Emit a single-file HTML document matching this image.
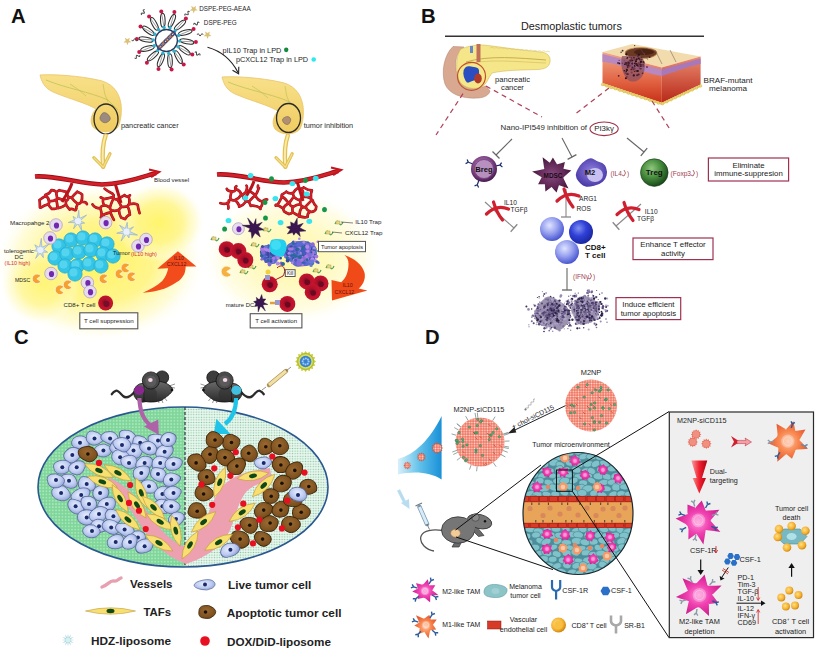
<!DOCTYPE html>
<html><head><meta charset="utf-8"><style>
html,body{margin:0;padding:0;background:#fff;}
body{width:819px;height:652px;overflow:hidden;}
svg{display:block;font-family:"Liberation Sans", sans-serif;}
</style></head><body>
<svg width="819" height="652" viewBox="0 0 819 652">
<defs>

<radialGradient id="glowA" cx="0.5" cy="0.5" r="0.5">
 <stop offset="0" stop-color="#fff460"/><stop offset="0.5" stop-color="#fff480" stop-opacity="0.9"/>
 <stop offset="0.8" stop-color="#fffac0" stop-opacity="0.6"/><stop offset="1" stop-color="#ffffff" stop-opacity="0"/>
</radialGradient>
<radialGradient id="glowB" cx="0.5" cy="0.5" r="0.5">
 <stop offset="0" stop-color="#fff7a0"/><stop offset="0.5" stop-color="#fffac8"/>
 <stop offset="0.8" stop-color="#fffde8"/><stop offset="1" stop-color="#ffffff" stop-opacity="0"/>
</radialGradient>
<radialGradient id="tcellR" cx="0.45" cy="0.45" r="0.6">
 <stop offset="0" stop-color="#7a0a20"/><stop offset="0.35" stop-color="#b0102a"/><stop offset="0.8" stop-color="#c8142e"/><stop offset="1" stop-color="#8a0a20"/>
</radialGradient>
<linearGradient id="orArrow" x1="0" y1="1" x2="1" y2="0">
 <stop offset="0" stop-color="#f86a20"/><stop offset="1" stop-color="#f03a10"/>
</linearGradient>
<linearGradient id="panc" x1="0" y1="0" x2="0" y2="1">
 <stop offset="0" stop-color="#f8e08a"/><stop offset="1" stop-color="#f0cc60"/>
</linearGradient>

<radialGradient id="bregG" cx="0.45" cy="0.4" r="0.6">
 <stop offset="0" stop-color="#c8a0c8"/><stop offset="0.55" stop-color="#8a5090"/><stop offset="1" stop-color="#4a1a50"/>
</radialGradient>
<radialGradient id="tregG" cx="0.4" cy="0.35" r="0.65">
 <stop offset="0" stop-color="#90c880"/><stop offset="0.5" stop-color="#4a9040"/><stop offset="1" stop-color="#1a4a1a"/>
</radialGradient>
<radialGradient id="mdscG" cx="0.5" cy="0.5" r="0.5">
 <stop offset="0" stop-color="#8a4a80"/><stop offset="1" stop-color="#4a1840"/>
</radialGradient>
<radialGradient id="m2G" cx="0.5" cy="0.45" r="0.55">
 <stop offset="0" stop-color="#9080e0"/><stop offset="1" stop-color="#4a3aa8"/>
</radialGradient>
<radialGradient id="cd8a" cx="0.4" cy="0.35" r="0.65">
 <stop offset="0" stop-color="#e0e4ff"/><stop offset="0.5" stop-color="#9aa4f0"/><stop offset="1" stop-color="#4a58d0"/>
</radialGradient>
<radialGradient id="cd8b" cx="0.4" cy="0.35" r="0.65">
 <stop offset="0" stop-color="#8090f0"/><stop offset="0.5" stop-color="#3040d8"/><stop offset="1" stop-color="#1a28a0"/>
</radialGradient>
<linearGradient id="dermis" x1="0" y1="0" x2="0" y2="1">
 <stop offset="0" stop-color="#f0a888"/><stop offset="0.6" stop-color="#e06040"/><stop offset="1" stop-color="#c83018"/>
</linearGradient>
<linearGradient id="dermis2" x1="0" y1="0" x2="0" y2="1">
 <stop offset="0" stop-color="#e88a70"/><stop offset="1" stop-color="#b82818"/>
</linearGradient>

<pattern id="pgreen" width="3.2" height="3.2" patternUnits="userSpaceOnUse">
 <rect width="3.2" height="3.2" fill="#7fd69a"/><circle cx="1.6" cy="1.6" r="0.9" fill="#b0eac0"/>
</pattern>
<pattern id="ppale" width="2.6" height="2.6" patternUnits="userSpaceOnUse">
 <rect width="2.6" height="2.6" fill="#e8f6ee"/><circle cx="1.3" cy="1.3" r="0.7" fill="#88c8a0"/>
</pattern>
<clipPath id="ellC"><ellipse cx="183" cy="487" rx="145" ry="80"/></clipPath>
<radialGradient id="bluecell" cx="0.45" cy="0.4" r="0.65">
 <stop offset="0" stop-color="#e8eeff"/><stop offset="0.6" stop-color="#bccaf0"/><stop offset="1" stop-color="#8c9cd4"/>
</radialGradient>
<radialGradient id="browncell" cx="0.45" cy="0.4" r="0.65">
 <stop offset="0" stop-color="#9a6a30"/><stop offset="1" stop-color="#74481a"/>
</radialGradient>
<linearGradient id="mouseG" x1="0" y1="0" x2="0" y2="1">
 <stop offset="0" stop-color="#6a6a6a"/><stop offset="1" stop-color="#2a2a2a"/>
</linearGradient>

<pattern id="npdots" width="2.6" height="2.6" patternUnits="userSpaceOnUse">
 <rect width="2.6" height="2.6" fill="#f07260"/><circle cx="1.3" cy="1.3" r="0.85" fill="#fde0d4"/>
</pattern>
<linearGradient id="funnel" x1="0" y1="0" x2="1" y2="0">
 <stop offset="0" stop-color="#d8f0fa"/><stop offset="0.5" stop-color="#60c0ea"/><stop offset="1" stop-color="#1890d8"/>
</linearGradient>
<pattern id="tissue" width="9" height="7" patternUnits="userSpaceOnUse">
 <rect width="9" height="7" fill="#5a9aa6"/>
 <ellipse cx="4.5" cy="3.5" rx="4" ry="2.8" fill="#7cbcc6"/>
</pattern>
<pattern id="tissue2" width="9" height="7" patternUnits="userSpaceOnUse" patternTransform="translate(4.5,3.5)">
 <ellipse cx="4.5" cy="3.5" rx="3" ry="2" fill="#84c4cc"/>
</pattern>
<radialGradient id="pinkTam" cx="0.5" cy="0.5" r="0.5">
 <stop offset="0" stop-color="#ff90d8"/><stop offset="0.5" stop-color="#f040b0"/><stop offset="1" stop-color="#d02090"/>
</radialGradient>
<radialGradient id="orTam" cx="0.5" cy="0.5" r="0.5">
 <stop offset="0" stop-color="#ffc0a0"/><stop offset="0.5" stop-color="#f88850"/><stop offset="1" stop-color="#e85a30"/>
</radialGradient>
<radialGradient id="cd8o" cx="0.4" cy="0.4" r="0.6">
 <stop offset="0" stop-color="#ffe080"/><stop offset="0.7" stop-color="#f4b030"/><stop offset="1" stop-color="#d08810"/>
</radialGradient>
<linearGradient id="redArr" x1="0" y1="0" x2="1" y2="0">
 <stop offset="0" stop-color="#f8a0a0"/><stop offset="0.5" stop-color="#f02030"/><stop offset="1" stop-color="#b00010"/>
</linearGradient>
<clipPath id="circD"><ellipse cx="578" cy="513.5" rx="55" ry="61"/></clipPath>

</defs>
<rect width="819" height="652" fill="#fff"/>
<text x="11.0" y="23.3" font-size="20.3" fill="#111" font-weight="bold" text-anchor="start" >A</text>
<ellipse cx="100.0" cy="262.0" rx="106.0" ry="80.0" fill="url(#glowA)" stroke="none" stroke-width="1" />
<ellipse cx="160.0" cy="222.0" rx="45.0" ry="40.0" fill="url(#glowA)" stroke="none" stroke-width="1" opacity="0.9"/>
<ellipse cx="40.0" cy="285.0" rx="40.0" ry="40.0" fill="url(#glowA)" stroke="none" stroke-width="1" opacity="0.7"/>
<ellipse cx="292.0" cy="258.0" rx="90.0" ry="68.0" fill="url(#glowB)" stroke="none" stroke-width="1" />
<ellipse cx="162.8" cy="20.3" rx="7" ry="2.3" fill="none" stroke="#2e2e2e" stroke-width="1.1" transform="rotate(-92.0 162.8 20.3)"/>
<line x1="164.1" y1="27.2" x2="161.5" y2="12.9" stroke="#3a3a3a" stroke-width="0.5" />
<circle cx="164.1" cy="27.5" r="1.7" fill="#30b0cc" stroke="none" stroke-width="1" />
<circle cx="161.3" cy="11.4" r="2.0" fill="#c81848" stroke="none" stroke-width="1" />
<ellipse cx="171.9" cy="20.8" rx="7" ry="2.3" fill="none" stroke="#2e2e2e" stroke-width="1.1" transform="rotate(-66.3 171.9 20.8)"/>
<line x1="170.1" y1="27.5" x2="174.0" y2="13.5" stroke="#3a3a3a" stroke-width="0.5" />
<circle cx="170.0" cy="27.8" r="1.7" fill="#30b0cc" stroke="none" stroke-width="1" />
<circle cx="174.4" cy="12.1" r="2.0" fill="#c81848" stroke="none" stroke-width="1" />
<ellipse cx="180.0" cy="25.1" rx="7" ry="2.3" fill="none" stroke="#2e2e2e" stroke-width="1.1" transform="rotate(-40.6 180.0 25.1)"/>
<line x1="175.3" y1="30.4" x2="184.9" y2="19.5" stroke="#3a3a3a" stroke-width="0.5" />
<circle cx="175.1" cy="30.6" r="1.7" fill="#30b0cc" stroke="none" stroke-width="1" />
<circle cx="185.9" cy="18.4" r="2.0" fill="#c81848" stroke="none" stroke-width="1" />
<ellipse cx="185.3" cy="32.5" rx="7" ry="2.3" fill="none" stroke="#2e2e2e" stroke-width="1.1" transform="rotate(-14.9 185.3 32.5)"/>
<line x1="178.8" y1="35.2" x2="192.2" y2="29.6" stroke="#3a3a3a" stroke-width="0.5" />
<circle cx="178.6" cy="35.4" r="1.7" fill="#30b0cc" stroke="none" stroke-width="1" />
<circle cx="193.6" cy="29.0" r="2.0" fill="#c81848" stroke="none" stroke-width="1" />
<ellipse cx="186.9" cy="41.5" rx="7" ry="2.3" fill="none" stroke="#2e2e2e" stroke-width="1.1" transform="rotate(10.8 186.9 41.5)"/>
<line x1="179.9" y1="41.2" x2="194.4" y2="41.9" stroke="#3a3a3a" stroke-width="0.5" />
<circle cx="179.6" cy="41.1" r="1.7" fill="#30b0cc" stroke="none" stroke-width="1" />
<circle cx="195.9" cy="41.9" r="2.0" fill="#c81848" stroke="none" stroke-width="1" />
<ellipse cx="184.4" cy="50.3" rx="7" ry="2.3" fill="none" stroke="#2e2e2e" stroke-width="1.1" transform="rotate(36.5 184.4 50.3)"/>
<line x1="178.3" y1="46.9" x2="191.0" y2="53.9" stroke="#3a3a3a" stroke-width="0.5" />
<circle cx="178.0" cy="46.8" r="1.7" fill="#30b0cc" stroke="none" stroke-width="1" />
<circle cx="192.3" cy="54.6" r="2.0" fill="#c81848" stroke="none" stroke-width="1" />
<ellipse cx="178.4" cy="57.1" rx="7" ry="2.3" fill="none" stroke="#2e2e2e" stroke-width="1.1" transform="rotate(62.2 178.4 57.1)"/>
<line x1="174.3" y1="51.4" x2="182.8" y2="63.2" stroke="#3a3a3a" stroke-width="0.5" />
<circle cx="174.1" cy="51.2" r="1.7" fill="#30b0cc" stroke="none" stroke-width="1" />
<circle cx="183.7" cy="64.4" r="2.0" fill="#c81848" stroke="none" stroke-width="1" />
<ellipse cx="170.0" cy="60.7" rx="7" ry="2.3" fill="none" stroke="#2e2e2e" stroke-width="1.1" transform="rotate(87.9 170.0 60.7)"/>
<line x1="168.8" y1="53.8" x2="171.3" y2="68.1" stroke="#3a3a3a" stroke-width="0.5" />
<circle cx="168.7" cy="53.5" r="1.7" fill="#30b0cc" stroke="none" stroke-width="1" />
<circle cx="171.6" cy="69.5" r="2.0" fill="#c81848" stroke="none" stroke-width="1" />
<ellipse cx="160.9" cy="60.2" rx="7" ry="2.3" fill="none" stroke="#2e2e2e" stroke-width="1.1" transform="rotate(113.6 160.9 60.2)"/>
<line x1="162.8" y1="53.5" x2="158.9" y2="67.5" stroke="#3a3a3a" stroke-width="0.5" />
<circle cx="162.9" cy="53.2" r="1.7" fill="#30b0cc" stroke="none" stroke-width="1" />
<circle cx="158.5" cy="68.9" r="2.0" fill="#c81848" stroke="none" stroke-width="1" />
<ellipse cx="152.9" cy="55.9" rx="7" ry="2.3" fill="none" stroke="#2e2e2e" stroke-width="1.1" transform="rotate(139.3 152.9 55.9)"/>
<line x1="157.5" y1="50.6" x2="147.9" y2="61.5" stroke="#3a3a3a" stroke-width="0.5" />
<circle cx="157.7" cy="50.4" r="1.7" fill="#30b0cc" stroke="none" stroke-width="1" />
<circle cx="146.9" cy="62.7" r="2.0" fill="#c81848" stroke="none" stroke-width="1" />
<ellipse cx="147.5" cy="48.5" rx="7" ry="2.3" fill="none" stroke="#2e2e2e" stroke-width="1.1" transform="rotate(165.0 147.5 48.5)"/>
<line x1="154.0" y1="45.8" x2="140.6" y2="51.4" stroke="#3a3a3a" stroke-width="0.5" />
<circle cx="154.2" cy="45.7" r="1.7" fill="#30b0cc" stroke="none" stroke-width="1" />
<circle cx="139.2" cy="52.0" r="2.0" fill="#c81848" stroke="none" stroke-width="1" />
<ellipse cx="145.9" cy="39.5" rx="7" ry="2.3" fill="none" stroke="#2e2e2e" stroke-width="1.1" transform="rotate(190.7 145.9 39.5)"/>
<line x1="152.9" y1="39.9" x2="138.4" y2="39.2" stroke="#3a3a3a" stroke-width="0.5" />
<circle cx="153.2" cy="39.9" r="1.7" fill="#30b0cc" stroke="none" stroke-width="1" />
<circle cx="136.9" cy="39.1" r="2.0" fill="#c81848" stroke="none" stroke-width="1" />
<ellipse cx="148.4" cy="30.7" rx="7" ry="2.3" fill="none" stroke="#2e2e2e" stroke-width="1.1" transform="rotate(216.4 148.4 30.7)"/>
<line x1="154.5" y1="34.1" x2="141.8" y2="27.2" stroke="#3a3a3a" stroke-width="0.5" />
<circle cx="154.8" cy="34.2" r="1.7" fill="#30b0cc" stroke="none" stroke-width="1" />
<circle cx="140.5" cy="26.5" r="2.0" fill="#c81848" stroke="none" stroke-width="1" />
<ellipse cx="154.4" cy="23.9" rx="7" ry="2.3" fill="none" stroke="#2e2e2e" stroke-width="1.1" transform="rotate(242.1 154.4 23.9)"/>
<line x1="158.5" y1="29.6" x2="150.0" y2="17.8" stroke="#3a3a3a" stroke-width="0.5" />
<circle cx="158.7" cy="29.8" r="1.7" fill="#30b0cc" stroke="none" stroke-width="1" />
<circle cx="149.1" cy="16.6" r="2.0" fill="#c81848" stroke="none" stroke-width="1" />
<circle cx="166.4" cy="40.5" r="11.0" fill="#fff" stroke="#2a3a5a" stroke-width="1.3" />
<ellipse cx="159.4" cy="47.5" rx="2.2" ry="1.6" fill="none" stroke="#3a4a8a" stroke-width="1.1" transform="rotate(-45 159.4 47.5)"/>
<ellipse cx="161.2" cy="45.8" rx="2.2" ry="1.6" fill="none" stroke="#9a5a3a" stroke-width="1.1" transform="rotate(-45 161.2 45.8)"/>
<ellipse cx="162.9" cy="44.0" rx="2.2" ry="1.6" fill="none" stroke="#3a4a8a" stroke-width="1.1" transform="rotate(-45 162.9 44.0)"/>
<ellipse cx="164.7" cy="42.2" rx="2.2" ry="1.6" fill="none" stroke="#9a5a3a" stroke-width="1.1" transform="rotate(-45 164.7 42.2)"/>
<ellipse cx="166.4" cy="40.5" rx="2.2" ry="1.6" fill="none" stroke="#3a4a8a" stroke-width="1.1" transform="rotate(-45 166.4 40.5)"/>
<ellipse cx="168.2" cy="38.8" rx="2.2" ry="1.6" fill="none" stroke="#9a5a3a" stroke-width="1.1" transform="rotate(-45 168.2 38.8)"/>
<ellipse cx="169.9" cy="37.0" rx="2.2" ry="1.6" fill="none" stroke="#3a4a8a" stroke-width="1.1" transform="rotate(-45 169.9 37.0)"/>
<ellipse cx="171.7" cy="35.2" rx="2.2" ry="1.6" fill="none" stroke="#9a5a3a" stroke-width="1.1" transform="rotate(-45 171.7 35.2)"/>
<ellipse cx="173.4" cy="33.5" rx="2.2" ry="1.6" fill="none" stroke="#3a4a8a" stroke-width="1.1" transform="rotate(-45 173.4 33.5)"/>
<path d="M131.4,42.3 L128.5,42.5 L127.5,45.3 L126.4,42.6 L123.4,42.5 L125.7,40.6 L124.9,37.7 L127.4,39.3 L129.8,37.7 L129.1,40.5 Z" fill="#dcc078" stroke="none" stroke-width="1" />
<path d="M197.7,10.4 L194.8,10.6 L193.8,13.4 L192.7,10.7 L189.7,10.6 L192.0,8.7 L191.2,5.8 L193.7,7.4 L196.1,5.8 L195.4,8.6 Z" fill="#dcc078" stroke="none" stroke-width="1" />
<path d="M211.5,36.0 L208.6,36.2 L207.6,39.0 L206.5,36.3 L203.5,36.2 L205.8,34.3 L205.0,31.4 L207.5,33.0 L209.9,31.4 L209.2,34.2 Z" fill="#dcc078" stroke="none" stroke-width="1" />
<g transform="translate(143.3,12.3) rotate(-60)"><path d="M-3,0 q1,-2.5 2,0 q1,2.5 2,0 q1,-2.5 2,0" fill="none" stroke="#444" stroke-width="1"/></g>
<g transform="translate(187.3,13.7) rotate(-40)"><path d="M-3,0 q1,-2.5 2,0 q1,2.5 2,0 q1,-2.5 2,0" fill="none" stroke="#444" stroke-width="1"/></g>
<g transform="translate(196.5,23.8) rotate(-20)"><path d="M-3,0 q1,-2.5 2,0 q1,2.5 2,0 q1,-2.5 2,0" fill="none" stroke="#444" stroke-width="1"/></g>
<g transform="translate(200.1,34.8) rotate(0)"><path d="M-3,0 q1,-2.5 2,0 q1,2.5 2,0 q1,-2.5 2,0" fill="none" stroke="#444" stroke-width="1"/></g>
<g transform="translate(134.7,39.9) rotate(180)"><path d="M-3,0 q1,-2.5 2,0 q1,2.5 2,0 q1,-2.5 2,0" fill="none" stroke="#444" stroke-width="1"/></g>
<g transform="translate(137.2,56.4) rotate(150)"><path d="M-3,0 q1,-2.5 2,0 q1,2.5 2,0 q1,-2.5 2,0" fill="none" stroke="#444" stroke-width="1"/></g>
<g transform="translate(197.4,54) rotate(30)"><path d="M-3,0 q1,-2.5 2,0 q1,2.5 2,0 q1,-2.5 2,0" fill="none" stroke="#444" stroke-width="1"/></g>
<text x="199.2" y="11.0" font-size="6.3" fill="#1e1e1e" font-weight="normal" text-anchor="start" >DSPE-PEG-AEAA</text>
<text x="203.8" y="24.7" font-size="6.4" fill="#1e1e1e" font-weight="normal" text-anchor="start" >DSPE-PEG</text>
<path d="M207.5,47.3 Q228,53 238,72.5" fill="none" stroke="#222" stroke-width="1.1" />
<path d="M232.5,70.2 L238.6,73.8 L238.8,66.8" fill="none" stroke="#222" stroke-width="1.1" />
<text x="222.5" y="53.1" font-size="7.3" fill="#1e1e1e" font-weight="normal" text-anchor="start" >pIL10 Trap in LPD</text>
<ellipse cx="286.2" cy="49.8" rx="2.2" ry="2.4" fill="#138a3c" stroke="none" stroke-width="1" />
<text x="235.9" y="61.9" font-size="7.3" fill="#1e1e1e" font-weight="normal" text-anchor="start" >pCXCL12 Trap in LPD</text>
<circle cx="313.7" cy="59.5" r="2.3" fill="#2ee8f0" stroke="none" stroke-width="1" />
<path d="M40,75 C55,74 80,76 98,80 C110,82 119,90 121,104 C122,112 121,121 118,127 C113,133 100,134 93,127 C89,121 92,113 96,109 C86,103 70,99 58,94 C50,91 43,88 40,75 Z" fill="url(#panc)" stroke="#e8c468" stroke-width="0.8" />
<path d="M46,80 C65,88 90,92 108,100 L118,110" fill="none" stroke="#b8c050" stroke-width="0.7" />
<path d="M70,84 Q80,90 86,96" fill="none" stroke="#b8c050" stroke-width="0.6" />
<path d="M103,84 Q104,95 108,102" fill="none" stroke="#b8c050" stroke-width="0.6" />
<path d="M109.8,116.7 Q110.9,118.8 109.8,120.2 Q108.7,121.5 106.8,122.4 Q105.0,123.3 103.0,122.3 Q100.9,121.2 100.2,119.6 Q99.4,118.1 100.6,115.8 Q101.8,113.5 103.1,112.8 Q104.5,112.1 106.6,113.3 Q108.8,114.6 109.8,116.7 Z" fill="#9a8a80" stroke="#6a5a50" stroke-width="0.5" />
<ellipse cx="106.0" cy="119.0" rx="12.0" ry="15.0" fill="none" stroke="#2a2a2a" stroke-width="1.3" />
<text x="121.0" y="127.7" font-size="7.3" fill="#2a2a2a" font-weight="normal" text-anchor="start" >pancreatic cancer</text>
<path d="M222,77 C237,76 262,78 280,82 C292,84 301,92 303,106 C304,114 303,123 300,129 C295,135 282,136 275,129 C271,123 274,115 278,111 C268,105 252,101 240,96 C232,93 225,90 222,77 Z" fill="url(#panc)" stroke="#e8c468" stroke-width="0.8" />
<path d="M228,82 C247,90 272,94 290,102 L300,112" fill="none" stroke="#b8c050" stroke-width="0.7" />
<path d="M252,86 Q262,92 268,98" fill="none" stroke="#b8c050" stroke-width="0.6" />
<path d="M285,86 Q286,97 290,104" fill="none" stroke="#b8c050" stroke-width="0.6" />
<path d="M290.6,118.7 Q291.1,119.9 290.3,121.7 Q289.5,123.5 288.5,124.2 Q287.4,124.9 285.7,124.2 Q284.0,123.6 283.0,121.8 Q281.9,120.1 282.8,118.8 Q283.7,117.6 285.5,116.9 Q287.4,116.2 288.7,116.8 Q290.0,117.4 290.6,118.7 Z" fill="#b09070" stroke="#6a5a50" stroke-width="0.5" />
<ellipse cx="288.5" cy="118.0" rx="12.0" ry="14.5" fill="none" stroke="#2a2a2a" stroke-width="1.3" />
<text x="303.7" y="127.7" font-size="7.3" fill="#2a2a2a" font-weight="normal" text-anchor="start" >tumor inhibition</text>
<path d="M105.6,135.5 C102.3,144.5 101.89999999999999,153.2 103.2,166.7" fill="none" stroke="#e4c050" stroke-width="4.4" stroke-linecap="round"/>
<path d="M105.6,135.5 C102.3,144.5 101.89999999999999,153.2 103.2,166.7" fill="none" stroke="#f8eaa8" stroke-width="2" stroke-linecap="round"/>
<path d="M93.8,157.7 L103.2,167.2 L110.0,153.7" fill="none" stroke="#e4c050" stroke-width="3.2" stroke-linejoin="round" stroke-linecap="round"/>
<path d="M93.8,157.7 L103.2,167.2 L110.0,153.7" fill="none" stroke="#f4e090" stroke-width="1.2" stroke-linejoin="round"/>
<path d="M287.8,135.5 C284.5,144.5 284.1,153.2 285.4,166.7" fill="none" stroke="#e4c050" stroke-width="4.4" stroke-linecap="round"/>
<path d="M287.8,135.5 C284.5,144.5 284.1,153.2 285.4,166.7" fill="none" stroke="#f8eaa8" stroke-width="2" stroke-linecap="round"/>
<path d="M276.0,157.7 L285.4,167.2 L292.2,153.7" fill="none" stroke="#e4c050" stroke-width="3.2" stroke-linejoin="round" stroke-linecap="round"/>
<path d="M276.0,157.7 L285.4,167.2 L292.2,153.7" fill="none" stroke="#f4e090" stroke-width="1.2" stroke-linejoin="round"/>
<path d="M69.7,209.6 Q70.7,208.0 74.5,209.9 M76.4,208.5 Q75.8,211.0 74.5,209.9 M69.7,209.6 Q66.7,206.0 66.2,204.7 M66.2,204.7 Q61.5,207.8 58.2,208.1 M39.5,200.0 Q42.6,197.8 45.3,196.1 M45.3,196.1 Q45.7,196.8 45.4,194.9 M51.4,190.1 Q49.4,194.1 45.4,194.9 M39.5,200.0 Q39.9,201.5 39.9,206.4 M66.2,204.7 Q65.2,203.3 66.6,200.3 M57.5,207.7 Q57.7,206.2 58.2,208.1 M57.5,207.7 Q57.3,202.1 55.9,199.6 M55.9,199.6 Q57.5,200.6 57.1,197.9 M66.6,200.3 Q61.0,199.4 57.1,197.9 M48.8,201.1 Q48.8,197.2 45.3,196.1 M48.8,201.1 Q53.7,201.6 55.9,199.6 M51.4,190.1 Q54.0,189.7 56.4,192.1 M57.1,197.9 Q56.1,193.6 56.4,192.1 M59.1,190.3 Q57.2,191.8 56.4,192.1 M51.7,208.9 Q50.1,207.2 48.0,204.3 M48.0,204.3 Q44.4,204.9 41.6,207.2 M57.5,207.7 Q56.5,209.0 51.7,208.9 M39.9,206.4 Q39.5,208.5 41.6,207.2 M48.8,201.1 Q49.6,203.4 48.0,204.3 M82.1,194.5 Q82.4,198.4 81.3,202.0 M81.3,202.0 Q86.0,201.4 86.9,204.1 M77.8,203.8 Q75.6,208.1 76.4,208.5 M77.8,203.8 Q79.6,203.9 81.3,202.0 M71.5,197.8 Q68.3,196.5 68.7,198.1 M71.5,197.8 Q73.9,194.8 77.3,191.7 M68.7,198.1 Q66.5,193.1 65.9,191.6 M77.8,203.8 Q74.3,201.5 71.5,197.8 M66.6,200.3 Q67.9,200.1 68.7,198.1 M82.1,194.5 Q81.2,193.2 77.3,191.7 M59.1,190.3 Q64.2,191.4 65.9,191.6 " fill="none" stroke="#9a0e16" stroke-width="2.7" stroke-linecap="round"/>
<path d="M69.7,209.6 Q70.7,208.0 74.5,209.9 M76.4,208.5 Q75.8,211.0 74.5,209.9 M69.7,209.6 Q66.7,206.0 66.2,204.7 M66.2,204.7 Q61.5,207.8 58.2,208.1 M39.5,200.0 Q42.6,197.8 45.3,196.1 M45.3,196.1 Q45.7,196.8 45.4,194.9 M51.4,190.1 Q49.4,194.1 45.4,194.9 M39.5,200.0 Q39.9,201.5 39.9,206.4 M66.2,204.7 Q65.2,203.3 66.6,200.3 M57.5,207.7 Q57.7,206.2 58.2,208.1 M57.5,207.7 Q57.3,202.1 55.9,199.6 M55.9,199.6 Q57.5,200.6 57.1,197.9 M66.6,200.3 Q61.0,199.4 57.1,197.9 M48.8,201.1 Q48.8,197.2 45.3,196.1 M48.8,201.1 Q53.7,201.6 55.9,199.6 M51.4,190.1 Q54.0,189.7 56.4,192.1 M57.1,197.9 Q56.1,193.6 56.4,192.1 M59.1,190.3 Q57.2,191.8 56.4,192.1 M51.7,208.9 Q50.1,207.2 48.0,204.3 M48.0,204.3 Q44.4,204.9 41.6,207.2 M57.5,207.7 Q56.5,209.0 51.7,208.9 M39.9,206.4 Q39.5,208.5 41.6,207.2 M48.8,201.1 Q49.6,203.4 48.0,204.3 M82.1,194.5 Q82.4,198.4 81.3,202.0 M81.3,202.0 Q86.0,201.4 86.9,204.1 M77.8,203.8 Q75.6,208.1 76.4,208.5 M77.8,203.8 Q79.6,203.9 81.3,202.0 M71.5,197.8 Q68.3,196.5 68.7,198.1 M71.5,197.8 Q73.9,194.8 77.3,191.7 M68.7,198.1 Q66.5,193.1 65.9,191.6 M77.8,203.8 Q74.3,201.5 71.5,197.8 M66.6,200.3 Q67.9,200.1 68.7,198.1 M82.1,194.5 Q81.2,193.2 77.3,191.7 M59.1,190.3 Q64.2,191.4 65.9,191.6 " fill="none" stroke="#d42028" stroke-width="1.7000000000000002" stroke-linecap="round"/>
<path d="M112.6,193.8 Q108.0,191.4 104.6,188.7 M110.0,207.7 Q105.4,204.9 104.1,205.5 M110.0,207.7 Q110.5,204.7 113.7,198.0 M113.7,198.0 Q113.0,196.0 112.9,197.1 M112.9,197.1 Q110.0,198.2 103.4,199.2 M104.1,205.5 Q102.1,200.8 103.4,199.2 M113.7,198.0 Q114.1,199.7 117.2,199.2 M112.9,197.1 Q114.7,195.5 112.6,193.8 M124.6,195.2 Q119.6,198.3 117.2,199.2 M124.6,195.2 Q126.5,197.2 128.6,196.3 M117.2,199.2 Q120.0,203.4 121.3,206.6 M121.3,206.6 Q124.5,207.2 127.7,206.3 M127.7,206.3 Q128.5,203.9 129.3,204.3 M129.3,204.3 Q130.1,200.3 128.6,196.3 M129.5,195.4 Q130.8,194.8 128.6,196.3 M93.1,205.2 Q91.9,203.6 93.1,205.2 M101.5,216.2 Q101.3,217.1 100.8,217.4 M101.5,216.2 Q102.0,212.6 100.3,208.3 M100.3,208.3 Q95.2,208.2 93.1,205.2 M110.0,207.7 Q108.9,207.1 111.2,210.3 M101.5,216.2 Q104.3,213.8 110.4,212.4 M100.3,208.3 Q100.7,205.9 104.1,205.5 M111.2,210.3 Q111.0,212.5 110.4,212.4 M121.3,206.6 Q120.5,208.3 118.9,209.5 M111.2,210.3 Q116.2,211.6 118.9,209.5 M110.4,212.4 Q112.3,217.2 113.9,219.9 M103.4,199.2 Q102.8,198.1 100.7,197.4 M129.9,214.7 Q129.4,209.4 127.7,206.3 M129.3,204.3 Q135.0,202.6 137.7,204.8 M139.6,213.2 Q138.0,208.2 137.7,204.8 M121.1,217.6 Q125.0,219.1 125.1,219.1 M118.9,209.5 Q119.1,214.4 121.1,217.6 M129.9,214.7 Q127.0,215.3 125.1,219.1 " fill="none" stroke="#9a0e16" stroke-width="2.7" stroke-linecap="round"/>
<path d="M112.6,193.8 Q108.0,191.4 104.6,188.7 M110.0,207.7 Q105.4,204.9 104.1,205.5 M110.0,207.7 Q110.5,204.7 113.7,198.0 M113.7,198.0 Q113.0,196.0 112.9,197.1 M112.9,197.1 Q110.0,198.2 103.4,199.2 M104.1,205.5 Q102.1,200.8 103.4,199.2 M113.7,198.0 Q114.1,199.7 117.2,199.2 M112.9,197.1 Q114.7,195.5 112.6,193.8 M124.6,195.2 Q119.6,198.3 117.2,199.2 M124.6,195.2 Q126.5,197.2 128.6,196.3 M117.2,199.2 Q120.0,203.4 121.3,206.6 M121.3,206.6 Q124.5,207.2 127.7,206.3 M127.7,206.3 Q128.5,203.9 129.3,204.3 M129.3,204.3 Q130.1,200.3 128.6,196.3 M129.5,195.4 Q130.8,194.8 128.6,196.3 M93.1,205.2 Q91.9,203.6 93.1,205.2 M101.5,216.2 Q101.3,217.1 100.8,217.4 M101.5,216.2 Q102.0,212.6 100.3,208.3 M100.3,208.3 Q95.2,208.2 93.1,205.2 M110.0,207.7 Q108.9,207.1 111.2,210.3 M101.5,216.2 Q104.3,213.8 110.4,212.4 M100.3,208.3 Q100.7,205.9 104.1,205.5 M111.2,210.3 Q111.0,212.5 110.4,212.4 M121.3,206.6 Q120.5,208.3 118.9,209.5 M111.2,210.3 Q116.2,211.6 118.9,209.5 M110.4,212.4 Q112.3,217.2 113.9,219.9 M103.4,199.2 Q102.8,198.1 100.7,197.4 M129.9,214.7 Q129.4,209.4 127.7,206.3 M129.3,204.3 Q135.0,202.6 137.7,204.8 M139.6,213.2 Q138.0,208.2 137.7,204.8 M121.1,217.6 Q125.0,219.1 125.1,219.1 M118.9,209.5 Q119.1,214.4 121.1,217.6 M129.9,214.7 Q127.0,215.3 125.1,219.1 " fill="none" stroke="#d42028" stroke-width="1.7000000000000002" stroke-linecap="round"/>
<path d="M72,183 C70,190 66,195 62,202" fill="none" stroke="#b8141c" stroke-width="3" />
<path d="M115.5,184.5 C117,190 119,196 121,203" fill="none" stroke="#b8141c" stroke-width="3" />
<path d="M35,176.5 C55,175 80,184 102,184.5 C125,184 145,176 156,173" fill="none" stroke="#9a0e16" stroke-width="4.6" />
<path d="M35,176.5 C55,175 80,184 102,184.5 C125,184 145,176 156,173" fill="none" stroke="#d42028" stroke-width="2.8" />
<path d="M149,169.5 L159,172 L151,177" fill="none" stroke="#c4161e" stroke-width="2.2" />
<text x="154.0" y="182.0" font-size="6.2" fill="#1e1e1e" font-weight="normal" text-anchor="start" >Blood vessel</text>
<circle cx="59.0" cy="246.0" r="7.2" fill="#33c4e6" stroke="#1ea6cc" stroke-width="0.6" />
<circle cx="57.5" cy="244.5" r="4.0" fill="#55d4f0" stroke="none" stroke-width="1" />
<circle cx="71.0" cy="240.0" r="7.2" fill="#33c4e6" stroke="#1ea6cc" stroke-width="0.6" />
<circle cx="69.5" cy="238.5" r="4.0" fill="#55d4f0" stroke="none" stroke-width="1" />
<circle cx="83.0" cy="238.0" r="7.2" fill="#33c4e6" stroke="#1ea6cc" stroke-width="0.6" />
<circle cx="81.5" cy="236.5" r="4.0" fill="#55d4f0" stroke="none" stroke-width="1" />
<circle cx="95.0" cy="240.0" r="7.2" fill="#33c4e6" stroke="#1ea6cc" stroke-width="0.6" />
<circle cx="93.5" cy="238.5" r="4.0" fill="#55d4f0" stroke="none" stroke-width="1" />
<circle cx="107.0" cy="244.0" r="7.2" fill="#33c4e6" stroke="#1ea6cc" stroke-width="0.6" />
<circle cx="105.5" cy="242.5" r="4.0" fill="#55d4f0" stroke="none" stroke-width="1" />
<circle cx="55.0" cy="258.0" r="7.2" fill="#33c4e6" stroke="#1ea6cc" stroke-width="0.6" />
<circle cx="53.5" cy="256.5" r="4.0" fill="#55d4f0" stroke="none" stroke-width="1" />
<circle cx="67.0" cy="254.0" r="7.2" fill="#33c4e6" stroke="#1ea6cc" stroke-width="0.6" />
<circle cx="65.5" cy="252.5" r="4.0" fill="#55d4f0" stroke="none" stroke-width="1" />
<circle cx="79.0" cy="252.0" r="7.2" fill="#33c4e6" stroke="#1ea6cc" stroke-width="0.6" />
<circle cx="77.5" cy="250.5" r="4.0" fill="#55d4f0" stroke="none" stroke-width="1" />
<circle cx="91.0" cy="250.0" r="7.2" fill="#33c4e6" stroke="#1ea6cc" stroke-width="0.6" />
<circle cx="89.5" cy="248.5" r="4.0" fill="#55d4f0" stroke="none" stroke-width="1" />
<circle cx="103.0" cy="254.0" r="7.2" fill="#33c4e6" stroke="#1ea6cc" stroke-width="0.6" />
<circle cx="101.5" cy="252.5" r="4.0" fill="#55d4f0" stroke="none" stroke-width="1" />
<circle cx="113.0" cy="256.0" r="7.2" fill="#33c4e6" stroke="#1ea6cc" stroke-width="0.6" />
<circle cx="111.5" cy="254.5" r="4.0" fill="#55d4f0" stroke="none" stroke-width="1" />
<circle cx="65.0" cy="266.0" r="7.2" fill="#33c4e6" stroke="#1ea6cc" stroke-width="0.6" />
<circle cx="63.5" cy="264.5" r="4.0" fill="#55d4f0" stroke="none" stroke-width="1" />
<circle cx="77.0" cy="266.0" r="7.2" fill="#33c4e6" stroke="#1ea6cc" stroke-width="0.6" />
<circle cx="75.5" cy="264.5" r="4.0" fill="#55d4f0" stroke="none" stroke-width="1" />
<circle cx="89.0" cy="264.0" r="7.2" fill="#33c4e6" stroke="#1ea6cc" stroke-width="0.6" />
<circle cx="87.5" cy="262.5" r="4.0" fill="#55d4f0" stroke="none" stroke-width="1" />
<circle cx="101.0" cy="266.0" r="7.2" fill="#33c4e6" stroke="#1ea6cc" stroke-width="0.6" />
<circle cx="99.5" cy="264.5" r="4.0" fill="#55d4f0" stroke="none" stroke-width="1" />
<circle cx="75.0" cy="274.0" r="7.2" fill="#33c4e6" stroke="#1ea6cc" stroke-width="0.6" />
<circle cx="73.5" cy="272.5" r="4.0" fill="#55d4f0" stroke="none" stroke-width="1" />
<circle cx="56.0" cy="225.0" r="6.3" fill="#e6dcee" stroke="#a898c0" stroke-width="0.7" />
<ellipse cx="56.5" cy="225.5" rx="2.6" ry="3.1" fill="#7028b0" stroke="none" stroke-width="1" />
<circle cx="50.0" cy="238.0" r="6.3" fill="#e6dcee" stroke="#a898c0" stroke-width="0.7" />
<ellipse cx="50.5" cy="238.5" rx="2.6" ry="3.1" fill="#7028b0" stroke="none" stroke-width="1" />
<circle cx="105.6" cy="222.6" r="6.3" fill="#e6dcee" stroke="#a898c0" stroke-width="0.7" />
<ellipse cx="106.1" cy="223.1" rx="2.6" ry="3.1" fill="#7028b0" stroke="none" stroke-width="1" />
<circle cx="138.0" cy="246.0" r="6.3" fill="#e6dcee" stroke="#a898c0" stroke-width="0.7" />
<ellipse cx="138.5" cy="246.5" rx="2.6" ry="3.1" fill="#7028b0" stroke="none" stroke-width="1" />
<circle cx="146.0" cy="239.5" r="6.3" fill="#e6dcee" stroke="#a898c0" stroke-width="0.7" />
<ellipse cx="146.5" cy="240.0" rx="2.6" ry="3.1" fill="#7028b0" stroke="none" stroke-width="1" />
<circle cx="51.0" cy="273.5" r="6.3" fill="#e6dcee" stroke="#a898c0" stroke-width="0.7" />
<ellipse cx="51.5" cy="274.0" rx="2.6" ry="3.1" fill="#7028b0" stroke="none" stroke-width="1" />
<circle cx="87.4" cy="282.6" r="6.3" fill="#e6dcee" stroke="#a898c0" stroke-width="0.7" />
<ellipse cx="87.9" cy="283.1" rx="2.6" ry="3.1" fill="#7028b0" stroke="none" stroke-width="1" />
<circle cx="90.0" cy="291.7" r="6.3" fill="#e6dcee" stroke="#a898c0" stroke-width="0.7" />
<ellipse cx="90.5" cy="292.2" rx="2.6" ry="3.1" fill="#7028b0" stroke="none" stroke-width="1" />
<path d="M84.7,223.1 L80.8,223.6 L81.8,230.7 L77.8,223.7 L73.5,228.8 L75.5,222.7 L68.3,222.5 L74.5,219.9 L73.0,216.4 L77.2,218.9 L78.8,210.2 L79.5,218.4 L86.6,215.1 L80.2,220.7 Z" fill="#c8dcf0" stroke="#8aa8c8" stroke-width="0.6" />
<circle cx="78.0" cy="221.0" r="3.1" fill="#e8f0ff" stroke="none" stroke-width="1" />
<path d="M137.5,235.1 L129.4,234.4 L128.9,237.9 L126.3,234.1 L121.1,241.1 L123.5,233.7 L116.7,233.2 L123.8,230.9 L119.5,225.2 L125.3,228.6 L127.2,222.3 L127.8,229.5 L133.6,226.8 L129.4,231.3 Z" fill="#c8dcf0" stroke="#8aa8c8" stroke-width="0.6" />
<circle cx="126.5" cy="231.7" r="3.1" fill="#e8f0ff" stroke="none" stroke-width="1" />
<path d="M47.6,252.2 L42.8,252.2 L43.4,257.7 L40.1,253.3 L35.6,258.4 L38.5,251.3 L34.1,250.9 L36.8,248.9 L34.8,244.8 L39.4,247.5 L41.3,238.4 L41.9,247.3 L49.3,243.9 L43.5,249.5 Z" fill="#c8dcf0" stroke="#8aa8c8" stroke-width="0.6" />
<circle cx="40.4" cy="250.0" r="3.1" fill="#e8f0ff" stroke="none" stroke-width="1" />
<path d="M36.9,278.8 L40.9,281.6 A4.8,4.8 0 1,1 40.9,276.0 Z" fill="#f5a030" stroke="#fff6e0" stroke-width="0.8" />
<path d="M59.9,289.8 L63.9,292.6 A4.8,4.8 0 1,1 63.9,287.0 Z" fill="#f5a030" stroke="#fff6e0" stroke-width="0.8" />
<path d="M67.9,284.8 L71.9,287.6 A4.8,4.8 0 1,1 71.9,282.0 Z" fill="#f5a030" stroke="#fff6e0" stroke-width="0.8" />
<path d="M103.8,278.8 L107.8,281.6 A4.8,4.8 0 1,1 107.8,276.0 Z" fill="#f5a030" stroke="#fff6e0" stroke-width="0.8" />
<path d="M119.8,273.9 L123.8,276.7 A4.8,4.8 0 1,1 123.8,271.1 Z" fill="#f5a030" stroke="#fff6e0" stroke-width="0.8" />
<path d="M125.7,267.9 L129.7,270.7 A4.8,4.8 0 1,1 129.7,265.1 Z" fill="#f5a030" stroke="#fff6e0" stroke-width="0.8" />
<path d="M131.7,276.8 L135.7,279.6 A4.8,4.8 0 1,1 135.7,274.0 Z" fill="#f5a030" stroke="#fff6e0" stroke-width="0.8" />
<circle cx="105.6" cy="303.0" r="7.5" fill="url(#tcellR)" stroke="none" stroke-width="1" />
<circle cx="106.5" cy="304.0" r="3.0" fill="#70102a" stroke="none" stroke-width="1" />
<path d="M142.7,292.7 C150,289.5 157,286 162.2,281 C165.5,277.5 167.5,272.5 168.1,268.3 L157.3,268.8 L177.9,251.2 L196.4,266.4 L185.7,266.4 C185.5,270 185,272 184.2,274.2 C182,278 180,280.5 176.9,282 C172,285 168,287.5 164.2,288.8 C157,291 150,292.5 142.7,292.7 Z" fill="#f24c1c" stroke="none" stroke-width="1" />
<text x="178.8" y="259.5" font-size="5.2" fill="#6a1010" font-weight="normal" text-anchor="middle" >IL10</text>
<text x="176.5" y="266.0" font-size="5.2" fill="#6a1010" font-weight="normal" text-anchor="middle" >CXCL12</text>
<text x="10.0" y="225.0" font-size="6.2" fill="#1e1e1e" font-weight="normal" text-anchor="start" >Macropahge 2</text>
<text x="19.0" y="252.5" font-size="6.1" fill="#1e1e1e" font-weight="normal" text-anchor="middle" >tolerogenic</text>
<text x="19.0" y="258.5" font-size="6.1" fill="#1e1e1e" font-weight="normal" text-anchor="middle" >DC</text>
<text x="17.5" y="264.5" font-size="5.4" fill="#d03030" font-weight="normal" text-anchor="middle" >(IL10 high)</text>
<text x="112.8" y="254.9" font-size="6.0" fill="#1e1e1e" font-weight="normal" text-anchor="start" >Tumor</text>
<text x="131.0" y="255.5" font-size="5.4" fill="#d03030" font-weight="normal" text-anchor="start" >(IL10 high)</text>
<text x="15.0" y="281.8" font-size="5.2" fill="#1e1e1e" font-weight="normal" text-anchor="start" >MDSC</text>
<text x="63.5" y="306.8" font-size="6.1" fill="#222" font-weight="normal" text-anchor="start" >CD8+ T cell</text>
<rect x="79.8" y="312.8" width="58.0" height="16.0" fill="#fff" stroke="#555" stroke-width="1.1" />
<text x="108.8" y="323.0" font-size="6.2" fill="#1a1a1a" font-weight="normal" text-anchor="middle" >T cell suppression</text>
<path d="M267.1,199.5 Q264.3,199.2 262.3,201.5 M262.3,201.5 Q263.0,204.2 260.3,208.0 M260.3,208.0 Q258.9,207.4 260.5,208.9 M227.3,202.9 Q228.9,206.4 228.3,208.5 M227.3,202.9 Q225.7,204.7 220.4,203.2 M262.3,201.5 Q257.4,200.3 255.5,195.5 M255.5,195.5 Q254.2,193.7 255.5,195.2 M255.5,195.2 Q257.0,193.2 258.9,188.0 M258.0,185.6 Q257.5,188.8 258.9,188.0 M255.5,195.2 Q251.3,191.5 246.5,190.3 M246.5,190.3 Q247.5,186.2 246.5,185.7 M242.2,194.6 Q240.0,193.2 241.2,194.6 M242.2,194.6 Q246.0,193.4 246.5,190.3 M241.2,194.6 Q240.5,190.4 235.7,189.1 M235.7,189.1 Q234.4,187.8 236.3,186.2 M239.7,206.4 Q243.2,205.3 246.3,201.2 M250.7,205.8 Q250.5,205.2 248.9,201.7 M248.9,201.7 Q249.0,201.9 246.3,201.2 M239.6,206.4 Q238.6,206.9 239.7,206.4 M260.3,208.0 Q256.3,205.2 250.7,205.8 M234.9,200.1 Q238.4,199.2 241.2,194.6 M234.9,200.1 Q237.4,201.6 239.6,206.4 M242.2,194.6 Q243.1,198.2 246.3,201.2 M255.5,195.5 Q253.2,196.8 248.9,201.7 M226.8,188.8 Q227.4,191.2 231.8,191.3 M231.8,191.3 Q229.6,197.0 230.8,199.5 M228.8,200.5 Q230.6,199.8 230.8,199.5 M227.3,202.9 Q229.4,203.2 228.8,200.5 M235.7,189.1 Q235.1,192.1 231.8,191.3 M234.9,200.1 Q233.3,201.0 230.8,199.5 " fill="none" stroke="#9a0e16" stroke-width="2.7" stroke-linecap="round"/>
<path d="M267.1,199.5 Q264.3,199.2 262.3,201.5 M262.3,201.5 Q263.0,204.2 260.3,208.0 M260.3,208.0 Q258.9,207.4 260.5,208.9 M227.3,202.9 Q228.9,206.4 228.3,208.5 M227.3,202.9 Q225.7,204.7 220.4,203.2 M262.3,201.5 Q257.4,200.3 255.5,195.5 M255.5,195.5 Q254.2,193.7 255.5,195.2 M255.5,195.2 Q257.0,193.2 258.9,188.0 M258.0,185.6 Q257.5,188.8 258.9,188.0 M255.5,195.2 Q251.3,191.5 246.5,190.3 M246.5,190.3 Q247.5,186.2 246.5,185.7 M242.2,194.6 Q240.0,193.2 241.2,194.6 M242.2,194.6 Q246.0,193.4 246.5,190.3 M241.2,194.6 Q240.5,190.4 235.7,189.1 M235.7,189.1 Q234.4,187.8 236.3,186.2 M239.7,206.4 Q243.2,205.3 246.3,201.2 M250.7,205.8 Q250.5,205.2 248.9,201.7 M248.9,201.7 Q249.0,201.9 246.3,201.2 M239.6,206.4 Q238.6,206.9 239.7,206.4 M260.3,208.0 Q256.3,205.2 250.7,205.8 M234.9,200.1 Q238.4,199.2 241.2,194.6 M234.9,200.1 Q237.4,201.6 239.6,206.4 M242.2,194.6 Q243.1,198.2 246.3,201.2 M255.5,195.5 Q253.2,196.8 248.9,201.7 M226.8,188.8 Q227.4,191.2 231.8,191.3 M231.8,191.3 Q229.6,197.0 230.8,199.5 M228.8,200.5 Q230.6,199.8 230.8,199.5 M227.3,202.9 Q229.4,203.2 228.8,200.5 M235.7,189.1 Q235.1,192.1 231.8,191.3 M234.9,200.1 Q233.3,201.0 230.8,199.5 " fill="none" stroke="#d42028" stroke-width="1.7000000000000002" stroke-linecap="round"/>
<path d="M297.0,188.7 Q295.5,189.3 293.1,192.9 M293.1,192.9 Q289.4,194.1 286.3,191.7 M297.0,188.7 Q300.1,188.2 301.4,188.9 M301.4,188.9 Q301.4,188.7 303.7,187.5 M281.9,194.6 Q286.0,192.1 286.3,191.7 M316.3,206.5 Q316.4,209.4 314.3,211.0 M316.3,206.5 Q314.4,204.9 312.2,200.0 M314.3,211.0 Q311.8,212.3 310.1,211.6 M310.1,211.6 Q307.1,213.5 307.6,217.0 M307.6,217.0 Q304.1,217.8 299.8,216.4 M303.7,187.5 Q307.8,190.4 311.9,190.4 M300.4,204.4 Q300.4,200.9 299.9,200.5 M300.4,204.4 Q300.1,204.8 302.8,206.6 M302.8,206.6 Q304.9,208.4 305.5,206.6 M305.5,206.6 Q309.7,202.3 312.1,199.9 M299.9,200.5 Q300.5,198.6 303.4,196.6 M303.4,196.6 Q305.6,196.5 311.0,198.1 M311.0,198.1 Q309.9,199.2 312.1,199.9 M310.1,211.6 Q307.0,210.6 305.5,206.6 M299.6,215.9 Q297.7,217.2 299.8,216.4 M299.6,215.9 Q299.3,209.6 302.8,206.6 M312.2,200.0 Q313.6,201.5 312.1,199.9 M293.1,192.9 Q292.6,192.9 293.9,196.9 M301.4,188.9 Q303.7,191.2 303.4,196.6 M293.9,196.9 Q297.1,199.7 299.9,200.5 M311.9,190.4 Q310.4,193.7 311.0,198.1 M293.9,196.9 Q292.3,198.3 289.3,203.0 M300.4,204.4 Q297.3,204.0 293.5,206.7 M289.3,203.0 Q290.1,206.6 293.5,206.7 M299.6,215.9 Q296.9,215.1 292.8,212.3 M293.5,206.7 Q291.7,207.8 292.8,212.3 M292.8,212.3 Q290.9,213.6 289.0,214.0 M289.0,214.0 Q285.9,212.6 284.1,211.3 M282.2,196.5 Q285.1,198.3 288.6,203.0 M282.2,196.5 Q279.6,201.5 277.3,205.3 M288.6,203.0 Q284.9,205.3 283.3,208.6 M277.3,205.3 Q279.0,205.4 283.3,208.6 M281.9,194.6 Q281.1,197.5 282.2,196.5 M289.3,203.0 Q289.5,201.1 288.6,203.0 M275.7,205.6 Q275.3,204.0 277.3,205.3 M284.1,211.3 Q282.9,208.8 283.3,208.6 " fill="none" stroke="#9a0e16" stroke-width="2.7" stroke-linecap="round"/>
<path d="M297.0,188.7 Q295.5,189.3 293.1,192.9 M293.1,192.9 Q289.4,194.1 286.3,191.7 M297.0,188.7 Q300.1,188.2 301.4,188.9 M301.4,188.9 Q301.4,188.7 303.7,187.5 M281.9,194.6 Q286.0,192.1 286.3,191.7 M316.3,206.5 Q316.4,209.4 314.3,211.0 M316.3,206.5 Q314.4,204.9 312.2,200.0 M314.3,211.0 Q311.8,212.3 310.1,211.6 M310.1,211.6 Q307.1,213.5 307.6,217.0 M307.6,217.0 Q304.1,217.8 299.8,216.4 M303.7,187.5 Q307.8,190.4 311.9,190.4 M300.4,204.4 Q300.4,200.9 299.9,200.5 M300.4,204.4 Q300.1,204.8 302.8,206.6 M302.8,206.6 Q304.9,208.4 305.5,206.6 M305.5,206.6 Q309.7,202.3 312.1,199.9 M299.9,200.5 Q300.5,198.6 303.4,196.6 M303.4,196.6 Q305.6,196.5 311.0,198.1 M311.0,198.1 Q309.9,199.2 312.1,199.9 M310.1,211.6 Q307.0,210.6 305.5,206.6 M299.6,215.9 Q297.7,217.2 299.8,216.4 M299.6,215.9 Q299.3,209.6 302.8,206.6 M312.2,200.0 Q313.6,201.5 312.1,199.9 M293.1,192.9 Q292.6,192.9 293.9,196.9 M301.4,188.9 Q303.7,191.2 303.4,196.6 M293.9,196.9 Q297.1,199.7 299.9,200.5 M311.9,190.4 Q310.4,193.7 311.0,198.1 M293.9,196.9 Q292.3,198.3 289.3,203.0 M300.4,204.4 Q297.3,204.0 293.5,206.7 M289.3,203.0 Q290.1,206.6 293.5,206.7 M299.6,215.9 Q296.9,215.1 292.8,212.3 M293.5,206.7 Q291.7,207.8 292.8,212.3 M292.8,212.3 Q290.9,213.6 289.0,214.0 M289.0,214.0 Q285.9,212.6 284.1,211.3 M282.2,196.5 Q285.1,198.3 288.6,203.0 M282.2,196.5 Q279.6,201.5 277.3,205.3 M288.6,203.0 Q284.9,205.3 283.3,208.6 M277.3,205.3 Q279.0,205.4 283.3,208.6 M281.9,194.6 Q281.1,197.5 282.2,196.5 M289.3,203.0 Q289.5,201.1 288.6,203.0 M275.7,205.6 Q275.3,204.0 277.3,205.3 M284.1,211.3 Q282.9,208.8 283.3,208.6 " fill="none" stroke="#d42028" stroke-width="1.7000000000000002" stroke-linecap="round"/>
<path d="M254,181 C252,188 248,193 244,200" fill="none" stroke="#b8141c" stroke-width="3" />
<path d="M297.5,182.5 C299,188 301,194 303,201" fill="none" stroke="#b8141c" stroke-width="3" />
<path d="M217,174.5 C237,173 262,182 284,182.5 C307,182 327,174 338,171" fill="none" stroke="#9a0e16" stroke-width="4.6" />
<path d="M217,174.5 C237,173 262,182 284,182.5 C307,182 327,174 338,171" fill="none" stroke="#d42028" stroke-width="2.8" />
<path d="M331,167.5 L341,170 L333,175" fill="none" stroke="#c4161e" stroke-width="2.2" />
<ellipse cx="250.6" cy="175.6" rx="2.9" ry="2.6" fill="#3ae4ee" stroke="none" stroke-width="1" />
<ellipse cx="292.4" cy="183.5" rx="2.9" ry="2.6" fill="#3ae4ee" stroke="none" stroke-width="1" />
<ellipse cx="315.8" cy="178.3" rx="2.9" ry="2.6" fill="#3ae4ee" stroke="none" stroke-width="1" />
<ellipse cx="245.4" cy="197.8" rx="2.9" ry="2.6" fill="#3ae4ee" stroke="none" stroke-width="1" />
<ellipse cx="275.4" cy="198.6" rx="2.9" ry="2.6" fill="#3ae4ee" stroke="none" stroke-width="1" />
<ellipse cx="306.7" cy="194.0" rx="2.9" ry="2.6" fill="#3ae4ee" stroke="none" stroke-width="1" />
<ellipse cx="228.5" cy="220.5" rx="2.9" ry="2.6" fill="#3ae4ee" stroke="none" stroke-width="1" />
<ellipse cx="280.6" cy="222.6" rx="2.9" ry="2.6" fill="#3ae4ee" stroke="none" stroke-width="1" />
<ellipse cx="309.3" cy="221.3" rx="2.9" ry="2.6" fill="#3ae4ee" stroke="none" stroke-width="1" />
<ellipse cx="271.5" cy="178.8" rx="2.4" ry="2.6" fill="#149848" stroke="none" stroke-width="1" />
<ellipse cx="305.4" cy="180.3" rx="2.4" ry="2.6" fill="#149848" stroke="none" stroke-width="1" />
<ellipse cx="265.0" cy="202.3" rx="2.4" ry="2.6" fill="#149848" stroke="none" stroke-width="1" />
<ellipse cx="324.5" cy="209.6" rx="2.4" ry="2.6" fill="#149848" stroke="none" stroke-width="1" />
<ellipse cx="265.5" cy="218.0" rx="2.4" ry="2.6" fill="#149848" stroke="none" stroke-width="1" />
<ellipse cx="224.6" cy="229.0" rx="2.4" ry="2.6" fill="#149848" stroke="none" stroke-width="1" />
<circle cx="238.4" cy="228.7" r="6.0" fill="#e6dcee" stroke="#a898c0" stroke-width="0.7" />
<ellipse cx="238.9" cy="229.2" rx="2.5" ry="3.0" fill="#7028b0" stroke="none" stroke-width="1" />
<path d="M264.1,229.7 L258.2,230.4 L260.3,237.0 L255.1,233.0 L251.9,238.4 L251.1,232.1 L248.4,231.5 L250.0,228.5 L242.3,225.3 L250.2,225.1 L247.6,217.9 L253.5,224.5 L256.0,218.6 L256.1,224.7 L262.2,222.3 L258.5,226.8 Z" fill="#3a1650" stroke="#200a30" stroke-width="0.4" />
<circle cx="254.1" cy="227.7" r="4.0" fill="#3a1650" stroke="none" stroke-width="1" />
<path d="M306.0,230.9 L299.3,231.5 L300.3,236.5 L295.8,232.3 L293.8,235.2 L292.5,232.6 L287.3,233.9 L290.3,229.6 L286.5,227.0 L291.0,225.9 L290.6,221.9 L294.1,223.7 L297.2,218.1 L297.4,225.3 L303.2,223.3 L299.8,227.8 Z" fill="#3a1650" stroke="#200a30" stroke-width="0.4" />
<circle cx="295.1" cy="228.7" r="4.0" fill="#3a1650" stroke="none" stroke-width="1" />
<path d="M267.9,304.5 L262.7,304.7 L265.4,311.1 L260.6,305.9 L258.2,311.9 L257.9,306.0 L254.5,306.6 L256.0,303.7 L253.6,301.6 L256.8,300.7 L256.3,297.3 L259.4,299.9 L261.7,294.5 L262.7,298.9 L265.8,299.0 L263.3,302.3 Z" fill="#3a1650" stroke="#200a30" stroke-width="0.4" />
<circle cx="260.0" cy="302.9" r="3.8" fill="#3a1650" stroke="none" stroke-width="1" />
<path d="M280.0,251.5 Q281.2,254.0 279.4,257.3 Q277.6,260.7 276.2,262.6 Q274.8,264.5 271.1,264.0 Q267.5,263.4 265.1,261.7 Q262.8,260.0 261.2,257.8 Q259.5,255.5 261.0,250.7 Q262.5,246.0 265.2,245.3 Q268.0,244.5 270.5,244.9 Q273.1,245.4 275.9,247.2 Q278.8,249.1 280.0,251.5 Z" fill="#5a6ad0" stroke="none" stroke-width="1" />
<path d="M316.8,250.1 Q316.6,255.6 315.0,259.4 Q313.4,263.2 312.3,266.3 Q311.2,269.3 306.9,269.7 Q302.5,270.0 298.3,270.5 Q294.2,270.9 290.6,264.4 Q287.0,258.0 285.9,256.7 Q284.8,255.5 285.2,249.6 Q285.6,243.7 288.7,241.1 Q291.8,238.5 295.6,238.0 Q299.4,237.6 303.4,237.2 Q307.5,236.8 312.2,240.7 Q317.0,244.6 316.8,250.1 Z" fill="#5a6ad0" stroke="none" stroke-width="1" transform="translate(301.5 253) scale(1 0.78) translate(-301.5 -253)"/>
<circle cx="269.7" cy="253.1" r="1.3" fill="#8a68d8" stroke="none" stroke-width="1" />
<circle cx="304.0" cy="255.0" r="1.9" fill="#3a4aa0" stroke="none" stroke-width="1" />
<circle cx="309.1" cy="256.0" r="1.0" fill="#8a68d8" stroke="none" stroke-width="1" />
<circle cx="271.3" cy="260.7" r="1.7" fill="#2a6a9a" stroke="none" stroke-width="1" />
<circle cx="295.2" cy="247.4" r="1.3" fill="#3a4aa0" stroke="none" stroke-width="1" />
<circle cx="298.5" cy="263.9" r="1.9" fill="#8a68d8" stroke="none" stroke-width="1" />
<circle cx="268.9" cy="249.7" r="1.2" fill="#b088e8" stroke="none" stroke-width="1" />
<circle cx="299.6" cy="255.1" r="1.1" fill="#b088e8" stroke="none" stroke-width="1" />
<circle cx="297.8" cy="256.6" r="1.1" fill="#a878e0" stroke="none" stroke-width="1" />
<circle cx="293.7" cy="257.8" r="2.0" fill="#3a4aa0" stroke="none" stroke-width="1" />
<circle cx="307.6" cy="249.6" r="1.2" fill="#6a78d8" stroke="none" stroke-width="1" />
<circle cx="274.3" cy="255.0" r="1.3" fill="#6a78d8" stroke="none" stroke-width="1" />
<circle cx="312.0" cy="244.3" r="1.5" fill="#a878e0" stroke="none" stroke-width="1" />
<circle cx="296.2" cy="249.1" r="1.4" fill="#8a68d8" stroke="none" stroke-width="1" />
<circle cx="266.4" cy="247.2" r="1.8" fill="#6a78d8" stroke="none" stroke-width="1" />
<circle cx="297.5" cy="250.9" r="1.9" fill="#8a68d8" stroke="none" stroke-width="1" />
<circle cx="294.9" cy="254.0" r="2.1" fill="#2a6a9a" stroke="none" stroke-width="1" />
<circle cx="262.7" cy="251.3" r="2.0" fill="#b088e8" stroke="none" stroke-width="1" />
<circle cx="316.3" cy="256.5" r="2.0" fill="#a878e0" stroke="none" stroke-width="1" />
<circle cx="300.8" cy="256.8" r="2.1" fill="#2a6a9a" stroke="none" stroke-width="1" />
<circle cx="267.3" cy="260.7" r="1.5" fill="#2a6a9a" stroke="none" stroke-width="1" />
<circle cx="295.1" cy="254.1" r="1.3" fill="#3a4aa0" stroke="none" stroke-width="1" />
<circle cx="287.8" cy="250.8" r="1.5" fill="#3a4aa0" stroke="none" stroke-width="1" />
<circle cx="267.4" cy="256.1" r="2.2" fill="#3a4aa0" stroke="none" stroke-width="1" />
<circle cx="287.2" cy="253.4" r="2.0" fill="#8a68d8" stroke="none" stroke-width="1" />
<circle cx="291.0" cy="246.0" r="1.5" fill="#6a78d8" stroke="none" stroke-width="1" />
<circle cx="265.0" cy="258.5" r="1.6" fill="#4a5ac0" stroke="none" stroke-width="1" />
<circle cx="318.1" cy="251.0" r="1.0" fill="#2a6a9a" stroke="none" stroke-width="1" />
<circle cx="314.8" cy="260.5" r="1.9" fill="#b088e8" stroke="none" stroke-width="1" />
<circle cx="268.8" cy="252.1" r="1.5" fill="#a878e0" stroke="none" stroke-width="1" />
<circle cx="315.1" cy="253.2" r="1.9" fill="#3a4aa0" stroke="none" stroke-width="1" />
<circle cx="302.3" cy="246.5" r="1.1" fill="#2a6a9a" stroke="none" stroke-width="1" />
<circle cx="268.1" cy="260.8" r="1.7" fill="#8a68d8" stroke="none" stroke-width="1" />
<circle cx="298.0" cy="255.3" r="2.1" fill="#3a4aa0" stroke="none" stroke-width="1" />
<circle cx="311.5" cy="249.4" r="1.6" fill="#6a78d8" stroke="none" stroke-width="1" />
<circle cx="280.7" cy="249.6" r="2.0" fill="#4a5ac0" stroke="none" stroke-width="1" />
<circle cx="301.9" cy="257.1" r="1.7" fill="#6a78d8" stroke="none" stroke-width="1" />
<circle cx="309.9" cy="256.3" r="1.1" fill="#b088e8" stroke="none" stroke-width="1" />
<circle cx="267.7" cy="253.5" r="1.8" fill="#3a4aa0" stroke="none" stroke-width="1" />
<circle cx="306.8" cy="258.8" r="1.7" fill="#8a68d8" stroke="none" stroke-width="1" />
<circle cx="314.4" cy="249.0" r="1.8" fill="#2a6a9a" stroke="none" stroke-width="1" />
<circle cx="296.1" cy="248.2" r="1.6" fill="#6a78d8" stroke="none" stroke-width="1" />
<circle cx="301.5" cy="255.0" r="1.0" fill="#3a4aa0" stroke="none" stroke-width="1" />
<circle cx="271.0" cy="257.5" r="1.1" fill="#2a6a9a" stroke="none" stroke-width="1" />
<circle cx="304.5" cy="253.7" r="1.0" fill="#4a5ac0" stroke="none" stroke-width="1" />
<circle cx="307.2" cy="254.7" r="1.8" fill="#8a68d8" stroke="none" stroke-width="1" />
<circle cx="261.9" cy="252.0" r="2.1" fill="#3a4aa0" stroke="none" stroke-width="1" />
<circle cx="286.8" cy="254.6" r="2.0" fill="#8a68d8" stroke="none" stroke-width="1" />
<circle cx="311.8" cy="257.5" r="1.4" fill="#a878e0" stroke="none" stroke-width="1" />
<circle cx="261.8" cy="255.7" r="1.8" fill="#2a6a9a" stroke="none" stroke-width="1" />
<circle cx="308.5" cy="256.2" r="1.4" fill="#b088e8" stroke="none" stroke-width="1" />
<circle cx="305.8" cy="255.3" r="1.6" fill="#8a68d8" stroke="none" stroke-width="1" />
<circle cx="266.6" cy="255.9" r="1.3" fill="#6a78d8" stroke="none" stroke-width="1" />
<circle cx="285.7" cy="256.8" r="1.7" fill="#6a78d8" stroke="none" stroke-width="1" />
<circle cx="295.4" cy="247.4" r="1.0" fill="#6a78d8" stroke="none" stroke-width="1" />
<circle cx="280.1" cy="249.7" r="1.2" fill="#a878e0" stroke="none" stroke-width="1" />
<circle cx="284.6" cy="254.3" r="2.1" fill="#8a68d8" stroke="none" stroke-width="1" />
<circle cx="283.6" cy="264.0" r="1.3" fill="#b088e8" stroke="none" stroke-width="1" />
<circle cx="271.5" cy="250.0" r="1.8" fill="#2a6a9a" stroke="none" stroke-width="1" />
<circle cx="312.3" cy="252.8" r="1.9" fill="#8a68d8" stroke="none" stroke-width="1" />
<circle cx="303.7" cy="256.6" r="1.1" fill="#2a6a9a" stroke="none" stroke-width="1" />
<circle cx="261.7" cy="251.8" r="1.1" fill="#3a4aa0" stroke="none" stroke-width="1" />
<circle cx="282.6" cy="254.8" r="1.6" fill="#6a78d8" stroke="none" stroke-width="1" />
<circle cx="304.9" cy="252.5" r="1.2" fill="#3a4aa0" stroke="none" stroke-width="1" />
<circle cx="280.5" cy="258.1" r="1.5" fill="#3a4aa0" stroke="none" stroke-width="1" />
<circle cx="301.8" cy="260.4" r="1.7" fill="#a878e0" stroke="none" stroke-width="1" />
<circle cx="295.5" cy="247.1" r="1.4" fill="#4a5ac0" stroke="none" stroke-width="1" />
<circle cx="273.0" cy="261.6" r="1.3" fill="#a878e0" stroke="none" stroke-width="1" />
<circle cx="309.8" cy="258.8" r="1.5" fill="#b088e8" stroke="none" stroke-width="1" />
<circle cx="302.6" cy="252.7" r="1.7" fill="#3a4aa0" stroke="none" stroke-width="1" />
<circle cx="272.6" cy="254.0" r="1.3" fill="#4a5ac0" stroke="none" stroke-width="1" />
<circle cx="306.8" cy="256.8" r="1.1" fill="#8a68d8" stroke="none" stroke-width="1" />
<circle cx="298.1" cy="255.4" r="2.0" fill="#2a6a9a" stroke="none" stroke-width="1" />
<circle cx="305.2" cy="246.7" r="1.8" fill="#3a4aa0" stroke="none" stroke-width="1" />
<circle cx="297.7" cy="260.7" r="2.1" fill="#8a68d8" stroke="none" stroke-width="1" />
<circle cx="269.5" cy="264.5" r="1.9" fill="#8a68d8" stroke="none" stroke-width="1" />
<circle cx="299.9" cy="260.4" r="1.9" fill="#8a68d8" stroke="none" stroke-width="1" />
<circle cx="295.1" cy="243.1" r="1.6" fill="#4a5ac0" stroke="none" stroke-width="1" />
<circle cx="279.3" cy="248.6" r="1.1" fill="#a878e0" stroke="none" stroke-width="1" />
<circle cx="302.7" cy="251.5" r="1.4" fill="#8a68d8" stroke="none" stroke-width="1" />
<circle cx="297.2" cy="249.7" r="1.9" fill="#3a4aa0" stroke="none" stroke-width="1" />
<circle cx="268.6" cy="247.8" r="1.1" fill="#2a6a9a" stroke="none" stroke-width="1" />
<circle cx="310.3" cy="249.1" r="2.0" fill="#3a4aa0" stroke="none" stroke-width="1" />
<circle cx="293.0" cy="251.1" r="1.1" fill="#4a5ac0" stroke="none" stroke-width="1" />
<circle cx="278.4" cy="248.7" r="2.0" fill="#4a5ac0" stroke="none" stroke-width="1" />
<circle cx="303.1" cy="257.0" r="1.1" fill="#b088e8" stroke="none" stroke-width="1" />
<circle cx="285.4" cy="248.9" r="2.2" fill="#2a6a9a" stroke="none" stroke-width="1" />
<circle cx="277.7" cy="263.5" r="2.0" fill="#b088e8" stroke="none" stroke-width="1" />
<circle cx="308.0" cy="242.5" r="1.0" fill="#2a6a9a" stroke="none" stroke-width="1" />
<circle cx="314.7" cy="248.6" r="1.5" fill="#2a6a9a" stroke="none" stroke-width="1" />
<circle cx="277.1" cy="247.1" r="1.3" fill="#b088e8" stroke="none" stroke-width="1" />
<circle cx="299.0" cy="247.9" r="1.0" fill="#a878e0" stroke="none" stroke-width="1" />
<circle cx="304.2" cy="263.0" r="1.6" fill="#4a5ac0" stroke="none" stroke-width="1" />
<circle cx="275.3" cy="244.9" r="1.3" fill="#2a6a9a" stroke="none" stroke-width="1" />
<circle cx="304.2" cy="257.6" r="2.0" fill="#b088e8" stroke="none" stroke-width="1" />
<circle cx="299.3" cy="260.7" r="1.5" fill="#b088e8" stroke="none" stroke-width="1" />
<circle cx="318.4" cy="262.7" r="1.2" fill="#4a5ac0" stroke="none" stroke-width="1" />
<circle cx="312.6" cy="254.8" r="1.4" fill="#b088e8" stroke="none" stroke-width="1" />
<circle cx="267.6" cy="260.3" r="1.6" fill="#a878e0" stroke="none" stroke-width="1" />
<circle cx="306.0" cy="250.9" r="1.1" fill="#a878e0" stroke="none" stroke-width="1" />
<circle cx="262.0" cy="252.1" r="1.9" fill="#2a6a9a" stroke="none" stroke-width="1" />
<circle cx="304.5" cy="258.5" r="2.1" fill="#4a5ac0" stroke="none" stroke-width="1" />
<circle cx="292.5" cy="247.3" r="1.1" fill="#4a5ac0" stroke="none" stroke-width="1" />
<circle cx="262.4" cy="253.7" r="1.4" fill="#2a6a9a" stroke="none" stroke-width="1" />
<circle cx="300.2" cy="255.8" r="1.5" fill="#a878e0" stroke="none" stroke-width="1" />
<circle cx="293.4" cy="242.3" r="1.7" fill="#4a5ac0" stroke="none" stroke-width="1" />
<circle cx="261.8" cy="259.3" r="1.4" fill="#8a68d8" stroke="none" stroke-width="1" />
<circle cx="291.4" cy="256.1" r="1.8" fill="#a878e0" stroke="none" stroke-width="1" />
<circle cx="289.6" cy="256.0" r="1.6" fill="#b088e8" stroke="none" stroke-width="1" />
<circle cx="278.5" cy="248.8" r="1.2" fill="#6a78d8" stroke="none" stroke-width="1" />
<circle cx="298.9" cy="260.9" r="1.7" fill="#6a78d8" stroke="none" stroke-width="1" />
<circle cx="307.4" cy="244.7" r="1.8" fill="#8a68d8" stroke="none" stroke-width="1" />
<circle cx="271.6" cy="251.4" r="1.1" fill="#a878e0" stroke="none" stroke-width="1" />
<circle cx="290.4" cy="246.9" r="1.5" fill="#2a6a9a" stroke="none" stroke-width="1" />
<circle cx="289.5" cy="249.0" r="1.5" fill="#a878e0" stroke="none" stroke-width="1" />
<circle cx="270.8" cy="261.3" r="1.0" fill="#b088e8" stroke="none" stroke-width="1" />
<circle cx="312.8" cy="244.2" r="1.9" fill="#8a68d8" stroke="none" stroke-width="1" />
<circle cx="311.1" cy="265.4" r="1.6" fill="#6a78d8" stroke="none" stroke-width="1" />
<circle cx="304.8" cy="255.0" r="1.6" fill="#3a4aa0" stroke="none" stroke-width="1" />
<circle cx="312.9" cy="252.4" r="2.1" fill="#a878e0" stroke="none" stroke-width="1" />
<circle cx="263.8" cy="248.8" r="1.6" fill="#b088e8" stroke="none" stroke-width="1" />
<circle cx="309.2" cy="249.7" r="1.2" fill="#b088e8" stroke="none" stroke-width="1" />
<circle cx="295.0" cy="253.7" r="1.3" fill="#2a6a9a" stroke="none" stroke-width="1" />
<circle cx="268.9" cy="262.5" r="1.6" fill="#8a68d8" stroke="none" stroke-width="1" />
<circle cx="301.0" cy="255.2" r="1.3" fill="#4a5ac0" stroke="none" stroke-width="1" />
<circle cx="292.3" cy="263.0" r="1.1" fill="#8a68d8" stroke="none" stroke-width="1" />
<circle cx="271.5" cy="261.6" r="1.8" fill="#6a78d8" stroke="none" stroke-width="1" />
<circle cx="294.9" cy="255.5" r="1.6" fill="#6a78d8" stroke="none" stroke-width="1" />
<circle cx="303.9" cy="258.5" r="2.1" fill="#3a4aa0" stroke="none" stroke-width="1" />
<circle cx="271.5" cy="253.7" r="2.1" fill="#3a4aa0" stroke="none" stroke-width="1" />
<circle cx="300.8" cy="253.4" r="1.4" fill="#b088e8" stroke="none" stroke-width="1" />
<circle cx="287.7" cy="260.4" r="2.0" fill="#3a4aa0" stroke="none" stroke-width="1" />
<circle cx="270.4" cy="247.7" r="1.7" fill="#8a68d8" stroke="none" stroke-width="1" />
<circle cx="294.7" cy="253.3" r="1.6" fill="#a878e0" stroke="none" stroke-width="1" />
<circle cx="294.9" cy="260.1" r="1.5" fill="#8a68d8" stroke="none" stroke-width="1" />
<circle cx="277.1" cy="244.5" r="2.2" fill="#3a4aa0" stroke="none" stroke-width="1" />
<circle cx="309.9" cy="253.9" r="1.7" fill="#6a78d8" stroke="none" stroke-width="1" />
<circle cx="309.3" cy="255.9" r="2.0" fill="#8a68d8" stroke="none" stroke-width="1" />
<circle cx="275.6" cy="255.5" r="1.3" fill="#4a5ac0" stroke="none" stroke-width="1" />
<circle cx="292.4" cy="262.7" r="1.3" fill="#b088e8" stroke="none" stroke-width="1" />
<circle cx="287.3" cy="257.9" r="1.6" fill="#2a6a9a" stroke="none" stroke-width="1" />
<circle cx="294.3" cy="259.4" r="1.9" fill="#2a6a9a" stroke="none" stroke-width="1" />
<circle cx="303.6" cy="253.3" r="1.3" fill="#b088e8" stroke="none" stroke-width="1" />
<circle cx="273.6" cy="254.4" r="1.2" fill="#2a6a9a" stroke="none" stroke-width="1" />
<circle cx="317.0" cy="261.8" r="1.6" fill="#4a5ac0" stroke="none" stroke-width="1" />
<circle cx="302.0" cy="249.7" r="1.7" fill="#2a6a9a" stroke="none" stroke-width="1" />
<circle cx="268.6" cy="245.5" r="1.2" fill="#4a5ac0" stroke="none" stroke-width="1" />
<circle cx="303.0" cy="253.8" r="1.4" fill="#2a6a9a" stroke="none" stroke-width="1" />
<circle cx="308.4" cy="250.1" r="2.1" fill="#8a68d8" stroke="none" stroke-width="1" />
<circle cx="278.0" cy="257.5" r="1.8" fill="#6a78d8" stroke="none" stroke-width="1" />
<circle cx="299.2" cy="248.6" r="1.8" fill="#b088e8" stroke="none" stroke-width="1" />
<circle cx="271.5" cy="249.5" r="1.5" fill="#4a5ac0" stroke="none" stroke-width="1" />
<circle cx="312.6" cy="256.3" r="1.0" fill="#a878e0" stroke="none" stroke-width="1" />
<circle cx="303.3" cy="250.7" r="2.2" fill="#2a6a9a" stroke="none" stroke-width="1" />
<circle cx="275.2" cy="250.5" r="1.2" fill="#8a68d8" stroke="none" stroke-width="1" />
<circle cx="299.3" cy="238.8" r="1.3" fill="#b088e8" stroke="none" stroke-width="1" />
<circle cx="314.3" cy="248.4" r="1.6" fill="#b088e8" stroke="none" stroke-width="1" />
<circle cx="270.0" cy="250.1" r="2.0" fill="#b088e8" stroke="none" stroke-width="1" />
<circle cx="307.8" cy="251.2" r="1.5" fill="#b088e8" stroke="none" stroke-width="1" />
<circle cx="290.1" cy="254.7" r="1.5" fill="#6a78d8" stroke="none" stroke-width="1" />
<circle cx="265.6" cy="254.2" r="1.6" fill="#4a5ac0" stroke="none" stroke-width="1" />
<circle cx="303.8" cy="248.2" r="2.1" fill="#2a6a9a" stroke="none" stroke-width="1" />
<circle cx="309.4" cy="248.2" r="1.6" fill="#8a68d8" stroke="none" stroke-width="1" />
<circle cx="278.0" cy="258.1" r="1.6" fill="#b088e8" stroke="none" stroke-width="1" />
<circle cx="302.1" cy="259.2" r="1.9" fill="#a878e0" stroke="none" stroke-width="1" />
<circle cx="302.5" cy="250.7" r="1.3" fill="#2a6a9a" stroke="none" stroke-width="1" />
<circle cx="270.8" cy="261.4" r="1.4" fill="#3a4aa0" stroke="none" stroke-width="1" />
<circle cx="292.7" cy="251.9" r="1.9" fill="#4a5ac0" stroke="none" stroke-width="1" />
<circle cx="295.9" cy="257.9" r="1.4" fill="#8a68d8" stroke="none" stroke-width="1" />
<circle cx="273.1" cy="256.2" r="1.1" fill="#3a4aa0" stroke="none" stroke-width="1" />
<circle cx="313.9" cy="250.4" r="1.2" fill="#2a6a9a" stroke="none" stroke-width="1" />
<circle cx="287.9" cy="253.9" r="2.2" fill="#3a4aa0" stroke="none" stroke-width="1" />
<circle cx="305.0" cy="249.0" r="1.4" fill="#4a5ac0" stroke="none" stroke-width="1" />
<circle cx="312.0" cy="253.6" r="1.3" fill="#6a78d8" stroke="none" stroke-width="1" />
<circle cx="262.5" cy="251.5" r="1.2" fill="#b088e8" stroke="none" stroke-width="1" />
<circle cx="301.6" cy="250.4" r="1.0" fill="#4a5ac0" stroke="none" stroke-width="1" />
<circle cx="292.5" cy="254.1" r="1.2" fill="#6a78d8" stroke="none" stroke-width="1" />
<circle cx="270.3" cy="263.9" r="1.1" fill="#6a78d8" stroke="none" stroke-width="1" />
<circle cx="298.8" cy="254.3" r="1.8" fill="#6a78d8" stroke="none" stroke-width="1" />
<circle cx="310.5" cy="261.2" r="2.1" fill="#6a78d8" stroke="none" stroke-width="1" />
<circle cx="273.3" cy="253.9" r="1.9" fill="#3a4aa0" stroke="none" stroke-width="1" />
<circle cx="291.8" cy="248.7" r="1.9" fill="#a878e0" stroke="none" stroke-width="1" />
<circle cx="292.7" cy="254.8" r="2.0" fill="#a878e0" stroke="none" stroke-width="1" />
<circle cx="267.9" cy="260.5" r="1.7" fill="#2a6a9a" stroke="none" stroke-width="1" />
<circle cx="313.2" cy="258.4" r="1.8" fill="#4a5ac0" stroke="none" stroke-width="1" />
<circle cx="298.8" cy="250.3" r="1.2" fill="#6a78d8" stroke="none" stroke-width="1" />
<circle cx="273.6" cy="258.3" r="1.8" fill="#a878e0" stroke="none" stroke-width="1" />
<circle cx="299.9" cy="256.9" r="1.8" fill="#2a6a9a" stroke="none" stroke-width="1" />
<circle cx="303.6" cy="251.4" r="1.3" fill="#4a5ac0" stroke="none" stroke-width="1" />
<circle cx="272.3" cy="247.2" r="1.8" fill="#8a68d8" stroke="none" stroke-width="1" />
<circle cx="292.0" cy="256.1" r="1.8" fill="#4a5ac0" stroke="none" stroke-width="1" />
<circle cx="303.0" cy="251.1" r="1.2" fill="#4a5ac0" stroke="none" stroke-width="1" />
<circle cx="262.0" cy="248.8" r="2.1" fill="#a878e0" stroke="none" stroke-width="1" />
<circle cx="310.7" cy="258.9" r="1.8" fill="#4a5ac0" stroke="none" stroke-width="1" />
<circle cx="291.6" cy="253.0" r="1.1" fill="#6a78d8" stroke="none" stroke-width="1" />
<circle cx="277.4" cy="248.8" r="1.7" fill="#6a78d8" stroke="none" stroke-width="1" />
<circle cx="307.2" cy="246.8" r="2.1" fill="#b088e8" stroke="none" stroke-width="1" />
<circle cx="268.5" cy="250.5" r="1.0" fill="#b088e8" stroke="none" stroke-width="1" />
<circle cx="306.2" cy="258.9" r="1.5" fill="#4a5ac0" stroke="none" stroke-width="1" />
<circle cx="306.2" cy="259.6" r="1.8" fill="#a878e0" stroke="none" stroke-width="1" />
<circle cx="276.6" cy="252.9" r="1.5" fill="#4a5ac0" stroke="none" stroke-width="1" />
<circle cx="293.4" cy="243.5" r="1.4" fill="#2a6a9a" stroke="none" stroke-width="1" />
<circle cx="289.0" cy="253.2" r="1.5" fill="#b088e8" stroke="none" stroke-width="1" />
<circle cx="264.7" cy="252.3" r="1.4" fill="#4a5ac0" stroke="none" stroke-width="1" />
<circle cx="312.4" cy="259.3" r="2.0" fill="#b088e8" stroke="none" stroke-width="1" />
<circle cx="313.9" cy="252.4" r="1.7" fill="#a878e0" stroke="none" stroke-width="1" />
<circle cx="276.8" cy="256.0" r="1.7" fill="#a878e0" stroke="none" stroke-width="1" />
<circle cx="291.4" cy="246.4" r="1.2" fill="#3a4aa0" stroke="none" stroke-width="1" />
<circle cx="306.3" cy="256.3" r="2.1" fill="#a878e0" stroke="none" stroke-width="1" />
<circle cx="281.2" cy="263.3" r="1.7" fill="#8a68d8" stroke="none" stroke-width="1" />
<circle cx="299.7" cy="248.4" r="1.0" fill="#a878e0" stroke="none" stroke-width="1" />
<circle cx="275.7" cy="251.1" r="1.1" fill="#b088e8" stroke="none" stroke-width="1" />
<circle cx="312.7" cy="263.5" r="1.4" fill="#2a6a9a" stroke="none" stroke-width="1" />
<circle cx="299.1" cy="263.3" r="2.2" fill="#8a68d8" stroke="none" stroke-width="1" />
<circle cx="267.5" cy="254.7" r="1.2" fill="#3a4aa0" stroke="none" stroke-width="1" />
<circle cx="284.0" cy="252.4" r="2.0" fill="#4a5ac0" stroke="none" stroke-width="1" />
<circle cx="303.9" cy="242.3" r="1.4" fill="#b088e8" stroke="none" stroke-width="1" />
<circle cx="300.0" cy="257.5" r="1.7" fill="#2a6a9a" stroke="none" stroke-width="1" />
<circle cx="296.7" cy="253.2" r="1.6" fill="#4a5ac0" stroke="none" stroke-width="1" />
<circle cx="265.9" cy="261.4" r="1.5" fill="#4a5ac0" stroke="none" stroke-width="1" />
<circle cx="317.8" cy="241.7" r="1.3" fill="#a878e0" stroke="none" stroke-width="1" />
<circle cx="303.0" cy="262.5" r="1.1" fill="#2a6a9a" stroke="none" stroke-width="1" />
<circle cx="282.9" cy="264.1" r="2.0" fill="#2a6a9a" stroke="none" stroke-width="1" />
<circle cx="311.4" cy="252.2" r="1.0" fill="#3a4aa0" stroke="none" stroke-width="1" />
<circle cx="275.3" cy="253.0" r="1.1" fill="#b088e8" stroke="none" stroke-width="1" />
<circle cx="291.8" cy="255.5" r="1.5" fill="#2a6a9a" stroke="none" stroke-width="1" />
<circle cx="312.1" cy="261.8" r="2.2" fill="#6a78d8" stroke="none" stroke-width="1" />
<circle cx="294.6" cy="260.2" r="1.8" fill="#b088e8" stroke="none" stroke-width="1" />
<circle cx="295.5" cy="260.3" r="1.6" fill="#4a5ac0" stroke="none" stroke-width="1" />
<circle cx="262.5" cy="246.5" r="1.6" fill="#3a4aa0" stroke="none" stroke-width="1" />
<circle cx="304.6" cy="253.5" r="1.8" fill="#4a5ac0" stroke="none" stroke-width="1" />
<circle cx="315.6" cy="252.9" r="1.5" fill="#6a78d8" stroke="none" stroke-width="1" />
<circle cx="271.1" cy="246.2" r="1.1" fill="#8a68d8" stroke="none" stroke-width="1" />
<circle cx="295.2" cy="241.8" r="1.1" fill="#b088e8" stroke="none" stroke-width="1" />
<circle cx="309.0" cy="254.8" r="1.5" fill="#8a68d8" stroke="none" stroke-width="1" />
<circle cx="263.5" cy="252.7" r="2.0" fill="#8a68d8" stroke="none" stroke-width="1" />
<circle cx="306.8" cy="259.7" r="1.5" fill="#2a6a9a" stroke="none" stroke-width="1" />
<circle cx="302.6" cy="265.1" r="1.2" fill="#a878e0" stroke="none" stroke-width="1" />
<circle cx="266.5" cy="249.8" r="1.8" fill="#b088e8" stroke="none" stroke-width="1" />
<circle cx="294.7" cy="254.0" r="1.7" fill="#6a78d8" stroke="none" stroke-width="1" />
<circle cx="294.2" cy="254.8" r="1.7" fill="#2a6a9a" stroke="none" stroke-width="1" />
<circle cx="278.7" cy="252.2" r="1.5" fill="#4a5ac0" stroke="none" stroke-width="1" />
<circle cx="304.1" cy="258.1" r="1.6" fill="#8a68d8" stroke="none" stroke-width="1" />
<circle cx="295.6" cy="256.5" r="1.4" fill="#2a6a9a" stroke="none" stroke-width="1" />
<circle cx="297.8" cy="249.3" r="1.7" fill="#2a6a9a" stroke="none" stroke-width="1" />
<path d="M286.3,243.8 Q287.1,247.3 285.8,251.0 Q284.4,254.7 283.1,256.0 Q281.8,257.3 278.6,256.4 Q275.4,255.5 272.5,253.9 Q269.7,252.4 269.6,247.7 Q269.6,242.9 270.8,240.9 Q272.0,238.9 276.5,239.0 Q281.1,239.0 283.3,239.7 Q285.4,240.3 286.3,243.8 Z" fill="#22d0ee" stroke="none" stroke-width="1" />
<circle cx="276.0" cy="245.0" r="5.0" fill="#40dcf4" stroke="none" stroke-width="1" />
<path d="M211,240 q2,-5 4,-1 q2,4 4,-1" fill="none" stroke="#48a050" stroke-width="1.2" />
<rect x="212.0" y="237.0" width="4.0" height="3.0" fill="#e8d880" stroke="#a09040" stroke-width="0.4" />
<path d="M263,231 q2,-5 4,-1 q2,4 4,-1" fill="none" stroke="#48a050" stroke-width="1.2" />
<rect x="264.0" y="228.0" width="4.0" height="3.0" fill="#e8d880" stroke="#a09040" stroke-width="0.4" />
<path d="M251,246 q2,-5 4,-1 q2,4 4,-1" fill="none" stroke="#48a050" stroke-width="1.2" />
<rect x="252.0" y="243.0" width="4.0" height="3.0" fill="#e8d880" stroke="#a09040" stroke-width="0.4" />
<path d="M335,224 q2,-5 4,-1 q2,4 4,-1" fill="none" stroke="#48a050" stroke-width="1.2" />
<rect x="336.0" y="221.0" width="4.0" height="3.0" fill="#e8d880" stroke="#a09040" stroke-width="0.4" />
<path d="M325,234 q2,-5 4,-1 q2,4 4,-1" fill="none" stroke="#48a050" stroke-width="1.2" />
<rect x="326.0" y="231.0" width="4.0" height="3.0" fill="#e8d880" stroke="#a09040" stroke-width="0.4" />
<path d="M240,273 q2,-5 4,-1 q2,4 4,-1" fill="none" stroke="#48a050" stroke-width="1.2" />
<rect x="241.0" y="270.0" width="4.0" height="3.0" fill="#e8d880" stroke="#a09040" stroke-width="0.4" />
<path d="M248,268 q2,-5 4,-1 q2,4 4,-1" fill="none" stroke="#48a050" stroke-width="1.2" />
<rect x="249.0" y="265.0" width="4.0" height="3.0" fill="#e8d880" stroke="#a09040" stroke-width="0.4" />
<path d="M313,272 q2,-5 4,-1 q2,4 4,-1" fill="none" stroke="#48a050" stroke-width="1.2" />
<rect x="314.0" y="269.0" width="4.0" height="3.0" fill="#e8d880" stroke="#a09040" stroke-width="0.4" />
<path d="M326,268 q2,-5 4,-1 q2,4 4,-1" fill="none" stroke="#48a050" stroke-width="1.2" />
<rect x="327.0" y="265.0" width="4.0" height="3.0" fill="#e8d880" stroke="#a09040" stroke-width="0.4" />
<circle cx="226.7" cy="249.2" r="8.0" fill="url(#tcellR)" stroke="none" stroke-width="1" />
<circle cx="227.2" cy="250.0" r="2.8" fill="#6a0a22" stroke="none" stroke-width="1" />
<circle cx="238.4" cy="251.1" r="8.0" fill="url(#tcellR)" stroke="none" stroke-width="1" />
<circle cx="238.9" cy="251.9" r="2.8" fill="#6a0a22" stroke="none" stroke-width="1" />
<circle cx="245.3" cy="260.0" r="8.0" fill="url(#tcellR)" stroke="none" stroke-width="1" />
<circle cx="245.8" cy="260.8" r="2.8" fill="#6a0a22" stroke="none" stroke-width="1" />
<circle cx="306.8" cy="281.4" r="8.0" fill="url(#tcellR)" stroke="none" stroke-width="1" />
<circle cx="307.3" cy="282.2" r="2.8" fill="#6a0a22" stroke="none" stroke-width="1" />
<circle cx="320.5" cy="283.4" r="8.0" fill="url(#tcellR)" stroke="none" stroke-width="1" />
<circle cx="321.0" cy="284.2" r="2.8" fill="#6a0a22" stroke="none" stroke-width="1" />
<circle cx="312.7" cy="292.2" r="8.0" fill="url(#tcellR)" stroke="none" stroke-width="1" />
<circle cx="313.2" cy="293.0" r="2.8" fill="#6a0a22" stroke="none" stroke-width="1" />
<circle cx="269.7" cy="284.3" r="8.0" fill="url(#tcellR)" stroke="none" stroke-width="1" />
<circle cx="270.2" cy="285.1" r="2.8" fill="#6a0a22" stroke="none" stroke-width="1" />
<circle cx="287.3" cy="303.9" r="8.0" fill="url(#tcellR)" stroke="none" stroke-width="1" />
<circle cx="287.8" cy="304.7" r="2.8" fill="#6a0a22" stroke="none" stroke-width="1" />
<path d="M226.7,271.6 L231.2,274.7 A5.5,5.5 0 1,1 231.2,268.5 Z" fill="#f6b040" stroke="#fff6e0" stroke-width="0.8" />
<circle cx="268.0" cy="272.0" r="2.5" fill="#f0d040" stroke="none" stroke-width="1" />
<rect x="265.0" y="275.0" width="5.0" height="5.0" fill="#9898d0" stroke="none" stroke-width="1" />
<path d="M277,268 C283,262 287,270 283,276 L275,280" fill="none" stroke="#b01020" stroke-width="1" />
<path d="M270,303 L276,303" fill="none" stroke="#e0a040" stroke-width="2.5" />
<rect x="275.0" y="300.0" width="5.0" height="5.0" fill="#9898d0" stroke="none" stroke-width="1" />
<path d="M344.4,255 C355,259 362,264 364.6,273 C366,280 362,286 358.6,288.6 L367.4,290.5 L332,300.6 L331.5,280 L341.2,282.2 C346,278 348.5,272 348.5,263.8 C348.5,260 347,257 344.4,255 Z" fill="#f04a18" stroke="none" stroke-width="1" />
<text x="347.6" y="287.4" font-size="5.2" fill="#6a1010" font-weight="normal" text-anchor="middle" >IL10</text>
<text x="344.4" y="293.8" font-size="5.2" fill="#6a1010" font-weight="normal" text-anchor="middle" >CXCL12</text>
<path d="M341,222 L353,223" fill="none" stroke="#333" stroke-width="0.6" />
<text x="355.3" y="224.4" font-size="6.2" fill="#1e1e1e" font-weight="normal" text-anchor="start" >IL10 Trap</text>
<path d="M332,232 L342,233" fill="none" stroke="#333" stroke-width="0.6" />
<text x="344.9" y="234.5" font-size="6.2" fill="#1e1e1e" font-weight="normal" text-anchor="start" >CXCL12 Trap</text>
<rect x="318.5" y="241.4" width="47.0" height="10.3" fill="#fff" stroke="#555" stroke-width="1" />
<text x="342.0" y="248.5" font-size="5.7" fill="#1a1a1a" font-weight="normal" text-anchor="middle" >Tumor apoptosis</text>
<rect x="285.3" y="269.7" width="9.8" height="6.8" fill="#fff" stroke="#555" stroke-width="1" />
<text x="290.2" y="274.8" font-size="4.8" fill="#1a1a1a" font-weight="normal" text-anchor="middle" >Kill</text>
<text x="225.7" y="306.8" font-size="5.9" fill="#1e1e1e" font-weight="normal" text-anchor="start" >mature DC</text>
<rect x="250.2" y="313.7" width="51.7" height="14.2" fill="#fff" stroke="#555" stroke-width="1.1" />
<text x="276.1" y="322.9" font-size="6.1" fill="#1a1a1a" font-weight="normal" text-anchor="middle" >T cell activation</text>
<text x="421.0" y="23.1" font-size="20.3" fill="#111" font-weight="bold" text-anchor="start" >B</text>
<text x="521.0" y="30.0" font-size="10.8" fill="#1a1a1a" font-weight="normal" text-anchor="start" >Desmoplastic tumors</text>
<line x1="445.0" y1="36.2" x2="704.0" y2="36.2" stroke="#333" stroke-width="1.5" />
<path d="M453,46.5 C444,55 441,72 445,84 C449,94 462,99 478,98 C485,97.5 489,95 490,91 L486,86 C478,89 468,88 462,84 C457,79 455,70 456,60 C457,54 460,50 464,47 Z" fill="#d8a890" stroke="#b88a78" stroke-width="0.6" />
<path d="M461,49 C468,46 478,44 488,45.5 C500,47 520,50 540,52 C547,52.5 551,56 550,62 C549,67 545,69 538,69.5 C522,70 505,70 492,73 C488,78 487,84 482,87 C474,90 464,88 460,82 C456,75 456,62 458,55 C459,52 460,50 461,49 Z" fill="#f6e68a" stroke="#d2b858" stroke-width="0.6" />
<path d="M490.0,48.0 q2,-1.5 4,0" fill="none" stroke="#d8c060" stroke-width="0.5" />
<path d="M494.3,48.3 q2,-1.5 4,0" fill="none" stroke="#d8c060" stroke-width="0.5" />
<path d="M498.6,48.6 q2,-1.5 4,0" fill="none" stroke="#d8c060" stroke-width="0.5" />
<path d="M502.9,48.9 q2,-1.5 4,0" fill="none" stroke="#d8c060" stroke-width="0.5" />
<path d="M507.2,49.2 q2,-1.5 4,0" fill="none" stroke="#d8c060" stroke-width="0.5" />
<path d="M511.5,49.5 q2,-1.5 4,0" fill="none" stroke="#d8c060" stroke-width="0.5" />
<path d="M515.8,49.8 q2,-1.5 4,0" fill="none" stroke="#d8c060" stroke-width="0.5" />
<path d="M520.1,50.1 q2,-1.5 4,0" fill="none" stroke="#d8c060" stroke-width="0.5" />
<path d="M524.4,50.4 q2,-1.5 4,0" fill="none" stroke="#d8c060" stroke-width="0.5" />
<path d="M528.7,50.7 q2,-1.5 4,0" fill="none" stroke="#d8c060" stroke-width="0.5" />
<path d="M533.0,51.0 q2,-1.5 4,0" fill="none" stroke="#d8c060" stroke-width="0.5" />
<path d="M537.3,51.3 q2,-1.5 4,0" fill="none" stroke="#d8c060" stroke-width="0.5" />
<path d="M541.6,51.6 q2,-1.5 4,0" fill="none" stroke="#d8c060" stroke-width="0.5" />
<path d="M545.9,51.9 q2,-1.5 4,0" fill="none" stroke="#d8c060" stroke-width="0.5" />
<path d="M466,62 C488,55 520,58 546,60" fill="none" stroke="#b8a040" stroke-width="0.8" />
<path d="M464,65 C486,58 518,62 546,63" fill="none" stroke="#c8b050" stroke-width="0.5" />
<rect x="476.5" y="44.0" width="4.0" height="18.0" fill="#c07058" stroke="none" stroke-width="1" />
<rect x="470.0" y="46.0" width="3.0" height="7.0" fill="#6a88c8" stroke="none" stroke-width="1" />
<path d="M479.0,70.5 Q479.4,73.1 478.6,76.3 Q477.8,79.5 474.6,80.3 Q471.4,81.1 469.3,82.3 Q467.2,83.6 465.4,80.5 Q463.5,77.3 463.3,73.4 Q463.1,69.5 465.1,67.7 Q467.2,65.9 469.7,66.3 Q472.2,66.7 475.4,67.3 Q478.7,67.9 479.0,70.5 Z" fill="#2a4ec0" stroke="none" stroke-width="1" />
<ellipse cx="478.0" cy="78.5" rx="3.8" ry="5.0" fill="#b03a2a" stroke="none" stroke-width="1" />
<circle cx="471.5" cy="76.3" r="14.0" fill="none" stroke="#c05030" stroke-width="1.2" />
<text x="512.5" y="81.5" font-size="7.6" fill="#1e1e1e" font-weight="normal" text-anchor="middle" >pancreatic</text>
<text x="512.5" y="89.5" font-size="7.6" fill="#1e1e1e" font-weight="normal" text-anchor="middle" >cancer</text>
<path d="M602.5,52 L632.5,44 L700.6,56.5 L661.8,67.5 Z" fill="#f2dcae" stroke="none" stroke-width="1" />
<path d="M602.5,52 L661.8,67.5 L661.8,102.7 L602.5,83 Z" fill="url(#dermis)" stroke="none" stroke-width="1" />
<path d="M661.8,67.5 L700.6,56.5 L700.6,84.4 L661.8,102.7 Z" fill="url(#dermis2)" stroke="none" stroke-width="1" />
<path d="M602.5,54 L661.8,69.5 L661.8,76 C650,74 640,70 630,68 C620,66 610,62 602.5,62 Z" fill="#b888c0" stroke="none" stroke-width="1" />
<path d="M661.8,69.5 L700.6,58.5 L700.6,64 C690,66 680,70 661.8,76 Z" fill="#a878b8" stroke="none" stroke-width="1" />
<path d="M602.5,83 L661.8,102.7 L700.6,84.4 L700.6,87 L661.8,105 L602.5,85.5 Z" fill="#e8cc60" stroke="none" stroke-width="1" />
<circle cx="602.5" cy="84.5" r="1.3" fill="#f0d870" stroke="#b8a040" stroke-width="0.3" />
<circle cx="606.8" cy="85.9" r="1.3" fill="#f0d870" stroke="#b8a040" stroke-width="0.3" />
<circle cx="611.1" cy="87.4" r="1.3" fill="#f0d870" stroke="#b8a040" stroke-width="0.3" />
<circle cx="615.4" cy="88.8" r="1.3" fill="#f0d870" stroke="#b8a040" stroke-width="0.3" />
<circle cx="619.7" cy="90.2" r="1.3" fill="#f0d870" stroke="#b8a040" stroke-width="0.3" />
<circle cx="624.0" cy="91.6" r="1.3" fill="#f0d870" stroke="#b8a040" stroke-width="0.3" />
<circle cx="628.3" cy="93.1" r="1.3" fill="#f0d870" stroke="#b8a040" stroke-width="0.3" />
<circle cx="632.6" cy="94.5" r="1.3" fill="#f0d870" stroke="#b8a040" stroke-width="0.3" />
<circle cx="636.9" cy="95.9" r="1.3" fill="#f0d870" stroke="#b8a040" stroke-width="0.3" />
<circle cx="641.2" cy="97.3" r="1.3" fill="#f0d870" stroke="#b8a040" stroke-width="0.3" />
<circle cx="645.5" cy="98.8" r="1.3" fill="#f0d870" stroke="#b8a040" stroke-width="0.3" />
<circle cx="649.8" cy="100.2" r="1.3" fill="#f0d870" stroke="#b8a040" stroke-width="0.3" />
<circle cx="654.1" cy="101.6" r="1.3" fill="#f0d870" stroke="#b8a040" stroke-width="0.3" />
<circle cx="658.4" cy="103.1" r="1.3" fill="#f0d870" stroke="#b8a040" stroke-width="0.3" />
<circle cx="662.6" cy="103.8" r="1.3" fill="#f0d870" stroke="#b8a040" stroke-width="0.3" />
<circle cx="666.9" cy="101.8" r="1.3" fill="#f0d870" stroke="#b8a040" stroke-width="0.3" />
<circle cx="671.1" cy="99.8" r="1.3" fill="#f0d870" stroke="#b8a040" stroke-width="0.3" />
<circle cx="675.3" cy="97.8" r="1.3" fill="#f0d870" stroke="#b8a040" stroke-width="0.3" />
<circle cx="679.5" cy="95.8" r="1.3" fill="#f0d870" stroke="#b8a040" stroke-width="0.3" />
<circle cx="683.7" cy="93.9" r="1.3" fill="#f0d870" stroke="#b8a040" stroke-width="0.3" />
<circle cx="687.9" cy="91.9" r="1.3" fill="#f0d870" stroke="#b8a040" stroke-width="0.3" />
<circle cx="692.2" cy="89.9" r="1.3" fill="#f0d870" stroke="#b8a040" stroke-width="0.3" />
<circle cx="696.4" cy="87.9" r="1.3" fill="#f0d870" stroke="#b8a040" stroke-width="0.3" />
<circle cx="700.6" cy="85.9" r="1.3" fill="#f0d870" stroke="#b8a040" stroke-width="0.3" />
<ellipse cx="641.0" cy="53.0" rx="16.0" ry="5.5" fill="#6a3a22" stroke="#c89060" stroke-width="0.8" />
<ellipse cx="644.0" cy="52.0" rx="10.0" ry="3.0" fill="#4a2214" stroke="none" stroke-width="1" />
<path d="M622,56 C620,64 622,74 628,80 C634,84 642,80 644,72 C646,64 644,58 640,56 Z" fill="#8a5060" stroke="none" stroke-width="1" opacity="0.75"/>
<circle cx="627.4" cy="65.6" r="0.6" fill="#2a1018" stroke="none" stroke-width="1" />
<circle cx="640.1" cy="64.3" r="1.1" fill="#4a2030" stroke="none" stroke-width="1" />
<circle cx="625.9" cy="78.2" r="1.0" fill="#2a1018" stroke="none" stroke-width="1" />
<circle cx="626.2" cy="71.5" r="0.8" fill="#2a1018" stroke="none" stroke-width="1" />
<circle cx="629.8" cy="66.0" r="0.5" fill="#4a2030" stroke="none" stroke-width="1" />
<circle cx="619.4" cy="63.4" r="0.9" fill="#2a1018" stroke="none" stroke-width="1" />
<circle cx="625.6" cy="71.7" r="0.6" fill="#7a3a50" stroke="none" stroke-width="1" />
<circle cx="634.2" cy="68.8" r="1.1" fill="#4a2030" stroke="none" stroke-width="1" />
<circle cx="634.9" cy="48.7" r="0.8" fill="#7a3a50" stroke="none" stroke-width="1" />
<circle cx="634.5" cy="59.7" r="1.1" fill="#7a3a50" stroke="none" stroke-width="1" />
<circle cx="638.5" cy="66.3" r="0.8" fill="#4a2030" stroke="none" stroke-width="1" />
<circle cx="633.8" cy="75.4" r="1.1" fill="#2a1018" stroke="none" stroke-width="1" />
<circle cx="643.2" cy="64.3" r="0.6" fill="#4a2030" stroke="none" stroke-width="1" />
<circle cx="626.9" cy="76.9" r="0.6" fill="#4a2030" stroke="none" stroke-width="1" />
<circle cx="625.2" cy="64.0" r="0.9" fill="#4a2030" stroke="none" stroke-width="1" />
<circle cx="627.7" cy="67.4" r="0.9" fill="#4a2030" stroke="none" stroke-width="1" />
<circle cx="632.0" cy="60.3" r="1.2" fill="#2a1018" stroke="none" stroke-width="1" />
<circle cx="634.9" cy="63.4" r="0.9" fill="#2a1018" stroke="none" stroke-width="1" />
<circle cx="638.9" cy="54.7" r="1.0" fill="#2a1018" stroke="none" stroke-width="1" />
<circle cx="636.1" cy="64.0" r="1.0" fill="#4a2030" stroke="none" stroke-width="1" />
<circle cx="636.7" cy="71.1" r="1.0" fill="#2a1018" stroke="none" stroke-width="1" />
<circle cx="625.3" cy="62.8" r="1.0" fill="#7a3a50" stroke="none" stroke-width="1" />
<circle cx="642.6" cy="73.2" r="0.8" fill="#4a2030" stroke="none" stroke-width="1" />
<circle cx="618.7" cy="75.8" r="0.9" fill="#4a2030" stroke="none" stroke-width="1" />
<circle cx="627.1" cy="70.6" r="0.5" fill="#4a2030" stroke="none" stroke-width="1" />
<circle cx="634.5" cy="71.4" r="0.7" fill="#4a2030" stroke="none" stroke-width="1" />
<circle cx="631.3" cy="69.4" r="0.9" fill="#4a2030" stroke="none" stroke-width="1" />
<circle cx="643.3" cy="65.9" r="1.1" fill="#7a3a50" stroke="none" stroke-width="1" />
<circle cx="627.1" cy="74.0" r="0.9" fill="#4a2030" stroke="none" stroke-width="1" />
<circle cx="629.1" cy="66.3" r="1.2" fill="#7a3a50" stroke="none" stroke-width="1" />
<circle cx="618.0" cy="62.9" r="0.9" fill="#4a2030" stroke="none" stroke-width="1" />
<circle cx="631.2" cy="60.3" r="1.1" fill="#7a3a50" stroke="none" stroke-width="1" />
<circle cx="647.0" cy="67.0" r="1.1" fill="#7a3a50" stroke="none" stroke-width="1" />
<circle cx="649.6" cy="57.2" r="0.9" fill="#4a2030" stroke="none" stroke-width="1" />
<circle cx="639.3" cy="66.3" r="1.1" fill="#7a3a50" stroke="none" stroke-width="1" />
<circle cx="621.1" cy="52.2" r="0.7" fill="#4a2030" stroke="none" stroke-width="1" />
<circle cx="628.2" cy="64.7" r="1.2" fill="#2a1018" stroke="none" stroke-width="1" />
<circle cx="624.3" cy="60.3" r="0.5" fill="#7a3a50" stroke="none" stroke-width="1" />
<circle cx="637.8" cy="71.0" r="1.1" fill="#2a1018" stroke="none" stroke-width="1" />
<circle cx="635.8" cy="61.2" r="1.0" fill="#2a1018" stroke="none" stroke-width="1" />
<circle cx="638.1" cy="58.4" r="0.6" fill="#4a2030" stroke="none" stroke-width="1" />
<circle cx="632.5" cy="67.6" r="1.1" fill="#4a2030" stroke="none" stroke-width="1" />
<circle cx="638.6" cy="74.5" r="1.1" fill="#4a2030" stroke="none" stroke-width="1" />
<circle cx="636.0" cy="70.9" r="0.9" fill="#7a3a50" stroke="none" stroke-width="1" />
<circle cx="639.6" cy="68.4" r="0.9" fill="#7a3a50" stroke="none" stroke-width="1" />
<circle cx="619.1" cy="60.3" r="0.5" fill="#2a1018" stroke="none" stroke-width="1" />
<circle cx="638.8" cy="58.4" r="0.9" fill="#2a1018" stroke="none" stroke-width="1" />
<circle cx="626.3" cy="54.3" r="1.1" fill="#2a1018" stroke="none" stroke-width="1" />
<circle cx="628.1" cy="62.5" r="1.0" fill="#2a1018" stroke="none" stroke-width="1" />
<circle cx="634.8" cy="66.4" r="0.8" fill="#4a2030" stroke="none" stroke-width="1" />
<circle cx="624.5" cy="64.6" r="0.5" fill="#2a1018" stroke="none" stroke-width="1" />
<circle cx="637.4" cy="65.0" r="0.8" fill="#7a3a50" stroke="none" stroke-width="1" />
<circle cx="637.3" cy="53.9" r="0.9" fill="#4a2030" stroke="none" stroke-width="1" />
<circle cx="640.9" cy="66.1" r="0.9" fill="#2a1018" stroke="none" stroke-width="1" />
<circle cx="626.3" cy="69.0" r="0.6" fill="#4a2030" stroke="none" stroke-width="1" />
<circle cx="630.0" cy="61.2" r="0.5" fill="#7a3a50" stroke="none" stroke-width="1" />
<circle cx="627.6" cy="57.8" r="0.8" fill="#2a1018" stroke="none" stroke-width="1" />
<circle cx="633.9" cy="57.8" r="1.0" fill="#4a2030" stroke="none" stroke-width="1" />
<circle cx="626.6" cy="65.7" r="0.6" fill="#7a3a50" stroke="none" stroke-width="1" />
<circle cx="644.3" cy="62.9" r="0.6" fill="#7a3a50" stroke="none" stroke-width="1" />
<circle cx="629.9" cy="57.2" r="0.6" fill="#4a2030" stroke="none" stroke-width="1" />
<circle cx="634.5" cy="65.5" r="0.6" fill="#2a1018" stroke="none" stroke-width="1" />
<circle cx="638.7" cy="63.0" r="1.0" fill="#7a3a50" stroke="none" stroke-width="1" />
<circle cx="630.2" cy="60.7" r="1.1" fill="#4a2030" stroke="none" stroke-width="1" />
<circle cx="633.4" cy="69.4" r="0.9" fill="#4a2030" stroke="none" stroke-width="1" />
<circle cx="637.6" cy="64.5" r="0.9" fill="#4a2030" stroke="none" stroke-width="1" />
<circle cx="626.8" cy="63.1" r="1.1" fill="#7a3a50" stroke="none" stroke-width="1" />
<circle cx="637.9" cy="56.3" r="0.7" fill="#4a2030" stroke="none" stroke-width="1" />
<circle cx="631.7" cy="60.6" r="0.5" fill="#4a2030" stroke="none" stroke-width="1" />
<circle cx="643.4" cy="62.1" r="1.1" fill="#4a2030" stroke="none" stroke-width="1" />
<circle cx="642.6" cy="53.0" r="1.2" fill="#4a2030" stroke="none" stroke-width="1" />
<circle cx="639.3" cy="65.4" r="0.8" fill="#7a3a50" stroke="none" stroke-width="1" />
<circle cx="627.5" cy="64.3" r="1.1" fill="#7a3a50" stroke="none" stroke-width="1" />
<circle cx="630.8" cy="65.2" r="0.7" fill="#7a3a50" stroke="none" stroke-width="1" />
<circle cx="627.0" cy="58.2" r="0.8" fill="#4a2030" stroke="none" stroke-width="1" />
<circle cx="632.0" cy="66.1" r="0.6" fill="#7a3a50" stroke="none" stroke-width="1" />
<circle cx="629.3" cy="62.8" r="1.0" fill="#2a1018" stroke="none" stroke-width="1" />
<circle cx="644.5" cy="53.8" r="0.6" fill="#7a3a50" stroke="none" stroke-width="1" />
<circle cx="640.9" cy="61.8" r="1.2" fill="#2a1018" stroke="none" stroke-width="1" />
<circle cx="632.6" cy="59.2" r="0.9" fill="#7a3a50" stroke="none" stroke-width="1" />
<circle cx="640.9" cy="68.8" r="0.8" fill="#4a2030" stroke="none" stroke-width="1" />
<circle cx="636.6" cy="59.4" r="1.1" fill="#2a1018" stroke="none" stroke-width="1" />
<circle cx="626.3" cy="63.9" r="0.5" fill="#2a1018" stroke="none" stroke-width="1" />
<circle cx="634.2" cy="68.8" r="1.2" fill="#7a3a50" stroke="none" stroke-width="1" />
<circle cx="636.3" cy="65.0" r="0.6" fill="#4a2030" stroke="none" stroke-width="1" />
<circle cx="622.4" cy="63.3" r="0.8" fill="#7a3a50" stroke="none" stroke-width="1" />
<circle cx="626.9" cy="70.0" r="1.1" fill="#2a1018" stroke="none" stroke-width="1" />
<circle cx="630.9" cy="57.9" r="0.7" fill="#7a3a50" stroke="none" stroke-width="1" />
<circle cx="639.7" cy="59.4" r="1.1" fill="#4a2030" stroke="none" stroke-width="1" />
<circle cx="632.3" cy="63.6" r="1.0" fill="#4a2030" stroke="none" stroke-width="1" />
<circle cx="631.7" cy="72.4" r="1.0" fill="#7a3a50" stroke="none" stroke-width="1" />
<circle cx="641.4" cy="57.6" r="0.7" fill="#4a2030" stroke="none" stroke-width="1" />
<circle cx="626.2" cy="63.2" r="1.2" fill="#4a2030" stroke="none" stroke-width="1" />
<circle cx="628.1" cy="74.1" r="0.7" fill="#2a1018" stroke="none" stroke-width="1" />
<circle cx="637.6" cy="65.8" r="0.7" fill="#2a1018" stroke="none" stroke-width="1" />
<circle cx="637.1" cy="75.2" r="1.0" fill="#4a2030" stroke="none" stroke-width="1" />
<circle cx="627.8" cy="65.8" r="1.0" fill="#4a2030" stroke="none" stroke-width="1" />
<circle cx="636.4" cy="61.2" r="0.6" fill="#2a1018" stroke="none" stroke-width="1" />
<circle cx="632.2" cy="63.6" r="0.9" fill="#4a2030" stroke="none" stroke-width="1" />
<circle cx="641.8" cy="59.7" r="0.8" fill="#4a2030" stroke="none" stroke-width="1" />
<circle cx="625.5" cy="73.0" r="1.1" fill="#7a3a50" stroke="none" stroke-width="1" />
<circle cx="622.6" cy="50.7" r="0.9" fill="#4a2030" stroke="none" stroke-width="1" />
<circle cx="635.5" cy="63.3" r="0.7" fill="#4a2030" stroke="none" stroke-width="1" />
<circle cx="634.7" cy="45.6" r="0.6" fill="#2a1018" stroke="none" stroke-width="1" />
<circle cx="641.8" cy="64.8" r="0.7" fill="#4a2030" stroke="none" stroke-width="1" />
<circle cx="636.7" cy="63.3" r="0.5" fill="#2a1018" stroke="none" stroke-width="1" />
<circle cx="629.5" cy="61.7" r="1.1" fill="#7a3a50" stroke="none" stroke-width="1" />
<circle cx="631.6" cy="58.0" r="0.8" fill="#4a2030" stroke="none" stroke-width="1" />
<circle cx="624.3" cy="70.8" r="0.8" fill="#2a1018" stroke="none" stroke-width="1" />
<circle cx="636.6" cy="65.1" r="0.6" fill="#2a1018" stroke="none" stroke-width="1" />
<path d="M640,48 L648,60 M655,50 L662,64 M670,50 L676,62" fill="none" stroke="#6a5040" stroke-width="0.5" />
<text x="728.0" y="83.0" font-size="8.1" fill="#1e1e1e" font-weight="normal" text-anchor="middle" >BRAF-mutant</text>
<text x="728.0" y="91.0" font-size="8.1" fill="#1e1e1e" font-weight="normal" text-anchor="middle" >melanoma</text>
<line x1="463.0" y1="93.7" x2="436.0" y2="135.0" stroke="#b04058" stroke-width="1.2" stroke-dasharray="5,4"/>
<line x1="486.0" y1="86.0" x2="542.0" y2="117.0" stroke="#b04058" stroke-width="1.2" stroke-dasharray="5,4"/>
<line x1="609.0" y1="88.0" x2="574.0" y2="115.0" stroke="#b04058" stroke-width="1.2" stroke-dasharray="5,4"/>
<line x1="652.0" y1="101.0" x2="671.0" y2="131.0" stroke="#b04058" stroke-width="1.2" stroke-dasharray="5,4"/>
<text x="500.6" y="129.7" font-size="7.9" fill="#2a2a2a" font-weight="normal" text-anchor="start" >Nano-IPI549 inhibition of</text>
<ellipse cx="604.1" cy="128.8" rx="14.1" ry="6.8" fill="#fff" stroke="#a03048" stroke-width="1.1" />
<text x="604.0" y="130.8" font-size="7.9" fill="#1e1e1e" font-weight="normal" text-anchor="middle" >PI3kγ</text>
<line x1="512.0" y1="139.0" x2="496.0" y2="155.0" stroke="#666" stroke-width="1.1" />
<line x1="499.5" y1="158.5" x2="492.5" y2="151.5" stroke="#666" stroke-width="1.3" />
<line x1="562.0" y1="138.0" x2="572.0" y2="157.0" stroke="#666" stroke-width="1.1" />
<line x1="576.4" y1="154.7" x2="567.6" y2="159.3" stroke="#666" stroke-width="1.3" />
<line x1="627.0" y1="138.0" x2="644.0" y2="152.0" stroke="#666" stroke-width="1.1" />
<line x1="647.2" y1="148.1" x2="640.8" y2="155.9" stroke="#666" stroke-width="1.3" />
<line x1="473.0" y1="164.0" x2="468.3" y2="162.3" stroke="#1a2a6a" stroke-width="1.2" />
<line x1="468.3" y1="162.3" x2="465.6" y2="163.6" stroke="#1a2a6a" stroke-width="1.2" />
<line x1="468.3" y1="162.3" x2="467.1" y2="159.6" stroke="#1a2a6a" stroke-width="1.2" />
<line x1="495.0" y1="166.0" x2="499.9" y2="165.1" stroke="#1a2a6a" stroke-width="1.2" />
<line x1="499.9" y1="165.1" x2="501.6" y2="162.6" stroke="#1a2a6a" stroke-width="1.2" />
<line x1="499.9" y1="165.1" x2="502.4" y2="166.9" stroke="#1a2a6a" stroke-width="1.2" />
<line x1="479.0" y1="180.0" x2="477.3" y2="184.7" stroke="#1a2a6a" stroke-width="1.2" />
<line x1="477.3" y1="184.7" x2="478.6" y2="187.4" stroke="#1a2a6a" stroke-width="1.2" />
<line x1="477.3" y1="184.7" x2="474.6" y2="185.9" stroke="#1a2a6a" stroke-width="1.2" />
<circle cx="484.0" cy="169.0" r="13.0" fill="url(#bregG)" stroke="none" stroke-width="1" />
<circle cx="484.0" cy="169.0" r="9.5" fill="#b890c0" stroke="#704078" stroke-width="0.8" />
<text x="484.0" y="172.0" font-size="7.6" fill="#111" font-weight="bold" text-anchor="middle" >Breg</text>
<path d="M548.9,164.3 Q550.9,160.9 552.9,157.5 Q554.9,160.9 557.0,164.2 Q556.5,165.9 557.2,164.3 Q561.1,163.1 564.9,161.9 Q564.1,165.8 563.2,169.8 Q561.4,170.0 562.5,168.6 Q566.9,169.6 571.3,170.6 Q567.9,173.5 564.4,176.4 Q562.5,177.4 563.8,179.0 Q566.1,183.8 568.5,188.6 Q563.5,186.9 558.4,185.1 Q557.9,183.5 559.1,184.8 Q557.8,188.7 556.6,192.6 Q553.9,189.5 551.2,186.4 Q551.9,184.7 552.2,186.5 Q548.8,189.0 545.4,191.6 Q545.1,187.3 544.8,183.1 Q546.5,182.3 546.0,184.1 Q542.0,184.1 538.1,184.2 Q539.9,180.7 541.7,177.2 Q543.4,176.9 541.7,177.3 Q536.9,174.5 532.1,171.6 Q537.6,170.5 543.0,169.3 Q544.9,169.5 544.1,167.7 Q543.3,162.5 542.6,157.2 Q546.8,160.4 551.1,163.7 Q550.4,165.6 548.9,164.3 Z" fill="url(#mdscG)" stroke="none" stroke-width="1" />
<text x="553.0" y="177.5" font-size="6.4" fill="#1a0a18" font-weight="bold" text-anchor="middle" >MDSC</text>
<path d="M606.1,167.7 Q607.6,171.7 606.6,175.5 Q605.6,179.3 602.8,181.8 Q600.0,184.4 594.1,185.8 Q588.2,187.2 585.5,186.5 Q582.9,185.9 580.5,183.6 Q578.2,181.2 576.6,178.4 Q574.9,175.5 576.4,172.0 Q577.9,168.6 579.8,165.7 Q581.7,162.8 586.1,159.9 Q590.4,157.1 593.8,159.2 Q597.2,161.4 600.9,162.6 Q604.6,163.8 606.1,167.7 Z" fill="url(#m2G)" stroke="none" stroke-width="1" />
<ellipse cx="595.0" cy="175.0" rx="8.0" ry="7.0" fill="#c8c0f0" stroke="none" stroke-width="1" />
<text x="590.0" y="174.5" font-size="7.6" fill="#111" font-weight="bold" text-anchor="middle" >M2</text>
<text x="610.6" y="175.5" font-size="6.6" fill="#a04050" font-weight="normal" text-anchor="start" >(IL4</text>
<path d="M624,170 q3,3 0,6 l-2,-1" fill="none" stroke="#a04050" stroke-width="0.8" />
<text x="627.0" y="175.5" font-size="6.6" fill="#a04050" font-weight="normal" text-anchor="start" >)</text>
<circle cx="654.3" cy="172.6" r="13.8" fill="url(#tregG)" stroke="#1a3a1a" stroke-width="0.6" />
<text x="654.3" y="175.4" font-size="8" fill="#111" font-weight="bold" text-anchor="middle" >Treg</text>
<text x="670.5" y="175.5" font-size="6.6" fill="#a04050" font-weight="normal" text-anchor="start" >(Foxp3</text>
<path d="M693,170 q3,3 0,6 l-2,-1" fill="none" stroke="#a04050" stroke-width="0.8" />
<text x="696.0" y="175.5" font-size="6.6" fill="#a04050" font-weight="normal" text-anchor="start" >)</text>
<rect x="708.4" y="158.0" width="80.2" height="23.0" fill="#fff" stroke="#a03050" stroke-width="1.2" />
<text x="748.5" y="168.0" font-size="7.8" fill="#1a1a1a" font-weight="normal" text-anchor="middle" >Eliminate</text>
<text x="748.5" y="176.4" font-size="7.8" fill="#1a1a1a" font-weight="normal" text-anchor="middle" >immune-suppresion</text>
<line x1="485.0" y1="202.0" x2="514.0" y2="228.0" stroke="#888" stroke-width="1.1" />
<line x1="517.3" y1="224.3" x2="510.7" y2="231.7" stroke="#888" stroke-width="1.3" />
<path d="M486.5,214.0 C493.5,207.0 501.5,206.0 508.5,209.0" fill="none" stroke="#d02030" stroke-width="3.2" stroke-linecap="round"/>
<path d="M493.5,202.0 C495.5,209.0 498.5,215.0 502.5,220.0" fill="none" stroke="#d02030" stroke-width="3.2" stroke-linecap="round"/>
<text x="504.0" y="205.0" font-size="6.6" fill="#222" font-weight="normal" text-anchor="start" >IL10</text>
<text x="510.5" y="212.0" font-size="6.6" fill="#222" font-weight="normal" text-anchor="start" >TGFβ</text>
<line x1="566.0" y1="189.0" x2="566.0" y2="217.0" stroke="#888" stroke-width="1.1" />
<line x1="571.0" y1="217.0" x2="561.0" y2="217.0" stroke="#888" stroke-width="1.3" />
<path d="M557.0,201.0 C564.0,194.0 572.0,193.0 579.0,196.0" fill="none" stroke="#d02030" stroke-width="3.2" stroke-linecap="round"/>
<path d="M564.0,189.0 C566.0,196.0 569.0,202.0 573.0,207.0" fill="none" stroke="#d02030" stroke-width="3.2" stroke-linecap="round"/>
<text x="579.0" y="201.0" font-size="6.6" fill="#222" font-weight="normal" text-anchor="start" >ARG1</text>
<text x="576.5" y="211.0" font-size="6.6" fill="#222" font-weight="normal" text-anchor="start" >ROS</text>
<line x1="641.0" y1="204.0" x2="616.0" y2="226.0" stroke="#888" stroke-width="1.1" />
<line x1="619.3" y1="229.8" x2="612.7" y2="222.2" stroke="#888" stroke-width="1.3" />
<path d="M617.0,214.5 C624.0,207.5 632.0,206.5 639.0,209.5" fill="none" stroke="#d02030" stroke-width="3.2" stroke-linecap="round"/>
<path d="M624.0,202.5 C626.0,209.5 629.0,215.5 633.0,220.5" fill="none" stroke="#d02030" stroke-width="3.2" stroke-linecap="round"/>
<text x="644.8" y="214.0" font-size="6.6" fill="#222" font-weight="normal" text-anchor="start" >IL10</text>
<text x="637.0" y="221.0" font-size="6.6" fill="#222" font-weight="normal" text-anchor="start" >TGFβ</text>
<circle cx="552.0" cy="229.0" r="12.0" fill="url(#cd8a)" stroke="none" stroke-width="1" />
<circle cx="581.0" cy="232.0" r="12.0" fill="url(#cd8b)" stroke="none" stroke-width="1" />
<circle cx="567.0" cy="252.0" r="12.0" fill="url(#cd8a)" stroke="none" stroke-width="1" />
<text x="585.0" y="250.0" font-size="8" fill="#111" font-weight="bold" text-anchor="start" >CD8+</text>
<text x="585.0" y="257.8" font-size="8" fill="#111" font-weight="bold" text-anchor="start" >T cell</text>
<rect x="633.0" y="238.0" width="80.0" height="21.6" fill="#fff" stroke="#a03050" stroke-width="1.2" />
<text x="673.0" y="247.3" font-size="7.8" fill="#1a1a1a" font-weight="normal" text-anchor="middle" >Enhance T effector</text>
<text x="673.0" y="255.7" font-size="7.8" fill="#1a1a1a" font-weight="normal" text-anchor="middle" >activity</text>
<line x1="567.0" y1="268.0" x2="567.0" y2="290.0" stroke="#666" stroke-width="1.1" />
<line x1="572.0" y1="290.0" x2="562.0" y2="290.0" stroke="#666" stroke-width="1.3" />
<text x="573.0" y="278.5" font-size="6.6" fill="#a04050" font-weight="normal" text-anchor="start" >(IFNγ</text>
<path d="M590,273 q3,3 0,6 l-2,-1" fill="none" stroke="#a04050" stroke-width="0.8" />
<text x="593.0" y="278.5" font-size="6.6" fill="#a04050" font-weight="normal" text-anchor="start" >)</text>
<path d="M568.6,309.4 Q569.8,311.7 570.5,315.6 Q571.2,319.5 565.5,325.7 Q559.8,331.8 556.6,329.9 Q553.4,327.9 550.2,327.5 Q546.9,327.0 542.6,326.0 Q538.2,325.0 535.5,319.5 Q532.9,314.0 536.0,308.8 Q539.1,303.6 540.7,302.0 Q542.3,300.4 545.4,297.8 Q548.6,295.3 553.2,297.4 Q557.7,299.5 562.6,303.3 Q567.5,307.0 568.6,309.4 Z" fill="#8a80a0" stroke="none" stroke-width="1" opacity="0.85"/>
<path d="M599.4,304.1 Q601.3,306.4 599.0,312.3 Q596.6,318.3 594.7,319.9 Q592.9,321.5 588.7,323.2 Q584.5,325.0 580.5,324.6 Q576.5,324.1 574.9,319.6 Q573.3,315.0 571.8,312.4 Q570.2,309.8 572.6,305.6 Q575.0,301.5 577.6,298.5 Q580.3,295.5 583.8,296.0 Q587.4,296.5 589.3,297.3 Q591.3,298.1 594.4,300.0 Q597.5,301.9 599.4,304.1 Z" fill="#8a80a0" stroke="none" stroke-width="1" opacity="0.85"/>
<ellipse cx="551.0" cy="314.0" rx="7.0" ry="6.0" fill="#4a4068" stroke="none" stroke-width="1" opacity="0.7"/>
<ellipse cx="586.0" cy="309.0" rx="6.0" ry="6.0" fill="#4a4068" stroke="none" stroke-width="1" opacity="0.7"/>
<circle cx="560.6" cy="323.5" r="1.0" fill="#9a8ab0" stroke="none" stroke-width="1" />
<circle cx="591.0" cy="318.0" r="1.1" fill="#3a3058" stroke="none" stroke-width="1" />
<circle cx="541.9" cy="320.7" r="0.6" fill="#5a4a7a" stroke="none" stroke-width="1" />
<circle cx="599.6" cy="303.2" r="0.8" fill="#b0a8c8" stroke="none" stroke-width="1" />
<circle cx="553.5" cy="304.9" r="0.9" fill="#7a6a98" stroke="none" stroke-width="1" />
<circle cx="571.1" cy="305.9" r="1.0" fill="#7a6a98" stroke="none" stroke-width="1" />
<circle cx="569.9" cy="314.9" r="0.6" fill="#3a3058" stroke="none" stroke-width="1" />
<circle cx="573.9" cy="311.9" r="0.8" fill="#9a8ab0" stroke="none" stroke-width="1" />
<circle cx="561.5" cy="322.6" r="0.9" fill="#5a4a7a" stroke="none" stroke-width="1" />
<circle cx="591.9" cy="311.4" r="1.0" fill="#b0a8c8" stroke="none" stroke-width="1" />
<circle cx="552.6" cy="299.4" r="1.0" fill="#b0a8c8" stroke="none" stroke-width="1" />
<circle cx="597.6" cy="313.4" r="0.9" fill="#9a8ab0" stroke="none" stroke-width="1" />
<circle cx="559.5" cy="330.3" r="1.2" fill="#9a8ab0" stroke="none" stroke-width="1" />
<circle cx="579.5" cy="328.2" r="0.9" fill="#7a6a98" stroke="none" stroke-width="1" />
<circle cx="562.9" cy="312.7" r="0.5" fill="#3a3058" stroke="none" stroke-width="1" />
<circle cx="594.6" cy="319.7" r="1.3" fill="#3a3058" stroke="none" stroke-width="1" />
<circle cx="538.1" cy="313.5" r="1.1" fill="#5a4a7a" stroke="none" stroke-width="1" />
<circle cx="578.1" cy="306.0" r="1.3" fill="#3a3058" stroke="none" stroke-width="1" />
<circle cx="554.8" cy="317.4" r="0.8" fill="#7a6a98" stroke="none" stroke-width="1" />
<circle cx="578.3" cy="317.9" r="0.7" fill="#3a3058" stroke="none" stroke-width="1" />
<circle cx="564.2" cy="328.8" r="0.6" fill="#9a8ab0" stroke="none" stroke-width="1" />
<circle cx="575.3" cy="317.6" r="1.0" fill="#b0a8c8" stroke="none" stroke-width="1" />
<circle cx="562.9" cy="310.9" r="1.3" fill="#b0a8c8" stroke="none" stroke-width="1" />
<circle cx="568.5" cy="300.1" r="0.9" fill="#9a8ab0" stroke="none" stroke-width="1" />
<circle cx="539.1" cy="296.7" r="0.7" fill="#2a2048" stroke="none" stroke-width="1" />
<circle cx="602.4" cy="315.1" r="1.1" fill="#9a8ab0" stroke="none" stroke-width="1" />
<circle cx="560.5" cy="315.3" r="1.2" fill="#b0a8c8" stroke="none" stroke-width="1" />
<circle cx="583.4" cy="317.1" r="0.6" fill="#3a3058" stroke="none" stroke-width="1" />
<circle cx="562.9" cy="304.6" r="0.6" fill="#5a4a7a" stroke="none" stroke-width="1" />
<circle cx="585.7" cy="299.9" r="0.7" fill="#b0a8c8" stroke="none" stroke-width="1" />
<circle cx="534.5" cy="310.9" r="0.5" fill="#5a4a7a" stroke="none" stroke-width="1" />
<circle cx="593.7" cy="304.5" r="0.6" fill="#7a6a98" stroke="none" stroke-width="1" />
<circle cx="542.7" cy="308.0" r="1.0" fill="#9a8ab0" stroke="none" stroke-width="1" />
<circle cx="581.6" cy="318.2" r="0.7" fill="#b0a8c8" stroke="none" stroke-width="1" />
<circle cx="568.7" cy="313.8" r="1.3" fill="#3a3058" stroke="none" stroke-width="1" />
<circle cx="585.2" cy="316.1" r="0.7" fill="#2a2048" stroke="none" stroke-width="1" />
<circle cx="537.3" cy="318.8" r="1.1" fill="#5a4a7a" stroke="none" stroke-width="1" />
<circle cx="589.0" cy="311.7" r="0.6" fill="#3a3058" stroke="none" stroke-width="1" />
<circle cx="539.8" cy="302.1" r="0.6" fill="#3a3058" stroke="none" stroke-width="1" />
<circle cx="583.1" cy="305.6" r="0.9" fill="#7a6a98" stroke="none" stroke-width="1" />
<circle cx="533.7" cy="323.2" r="1.0" fill="#5a4a7a" stroke="none" stroke-width="1" />
<circle cx="589.9" cy="316.1" r="1.1" fill="#2a2048" stroke="none" stroke-width="1" />
<circle cx="552.7" cy="302.1" r="0.9" fill="#b0a8c8" stroke="none" stroke-width="1" />
<circle cx="588.7" cy="295.0" r="0.5" fill="#9a8ab0" stroke="none" stroke-width="1" />
<circle cx="559.3" cy="306.9" r="1.0" fill="#b0a8c8" stroke="none" stroke-width="1" />
<circle cx="588.7" cy="329.5" r="1.0" fill="#b0a8c8" stroke="none" stroke-width="1" />
<circle cx="562.5" cy="315.1" r="0.7" fill="#7a6a98" stroke="none" stroke-width="1" />
<circle cx="593.4" cy="295.9" r="0.9" fill="#2a2048" stroke="none" stroke-width="1" />
<circle cx="564.1" cy="319.3" r="0.9" fill="#b0a8c8" stroke="none" stroke-width="1" />
<circle cx="580.6" cy="317.6" r="0.7" fill="#2a2048" stroke="none" stroke-width="1" />
<circle cx="538.1" cy="311.3" r="0.6" fill="#7a6a98" stroke="none" stroke-width="1" />
<circle cx="595.3" cy="307.9" r="0.8" fill="#9a8ab0" stroke="none" stroke-width="1" />
<circle cx="555.4" cy="315.0" r="0.6" fill="#9a8ab0" stroke="none" stroke-width="1" />
<circle cx="561.8" cy="308.4" r="1.0" fill="#b0a8c8" stroke="none" stroke-width="1" />
<circle cx="539.6" cy="316.4" r="0.8" fill="#9a8ab0" stroke="none" stroke-width="1" />
<circle cx="588.0" cy="309.8" r="1.0" fill="#3a3058" stroke="none" stroke-width="1" />
<circle cx="552.3" cy="325.5" r="1.2" fill="#b0a8c8" stroke="none" stroke-width="1" />
<circle cx="570.0" cy="315.3" r="0.8" fill="#7a6a98" stroke="none" stroke-width="1" />
<circle cx="536.5" cy="313.9" r="1.3" fill="#3a3058" stroke="none" stroke-width="1" />
<circle cx="592.0" cy="310.1" r="0.8" fill="#2a2048" stroke="none" stroke-width="1" />
<circle cx="566.8" cy="304.2" r="1.0" fill="#2a2048" stroke="none" stroke-width="1" />
<circle cx="576.3" cy="295.2" r="1.1" fill="#b0a8c8" stroke="none" stroke-width="1" />
<circle cx="551.0" cy="322.1" r="0.9" fill="#7a6a98" stroke="none" stroke-width="1" />
<circle cx="572.0" cy="299.1" r="1.3" fill="#3a3058" stroke="none" stroke-width="1" />
<circle cx="555.9" cy="317.6" r="1.2" fill="#b0a8c8" stroke="none" stroke-width="1" />
<circle cx="593.8" cy="317.0" r="0.6" fill="#7a6a98" stroke="none" stroke-width="1" />
<circle cx="544.2" cy="307.7" r="1.1" fill="#3a3058" stroke="none" stroke-width="1" />
<circle cx="592.0" cy="308.7" r="0.8" fill="#b0a8c8" stroke="none" stroke-width="1" />
<circle cx="544.0" cy="322.9" r="1.0" fill="#7a6a98" stroke="none" stroke-width="1" />
<circle cx="588.1" cy="309.9" r="0.9" fill="#5a4a7a" stroke="none" stroke-width="1" />
<circle cx="562.6" cy="307.4" r="0.7" fill="#b0a8c8" stroke="none" stroke-width="1" />
<circle cx="584.3" cy="316.7" r="1.3" fill="#9a8ab0" stroke="none" stroke-width="1" />
<circle cx="542.0" cy="318.1" r="1.0" fill="#b0a8c8" stroke="none" stroke-width="1" />
<circle cx="590.5" cy="316.0" r="0.7" fill="#5a4a7a" stroke="none" stroke-width="1" />
<circle cx="559.6" cy="312.1" r="0.8" fill="#b0a8c8" stroke="none" stroke-width="1" />
<circle cx="600.3" cy="304.0" r="0.5" fill="#2a2048" stroke="none" stroke-width="1" />
<circle cx="542.3" cy="309.1" r="0.9" fill="#9a8ab0" stroke="none" stroke-width="1" />
<circle cx="586.1" cy="310.0" r="0.9" fill="#3a3058" stroke="none" stroke-width="1" />
<circle cx="559.0" cy="312.1" r="0.8" fill="#3a3058" stroke="none" stroke-width="1" />
<circle cx="582.3" cy="312.1" r="1.1" fill="#9a8ab0" stroke="none" stroke-width="1" />
<circle cx="548.6" cy="312.5" r="0.7" fill="#9a8ab0" stroke="none" stroke-width="1" />
<circle cx="591.5" cy="305.0" r="1.0" fill="#2a2048" stroke="none" stroke-width="1" />
<circle cx="572.3" cy="305.5" r="0.5" fill="#2a2048" stroke="none" stroke-width="1" />
<circle cx="595.6" cy="312.8" r="1.2" fill="#b0a8c8" stroke="none" stroke-width="1" />
<circle cx="553.5" cy="315.6" r="1.2" fill="#2a2048" stroke="none" stroke-width="1" />
<circle cx="574.7" cy="306.9" r="1.0" fill="#b0a8c8" stroke="none" stroke-width="1" />
<circle cx="547.4" cy="318.4" r="0.8" fill="#7a6a98" stroke="none" stroke-width="1" />
<circle cx="585.1" cy="308.2" r="1.1" fill="#b0a8c8" stroke="none" stroke-width="1" />
<circle cx="564.0" cy="316.9" r="1.0" fill="#5a4a7a" stroke="none" stroke-width="1" />
<circle cx="580.0" cy="314.7" r="0.6" fill="#2a2048" stroke="none" stroke-width="1" />
<circle cx="535.4" cy="313.4" r="1.0" fill="#5a4a7a" stroke="none" stroke-width="1" />
<circle cx="593.1" cy="310.2" r="0.8" fill="#7a6a98" stroke="none" stroke-width="1" />
<circle cx="537.9" cy="319.7" r="1.1" fill="#2a2048" stroke="none" stroke-width="1" />
<circle cx="578.1" cy="312.3" r="0.7" fill="#2a2048" stroke="none" stroke-width="1" />
<circle cx="561.9" cy="314.9" r="0.9" fill="#b0a8c8" stroke="none" stroke-width="1" />
<circle cx="584.7" cy="307.7" r="0.8" fill="#9a8ab0" stroke="none" stroke-width="1" />
<circle cx="563.3" cy="326.3" r="1.1" fill="#7a6a98" stroke="none" stroke-width="1" />
<circle cx="583.0" cy="303.9" r="1.1" fill="#2a2048" stroke="none" stroke-width="1" />
<circle cx="528.5" cy="309.4" r="1.3" fill="#9a8ab0" stroke="none" stroke-width="1" />
<circle cx="588.8" cy="317.7" r="1.1" fill="#7a6a98" stroke="none" stroke-width="1" />
<circle cx="562.2" cy="313.5" r="1.0" fill="#2a2048" stroke="none" stroke-width="1" />
<circle cx="595.6" cy="310.2" r="1.1" fill="#5a4a7a" stroke="none" stroke-width="1" />
<circle cx="564.4" cy="308.8" r="1.2" fill="#5a4a7a" stroke="none" stroke-width="1" />
<circle cx="587.8" cy="318.5" r="0.7" fill="#9a8ab0" stroke="none" stroke-width="1" />
<circle cx="550.6" cy="296.5" r="0.8" fill="#3a3058" stroke="none" stroke-width="1" />
<circle cx="586.9" cy="319.8" r="0.8" fill="#b0a8c8" stroke="none" stroke-width="1" />
<circle cx="556.1" cy="306.0" r="0.6" fill="#3a3058" stroke="none" stroke-width="1" />
<circle cx="607.1" cy="298.5" r="1.1" fill="#b0a8c8" stroke="none" stroke-width="1" />
<circle cx="550.9" cy="299.9" r="0.7" fill="#2a2048" stroke="none" stroke-width="1" />
<circle cx="565.0" cy="306.6" r="0.9" fill="#3a3058" stroke="none" stroke-width="1" />
<circle cx="560.6" cy="323.0" r="1.0" fill="#9a8ab0" stroke="none" stroke-width="1" />
<circle cx="588.2" cy="295.8" r="1.0" fill="#7a6a98" stroke="none" stroke-width="1" />
<circle cx="560.3" cy="326.7" r="0.7" fill="#9a8ab0" stroke="none" stroke-width="1" />
<circle cx="584.8" cy="318.9" r="0.9" fill="#3a3058" stroke="none" stroke-width="1" />
<circle cx="554.4" cy="306.0" r="0.9" fill="#7a6a98" stroke="none" stroke-width="1" />
<circle cx="584.6" cy="296.1" r="1.3" fill="#9a8ab0" stroke="none" stroke-width="1" />
<circle cx="553.8" cy="314.6" r="1.1" fill="#2a2048" stroke="none" stroke-width="1" />
<circle cx="580.5" cy="323.5" r="0.9" fill="#9a8ab0" stroke="none" stroke-width="1" />
<circle cx="554.5" cy="325.9" r="1.1" fill="#9a8ab0" stroke="none" stroke-width="1" />
<circle cx="584.9" cy="307.3" r="1.2" fill="#5a4a7a" stroke="none" stroke-width="1" />
<circle cx="539.8" cy="313.0" r="0.8" fill="#b0a8c8" stroke="none" stroke-width="1" />
<circle cx="570.9" cy="313.1" r="0.6" fill="#7a6a98" stroke="none" stroke-width="1" />
<circle cx="552.1" cy="305.2" r="0.7" fill="#9a8ab0" stroke="none" stroke-width="1" />
<circle cx="592.1" cy="291.3" r="0.7" fill="#7a6a98" stroke="none" stroke-width="1" />
<circle cx="555.4" cy="311.0" r="0.7" fill="#b0a8c8" stroke="none" stroke-width="1" />
<circle cx="597.4" cy="318.7" r="1.2" fill="#3a3058" stroke="none" stroke-width="1" />
<circle cx="548.2" cy="306.9" r="0.7" fill="#5a4a7a" stroke="none" stroke-width="1" />
<circle cx="597.4" cy="319.2" r="0.9" fill="#3a3058" stroke="none" stroke-width="1" />
<circle cx="548.1" cy="306.3" r="1.0" fill="#7a6a98" stroke="none" stroke-width="1" />
<circle cx="605.2" cy="309.9" r="0.7" fill="#7a6a98" stroke="none" stroke-width="1" />
<circle cx="548.2" cy="305.2" r="0.6" fill="#2a2048" stroke="none" stroke-width="1" />
<circle cx="584.8" cy="307.6" r="1.1" fill="#2a2048" stroke="none" stroke-width="1" />
<circle cx="548.4" cy="304.1" r="0.9" fill="#2a2048" stroke="none" stroke-width="1" />
<circle cx="576.0" cy="317.1" r="1.0" fill="#7a6a98" stroke="none" stroke-width="1" />
<circle cx="559.0" cy="319.3" r="0.9" fill="#b0a8c8" stroke="none" stroke-width="1" />
<circle cx="574.4" cy="311.6" r="0.7" fill="#5a4a7a" stroke="none" stroke-width="1" />
<circle cx="567.7" cy="314.4" r="0.9" fill="#5a4a7a" stroke="none" stroke-width="1" />
<circle cx="589.3" cy="292.0" r="1.1" fill="#7a6a98" stroke="none" stroke-width="1" />
<circle cx="545.4" cy="313.3" r="1.1" fill="#7a6a98" stroke="none" stroke-width="1" />
<circle cx="583.0" cy="302.7" r="1.3" fill="#9a8ab0" stroke="none" stroke-width="1" />
<circle cx="554.4" cy="317.2" r="1.0" fill="#5a4a7a" stroke="none" stroke-width="1" />
<circle cx="586.9" cy="312.8" r="0.9" fill="#3a3058" stroke="none" stroke-width="1" />
<circle cx="548.1" cy="310.0" r="0.6" fill="#b0a8c8" stroke="none" stroke-width="1" />
<circle cx="582.1" cy="299.5" r="0.6" fill="#5a4a7a" stroke="none" stroke-width="1" />
<circle cx="554.7" cy="323.2" r="0.7" fill="#9a8ab0" stroke="none" stroke-width="1" />
<circle cx="569.6" cy="302.2" r="0.9" fill="#b0a8c8" stroke="none" stroke-width="1" />
<circle cx="556.3" cy="305.5" r="1.3" fill="#b0a8c8" stroke="none" stroke-width="1" />
<circle cx="575.0" cy="319.9" r="0.5" fill="#9a8ab0" stroke="none" stroke-width="1" />
<circle cx="562.7" cy="315.3" r="1.1" fill="#9a8ab0" stroke="none" stroke-width="1" />
<circle cx="595.4" cy="325.6" r="0.6" fill="#7a6a98" stroke="none" stroke-width="1" />
<circle cx="554.9" cy="300.4" r="0.9" fill="#5a4a7a" stroke="none" stroke-width="1" />
<circle cx="583.7" cy="316.5" r="0.9" fill="#7a6a98" stroke="none" stroke-width="1" />
<circle cx="536.8" cy="322.2" r="0.5" fill="#7a6a98" stroke="none" stroke-width="1" />
<circle cx="576.1" cy="304.3" r="1.2" fill="#5a4a7a" stroke="none" stroke-width="1" />
<circle cx="552.1" cy="308.5" r="0.7" fill="#3a3058" stroke="none" stroke-width="1" />
<circle cx="584.1" cy="320.9" r="1.2" fill="#3a3058" stroke="none" stroke-width="1" />
<circle cx="536.5" cy="324.4" r="0.8" fill="#b0a8c8" stroke="none" stroke-width="1" />
<circle cx="607.0" cy="322.3" r="0.7" fill="#7a6a98" stroke="none" stroke-width="1" />
<circle cx="551.5" cy="310.6" r="1.0" fill="#2a2048" stroke="none" stroke-width="1" />
<circle cx="582.9" cy="313.5" r="1.2" fill="#9a8ab0" stroke="none" stroke-width="1" />
<circle cx="545.4" cy="312.9" r="0.7" fill="#5a4a7a" stroke="none" stroke-width="1" />
<circle cx="592.1" cy="303.7" r="1.0" fill="#5a4a7a" stroke="none" stroke-width="1" />
<circle cx="568.7" cy="296.3" r="0.7" fill="#7a6a98" stroke="none" stroke-width="1" />
<circle cx="576.5" cy="307.6" r="0.7" fill="#2a2048" stroke="none" stroke-width="1" />
<circle cx="557.6" cy="310.0" r="0.8" fill="#5a4a7a" stroke="none" stroke-width="1" />
<circle cx="576.0" cy="323.8" r="1.2" fill="#5a4a7a" stroke="none" stroke-width="1" />
<circle cx="547.7" cy="325.9" r="1.1" fill="#b0a8c8" stroke="none" stroke-width="1" />
<circle cx="606.0" cy="305.3" r="0.7" fill="#7a6a98" stroke="none" stroke-width="1" />
<circle cx="547.0" cy="319.9" r="1.3" fill="#5a4a7a" stroke="none" stroke-width="1" />
<circle cx="585.6" cy="307.1" r="1.0" fill="#7a6a98" stroke="none" stroke-width="1" />
<circle cx="586.8" cy="303.2" r="0.6" fill="#3a3058" stroke="none" stroke-width="1" />
<circle cx="568.1" cy="303.8" r="1.3" fill="#9a8ab0" stroke="none" stroke-width="1" />
<circle cx="577.4" cy="299.4" r="0.7" fill="#5a4a7a" stroke="none" stroke-width="1" />
<circle cx="545.4" cy="306.0" r="1.0" fill="#7a6a98" stroke="none" stroke-width="1" />
<circle cx="587.5" cy="299.4" r="0.5" fill="#b0a8c8" stroke="none" stroke-width="1" />
<circle cx="556.8" cy="313.1" r="0.9" fill="#9a8ab0" stroke="none" stroke-width="1" />
<circle cx="599.6" cy="312.4" r="0.6" fill="#2a2048" stroke="none" stroke-width="1" />
<circle cx="538.1" cy="307.2" r="1.2" fill="#7a6a98" stroke="none" stroke-width="1" />
<circle cx="577.5" cy="313.1" r="1.1" fill="#3a3058" stroke="none" stroke-width="1" />
<circle cx="551.8" cy="313.8" r="0.8" fill="#7a6a98" stroke="none" stroke-width="1" />
<circle cx="564.8" cy="313.0" r="1.2" fill="#7a6a98" stroke="none" stroke-width="1" />
<circle cx="555.4" cy="309.5" r="0.8" fill="#b0a8c8" stroke="none" stroke-width="1" />
<circle cx="577.5" cy="318.1" r="1.2" fill="#7a6a98" stroke="none" stroke-width="1" />
<circle cx="553.8" cy="308.4" r="1.3" fill="#3a3058" stroke="none" stroke-width="1" />
<circle cx="590.6" cy="315.4" r="0.7" fill="#3a3058" stroke="none" stroke-width="1" />
<circle cx="554.6" cy="313.5" r="0.8" fill="#b0a8c8" stroke="none" stroke-width="1" />
<circle cx="567.7" cy="303.8" r="1.2" fill="#2a2048" stroke="none" stroke-width="1" />
<circle cx="548.9" cy="302.3" r="0.7" fill="#5a4a7a" stroke="none" stroke-width="1" />
<circle cx="593.7" cy="306.0" r="0.7" fill="#5a4a7a" stroke="none" stroke-width="1" />
<circle cx="550.4" cy="305.2" r="1.1" fill="#7a6a98" stroke="none" stroke-width="1" />
<circle cx="585.6" cy="296.1" r="0.7" fill="#7a6a98" stroke="none" stroke-width="1" />
<circle cx="554.9" cy="327.7" r="1.1" fill="#5a4a7a" stroke="none" stroke-width="1" />
<circle cx="590.2" cy="308.9" r="1.3" fill="#9a8ab0" stroke="none" stroke-width="1" />
<circle cx="535.6" cy="316.0" r="1.1" fill="#5a4a7a" stroke="none" stroke-width="1" />
<circle cx="583.9" cy="300.6" r="0.5" fill="#9a8ab0" stroke="none" stroke-width="1" />
<circle cx="555.9" cy="311.2" r="1.1" fill="#9a8ab0" stroke="none" stroke-width="1" />
<circle cx="605.2" cy="298.5" r="1.2" fill="#3a3058" stroke="none" stroke-width="1" />
<circle cx="550.9" cy="312.3" r="1.1" fill="#7a6a98" stroke="none" stroke-width="1" />
<circle cx="570.1" cy="307.3" r="0.5" fill="#3a3058" stroke="none" stroke-width="1" />
<circle cx="574.3" cy="296.1" r="1.3" fill="#3a3058" stroke="none" stroke-width="1" />
<circle cx="577.5" cy="305.6" r="1.0" fill="#9a8ab0" stroke="none" stroke-width="1" />
<circle cx="555.0" cy="304.0" r="0.7" fill="#2a2048" stroke="none" stroke-width="1" />
<circle cx="580.9" cy="322.0" r="0.7" fill="#3a3058" stroke="none" stroke-width="1" />
<circle cx="557.5" cy="311.0" r="1.2" fill="#b0a8c8" stroke="none" stroke-width="1" />
<circle cx="583.0" cy="314.7" r="0.8" fill="#2a2048" stroke="none" stroke-width="1" />
<circle cx="551.6" cy="305.3" r="0.9" fill="#3a3058" stroke="none" stroke-width="1" />
<circle cx="572.8" cy="296.0" r="0.9" fill="#9a8ab0" stroke="none" stroke-width="1" />
<circle cx="546.6" cy="327.7" r="1.0" fill="#9a8ab0" stroke="none" stroke-width="1" />
<circle cx="584.8" cy="314.2" r="1.0" fill="#7a6a98" stroke="none" stroke-width="1" />
<circle cx="538.4" cy="304.2" r="0.9" fill="#5a4a7a" stroke="none" stroke-width="1" />
<circle cx="570.6" cy="295.4" r="0.7" fill="#b0a8c8" stroke="none" stroke-width="1" />
<circle cx="557.9" cy="322.0" r="1.3" fill="#5a4a7a" stroke="none" stroke-width="1" />
<circle cx="599.3" cy="316.2" r="0.7" fill="#9a8ab0" stroke="none" stroke-width="1" />
<circle cx="539.9" cy="317.6" r="0.7" fill="#7a6a98" stroke="none" stroke-width="1" />
<circle cx="597.6" cy="314.7" r="1.1" fill="#3a3058" stroke="none" stroke-width="1" />
<circle cx="560.2" cy="304.6" r="0.6" fill="#2a2048" stroke="none" stroke-width="1" />
<circle cx="586.7" cy="310.1" r="1.1" fill="#2a2048" stroke="none" stroke-width="1" />
<circle cx="570.8" cy="310.4" r="0.7" fill="#9a8ab0" stroke="none" stroke-width="1" />
<circle cx="558.4" cy="306.4" r="1.0" fill="#5a4a7a" stroke="none" stroke-width="1" />
<circle cx="584.4" cy="309.6" r="0.7" fill="#9a8ab0" stroke="none" stroke-width="1" />
<circle cx="531.8" cy="321.3" r="1.0" fill="#7a6a98" stroke="none" stroke-width="1" />
<circle cx="598.8" cy="304.3" r="1.2" fill="#9a8ab0" stroke="none" stroke-width="1" />
<circle cx="548.3" cy="325.7" r="0.7" fill="#b0a8c8" stroke="none" stroke-width="1" />
<circle cx="579.7" cy="314.9" r="0.8" fill="#9a8ab0" stroke="none" stroke-width="1" />
<circle cx="543.4" cy="312.5" r="0.6" fill="#5a4a7a" stroke="none" stroke-width="1" />
<circle cx="589.1" cy="306.2" r="1.0" fill="#5a4a7a" stroke="none" stroke-width="1" />
<circle cx="558.9" cy="322.3" r="0.8" fill="#2a2048" stroke="none" stroke-width="1" />
<circle cx="583.3" cy="297.2" r="0.6" fill="#3a3058" stroke="none" stroke-width="1" />
<circle cx="559.3" cy="305.5" r="1.2" fill="#2a2048" stroke="none" stroke-width="1" />
<circle cx="596.5" cy="327.5" r="0.8" fill="#7a6a98" stroke="none" stroke-width="1" />
<circle cx="548.9" cy="313.5" r="0.6" fill="#5a4a7a" stroke="none" stroke-width="1" />
<circle cx="595.0" cy="306.0" r="1.0" fill="#5a4a7a" stroke="none" stroke-width="1" />
<circle cx="528.8" cy="324.7" r="0.8" fill="#b0a8c8" stroke="none" stroke-width="1" />
<circle cx="579.1" cy="298.9" r="1.2" fill="#3a3058" stroke="none" stroke-width="1" />
<circle cx="559.5" cy="317.7" r="0.6" fill="#9a8ab0" stroke="none" stroke-width="1" />
<circle cx="588.8" cy="302.1" r="0.8" fill="#b0a8c8" stroke="none" stroke-width="1" />
<circle cx="547.4" cy="313.5" r="1.1" fill="#9a8ab0" stroke="none" stroke-width="1" />
<circle cx="602.1" cy="313.5" r="1.2" fill="#2a2048" stroke="none" stroke-width="1" />
<circle cx="552.0" cy="320.5" r="0.9" fill="#7a6a98" stroke="none" stroke-width="1" />
<circle cx="592.1" cy="301.6" r="0.8" fill="#9a8ab0" stroke="none" stroke-width="1" />
<circle cx="559.5" cy="300.6" r="1.2" fill="#3a3058" stroke="none" stroke-width="1" />
<circle cx="573.8" cy="315.1" r="0.5" fill="#b0a8c8" stroke="none" stroke-width="1" />
<circle cx="549.7" cy="306.9" r="0.9" fill="#7a6a98" stroke="none" stroke-width="1" />
<circle cx="574.6" cy="304.4" r="0.7" fill="#b0a8c8" stroke="none" stroke-width="1" />
<circle cx="553.9" cy="305.3" r="0.8" fill="#5a4a7a" stroke="none" stroke-width="1" />
<circle cx="578.6" cy="323.2" r="0.7" fill="#7a6a98" stroke="none" stroke-width="1" />
<circle cx="551.0" cy="311.3" r="1.0" fill="#7a6a98" stroke="none" stroke-width="1" />
<circle cx="590.5" cy="310.7" r="0.9" fill="#b0a8c8" stroke="none" stroke-width="1" />
<circle cx="532.9" cy="315.7" r="1.3" fill="#7a6a98" stroke="none" stroke-width="1" />
<circle cx="576.6" cy="315.2" r="0.6" fill="#5a4a7a" stroke="none" stroke-width="1" />
<circle cx="560.1" cy="324.9" r="0.6" fill="#7a6a98" stroke="none" stroke-width="1" />
<circle cx="577.5" cy="301.9" r="1.3" fill="#2a2048" stroke="none" stroke-width="1" />
<circle cx="547.8" cy="315.2" r="0.9" fill="#5a4a7a" stroke="none" stroke-width="1" />
<circle cx="597.9" cy="314.8" r="1.3" fill="#b0a8c8" stroke="none" stroke-width="1" />
<circle cx="564.5" cy="310.9" r="0.8" fill="#5a4a7a" stroke="none" stroke-width="1" />
<circle cx="588.5" cy="323.6" r="0.5" fill="#b0a8c8" stroke="none" stroke-width="1" />
<circle cx="551.6" cy="310.4" r="1.0" fill="#2a2048" stroke="none" stroke-width="1" />
<circle cx="583.8" cy="304.0" r="0.6" fill="#9a8ab0" stroke="none" stroke-width="1" />
<circle cx="551.1" cy="316.5" r="1.0" fill="#7a6a98" stroke="none" stroke-width="1" />
<circle cx="598.2" cy="299.5" r="0.5" fill="#5a4a7a" stroke="none" stroke-width="1" />
<circle cx="569.1" cy="305.9" r="0.8" fill="#3a3058" stroke="none" stroke-width="1" />
<circle cx="578.0" cy="315.5" r="1.0" fill="#3a3058" stroke="none" stroke-width="1" />
<circle cx="575.2" cy="315.1" r="0.5" fill="#9a8ab0" stroke="none" stroke-width="1" />
<circle cx="573.4" cy="305.6" r="0.8" fill="#b0a8c8" stroke="none" stroke-width="1" />
<circle cx="534.0" cy="316.0" r="0.6" fill="#7a6a98" stroke="none" stroke-width="1" />
<circle cx="592.0" cy="297.8" r="0.7" fill="#7a6a98" stroke="none" stroke-width="1" />
<circle cx="545.9" cy="325.0" r="0.6" fill="#2a2048" stroke="none" stroke-width="1" />
<circle cx="596.3" cy="302.7" r="1.2" fill="#2a2048" stroke="none" stroke-width="1" />
<circle cx="558.3" cy="306.5" r="0.9" fill="#3a3058" stroke="none" stroke-width="1" />
<circle cx="593.7" cy="308.2" r="1.1" fill="#3a3058" stroke="none" stroke-width="1" />
<circle cx="554.8" cy="305.9" r="0.9" fill="#7a6a98" stroke="none" stroke-width="1" />
<circle cx="551.3" cy="305.7" r="0.9" fill="#7a6a98" stroke="none" stroke-width="1" />
<circle cx="587.2" cy="313.6" r="0.9" fill="#b0a8c8" stroke="none" stroke-width="1" />
<circle cx="544.7" cy="307.0" r="1.0" fill="#3a3058" stroke="none" stroke-width="1" />
<circle cx="574.8" cy="307.3" r="0.7" fill="#3a3058" stroke="none" stroke-width="1" />
<circle cx="557.3" cy="317.9" r="0.5" fill="#b0a8c8" stroke="none" stroke-width="1" />
<circle cx="597.1" cy="303.5" r="0.9" fill="#b0a8c8" stroke="none" stroke-width="1" />
<circle cx="547.1" cy="309.0" r="1.3" fill="#9a8ab0" stroke="none" stroke-width="1" />
<circle cx="578.2" cy="323.7" r="0.6" fill="#7a6a98" stroke="none" stroke-width="1" />
<circle cx="548.7" cy="324.7" r="0.7" fill="#7a6a98" stroke="none" stroke-width="1" />
<circle cx="580.9" cy="312.6" r="1.2" fill="#5a4a7a" stroke="none" stroke-width="1" />
<circle cx="567.5" cy="301.4" r="1.2" fill="#3a3058" stroke="none" stroke-width="1" />
<circle cx="591.6" cy="304.6" r="0.9" fill="#b0a8c8" stroke="none" stroke-width="1" />
<circle cx="531.7" cy="309.0" r="0.7" fill="#2a2048" stroke="none" stroke-width="1" />
<circle cx="583.7" cy="313.3" r="0.5" fill="#2a2048" stroke="none" stroke-width="1" />
<circle cx="554.9" cy="313.7" r="0.9" fill="#9a8ab0" stroke="none" stroke-width="1" />
<circle cx="580.9" cy="301.2" r="0.9" fill="#2a2048" stroke="none" stroke-width="1" />
<circle cx="536.6" cy="317.7" r="0.7" fill="#2a2048" stroke="none" stroke-width="1" />
<circle cx="594.4" cy="302.1" r="0.5" fill="#9a8ab0" stroke="none" stroke-width="1" />
<circle cx="562.3" cy="320.0" r="0.9" fill="#7a6a98" stroke="none" stroke-width="1" />
<circle cx="583.7" cy="327.7" r="0.7" fill="#3a3058" stroke="none" stroke-width="1" />
<circle cx="551.3" cy="319.8" r="1.2" fill="#5a4a7a" stroke="none" stroke-width="1" />
<circle cx="594.2" cy="311.9" r="1.1" fill="#7a6a98" stroke="none" stroke-width="1" />
<circle cx="592.0" cy="303.2" r="1.2" fill="#5a4a7a" stroke="none" stroke-width="1" />
<circle cx="557.0" cy="304.1" r="1.3" fill="#5a4a7a" stroke="none" stroke-width="1" />
<circle cx="583.9" cy="299.9" r="1.0" fill="#9a8ab0" stroke="none" stroke-width="1" />
<circle cx="556.9" cy="319.6" r="0.6" fill="#9a8ab0" stroke="none" stroke-width="1" />
<circle cx="588.1" cy="293.2" r="0.9" fill="#9a8ab0" stroke="none" stroke-width="1" />
<circle cx="544.8" cy="317.6" r="0.7" fill="#7a6a98" stroke="none" stroke-width="1" />
<circle cx="569.3" cy="302.6" r="0.9" fill="#7a6a98" stroke="none" stroke-width="1" />
<circle cx="540.4" cy="321.6" r="1.1" fill="#2a2048" stroke="none" stroke-width="1" />
<circle cx="582.0" cy="305.3" r="1.1" fill="#9a8ab0" stroke="none" stroke-width="1" />
<circle cx="550.2" cy="316.7" r="1.1" fill="#5a4a7a" stroke="none" stroke-width="1" />
<circle cx="579.7" cy="297.2" r="0.5" fill="#5a4a7a" stroke="none" stroke-width="1" />
<circle cx="543.5" cy="295.9" r="0.6" fill="#2a2048" stroke="none" stroke-width="1" />
<circle cx="583.5" cy="304.7" r="0.7" fill="#9a8ab0" stroke="none" stroke-width="1" />
<circle cx="556.4" cy="313.3" r="1.2" fill="#9a8ab0" stroke="none" stroke-width="1" />
<circle cx="583.8" cy="310.2" r="0.9" fill="#9a8ab0" stroke="none" stroke-width="1" />
<circle cx="557.9" cy="309.9" r="1.1" fill="#3a3058" stroke="none" stroke-width="1" />
<circle cx="598.9" cy="308.5" r="1.0" fill="#7a6a98" stroke="none" stroke-width="1" />
<circle cx="557.0" cy="316.8" r="1.1" fill="#b0a8c8" stroke="none" stroke-width="1" />
<circle cx="587.2" cy="293.1" r="0.9" fill="#7a6a98" stroke="none" stroke-width="1" />
<circle cx="556.6" cy="319.7" r="0.8" fill="#b0a8c8" stroke="none" stroke-width="1" />
<circle cx="571.7" cy="301.6" r="0.9" fill="#9a8ab0" stroke="none" stroke-width="1" />
<circle cx="546.6" cy="323.8" r="0.8" fill="#3a3058" stroke="none" stroke-width="1" />
<circle cx="600.7" cy="321.4" r="1.0" fill="#9a8ab0" stroke="none" stroke-width="1" />
<circle cx="557.2" cy="307.6" r="1.1" fill="#2a2048" stroke="none" stroke-width="1" />
<circle cx="576.7" cy="319.2" r="0.9" fill="#3a3058" stroke="none" stroke-width="1" />
<circle cx="549.6" cy="311.7" r="0.7" fill="#7a6a98" stroke="none" stroke-width="1" />
<circle cx="587.5" cy="292.7" r="1.2" fill="#7a6a98" stroke="none" stroke-width="1" />
<circle cx="585.2" cy="314.4" r="0.8" fill="#9a8ab0" stroke="none" stroke-width="1" />
<circle cx="607.1" cy="310.8" r="1.1" fill="#5a4a7a" stroke="none" stroke-width="1" />
<circle cx="555.8" cy="306.1" r="0.9" fill="#3a3058" stroke="none" stroke-width="1" />
<circle cx="588.2" cy="311.2" r="0.6" fill="#5a4a7a" stroke="none" stroke-width="1" />
<circle cx="568.8" cy="325.9" r="1.0" fill="#9a8ab0" stroke="none" stroke-width="1" />
<circle cx="578.3" cy="308.6" r="1.0" fill="#5a4a7a" stroke="none" stroke-width="1" />
<circle cx="570.6" cy="330.2" r="0.8" fill="#9a8ab0" stroke="none" stroke-width="1" />
<circle cx="601.5" cy="315.8" r="1.0" fill="#3a3058" stroke="none" stroke-width="1" />
<circle cx="553.8" cy="318.6" r="0.9" fill="#7a6a98" stroke="none" stroke-width="1" />
<circle cx="589.5" cy="314.9" r="1.2" fill="#5a4a7a" stroke="none" stroke-width="1" />
<circle cx="534.8" cy="318.4" r="0.8" fill="#9a8ab0" stroke="none" stroke-width="1" />
<circle cx="605.9" cy="311.3" r="1.1" fill="#7a6a98" stroke="none" stroke-width="1" />
<circle cx="557.2" cy="323.4" r="0.9" fill="#b0a8c8" stroke="none" stroke-width="1" />
<circle cx="593.6" cy="318.5" r="1.2" fill="#5a4a7a" stroke="none" stroke-width="1" />
<circle cx="568.9" cy="320.4" r="0.9" fill="#b0a8c8" stroke="none" stroke-width="1" />
<circle cx="564.3" cy="314.0" r="1.3" fill="#7a6a98" stroke="none" stroke-width="1" />
<circle cx="545.7" cy="308.6" r="0.7" fill="#b0a8c8" stroke="none" stroke-width="1" />
<circle cx="584.9" cy="306.2" r="0.5" fill="#2a2048" stroke="none" stroke-width="1" />
<circle cx="550.3" cy="315.0" r="0.9" fill="#3a3058" stroke="none" stroke-width="1" />
<circle cx="577.5" cy="306.7" r="0.9" fill="#2a2048" stroke="none" stroke-width="1" />
<circle cx="557.1" cy="311.2" r="0.7" fill="#2a2048" stroke="none" stroke-width="1" />
<circle cx="586.3" cy="308.3" r="1.1" fill="#b0a8c8" stroke="none" stroke-width="1" />
<circle cx="577.2" cy="306.4" r="1.2" fill="#5a4a7a" stroke="none" stroke-width="1" />
<circle cx="556.9" cy="318.8" r="1.2" fill="#2a2048" stroke="none" stroke-width="1" />
<circle cx="539.8" cy="311.8" r="1.3" fill="#9a8ab0" stroke="none" stroke-width="1" />
<circle cx="588.5" cy="302.9" r="1.2" fill="#5a4a7a" stroke="none" stroke-width="1" />
<circle cx="554.4" cy="309.0" r="1.3" fill="#7a6a98" stroke="none" stroke-width="1" />
<circle cx="588.0" cy="304.2" r="0.8" fill="#2a2048" stroke="none" stroke-width="1" />
<circle cx="549.3" cy="313.1" r="0.9" fill="#5a4a7a" stroke="none" stroke-width="1" />
<circle cx="570.2" cy="317.0" r="0.9" fill="#7a6a98" stroke="none" stroke-width="1" />
<circle cx="558.3" cy="320.5" r="1.2" fill="#2a2048" stroke="none" stroke-width="1" />
<circle cx="598.9" cy="306.3" r="1.1" fill="#5a4a7a" stroke="none" stroke-width="1" />
<circle cx="554.3" cy="314.6" r="0.5" fill="#b0a8c8" stroke="none" stroke-width="1" />
<circle cx="606.1" cy="309.9" r="0.6" fill="#b0a8c8" stroke="none" stroke-width="1" />
<circle cx="553.9" cy="308.1" r="1.1" fill="#7a6a98" stroke="none" stroke-width="1" />
<circle cx="579.9" cy="317.7" r="1.3" fill="#5a4a7a" stroke="none" stroke-width="1" />
<circle cx="546.0" cy="299.2" r="0.9" fill="#7a6a98" stroke="none" stroke-width="1" />
<circle cx="578.0" cy="297.9" r="0.5" fill="#3a3058" stroke="none" stroke-width="1" />
<circle cx="538.6" cy="305.7" r="1.2" fill="#9a8ab0" stroke="none" stroke-width="1" />
<circle cx="581.5" cy="309.8" r="0.9" fill="#3a3058" stroke="none" stroke-width="1" />
<circle cx="561.6" cy="312.0" r="1.2" fill="#9a8ab0" stroke="none" stroke-width="1" />
<circle cx="578.0" cy="310.3" r="0.7" fill="#3a3058" stroke="none" stroke-width="1" />
<circle cx="552.1" cy="314.1" r="1.1" fill="#3a3058" stroke="none" stroke-width="1" />
<circle cx="601.5" cy="311.6" r="0.9" fill="#2a2048" stroke="none" stroke-width="1" />
<circle cx="575.2" cy="307.2" r="0.8" fill="#9a8ab0" stroke="none" stroke-width="1" />
<circle cx="577.2" cy="313.8" r="1.2" fill="#5a4a7a" stroke="none" stroke-width="1" />
<circle cx="567.9" cy="328.6" r="0.6" fill="#5a4a7a" stroke="none" stroke-width="1" />
<circle cx="572.9" cy="306.8" r="0.6" fill="#5a4a7a" stroke="none" stroke-width="1" />
<circle cx="543.8" cy="313.1" r="1.1" fill="#3a3058" stroke="none" stroke-width="1" />
<circle cx="583.6" cy="300.9" r="1.1" fill="#9a8ab0" stroke="none" stroke-width="1" />
<circle cx="573.5" cy="314.9" r="0.8" fill="#b0a8c8" stroke="none" stroke-width="1" />
<circle cx="570.3" cy="315.6" r="0.6" fill="#2a2048" stroke="none" stroke-width="1" />
<circle cx="562.6" cy="316.6" r="1.3" fill="#3a3058" stroke="none" stroke-width="1" />
<circle cx="558.0" cy="302.8" r="0.6" fill="#9a8ab0" stroke="none" stroke-width="1" />
<circle cx="563.7" cy="311.2" r="0.6" fill="#9a8ab0" stroke="none" stroke-width="1" />
<circle cx="596.4" cy="311.6" r="0.7" fill="#5a4a7a" stroke="none" stroke-width="1" />
<circle cx="553.0" cy="309.1" r="1.0" fill="#5a4a7a" stroke="none" stroke-width="1" />
<circle cx="600.0" cy="302.3" r="1.2" fill="#7a6a98" stroke="none" stroke-width="1" />
<circle cx="544.7" cy="304.8" r="0.7" fill="#3a3058" stroke="none" stroke-width="1" />
<circle cx="604.0" cy="309.6" r="0.7" fill="#b0a8c8" stroke="none" stroke-width="1" />
<circle cx="542.5" cy="307.5" r="0.7" fill="#b0a8c8" stroke="none" stroke-width="1" />
<circle cx="602.0" cy="293.1" r="1.0" fill="#b0a8c8" stroke="none" stroke-width="1" />
<circle cx="556.2" cy="307.4" r="0.9" fill="#b0a8c8" stroke="none" stroke-width="1" />
<circle cx="590.9" cy="299.6" r="1.2" fill="#5a4a7a" stroke="none" stroke-width="1" />
<circle cx="554.9" cy="319.9" r="0.6" fill="#7a6a98" stroke="none" stroke-width="1" />
<circle cx="582.4" cy="316.6" r="0.9" fill="#2a2048" stroke="none" stroke-width="1" />
<circle cx="570.0" cy="325.2" r="1.2" fill="#5a4a7a" stroke="none" stroke-width="1" />
<circle cx="578.3" cy="302.0" r="0.8" fill="#2a2048" stroke="none" stroke-width="1" />
<circle cx="556.6" cy="313.4" r="1.2" fill="#3a3058" stroke="none" stroke-width="1" />
<circle cx="585.3" cy="301.1" r="0.6" fill="#b0a8c8" stroke="none" stroke-width="1" />
<circle cx="537.2" cy="315.0" r="1.2" fill="#9a8ab0" stroke="none" stroke-width="1" />
<circle cx="587.5" cy="311.5" r="0.6" fill="#2a2048" stroke="none" stroke-width="1" />
<circle cx="544.5" cy="328.2" r="1.2" fill="#5a4a7a" stroke="none" stroke-width="1" />
<circle cx="580.9" cy="315.1" r="0.6" fill="#3a3058" stroke="none" stroke-width="1" />
<circle cx="553.7" cy="310.6" r="0.7" fill="#2a2048" stroke="none" stroke-width="1" />
<circle cx="589.8" cy="308.9" r="0.7" fill="#7a6a98" stroke="none" stroke-width="1" />
<circle cx="545.1" cy="298.0" r="0.6" fill="#9a8ab0" stroke="none" stroke-width="1" />
<circle cx="578.3" cy="293.0" r="0.6" fill="#3a3058" stroke="none" stroke-width="1" />
<circle cx="550.5" cy="317.9" r="0.8" fill="#b0a8c8" stroke="none" stroke-width="1" />
<circle cx="595.3" cy="317.8" r="1.1" fill="#9a8ab0" stroke="none" stroke-width="1" />
<circle cx="557.2" cy="310.9" r="1.3" fill="#7a6a98" stroke="none" stroke-width="1" />
<circle cx="589.1" cy="310.2" r="1.2" fill="#3a3058" stroke="none" stroke-width="1" />
<circle cx="542.4" cy="291.6" r="0.6" fill="#9a8ab0" stroke="none" stroke-width="1" />
<circle cx="575.3" cy="300.9" r="1.1" fill="#7a6a98" stroke="none" stroke-width="1" />
<circle cx="596.7" cy="290.4" r="0.5" fill="#3a3058" stroke="none" stroke-width="1" />
<circle cx="572.8" cy="319.4" r="0.5" fill="#9a8ab0" stroke="none" stroke-width="1" />
<circle cx="582.7" cy="318.8" r="1.2" fill="#9a8ab0" stroke="none" stroke-width="1" />
<circle cx="553.6" cy="302.0" r="0.5" fill="#5a4a7a" stroke="none" stroke-width="1" />
<circle cx="584.3" cy="300.1" r="0.6" fill="#7a6a98" stroke="none" stroke-width="1" />
<circle cx="539.7" cy="312.8" r="1.2" fill="#b0a8c8" stroke="none" stroke-width="1" />
<circle cx="596.7" cy="317.4" r="1.3" fill="#b0a8c8" stroke="none" stroke-width="1" />
<circle cx="537.7" cy="306.9" r="0.6" fill="#3a3058" stroke="none" stroke-width="1" />
<circle cx="589.1" cy="303.9" r="0.6" fill="#2a2048" stroke="none" stroke-width="1" />
<circle cx="541.5" cy="323.7" r="1.0" fill="#b0a8c8" stroke="none" stroke-width="1" />
<circle cx="583.6" cy="323.7" r="1.3" fill="#3a3058" stroke="none" stroke-width="1" />
<circle cx="567.3" cy="324.2" r="0.8" fill="#5a4a7a" stroke="none" stroke-width="1" />
<circle cx="545.7" cy="322.5" r="1.2" fill="#b0a8c8" stroke="none" stroke-width="1" />
<circle cx="577.5" cy="305.4" r="1.2" fill="#5a4a7a" stroke="none" stroke-width="1" />
<circle cx="568.6" cy="314.3" r="0.6" fill="#2a2048" stroke="none" stroke-width="1" />
<circle cx="574.1" cy="301.6" r="0.6" fill="#9a8ab0" stroke="none" stroke-width="1" />
<circle cx="539.7" cy="316.5" r="1.2" fill="#3a3058" stroke="none" stroke-width="1" />
<circle cx="590.3" cy="318.8" r="1.1" fill="#5a4a7a" stroke="none" stroke-width="1" />
<circle cx="570.2" cy="305.8" r="0.6" fill="#5a4a7a" stroke="none" stroke-width="1" />
<circle cx="590.4" cy="316.5" r="1.1" fill="#9a8ab0" stroke="none" stroke-width="1" />
<circle cx="561.3" cy="309.5" r="0.7" fill="#9a8ab0" stroke="none" stroke-width="1" />
<circle cx="576.7" cy="311.6" r="0.6" fill="#9a8ab0" stroke="none" stroke-width="1" />
<circle cx="547.7" cy="310.0" r="1.0" fill="#3a3058" stroke="none" stroke-width="1" />
<circle cx="578.9" cy="316.1" r="1.1" fill="#2a2048" stroke="none" stroke-width="1" />
<circle cx="541.4" cy="317.1" r="0.6" fill="#2a2048" stroke="none" stroke-width="1" />
<circle cx="583.5" cy="298.4" r="0.6" fill="#5a4a7a" stroke="none" stroke-width="1" />
<circle cx="563.1" cy="316.5" r="0.9" fill="#5a4a7a" stroke="none" stroke-width="1" />
<circle cx="575.2" cy="293.3" r="0.7" fill="#9a8ab0" stroke="none" stroke-width="1" />
<circle cx="551.3" cy="299.8" r="1.0" fill="#b0a8c8" stroke="none" stroke-width="1" />
<circle cx="584.4" cy="307.7" r="0.7" fill="#9a8ab0" stroke="none" stroke-width="1" />
<circle cx="560.2" cy="322.7" r="0.8" fill="#9a8ab0" stroke="none" stroke-width="1" />
<circle cx="586.0" cy="316.3" r="0.5" fill="#5a4a7a" stroke="none" stroke-width="1" />
<circle cx="547.2" cy="311.8" r="0.8" fill="#9a8ab0" stroke="none" stroke-width="1" />
<circle cx="584.8" cy="319.6" r="0.7" fill="#b0a8c8" stroke="none" stroke-width="1" />
<circle cx="564.6" cy="303.1" r="0.6" fill="#9a8ab0" stroke="none" stroke-width="1" />
<circle cx="599.7" cy="318.1" r="1.0" fill="#2a2048" stroke="none" stroke-width="1" />
<circle cx="557.9" cy="310.5" r="1.1" fill="#9a8ab0" stroke="none" stroke-width="1" />
<circle cx="581.5" cy="298.3" r="1.2" fill="#2a2048" stroke="none" stroke-width="1" />
<circle cx="539.2" cy="308.9" r="0.7" fill="#b0a8c8" stroke="none" stroke-width="1" />
<circle cx="592.1" cy="316.5" r="1.2" fill="#2a2048" stroke="none" stroke-width="1" />
<circle cx="549.2" cy="330.6" r="0.9" fill="#7a6a98" stroke="none" stroke-width="1" />
<circle cx="591.0" cy="320.6" r="1.2" fill="#2a2048" stroke="none" stroke-width="1" />
<circle cx="544.3" cy="294.1" r="1.0" fill="#5a4a7a" stroke="none" stroke-width="1" />
<circle cx="575.8" cy="296.3" r="1.2" fill="#7a6a98" stroke="none" stroke-width="1" />
<circle cx="570.5" cy="307.9" r="0.9" fill="#3a3058" stroke="none" stroke-width="1" />
<circle cx="565.9" cy="301.1" r="0.6" fill="#b0a8c8" stroke="none" stroke-width="1" />
<circle cx="560.5" cy="296.7" r="1.1" fill="#9a8ab0" stroke="none" stroke-width="1" />
<circle cx="588.3" cy="299.2" r="0.8" fill="#7a6a98" stroke="none" stroke-width="1" />
<circle cx="549.0" cy="314.6" r="0.8" fill="#2a2048" stroke="none" stroke-width="1" />
<circle cx="580.9" cy="307.7" r="1.3" fill="#b0a8c8" stroke="none" stroke-width="1" />
<circle cx="531.8" cy="317.0" r="0.9" fill="#b0a8c8" stroke="none" stroke-width="1" />
<circle cx="591.5" cy="292.5" r="0.8" fill="#2a2048" stroke="none" stroke-width="1" />
<circle cx="548.6" cy="313.0" r="0.6" fill="#7a6a98" stroke="none" stroke-width="1" />
<circle cx="586.3" cy="314.2" r="0.8" fill="#7a6a98" stroke="none" stroke-width="1" />
<circle cx="541.8" cy="325.0" r="0.8" fill="#b0a8c8" stroke="none" stroke-width="1" />
<circle cx="584.4" cy="304.8" r="1.1" fill="#3a3058" stroke="none" stroke-width="1" />
<circle cx="536.8" cy="310.3" r="1.2" fill="#9a8ab0" stroke="none" stroke-width="1" />
<circle cx="566.4" cy="306.9" r="0.6" fill="#7a6a98" stroke="none" stroke-width="1" />
<circle cx="545.5" cy="310.8" r="1.0" fill="#9a8ab0" stroke="none" stroke-width="1" />
<circle cx="579.2" cy="319.8" r="0.5" fill="#7a6a98" stroke="none" stroke-width="1" />
<circle cx="561.2" cy="311.3" r="0.9" fill="#9a8ab0" stroke="none" stroke-width="1" />
<circle cx="585.0" cy="315.3" r="1.1" fill="#9a8ab0" stroke="none" stroke-width="1" />
<circle cx="557.2" cy="316.4" r="0.9" fill="#5a4a7a" stroke="none" stroke-width="1" />
<circle cx="587.9" cy="313.9" r="0.6" fill="#b0a8c8" stroke="none" stroke-width="1" />
<circle cx="554.9" cy="302.1" r="1.2" fill="#3a3058" stroke="none" stroke-width="1" />
<circle cx="602.7" cy="308.0" r="1.3" fill="#5a4a7a" stroke="none" stroke-width="1" />
<circle cx="544.4" cy="312.0" r="1.1" fill="#5a4a7a" stroke="none" stroke-width="1" />
<circle cx="595.7" cy="314.5" r="0.6" fill="#7a6a98" stroke="none" stroke-width="1" />
<circle cx="544.4" cy="306.9" r="0.6" fill="#5a4a7a" stroke="none" stroke-width="1" />
<circle cx="584.8" cy="305.1" r="0.7" fill="#5a4a7a" stroke="none" stroke-width="1" />
<circle cx="551.3" cy="302.6" r="1.2" fill="#7a6a98" stroke="none" stroke-width="1" />
<circle cx="576.6" cy="308.1" r="0.9" fill="#5a4a7a" stroke="none" stroke-width="1" />
<circle cx="548.1" cy="299.8" r="1.2" fill="#7a6a98" stroke="none" stroke-width="1" />
<circle cx="595.9" cy="310.1" r="0.8" fill="#3a3058" stroke="none" stroke-width="1" />
<circle cx="548.7" cy="306.4" r="0.6" fill="#9a8ab0" stroke="none" stroke-width="1" />
<circle cx="580.1" cy="305.7" r="1.0" fill="#7a6a98" stroke="none" stroke-width="1" />
<circle cx="545.4" cy="318.4" r="0.6" fill="#9a8ab0" stroke="none" stroke-width="1" />
<circle cx="577.3" cy="323.8" r="1.1" fill="#b0a8c8" stroke="none" stroke-width="1" />
<circle cx="592.7" cy="302.9" r="1.1" fill="#2a2048" stroke="none" stroke-width="1" />
<circle cx="561.6" cy="304.0" r="1.3" fill="#b0a8c8" stroke="none" stroke-width="1" />
<circle cx="599.2" cy="309.5" r="0.9" fill="#b0a8c8" stroke="none" stroke-width="1" />
<circle cx="544.0" cy="331.5" r="0.8" fill="#2a2048" stroke="none" stroke-width="1" />
<circle cx="578.7" cy="320.0" r="1.2" fill="#3a3058" stroke="none" stroke-width="1" />
<circle cx="558.9" cy="309.0" r="0.6" fill="#7a6a98" stroke="none" stroke-width="1" />
<circle cx="589.4" cy="318.1" r="1.2" fill="#2a2048" stroke="none" stroke-width="1" />
<circle cx="555.4" cy="312.8" r="1.2" fill="#2a2048" stroke="none" stroke-width="1" />
<circle cx="586.5" cy="317.0" r="1.1" fill="#7a6a98" stroke="none" stroke-width="1" />
<circle cx="551.6" cy="315.2" r="1.3" fill="#7a6a98" stroke="none" stroke-width="1" />
<circle cx="597.8" cy="301.9" r="0.7" fill="#7a6a98" stroke="none" stroke-width="1" />
<circle cx="556.3" cy="310.4" r="0.9" fill="#7a6a98" stroke="none" stroke-width="1" />
<circle cx="594.0" cy="298.5" r="1.2" fill="#2a2048" stroke="none" stroke-width="1" />
<circle cx="569.2" cy="322.9" r="1.2" fill="#9a8ab0" stroke="none" stroke-width="1" />
<circle cx="596.4" cy="311.8" r="0.6" fill="#3a3058" stroke="none" stroke-width="1" />
<circle cx="541.8" cy="324.9" r="0.9" fill="#9a8ab0" stroke="none" stroke-width="1" />
<circle cx="589.9" cy="307.4" r="0.8" fill="#7a6a98" stroke="none" stroke-width="1" />
<circle cx="550.6" cy="328.7" r="1.1" fill="#9a8ab0" stroke="none" stroke-width="1" />
<circle cx="589.8" cy="301.1" r="0.6" fill="#3a3058" stroke="none" stroke-width="1" />
<circle cx="556.7" cy="311.3" r="1.2" fill="#5a4a7a" stroke="none" stroke-width="1" />
<circle cx="548.7" cy="313.3" r="0.7" fill="#b0a8c8" stroke="none" stroke-width="1" />
<circle cx="603.0" cy="306.2" r="1.2" fill="#5a4a7a" stroke="none" stroke-width="1" />
<circle cx="561.3" cy="317.0" r="1.2" fill="#7a6a98" stroke="none" stroke-width="1" />
<circle cx="550.7" cy="323.2" r="1.0" fill="#2a2048" stroke="none" stroke-width="1" />
<circle cx="581.2" cy="310.2" r="0.6" fill="#5a4a7a" stroke="none" stroke-width="1" />
<circle cx="550.4" cy="328.9" r="0.5" fill="#9a8ab0" stroke="none" stroke-width="1" />
<circle cx="587.0" cy="311.2" r="1.1" fill="#9a8ab0" stroke="none" stroke-width="1" />
<circle cx="537.6" cy="308.7" r="1.0" fill="#3a3058" stroke="none" stroke-width="1" />
<circle cx="582.4" cy="305.3" r="1.2" fill="#3a3058" stroke="none" stroke-width="1" />
<circle cx="565.5" cy="318.6" r="1.2" fill="#b0a8c8" stroke="none" stroke-width="1" />
<circle cx="596.3" cy="306.4" r="1.0" fill="#7a6a98" stroke="none" stroke-width="1" />
<circle cx="556.9" cy="321.2" r="0.6" fill="#9a8ab0" stroke="none" stroke-width="1" />
<circle cx="596.2" cy="297.1" r="1.2" fill="#5a4a7a" stroke="none" stroke-width="1" />
<circle cx="551.4" cy="327.7" r="0.6" fill="#3a3058" stroke="none" stroke-width="1" />
<circle cx="596.0" cy="304.3" r="0.9" fill="#3a3058" stroke="none" stroke-width="1" />
<circle cx="548.1" cy="305.2" r="1.2" fill="#9a8ab0" stroke="none" stroke-width="1" />
<circle cx="586.8" cy="316.6" r="1.2" fill="#3a3058" stroke="none" stroke-width="1" />
<circle cx="554.7" cy="302.4" r="1.0" fill="#9a8ab0" stroke="none" stroke-width="1" />
<circle cx="571.1" cy="299.7" r="0.8" fill="#9a8ab0" stroke="none" stroke-width="1" />
<circle cx="596.4" cy="324.5" r="0.9" fill="#3a3058" stroke="none" stroke-width="1" />
<circle cx="551.6" cy="319.4" r="1.3" fill="#b0a8c8" stroke="none" stroke-width="1" />
<circle cx="568.9" cy="310.8" r="1.2" fill="#3a3058" stroke="none" stroke-width="1" />
<circle cx="538.4" cy="309.5" r="0.6" fill="#9a8ab0" stroke="none" stroke-width="1" />
<circle cx="595.7" cy="313.4" r="0.5" fill="#3a3058" stroke="none" stroke-width="1" />
<circle cx="556.5" cy="303.5" r="0.7" fill="#2a2048" stroke="none" stroke-width="1" />
<circle cx="589.9" cy="320.4" r="1.0" fill="#3a3058" stroke="none" stroke-width="1" />
<circle cx="556.6" cy="308.0" r="1.1" fill="#3a3058" stroke="none" stroke-width="1" />
<circle cx="601.6" cy="304.0" r="1.1" fill="#2a2048" stroke="none" stroke-width="1" />
<circle cx="548.6" cy="313.6" r="1.0" fill="#5a4a7a" stroke="none" stroke-width="1" />
<circle cx="576.7" cy="310.8" r="0.9" fill="#2a2048" stroke="none" stroke-width="1" />
<circle cx="539.1" cy="324.3" r="1.2" fill="#5a4a7a" stroke="none" stroke-width="1" />
<circle cx="581.5" cy="312.0" r="0.6" fill="#5a4a7a" stroke="none" stroke-width="1" />
<circle cx="544.4" cy="306.1" r="0.9" fill="#3a3058" stroke="none" stroke-width="1" />
<circle cx="586.9" cy="301.4" r="0.6" fill="#7a6a98" stroke="none" stroke-width="1" />
<circle cx="529.0" cy="326.8" r="0.8" fill="#b0a8c8" stroke="none" stroke-width="1" />
<circle cx="584.2" cy="303.3" r="1.2" fill="#b0a8c8" stroke="none" stroke-width="1" />
<circle cx="542.6" cy="313.4" r="1.2" fill="#5a4a7a" stroke="none" stroke-width="1" />
<circle cx="589.7" cy="314.6" r="0.7" fill="#3a3058" stroke="none" stroke-width="1" />
<circle cx="552.7" cy="331.3" r="0.8" fill="#9a8ab0" stroke="none" stroke-width="1" />
<circle cx="590.8" cy="298.7" r="1.1" fill="#b0a8c8" stroke="none" stroke-width="1" />
<circle cx="562.2" cy="314.0" r="0.7" fill="#b0a8c8" stroke="none" stroke-width="1" />
<circle cx="607.8" cy="305.8" r="1.0" fill="#b0a8c8" stroke="none" stroke-width="1" />
<circle cx="554.2" cy="310.2" r="1.1" fill="#3a3058" stroke="none" stroke-width="1" />
<circle cx="562.1" cy="313.6" r="0.9" fill="#5a4a7a" stroke="none" stroke-width="1" />
<circle cx="536.0" cy="314.3" r="0.8" fill="#b0a8c8" stroke="none" stroke-width="1" />
<circle cx="575.3" cy="306.9" r="1.1" fill="#9a8ab0" stroke="none" stroke-width="1" />
<circle cx="550.5" cy="319.1" r="1.3" fill="#7a6a98" stroke="none" stroke-width="1" />
<circle cx="596.1" cy="308.2" r="0.9" fill="#5a4a7a" stroke="none" stroke-width="1" />
<circle cx="543.5" cy="314.8" r="0.9" fill="#5a4a7a" stroke="none" stroke-width="1" />
<circle cx="588.0" cy="290.6" r="1.2" fill="#7a6a98" stroke="none" stroke-width="1" />
<circle cx="563.4" cy="304.7" r="0.9" fill="#9a8ab0" stroke="none" stroke-width="1" />
<circle cx="593.5" cy="305.0" r="0.8" fill="#7a6a98" stroke="none" stroke-width="1" />
<circle cx="560.2" cy="317.6" r="0.6" fill="#b0a8c8" stroke="none" stroke-width="1" />
<circle cx="589.1" cy="290.2" r="0.9" fill="#9a8ab0" stroke="none" stroke-width="1" />
<circle cx="575.3" cy="302.6" r="0.6" fill="#9a8ab0" stroke="none" stroke-width="1" />
<circle cx="593.0" cy="309.7" r="0.9" fill="#b0a8c8" stroke="none" stroke-width="1" />
<circle cx="551.8" cy="307.2" r="1.3" fill="#7a6a98" stroke="none" stroke-width="1" />
<circle cx="600.6" cy="301.8" r="0.9" fill="#2a2048" stroke="none" stroke-width="1" />
<circle cx="552.4" cy="303.5" r="1.1" fill="#b0a8c8" stroke="none" stroke-width="1" />
<circle cx="574.1" cy="309.1" r="0.5" fill="#2a2048" stroke="none" stroke-width="1" />
<circle cx="567.7" cy="310.6" r="1.0" fill="#3a3058" stroke="none" stroke-width="1" />
<circle cx="583.0" cy="301.7" r="0.6" fill="#9a8ab0" stroke="none" stroke-width="1" />
<circle cx="537.3" cy="310.3" r="1.0" fill="#7a6a98" stroke="none" stroke-width="1" />
<circle cx="580.2" cy="300.9" r="0.6" fill="#7a6a98" stroke="none" stroke-width="1" />
<circle cx="571.0" cy="316.6" r="0.5" fill="#7a6a98" stroke="none" stroke-width="1" />
<circle cx="579.4" cy="307.9" r="0.6" fill="#2a2048" stroke="none" stroke-width="1" />
<circle cx="558.5" cy="310.8" r="1.1" fill="#2a2048" stroke="none" stroke-width="1" />
<circle cx="578.4" cy="315.3" r="0.5" fill="#7a6a98" stroke="none" stroke-width="1" />
<circle cx="550.5" cy="308.5" r="1.1" fill="#2a2048" stroke="none" stroke-width="1" />
<circle cx="575.9" cy="317.5" r="1.2" fill="#7a6a98" stroke="none" stroke-width="1" />
<circle cx="553.7" cy="297.5" r="0.7" fill="#5a4a7a" stroke="none" stroke-width="1" />
<circle cx="591.1" cy="309.8" r="0.7" fill="#5a4a7a" stroke="none" stroke-width="1" />
<circle cx="534.8" cy="305.7" r="1.1" fill="#5a4a7a" stroke="none" stroke-width="1" />
<circle cx="596.5" cy="318.7" r="1.2" fill="#b0a8c8" stroke="none" stroke-width="1" />
<circle cx="540.7" cy="309.3" r="0.6" fill="#5a4a7a" stroke="none" stroke-width="1" />
<circle cx="594.3" cy="307.6" r="0.8" fill="#7a6a98" stroke="none" stroke-width="1" />
<circle cx="568.2" cy="304.3" r="1.1" fill="#7a6a98" stroke="none" stroke-width="1" />
<circle cx="585.5" cy="318.4" r="1.2" fill="#7a6a98" stroke="none" stroke-width="1" />
<circle cx="546.0" cy="319.6" r="0.5" fill="#2a2048" stroke="none" stroke-width="1" />
<circle cx="591.8" cy="291.8" r="1.3" fill="#7a6a98" stroke="none" stroke-width="1" />
<circle cx="552.3" cy="304.0" r="1.3" fill="#3a3058" stroke="none" stroke-width="1" />
<circle cx="569.4" cy="320.2" r="1.1" fill="#2a2048" stroke="none" stroke-width="1" />
<circle cx="560.8" cy="319.0" r="0.8" fill="#7a6a98" stroke="none" stroke-width="1" />
<circle cx="589.0" cy="312.0" r="0.6" fill="#9a8ab0" stroke="none" stroke-width="1" />
<circle cx="537.4" cy="297.5" r="0.6" fill="#3a3058" stroke="none" stroke-width="1" />
<circle cx="565.2" cy="315.6" r="1.2" fill="#b0a8c8" stroke="none" stroke-width="1" />
<circle cx="535.6" cy="312.5" r="1.0" fill="#9a8ab0" stroke="none" stroke-width="1" />
<circle cx="591.5" cy="306.9" r="0.6" fill="#9a8ab0" stroke="none" stroke-width="1" />
<circle cx="544.3" cy="304.8" r="0.8" fill="#9a8ab0" stroke="none" stroke-width="1" />
<circle cx="598.9" cy="309.2" r="1.1" fill="#3a3058" stroke="none" stroke-width="1" />
<circle cx="539.3" cy="310.5" r="1.0" fill="#5a4a7a" stroke="none" stroke-width="1" />
<circle cx="576.1" cy="317.2" r="0.7" fill="#3a3058" stroke="none" stroke-width="1" />
<circle cx="563.1" cy="317.8" r="0.8" fill="#5a4a7a" stroke="none" stroke-width="1" />
<circle cx="583.7" cy="314.2" r="1.1" fill="#9a8ab0" stroke="none" stroke-width="1" />
<circle cx="556.9" cy="320.5" r="1.2" fill="#2a2048" stroke="none" stroke-width="1" />
<circle cx="582.4" cy="301.7" r="1.2" fill="#2a2048" stroke="none" stroke-width="1" />
<circle cx="566.3" cy="310.2" r="1.1" fill="#5a4a7a" stroke="none" stroke-width="1" />
<circle cx="589.5" cy="310.0" r="0.9" fill="#9a8ab0" stroke="none" stroke-width="1" />
<circle cx="526.4" cy="306.6" r="1.0" fill="#3a3058" stroke="none" stroke-width="1" />
<circle cx="578.0" cy="313.1" r="0.7" fill="#2a2048" stroke="none" stroke-width="1" />
<circle cx="565.0" cy="310.4" r="1.0" fill="#2a2048" stroke="none" stroke-width="1" />
<circle cx="571.3" cy="304.6" r="1.1" fill="#3a3058" stroke="none" stroke-width="1" />
<circle cx="548.8" cy="308.0" r="0.5" fill="#b0a8c8" stroke="none" stroke-width="1" />
<circle cx="585.2" cy="308.3" r="1.0" fill="#3a3058" stroke="none" stroke-width="1" />
<circle cx="569.4" cy="316.2" r="1.0" fill="#9a8ab0" stroke="none" stroke-width="1" />
<circle cx="563.8" cy="311.9" r="0.8" fill="#3a3058" stroke="none" stroke-width="1" />
<circle cx="558.3" cy="322.1" r="0.7" fill="#5a4a7a" stroke="none" stroke-width="1" />
<circle cx="586.5" cy="312.5" r="1.0" fill="#7a6a98" stroke="none" stroke-width="1" />
<circle cx="560.7" cy="322.6" r="1.0" fill="#7a6a98" stroke="none" stroke-width="1" />
<circle cx="584.6" cy="300.6" r="0.5" fill="#7a6a98" stroke="none" stroke-width="1" />
<circle cx="542.3" cy="310.4" r="1.1" fill="#9a8ab0" stroke="none" stroke-width="1" />
<circle cx="572.2" cy="303.6" r="1.0" fill="#5a4a7a" stroke="none" stroke-width="1" />
<circle cx="547.4" cy="303.5" r="1.0" fill="#5a4a7a" stroke="none" stroke-width="1" />
<circle cx="584.9" cy="314.3" r="0.9" fill="#7a6a98" stroke="none" stroke-width="1" />
<circle cx="553.3" cy="311.8" r="0.6" fill="#3a3058" stroke="none" stroke-width="1" />
<circle cx="582.6" cy="304.4" r="0.6" fill="#b0a8c8" stroke="none" stroke-width="1" />
<circle cx="555.0" cy="323.7" r="0.9" fill="#b0a8c8" stroke="none" stroke-width="1" />
<circle cx="586.0" cy="305.6" r="1.1" fill="#9a8ab0" stroke="none" stroke-width="1" />
<circle cx="567.5" cy="314.5" r="0.7" fill="#2a2048" stroke="none" stroke-width="1" />
<circle cx="561.0" cy="295.6" r="1.3" fill="#9a8ab0" stroke="none" stroke-width="1" />
<circle cx="572.4" cy="319.8" r="1.2" fill="#3a3058" stroke="none" stroke-width="1" />
<circle cx="601.4" cy="315.3" r="1.3" fill="#2a2048" stroke="none" stroke-width="1" />
<circle cx="539.2" cy="316.9" r="1.2" fill="#9a8ab0" stroke="none" stroke-width="1" />
<circle cx="589.3" cy="301.5" r="0.9" fill="#b0a8c8" stroke="none" stroke-width="1" />
<circle cx="568.4" cy="312.3" r="1.2" fill="#5a4a7a" stroke="none" stroke-width="1" />
<circle cx="593.2" cy="301.2" r="1.0" fill="#9a8ab0" stroke="none" stroke-width="1" />
<circle cx="551.3" cy="324.3" r="0.7" fill="#9a8ab0" stroke="none" stroke-width="1" />
<circle cx="577.3" cy="328.3" r="1.1" fill="#2a2048" stroke="none" stroke-width="1" />
<circle cx="562.1" cy="311.4" r="0.6" fill="#3a3058" stroke="none" stroke-width="1" />
<circle cx="575.5" cy="303.7" r="1.1" fill="#7a6a98" stroke="none" stroke-width="1" />
<circle cx="553.8" cy="318.3" r="1.3" fill="#9a8ab0" stroke="none" stroke-width="1" />
<circle cx="590.3" cy="319.2" r="1.0" fill="#5a4a7a" stroke="none" stroke-width="1" />
<circle cx="547.7" cy="305.0" r="1.1" fill="#3a3058" stroke="none" stroke-width="1" />
<circle cx="587.7" cy="319.0" r="1.0" fill="#b0a8c8" stroke="none" stroke-width="1" />
<circle cx="550.4" cy="307.8" r="0.6" fill="#5a4a7a" stroke="none" stroke-width="1" />
<circle cx="594.2" cy="312.7" r="1.2" fill="#9a8ab0" stroke="none" stroke-width="1" />
<circle cx="556.1" cy="318.8" r="0.8" fill="#5a4a7a" stroke="none" stroke-width="1" />
<circle cx="599.6" cy="294.3" r="0.7" fill="#5a4a7a" stroke="none" stroke-width="1" />
<circle cx="539.1" cy="298.3" r="0.5" fill="#9a8ab0" stroke="none" stroke-width="1" />
<circle cx="587.6" cy="299.7" r="0.7" fill="#b0a8c8" stroke="none" stroke-width="1" />
<circle cx="544.8" cy="314.4" r="1.1" fill="#9a8ab0" stroke="none" stroke-width="1" />
<circle cx="586.4" cy="307.5" r="1.0" fill="#b0a8c8" stroke="none" stroke-width="1" />
<circle cx="537.9" cy="310.3" r="0.6" fill="#7a6a98" stroke="none" stroke-width="1" />
<circle cx="537.7" cy="309.5" r="0.8" fill="#9a8ab0" stroke="none" stroke-width="1" />
<circle cx="594.6" cy="323.7" r="1.1" fill="#7a6a98" stroke="none" stroke-width="1" />
<circle cx="551.9" cy="322.5" r="0.6" fill="#5a4a7a" stroke="none" stroke-width="1" />
<circle cx="571.3" cy="325.9" r="0.7" fill="#7a6a98" stroke="none" stroke-width="1" />
<circle cx="555.1" cy="317.2" r="0.9" fill="#b0a8c8" stroke="none" stroke-width="1" />
<circle cx="587.6" cy="301.2" r="0.7" fill="#3a3058" stroke="none" stroke-width="1" />
<circle cx="543.0" cy="317.6" r="0.8" fill="#b0a8c8" stroke="none" stroke-width="1" />
<circle cx="606.1" cy="307.1" r="1.0" fill="#3a3058" stroke="none" stroke-width="1" />
<circle cx="544.8" cy="308.1" r="0.7" fill="#7a6a98" stroke="none" stroke-width="1" />
<circle cx="595.1" cy="309.9" r="0.8" fill="#7a6a98" stroke="none" stroke-width="1" />
<circle cx="537.2" cy="320.4" r="0.8" fill="#2a2048" stroke="none" stroke-width="1" />
<circle cx="598.1" cy="314.5" r="0.5" fill="#2a2048" stroke="none" stroke-width="1" />
<circle cx="536.5" cy="306.0" r="0.5" fill="#b0a8c8" stroke="none" stroke-width="1" />
<circle cx="583.3" cy="316.0" r="0.9" fill="#7a6a98" stroke="none" stroke-width="1" />
<circle cx="543.8" cy="313.8" r="1.0" fill="#5a4a7a" stroke="none" stroke-width="1" />
<circle cx="588.9" cy="304.1" r="0.8" fill="#b0a8c8" stroke="none" stroke-width="1" />
<circle cx="542.3" cy="314.7" r="0.6" fill="#7a6a98" stroke="none" stroke-width="1" />
<circle cx="574.3" cy="309.8" r="1.0" fill="#3a3058" stroke="none" stroke-width="1" />
<circle cx="539.4" cy="311.0" r="1.1" fill="#9a8ab0" stroke="none" stroke-width="1" />
<circle cx="588.6" cy="300.7" r="0.7" fill="#9a8ab0" stroke="none" stroke-width="1" />
<circle cx="555.9" cy="328.6" r="0.5" fill="#5a4a7a" stroke="none" stroke-width="1" />
<circle cx="606.0" cy="319.0" r="0.7" fill="#5a4a7a" stroke="none" stroke-width="1" />
<circle cx="547.4" cy="317.9" r="0.9" fill="#2a2048" stroke="none" stroke-width="1" />
<circle cx="590.9" cy="321.7" r="0.9" fill="#9a8ab0" stroke="none" stroke-width="1" />
<circle cx="546.1" cy="293.0" r="1.0" fill="#b0a8c8" stroke="none" stroke-width="1" />
<circle cx="575.7" cy="307.1" r="0.7" fill="#b0a8c8" stroke="none" stroke-width="1" />
<circle cx="531.8" cy="317.5" r="0.6" fill="#9a8ab0" stroke="none" stroke-width="1" />
<circle cx="577.0" cy="318.4" r="1.0" fill="#9a8ab0" stroke="none" stroke-width="1" />
<circle cx="540.8" cy="317.2" r="1.1" fill="#3a3058" stroke="none" stroke-width="1" />
<circle cx="587.3" cy="316.6" r="1.2" fill="#2a2048" stroke="none" stroke-width="1" />
<circle cx="557.6" cy="307.7" r="0.8" fill="#3a3058" stroke="none" stroke-width="1" />
<circle cx="592.4" cy="295.0" r="0.5" fill="#7a6a98" stroke="none" stroke-width="1" />
<circle cx="542.0" cy="303.5" r="1.0" fill="#5a4a7a" stroke="none" stroke-width="1" />
<circle cx="593.3" cy="303.2" r="1.2" fill="#5a4a7a" stroke="none" stroke-width="1" />
<circle cx="538.3" cy="310.7" r="1.2" fill="#7a6a98" stroke="none" stroke-width="1" />
<circle cx="577.5" cy="320.1" r="1.2" fill="#3a3058" stroke="none" stroke-width="1" />
<circle cx="533.6" cy="304.3" r="0.6" fill="#b0a8c8" stroke="none" stroke-width="1" />
<circle cx="578.3" cy="301.6" r="1.2" fill="#7a6a98" stroke="none" stroke-width="1" />
<circle cx="572.0" cy="306.4" r="0.9" fill="#b0a8c8" stroke="none" stroke-width="1" />
<circle cx="587.1" cy="299.1" r="1.0" fill="#9a8ab0" stroke="none" stroke-width="1" />
<circle cx="546.0" cy="315.1" r="0.6" fill="#5a4a7a" stroke="none" stroke-width="1" />
<circle cx="594.4" cy="298.9" r="0.5" fill="#2a2048" stroke="none" stroke-width="1" />
<rect x="616.0" y="297.6" width="64.7" height="22.0" fill="#fff" stroke="#a03050" stroke-width="1.2" />
<text x="648.4" y="307.1" font-size="7.8" fill="#1a1a1a" font-weight="normal" text-anchor="middle" >Induce efficient</text>
<text x="648.4" y="315.5" font-size="7.8" fill="#1a1a1a" font-weight="normal" text-anchor="middle" >tumor apoptosis</text>
<text x="14.0" y="344.2" font-size="20.3" fill="#111" font-weight="bold" text-anchor="start" >C</text>
<g transform="translate(150,387) scale(1,1)"><path d="M-15.7,5.2 C-20,10 -24,11.5 -27,9 C-30,6 -32,3 -34.3,3.8 C-36.5,4.5 -37.5,6 -38.2,7.2" fill="none" stroke="#2a2a2a" stroke-width="2.3" stroke-linecap="round"/><circle cx="12.1" cy="-9.5" r="6.6" fill="#3c3c3c" stroke="#111" stroke-width="0.8"/><ellipse cx="-6.8" cy="5.7" rx="9.6" ry="9.4" fill="url(#mouseG)" stroke="#111" stroke-width="0.8"/><path d="M-6,-2 C2,-8 14,-6 19,-2 C22,0 23,2 22.4,3.5 C21,7 16,10 12,13 C6,15.5 -2,15.5 -6,14 Z" fill="url(#mouseG)" stroke="#111" stroke-width="0.8"/><ellipse cx="0" cy="7" rx="7" ry="7" fill="#303030" opacity="0.6"/><circle cx="0.9" cy="-6.5" r="8.6" fill="#4a4a4a" stroke="#111" stroke-width="0.8"/><circle cx="0.9" cy="-6" r="5.5" fill="#5a5a5a"/><ellipse cx="0.4" cy="-7" rx="2.3" ry="2" fill="#f4d8e8"/><path d="M19,-1 l6,-2 M19,0 l6,1 M8,12 l1,4 M11,11 l2,5 M14,10 l3,4" stroke="#333" stroke-width="0.5"/><circle cx="22" cy="3" r="1.3" fill="#111"/><ellipse cx="-10.8" cy="3.3" rx="5" ry="4.6" fill="#8a2890"/><path d="M-8,15 l2,-1 M4,14.5 l3,0" stroke="#222" stroke-width="1.2"/></g>
<g transform="translate(225.5,387) scale(-1,1)"><path d="M-15.7,5.2 C-20,10 -24,11.5 -27,9 C-30,6 -32,3 -34.3,3.8 C-36.5,4.5 -37.5,6 -38.2,7.2" fill="none" stroke="#2a2a2a" stroke-width="2.3" stroke-linecap="round"/><circle cx="12.1" cy="-9.5" r="6.6" fill="#3c3c3c" stroke="#111" stroke-width="0.8"/><ellipse cx="-6.8" cy="5.7" rx="9.6" ry="9.4" fill="url(#mouseG)" stroke="#111" stroke-width="0.8"/><path d="M-6,-2 C2,-8 14,-6 19,-2 C22,0 23,2 22.4,3.5 C21,7 16,10 12,13 C6,15.5 -2,15.5 -6,14 Z" fill="url(#mouseG)" stroke="#111" stroke-width="0.8"/><ellipse cx="0" cy="7" rx="7" ry="7" fill="#303030" opacity="0.6"/><circle cx="0.9" cy="-6.5" r="8.6" fill="#4a4a4a" stroke="#111" stroke-width="0.8"/><circle cx="0.9" cy="-6" r="5.5" fill="#5a5a5a"/><ellipse cx="0.4" cy="-7" rx="2.3" ry="2" fill="#f4d8e8"/><path d="M19,-1 l6,-2 M19,0 l6,1 M8,12 l1,4 M11,11 l2,5 M14,10 l3,4" stroke="#333" stroke-width="0.5"/><circle cx="22" cy="3" r="1.3" fill="#111"/><ellipse cx="-10.8" cy="3.3" rx="5" ry="4.6" fill="#40c0e0"/><path d="M-8,15 l2,-1 M4,14.5 l3,0" stroke="#222" stroke-width="1.2"/></g>
<path d="M269,385 L286,371" fill="none" stroke="#b09050" stroke-width="4.4" stroke-linecap="round"/>
<path d="M269,385 L286,371" fill="none" stroke="#f0e0a8" stroke-width="3" />
<line x1="286.0" y1="371.0" x2="291.0" y2="367.0" stroke="#777" stroke-width="0.8" />
<line x1="266.0" y1="387.0" x2="262.0" y2="390.0" stroke="#777" stroke-width="0.8" />
<path d="M316.1,361.5 L313.9,363.2 L315.3,365.5 L312.7,366.2 L313.0,368.9 L310.3,368.6 L309.6,371.2 L307.3,369.8 L305.6,372.0 L303.9,369.8 L301.6,371.2 L300.9,368.6 L298.2,368.9 L298.5,366.2 L295.9,365.5 L297.3,363.2 L295.1,361.5 L297.3,359.8 L295.9,357.5 L298.5,356.8 L298.2,354.1 L300.9,354.4 L301.6,351.8 L303.9,353.2 L305.6,351.0 L307.3,353.2 L309.6,351.8 L310.3,354.4 L313.0,354.1 L312.7,356.8 L315.3,357.5 L313.9,359.8 Z" fill="#c8d040" stroke="none" stroke-width="1" />
<circle cx="305.6" cy="361.5" r="7.8" fill="#d8e060" stroke="#889020" stroke-width="0.5" />
<circle cx="305.6" cy="361.5" r="5.8" fill="#3a80d0" stroke="none" stroke-width="1" />
<circle cx="308.6" cy="361.5" r="1.0" fill="#a0d0f8" stroke="none" stroke-width="1" />
<circle cx="307.7" cy="363.7" r="1.0" fill="#a0d0f8" stroke="none" stroke-width="1" />
<circle cx="305.5" cy="364.5" r="1.0" fill="#a0d0f8" stroke="none" stroke-width="1" />
<circle cx="303.4" cy="363.5" r="1.0" fill="#a0d0f8" stroke="none" stroke-width="1" />
<circle cx="302.6" cy="361.3" r="1.0" fill="#a0d0f8" stroke="none" stroke-width="1" />
<circle cx="303.6" cy="359.2" r="1.0" fill="#a0d0f8" stroke="none" stroke-width="1" />
<circle cx="305.9" cy="358.5" r="1.0" fill="#a0d0f8" stroke="none" stroke-width="1" />
<circle cx="307.9" cy="359.6" r="1.0" fill="#a0d0f8" stroke="none" stroke-width="1" />
<g clip-path="url(#ellC)">
<rect x="30.0" y="400.0" width="155.0" height="170.0" fill="url(#pgreen)" stroke="none" stroke-width="1" />
<rect x="185.0" y="400.0" width="150.0" height="170.0" fill="url(#ppale)" stroke="none" stroke-width="1" />
</g>
<ellipse cx="183.0" cy="487.0" rx="145.0" ry="80.0" fill="none" stroke="#2a5890" stroke-width="1.6" />
<line x1="185.0" y1="407.0" x2="185.0" y2="567.0" stroke="#334" stroke-width="1.2" stroke-dasharray="3,2"/>
<path d="M139.3,398 C140,410 142,418 150,425" fill="none" stroke="#b062a8" stroke-width="4.2" />
<path d="M144,426.5 L158.3,419.6 L158.8,434.7 Z" fill="#b062a8" stroke="none" stroke-width="1" />
<path d="M236.1,398 C236,410 233,418 225,424" fill="none" stroke="#20c4e8" stroke-width="4.2" />
<path d="M216.3,418.8 L213.9,433.9 L230.5,433.9 Z" fill="#20c4e8" stroke="none" stroke-width="1" />
<g transform="translate(80.0,442.8) rotate(7) scale(9.4,7.4)"><path d="M0.8,-0.5 Q1.2,0.2 0.8,0.6 Q0.4,1.0 -0.3,0.8 Q-0.9,0.7 -0.9,-0.0 Q-0.8,-0.7 -0.2,-0.9 Q0.4,-1.1 0.8,-0.5 Z" fill="url(#bluecell)" stroke="#5a6a98" stroke-width="0.096"/></g>
<circle cx="80.0" cy="442.8" r="2.0" fill="#1a2a6a" stroke="none" stroke-width="1" />
<g transform="translate(94.5,438.4) rotate(15) scale(9.4,7.4)"><path d="M0.7,-0.6 Q1.2,-0.2 0.7,0.4 Q0.2,1.1 -0.3,0.9 Q-0.9,0.7 -0.9,-0.1 Q-0.9,-0.8 -0.4,-0.9 Q0.2,-1.0 0.7,-0.6 Z" fill="url(#bluecell)" stroke="#5a6a98" stroke-width="0.096"/></g>
<circle cx="94.5" cy="438.4" r="2.0" fill="#1a2a6a" stroke="none" stroke-width="1" />
<g transform="translate(110.1,438.4) rotate(18) scale(9.4,7.4)"><path d="M0.8,-0.4 Q1.3,0.2 0.9,0.6 Q0.5,0.9 -0.3,0.7 Q-1.1,0.6 -1.0,-0.1 Q-0.8,-0.7 -0.2,-0.9 Q0.4,-1.1 0.8,-0.4 Z" fill="url(#bluecell)" stroke="#5a6a98" stroke-width="0.096"/></g>
<circle cx="110.1" cy="438.4" r="2.0" fill="#1a2a6a" stroke="none" stroke-width="1" />
<g transform="translate(127.9,437.3) rotate(27) scale(9.4,7.4)"><path d="M0.7,-0.6 Q1.2,-0.1 0.8,0.5 Q0.4,1.1 -0.2,0.8 Q-0.9,0.6 -1.0,0.0 Q-1.1,-0.5 -0.4,-0.8 Q0.2,-1.1 0.7,-0.6 Z" fill="url(#bluecell)" stroke="#5a6a98" stroke-width="0.096"/></g>
<circle cx="127.9" cy="437.3" r="2.0" fill="#1a2a6a" stroke="none" stroke-width="1" />
<g transform="translate(140.2,442.8) rotate(14) scale(9.4,7.4)"><path d="M0.7,-0.5 Q1.0,-0.1 0.7,0.4 Q0.4,1.0 -0.2,0.9 Q-0.8,0.8 -0.8,-0.0 Q-0.9,-0.9 -0.2,-0.9 Q0.4,-1.0 0.7,-0.5 Z" fill="url(#bluecell)" stroke="#5a6a98" stroke-width="0.096"/></g>
<circle cx="140.2" cy="442.8" r="2.0" fill="#1a2a6a" stroke="none" stroke-width="1" />
<g transform="translate(158.0,440.6) rotate(25) scale(9.4,7.4)"><path d="M0.9,-0.5 Q1.2,0.1 0.7,0.7 Q0.2,1.2 -0.4,0.9 Q-1.1,0.6 -1.1,0.1 Q-1.0,-0.5 -0.2,-0.8 Q0.6,-1.1 0.9,-0.5 Z" fill="url(#bluecell)" stroke="#5a6a98" stroke-width="0.096"/></g>
<circle cx="158.0" cy="440.6" r="2.0" fill="#1a2a6a" stroke="none" stroke-width="1" />
<g transform="translate(72.3,455.0) rotate(-28) scale(9.4,7.4)"><path d="M0.8,-0.5 Q1.2,0.1 0.8,0.6 Q0.3,1.0 -0.2,1.0 Q-0.8,0.9 -0.9,0.1 Q-1.0,-0.7 -0.3,-0.9 Q0.3,-1.2 0.8,-0.5 Z" fill="url(#bluecell)" stroke="#5a6a98" stroke-width="0.096"/></g>
<circle cx="72.3" cy="455.0" r="2.0" fill="#1a2a6a" stroke="none" stroke-width="1" />
<g transform="translate(103.4,450.6) rotate(-2) scale(9.4,7.4)"><path d="M0.6,-0.6 Q1.1,-0.1 0.7,0.5 Q0.3,1.0 -0.3,0.8 Q-0.9,0.6 -1.0,0.1 Q-1.0,-0.5 -0.4,-0.8 Q0.1,-1.1 0.6,-0.6 Z" fill="url(#bluecell)" stroke="#5a6a98" stroke-width="0.096"/></g>
<circle cx="103.4" cy="450.6" r="2.0" fill="#1a2a6a" stroke="none" stroke-width="1" />
<g transform="translate(116.8,447.3) rotate(27) scale(9.4,7.4)"><path d="M0.8,-0.6 Q1.3,-0.1 0.9,0.5 Q0.5,1.1 -0.1,0.9 Q-0.8,0.8 -0.7,-0.0 Q-0.7,-0.8 -0.2,-0.9 Q0.4,-1.1 0.8,-0.6 Z" fill="url(#bluecell)" stroke="#5a6a98" stroke-width="0.096"/></g>
<circle cx="116.8" cy="447.3" r="2.0" fill="#1a2a6a" stroke="none" stroke-width="1" />
<g transform="translate(133.5,450.6) rotate(9) scale(9.4,7.4)"><path d="M0.8,-0.6 Q1.1,-0.0 0.8,0.6 Q0.6,1.1 -0.1,1.0 Q-0.8,0.8 -0.8,0.1 Q-0.7,-0.7 -0.2,-0.9 Q0.4,-1.1 0.8,-0.6 Z" fill="url(#bluecell)" stroke="#5a6a98" stroke-width="0.096"/></g>
<circle cx="133.5" cy="450.6" r="2.0" fill="#1a2a6a" stroke="none" stroke-width="1" />
<g transform="translate(149.0,448.4) rotate(24) scale(9.4,7.4)"><path d="M0.7,-0.5 Q1.1,0.0 0.7,0.5 Q0.3,1.0 -0.4,0.8 Q-1.1,0.6 -1.0,-0.0 Q-0.8,-0.7 -0.2,-0.9 Q0.3,-1.0 0.7,-0.5 Z" fill="url(#bluecell)" stroke="#5a6a98" stroke-width="0.096"/></g>
<circle cx="149.0" cy="448.4" r="2.0" fill="#1a2a6a" stroke="none" stroke-width="1" />
<g transform="translate(164.6,451.7) rotate(-23) scale(9.4,7.4)"><path d="M0.8,-0.6 Q1.2,-0.0 0.7,0.6 Q0.2,1.1 -0.4,0.9 Q-1.0,0.7 -1.0,0.1 Q-1.0,-0.6 -0.3,-0.9 Q0.4,-1.1 0.8,-0.6 Z" fill="url(#bluecell)" stroke="#5a6a98" stroke-width="0.096"/></g>
<circle cx="164.6" cy="451.7" r="2.0" fill="#1a2a6a" stroke="none" stroke-width="1" />
<g transform="translate(62.3,467.3) rotate(-2) scale(9.4,7.4)"><path d="M0.8,-0.6 Q1.2,-0.0 0.7,0.5 Q0.3,1.0 -0.3,0.9 Q-0.8,0.8 -0.9,0.1 Q-1.1,-0.6 -0.3,-0.9 Q0.4,-1.1 0.8,-0.6 Z" fill="url(#bluecell)" stroke="#5a6a98" stroke-width="0.096"/></g>
<circle cx="62.3" cy="467.3" r="2.0" fill="#1a2a6a" stroke="none" stroke-width="1" />
<g transform="translate(76.7,467.3) rotate(-15) scale(9.4,7.4)"><path d="M0.8,-0.5 Q1.2,-0.1 0.7,0.5 Q0.3,1.2 -0.2,1.0 Q-0.8,0.7 -0.9,0.1 Q-0.9,-0.5 -0.3,-0.7 Q0.4,-1.0 0.8,-0.5 Z" fill="url(#bluecell)" stroke="#5a6a98" stroke-width="0.096"/></g>
<circle cx="76.7" cy="467.3" r="2.0" fill="#1a2a6a" stroke="none" stroke-width="1" />
<g transform="translate(120.1,457.3) rotate(3) scale(9.4,7.4)"><path d="M0.7,-0.7 Q1.2,-0.2 0.8,0.5 Q0.3,1.2 -0.2,1.0 Q-0.8,0.7 -0.9,-0.0 Q-0.9,-0.8 -0.3,-1.0 Q0.3,-1.2 0.7,-0.7 Z" fill="url(#bluecell)" stroke="#5a6a98" stroke-width="0.096"/></g>
<circle cx="120.1" cy="457.3" r="2.0" fill="#1a2a6a" stroke="none" stroke-width="1" />
<g transform="translate(129.0,462.9) rotate(4) scale(9.4,7.4)"><path d="M0.8,-0.5 Q1.0,0.2 0.6,0.6 Q0.2,1.0 -0.3,0.7 Q-0.9,0.4 -0.9,-0.2 Q-0.9,-0.8 -0.1,-1.0 Q0.6,-1.2 0.8,-0.5 Z" fill="url(#bluecell)" stroke="#5a6a98" stroke-width="0.096"/></g>
<circle cx="129.0" cy="462.9" r="2.0" fill="#1a2a6a" stroke="none" stroke-width="1" />
<g transform="translate(144.6,462.9) rotate(-29) scale(9.4,7.4)"><path d="M0.6,-0.6 Q1.1,-0.1 0.8,0.5 Q0.4,1.1 -0.3,0.9 Q-0.9,0.7 -1.0,0.1 Q-1.0,-0.6 -0.4,-0.8 Q0.1,-1.1 0.6,-0.6 Z" fill="url(#bluecell)" stroke="#5a6a98" stroke-width="0.096"/></g>
<circle cx="144.6" cy="462.9" r="2.0" fill="#1a2a6a" stroke="none" stroke-width="1" />
<g transform="translate(160.2,462.9) rotate(-17) scale(9.4,7.4)"><path d="M0.7,-0.5 Q1.2,0.0 0.7,0.5 Q0.1,1.1 -0.5,0.8 Q-1.0,0.6 -0.9,-0.0 Q-0.8,-0.7 -0.3,-0.9 Q0.1,-1.1 0.7,-0.5 Z" fill="url(#bluecell)" stroke="#5a6a98" stroke-width="0.096"/></g>
<circle cx="160.2" cy="462.9" r="2.0" fill="#1a2a6a" stroke="none" stroke-width="1" />
<g transform="translate(173.5,464.0) rotate(-13) scale(9.4,7.4)"><path d="M0.7,-0.6 Q1.2,-0.2 0.8,0.4 Q0.4,1.0 -0.3,0.8 Q-0.9,0.7 -0.9,0.0 Q-0.9,-0.7 -0.3,-0.9 Q0.2,-1.1 0.7,-0.6 Z" fill="url(#bluecell)" stroke="#5a6a98" stroke-width="0.096"/></g>
<circle cx="173.5" cy="464.0" r="2.0" fill="#1a2a6a" stroke="none" stroke-width="1" />
<g transform="translate(69.0,480.7) rotate(25) scale(9.4,7.4)"><path d="M0.7,-0.5 Q1.2,0.1 0.8,0.6 Q0.3,1.1 -0.3,0.9 Q-1.0,0.8 -1.0,0.1 Q-0.9,-0.5 -0.3,-0.8 Q0.2,-1.1 0.7,-0.5 Z" fill="url(#bluecell)" stroke="#5a6a98" stroke-width="0.096"/></g>
<circle cx="69.0" cy="480.7" r="2.0" fill="#1a2a6a" stroke="none" stroke-width="1" />
<g transform="translate(86.7,484.0) rotate(16) scale(9.4,7.4)"><path d="M0.8,-0.4 Q1.2,0.2 0.7,0.7 Q0.3,1.2 -0.3,1.0 Q-0.9,0.8 -0.9,-0.1 Q-0.9,-0.9 -0.3,-0.9 Q0.4,-1.0 0.8,-0.4 Z" fill="url(#bluecell)" stroke="#5a6a98" stroke-width="0.096"/></g>
<circle cx="86.7" cy="484.0" r="2.0" fill="#1a2a6a" stroke="none" stroke-width="1" />
<g transform="translate(141.3,472.9) rotate(-20) scale(9.4,7.4)"><path d="M0.8,-0.6 Q1.2,-0.2 0.7,0.5 Q0.3,1.1 -0.3,1.0 Q-0.9,0.8 -0.9,0.0 Q-0.8,-0.8 -0.3,-0.9 Q0.3,-1.0 0.8,-0.6 Z" fill="url(#bluecell)" stroke="#5a6a98" stroke-width="0.096"/></g>
<circle cx="141.3" cy="472.9" r="2.0" fill="#1a2a6a" stroke="none" stroke-width="1" />
<g transform="translate(158.0,474.0) rotate(18) scale(9.4,7.4)"><path d="M0.8,-0.4 Q1.0,0.2 0.8,0.7 Q0.6,1.1 -0.1,0.9 Q-0.8,0.7 -0.8,0.0 Q-0.9,-0.7 -0.2,-0.8 Q0.5,-1.0 0.8,-0.4 Z" fill="url(#bluecell)" stroke="#5a6a98" stroke-width="0.096"/></g>
<circle cx="158.0" cy="474.0" r="2.0" fill="#1a2a6a" stroke="none" stroke-width="1" />
<g transform="translate(171.3,479.5) rotate(-22) scale(9.4,7.4)"><path d="M0.7,-0.4 Q1.3,0.2 0.7,0.6 Q0.2,1.0 -0.4,0.8 Q-0.9,0.6 -0.9,0.0 Q-0.8,-0.6 -0.3,-0.9 Q0.2,-1.1 0.7,-0.4 Z" fill="url(#bluecell)" stroke="#5a6a98" stroke-width="0.096"/></g>
<circle cx="171.3" cy="479.5" r="2.0" fill="#1a2a6a" stroke="none" stroke-width="1" />
<g transform="translate(61.1,492.9) rotate(7) scale(9.4,7.4)"><path d="M0.7,-0.5 Q1.2,0.1 0.9,0.6 Q0.5,1.2 -0.2,1.0 Q-0.9,0.8 -1.0,0.1 Q-1.1,-0.5 -0.4,-0.9 Q0.2,-1.2 0.7,-0.5 Z" fill="url(#bluecell)" stroke="#5a6a98" stroke-width="0.096"/></g>
<circle cx="61.1" cy="492.9" r="2.0" fill="#1a2a6a" stroke="none" stroke-width="1" />
<g transform="translate(81.2,495.1) rotate(-22) scale(9.4,7.4)"><path d="M0.8,-0.6 Q1.3,-0.1 0.7,0.5 Q0.2,1.1 -0.4,0.8 Q-1.1,0.5 -1.1,-0.0 Q-1.2,-0.5 -0.5,-0.8 Q0.2,-1.1 0.8,-0.6 Z" fill="url(#bluecell)" stroke="#5a6a98" stroke-width="0.096"/></g>
<circle cx="81.2" cy="495.1" r="2.0" fill="#1a2a6a" stroke="none" stroke-width="1" />
<g transform="translate(100.1,492.9) rotate(-30) scale(9.4,7.4)"><path d="M0.7,-0.5 Q1.1,0.1 0.8,0.6 Q0.5,1.1 -0.2,1.0 Q-0.8,0.9 -0.8,0.1 Q-0.8,-0.7 -0.2,-0.9 Q0.4,-1.1 0.7,-0.5 Z" fill="url(#bluecell)" stroke="#5a6a98" stroke-width="0.096"/></g>
<circle cx="100.1" cy="492.9" r="2.0" fill="#1a2a6a" stroke="none" stroke-width="1" />
<g transform="translate(149.0,486.2) rotate(22) scale(9.4,7.4)"><path d="M0.8,-0.4 Q1.2,0.1 0.7,0.6 Q0.1,1.1 -0.4,1.0 Q-0.9,0.9 -0.9,0.1 Q-0.9,-0.6 -0.2,-0.8 Q0.5,-1.0 0.8,-0.4 Z" fill="url(#bluecell)" stroke="#5a6a98" stroke-width="0.096"/></g>
<circle cx="149.0" cy="486.2" r="2.0" fill="#1a2a6a" stroke="none" stroke-width="1" />
<g transform="translate(162.4,494.0) rotate(-17) scale(9.4,7.4)"><path d="M0.7,-0.7 Q1.0,-0.2 0.7,0.4 Q0.3,1.0 -0.3,0.9 Q-0.8,0.8 -0.9,0.1 Q-0.9,-0.6 -0.3,-0.9 Q0.3,-1.2 0.7,-0.7 Z" fill="url(#bluecell)" stroke="#5a6a98" stroke-width="0.096"/></g>
<circle cx="162.4" cy="494.0" r="2.0" fill="#1a2a6a" stroke="none" stroke-width="1" />
<g transform="translate(173.5,492.9) rotate(-17) scale(9.4,7.4)"><path d="M0.6,-0.5 Q1.1,0.0 0.6,0.5 Q0.2,1.1 -0.4,0.9 Q-0.9,0.6 -1.0,-0.0 Q-1.1,-0.7 -0.4,-0.9 Q0.2,-1.1 0.6,-0.5 Z" fill="url(#bluecell)" stroke="#5a6a98" stroke-width="0.096"/></g>
<circle cx="173.5" cy="492.9" r="2.0" fill="#1a2a6a" stroke="none" stroke-width="1" />
<g transform="translate(75.6,506.3) rotate(29) scale(9.4,7.4)"><path d="M0.8,-0.5 Q1.1,0.0 0.8,0.5 Q0.6,1.0 -0.1,0.9 Q-0.8,0.7 -0.9,0.0 Q-1.0,-0.7 -0.2,-0.8 Q0.6,-1.0 0.8,-0.5 Z" fill="url(#bluecell)" stroke="#5a6a98" stroke-width="0.096"/></g>
<circle cx="75.6" cy="506.3" r="2.0" fill="#1a2a6a" stroke="none" stroke-width="1" />
<g transform="translate(89.0,504.0) rotate(22) scale(9.4,7.4)"><path d="M0.6,-0.7 Q1.0,-0.2 0.7,0.5 Q0.4,1.1 -0.2,0.9 Q-0.7,0.7 -0.9,0.1 Q-1.1,-0.6 -0.4,-0.9 Q0.2,-1.2 0.6,-0.7 Z" fill="url(#bluecell)" stroke="#5a6a98" stroke-width="0.096"/></g>
<circle cx="89.0" cy="504.0" r="2.0" fill="#1a2a6a" stroke="none" stroke-width="1" />
<g transform="translate(106.8,504.0) rotate(-13) scale(9.4,7.4)"><path d="M0.8,-0.6 Q1.1,-0.2 0.8,0.5 Q0.5,1.2 -0.2,0.9 Q-1.0,0.7 -1.0,0.1 Q-1.0,-0.5 -0.3,-0.8 Q0.5,-1.0 0.8,-0.6 Z" fill="url(#bluecell)" stroke="#5a6a98" stroke-width="0.096"/></g>
<circle cx="106.8" cy="504.0" r="2.0" fill="#1a2a6a" stroke="none" stroke-width="1" />
<g transform="translate(162.4,506.3) rotate(28) scale(9.4,7.4)"><path d="M0.8,-0.5 Q1.2,0.0 0.7,0.6 Q0.2,1.1 -0.4,0.9 Q-1.1,0.7 -0.9,-0.0 Q-0.7,-0.8 -0.2,-0.9 Q0.4,-1.1 0.8,-0.5 Z" fill="url(#bluecell)" stroke="#5a6a98" stroke-width="0.096"/></g>
<circle cx="162.4" cy="506.3" r="2.0" fill="#1a2a6a" stroke="none" stroke-width="1" />
<g transform="translate(171.3,506.3) rotate(2) scale(9.4,7.4)"><path d="M0.7,-0.5 Q1.2,0.0 0.7,0.6 Q0.2,1.2 -0.4,0.9 Q-1.0,0.5 -0.9,-0.2 Q-0.8,-0.8 -0.3,-0.9 Q0.2,-1.0 0.7,-0.5 Z" fill="url(#bluecell)" stroke="#5a6a98" stroke-width="0.096"/></g>
<circle cx="171.3" cy="506.3" r="2.0" fill="#1a2a6a" stroke="none" stroke-width="1" />
<g transform="translate(86.7,517.4) rotate(11) scale(9.4,7.4)"><path d="M0.9,-0.6 Q1.2,0.0 0.7,0.6 Q0.3,1.2 -0.3,1.0 Q-1.0,0.8 -1.0,0.0 Q-1.0,-0.7 -0.2,-1.0 Q0.5,-1.2 0.9,-0.6 Z" fill="url(#bluecell)" stroke="#5a6a98" stroke-width="0.096"/></g>
<circle cx="86.7" cy="517.4" r="2.0" fill="#1a2a6a" stroke="none" stroke-width="1" />
<g transform="translate(99.0,514.0) rotate(-18) scale(9.4,7.4)"><path d="M0.8,-0.6 Q1.3,-0.1 0.7,0.6 Q0.2,1.3 -0.5,0.9 Q-1.1,0.6 -1.1,0.1 Q-1.1,-0.5 -0.4,-0.8 Q0.3,-1.2 0.8,-0.6 Z" fill="url(#bluecell)" stroke="#5a6a98" stroke-width="0.096"/></g>
<circle cx="99.0" cy="514.0" r="2.0" fill="#1a2a6a" stroke="none" stroke-width="1" />
<g transform="translate(113.4,516.3) rotate(26) scale(9.4,7.4)"><path d="M0.7,-0.5 Q1.0,0.1 0.7,0.6 Q0.3,1.2 -0.3,0.9 Q-1.0,0.5 -0.9,-0.1 Q-0.9,-0.7 -0.3,-0.8 Q0.3,-1.0 0.7,-0.5 Z" fill="url(#bluecell)" stroke="#5a6a98" stroke-width="0.096"/></g>
<circle cx="113.4" cy="516.3" r="2.0" fill="#1a2a6a" stroke="none" stroke-width="1" />
<g transform="translate(99.0,526.3) rotate(11) scale(9.4,7.4)"><path d="M0.7,-0.5 Q1.1,0.1 0.7,0.5 Q0.2,1.0 -0.4,0.8 Q-1.0,0.6 -0.9,-0.0 Q-0.8,-0.7 -0.3,-0.9 Q0.3,-1.1 0.7,-0.5 Z" fill="url(#bluecell)" stroke="#5a6a98" stroke-width="0.096"/></g>
<circle cx="99.0" cy="526.3" r="2.0" fill="#1a2a6a" stroke="none" stroke-width="1" />
<g transform="translate(111.2,527.4) rotate(28) scale(9.4,7.4)"><path d="M0.7,-0.7 Q1.1,-0.1 0.8,0.4 Q0.5,1.0 -0.3,0.8 Q-1.0,0.7 -1.0,0.1 Q-1.0,-0.6 -0.4,-0.9 Q0.2,-1.2 0.7,-0.7 Z" fill="url(#bluecell)" stroke="#5a6a98" stroke-width="0.096"/></g>
<circle cx="111.2" cy="527.4" r="2.0" fill="#1a2a6a" stroke="none" stroke-width="1" />
<g transform="translate(124.6,529.6) rotate(24) scale(9.4,7.4)"><path d="M0.9,-0.5 Q1.3,-0.0 0.9,0.5 Q0.5,1.0 -0.3,0.7 Q-1.1,0.5 -1.0,0.0 Q-1.0,-0.5 -0.2,-0.8 Q0.5,-1.0 0.9,-0.5 Z" fill="url(#bluecell)" stroke="#5a6a98" stroke-width="0.096"/></g>
<circle cx="124.6" cy="529.6" r="2.0" fill="#1a2a6a" stroke="none" stroke-width="1" />
<g transform="translate(115.7,541.9) rotate(-12) scale(9.4,7.4)"><path d="M0.8,-0.6 Q1.1,-0.1 0.8,0.5 Q0.5,1.1 -0.2,0.9 Q-1.0,0.7 -0.9,0.0 Q-0.9,-0.7 -0.2,-0.9 Q0.5,-1.1 0.8,-0.6 Z" fill="url(#bluecell)" stroke="#5a6a98" stroke-width="0.096"/></g>
<circle cx="115.7" cy="541.9" r="2.0" fill="#1a2a6a" stroke="none" stroke-width="1" />
<g transform="translate(137.9,537.4) rotate(-8) scale(9.4,7.4)"><path d="M0.7,-0.5 Q1.0,0.1 0.7,0.5 Q0.4,1.0 -0.3,0.8 Q-1.0,0.6 -0.9,-0.1 Q-0.7,-0.7 -0.2,-0.9 Q0.3,-1.0 0.7,-0.5 Z" fill="url(#bluecell)" stroke="#5a6a98" stroke-width="0.096"/></g>
<circle cx="137.9" cy="537.4" r="2.0" fill="#1a2a6a" stroke="none" stroke-width="1" />
<g transform="translate(144.6,546.3) rotate(-20) scale(9.4,7.4)"><path d="M0.7,-0.7 Q1.2,-0.2 0.8,0.4 Q0.5,1.0 -0.3,0.8 Q-1.0,0.7 -1.0,-0.0 Q-0.9,-0.7 -0.4,-0.9 Q0.1,-1.1 0.7,-0.7 Z" fill="url(#bluecell)" stroke="#5a6a98" stroke-width="0.096"/></g>
<circle cx="144.6" cy="546.3" r="2.0" fill="#1a2a6a" stroke="none" stroke-width="1" />
<g transform="translate(176.0,519.0) rotate(-21) scale(9.4,7.4)"><path d="M0.7,-0.6 Q1.2,-0.0 0.7,0.5 Q0.2,1.0 -0.3,0.9 Q-0.8,0.7 -0.8,0.1 Q-0.9,-0.5 -0.3,-0.8 Q0.2,-1.1 0.7,-0.6 Z" fill="url(#bluecell)" stroke="#5a6a98" stroke-width="0.096"/></g>
<circle cx="176.0" cy="519.0" r="2.0" fill="#1a2a6a" stroke="none" stroke-width="1" />
<g transform="translate(168.0,440.0) rotate(-26) scale(9.4,7.4)"><path d="M0.7,-0.6 Q1.1,-0.1 0.8,0.4 Q0.5,1.0 -0.1,0.9 Q-0.7,0.7 -0.8,0.1 Q-0.9,-0.5 -0.3,-0.9 Q0.3,-1.2 0.7,-0.6 Z" fill="url(#bluecell)" stroke="#5a6a98" stroke-width="0.096"/></g>
<circle cx="168.0" cy="440.0" r="2.0" fill="#1a2a6a" stroke="none" stroke-width="1" />
<g transform="translate(56.0,480.0) rotate(-12) scale(9.4,7.4)"><path d="M0.6,-0.4 Q1.1,0.2 0.7,0.7 Q0.3,1.2 -0.3,1.0 Q-0.9,0.8 -0.9,-0.0 Q-1.0,-0.8 -0.4,-0.9 Q0.1,-1.0 0.6,-0.4 Z" fill="url(#bluecell)" stroke="#5a6a98" stroke-width="0.096"/></g>
<circle cx="56.0" cy="480.0" r="2.0" fill="#1a2a6a" stroke="none" stroke-width="1" />
<g transform="translate(92.0,531.0) rotate(6) scale(9.4,7.4)"><path d="M0.6,-0.5 Q1.1,-0.1 0.7,0.5 Q0.4,1.0 -0.3,0.9 Q-0.9,0.7 -1.0,0.1 Q-1.0,-0.5 -0.4,-0.8 Q0.1,-1.0 0.6,-0.5 Z" fill="url(#bluecell)" stroke="#5a6a98" stroke-width="0.096"/></g>
<circle cx="92.0" cy="531.0" r="2.0" fill="#1a2a6a" stroke="none" stroke-width="1" />
<g transform="translate(130.0,542.0) rotate(-30) scale(9.4,7.4)"><path d="M0.8,-0.5 Q1.0,0.0 0.6,0.5 Q0.2,1.1 -0.4,0.8 Q-1.0,0.5 -0.9,-0.1 Q-0.8,-0.7 -0.1,-0.9 Q0.6,-1.1 0.8,-0.5 Z" fill="url(#bluecell)" stroke="#5a6a98" stroke-width="0.096"/></g>
<circle cx="130.0" cy="542.0" r="2.0" fill="#1a2a6a" stroke="none" stroke-width="1" />
<g transform="translate(122.0,445.0) rotate(11) scale(9.4,7.4)"><path d="M0.7,-0.7 Q1.1,-0.2 0.8,0.4 Q0.6,1.1 -0.1,0.8 Q-0.8,0.6 -1.0,0.0 Q-1.1,-0.5 -0.4,-0.9 Q0.2,-1.2 0.7,-0.7 Z" fill="url(#bluecell)" stroke="#5a6a98" stroke-width="0.096"/></g>
<circle cx="122.0" cy="445.0" r="2.0" fill="#1a2a6a" stroke="none" stroke-width="1" />
<g transform="translate(87.9,454.0) rotate(10) scale(9.8,8.4)"><path d="M0.7,-0.6 Q1.2,-0.1 0.8,0.5 Q0.4,1.1 -0.2,0.8 Q-0.9,0.6 -1.0,0.0 Q-1.1,-0.5 -0.4,-0.8 Q0.2,-1.1 0.7,-0.6 Z" fill="url(#browncell)" stroke="#3a2408" stroke-width="0.092"/></g>
<circle cx="87.9" cy="454.0" r="1.8" fill="#1a1008" stroke="none" stroke-width="1" />
<path d="M110,478 C122,484 130,490 138,500 C148,512 158,528 170,538 C176,543 180,546 186,546 C194,538 202,528 208,514 C214,500 218,488 230,480 C242,472 256,470 270,468 L272,481 C260,482 252,486 246,492 C238,502 236,516 230,530 C222,548 204,558 186,564 C170,558 158,548 148,536 C138,522 130,508 120,496 C114,490 108,486 104,484 Z" fill="#eca0b0" stroke="none" stroke-width="1" />
<g transform="translate(99.0,470.6) rotate(25)"><path d="M-16,0 Q0,-9.2 16,0 Q0,9.2 -16,0 Z" fill="#f8e070" stroke="#c09838" stroke-width="0.6"/><ellipse cx="0" cy="0" rx="4" ry="2.2" fill="#104818"/></g>
<g transform="translate(117.9,472.9) rotate(30)"><path d="M-16,0 Q0,-9.2 16,0 Q0,9.2 -16,0 Z" fill="#f8e070" stroke="#c09838" stroke-width="0.6"/><ellipse cx="0" cy="0" rx="4" ry="2.2" fill="#104818"/></g>
<g transform="translate(102.3,481.8) rotate(20)"><path d="M-16,0 Q0,-9.2 16,0 Q0,9.2 -16,0 Z" fill="#f8e070" stroke="#c09838" stroke-width="0.6"/><ellipse cx="0" cy="0" rx="4" ry="2.2" fill="#104818"/></g>
<g transform="translate(120.1,498.5) rotate(60)"><path d="M-16,0 Q0,-9.2 16,0 Q0,9.2 -16,0 Z" fill="#f8e070" stroke="#c09838" stroke-width="0.6"/><ellipse cx="0" cy="0" rx="4" ry="2.2" fill="#104818"/></g>
<g transform="translate(141.3,492.9) rotate(70)"><path d="M-16,0 Q0,-9.2 16,0 Q0,9.2 -16,0 Z" fill="#f8e070" stroke="#c09838" stroke-width="0.6"/><ellipse cx="0" cy="0" rx="4" ry="2.2" fill="#104818"/></g>
<g transform="translate(153.5,507.4) rotate(45)"><path d="M-16,0 Q0,-9.2 16,0 Q0,9.2 -16,0 Z" fill="#f8e070" stroke="#c09838" stroke-width="0.6"/><ellipse cx="0" cy="0" rx="4" ry="2.2" fill="#104818"/></g>
<g transform="translate(127.9,519.6) rotate(40)"><path d="M-16,0 Q0,-9.2 16,0 Q0,9.2 -16,0 Z" fill="#f8e070" stroke="#c09838" stroke-width="0.6"/><ellipse cx="0" cy="0" rx="4" ry="2.2" fill="#104818"/></g>
<g transform="translate(160.2,521.8) rotate(30)"><path d="M-16,0 Q0,-9.2 16,0 Q0,9.2 -16,0 Z" fill="#f8e070" stroke="#c09838" stroke-width="0.6"/><ellipse cx="0" cy="0" rx="4" ry="2.2" fill="#104818"/></g>
<g transform="translate(175.8,530.7) rotate(75)"><path d="M-16,0 Q0,-9.2 16,0 Q0,9.2 -16,0 Z" fill="#f8e070" stroke="#c09838" stroke-width="0.6"/><ellipse cx="0" cy="0" rx="4" ry="2.2" fill="#104818"/></g>
<g transform="translate(159.0,543.0) rotate(30)"><path d="M-16,0 Q0,-9.2 16,0 Q0,9.2 -16,0 Z" fill="#f8e070" stroke="#c09838" stroke-width="0.6"/><ellipse cx="0" cy="0" rx="4" ry="2.2" fill="#104818"/></g>
<g transform="translate(137.0,505.0) rotate(55)"><path d="M-16,0 Q0,-9.2 16,0 Q0,9.2 -16,0 Z" fill="#f8e070" stroke="#c09838" stroke-width="0.6"/><ellipse cx="0" cy="0" rx="4" ry="2.2" fill="#104818"/></g>
<circle cx="99.0" cy="462.9" r="3.1" fill="#e81020" stroke="none" stroke-width="1" />
<circle cx="130.1" cy="485.1" r="3.1" fill="#e81020" stroke="none" stroke-width="1" />
<circle cx="129.0" cy="502.9" r="3.1" fill="#e81020" stroke="none" stroke-width="1" />
<circle cx="139.0" cy="510.7" r="3.1" fill="#e81020" stroke="none" stroke-width="1" />
<circle cx="145.7" cy="529.0" r="3.1" fill="#e81020" stroke="none" stroke-width="1" />
<g transform="translate(231.5,442.5) rotate(-10) scale(9.8,8.4)"><path d="M0.6,-0.6 Q1.1,-0.2 0.7,0.5 Q0.2,1.2 -0.4,0.9 Q-1.0,0.6 -0.9,-0.1 Q-0.8,-0.8 -0.3,-1.0 Q0.2,-1.1 0.6,-0.6 Z" fill="url(#browncell)" stroke="#3a2408" stroke-width="0.092"/></g>
<circle cx="231.5" cy="442.5" r="1.8" fill="#1a1008" stroke="none" stroke-width="1" />
<g transform="translate(210.0,454.3) rotate(-11) scale(9.8,8.4)"><path d="M0.7,-0.6 Q1.1,0.0 0.6,0.6 Q0.2,1.3 -0.4,1.0 Q-1.0,0.7 -0.9,0.1 Q-0.9,-0.5 -0.3,-0.8 Q0.3,-1.2 0.7,-0.6 Z" fill="url(#browncell)" stroke="#3a2408" stroke-width="0.092"/></g>
<circle cx="210.0" cy="454.3" r="1.8" fill="#1a1008" stroke="none" stroke-width="1" />
<g transform="translate(225.0,457.6) rotate(19) scale(9.8,8.4)"><path d="M0.7,-0.7 Q1.2,-0.2 0.8,0.5 Q0.5,1.1 -0.2,0.9 Q-0.9,0.6 -0.9,-0.1 Q-0.9,-0.7 -0.4,-0.9 Q0.2,-1.1 0.7,-0.7 Z" fill="url(#browncell)" stroke="#3a2408" stroke-width="0.092"/></g>
<circle cx="225.0" cy="457.6" r="1.8" fill="#1a1008" stroke="none" stroke-width="1" />
<g transform="translate(248.7,453.3) rotate(-1) scale(9.8,8.4)"><path d="M0.7,-0.5 Q1.1,0.2 0.7,0.7 Q0.3,1.2 -0.2,0.9 Q-0.8,0.7 -0.8,0.0 Q-0.8,-0.6 -0.2,-0.9 Q0.3,-1.2 0.7,-0.5 Z" fill="url(#browncell)" stroke="#3a2408" stroke-width="0.092"/></g>
<circle cx="248.7" cy="453.3" r="1.8" fill="#1a1008" stroke="none" stroke-width="1" />
<g transform="translate(265.8,446.8) rotate(-11) scale(9.8,8.4)"><path d="M0.7,-0.5 Q1.2,0.2 0.7,0.6 Q0.2,1.0 -0.3,0.9 Q-0.9,0.8 -0.8,0.0 Q-0.7,-0.7 -0.3,-1.0 Q0.2,-1.2 0.7,-0.5 Z" fill="url(#browncell)" stroke="#3a2408" stroke-width="0.092"/></g>
<circle cx="265.8" cy="446.8" r="1.8" fill="#1a1008" stroke="none" stroke-width="1" />
<g transform="translate(279.8,445.8) rotate(-1) scale(9.8,8.4)"><path d="M0.7,-0.5 Q1.1,0.2 0.7,0.7 Q0.3,1.2 -0.3,1.0 Q-0.9,0.8 -0.9,0.1 Q-0.9,-0.6 -0.3,-0.9 Q0.3,-1.2 0.7,-0.5 Z" fill="url(#browncell)" stroke="#3a2408" stroke-width="0.092"/></g>
<circle cx="279.8" cy="445.8" r="1.8" fill="#1a1008" stroke="none" stroke-width="1" />
<g transform="translate(196.1,462.9) rotate(12) scale(9.8,8.4)"><path d="M0.7,-0.6 Q1.3,0.1 0.9,0.6 Q0.6,1.1 -0.1,0.8 Q-0.9,0.5 -0.9,-0.2 Q-0.9,-0.8 -0.3,-1.0 Q0.2,-1.3 0.7,-0.6 Z" fill="url(#browncell)" stroke="#3a2408" stroke-width="0.092"/></g>
<circle cx="196.1" cy="462.9" r="1.8" fill="#1a1008" stroke="none" stroke-width="1" />
<g transform="translate(236.9,466.1) rotate(-27) scale(9.8,8.4)"><path d="M0.8,-0.6 Q1.2,-0.1 0.7,0.5 Q0.1,1.2 -0.4,0.9 Q-0.9,0.7 -1.0,0.0 Q-1.1,-0.6 -0.4,-0.8 Q0.4,-1.0 0.8,-0.6 Z" fill="url(#browncell)" stroke="#3a2408" stroke-width="0.092"/></g>
<circle cx="236.9" cy="466.1" r="1.8" fill="#1a1008" stroke="none" stroke-width="1" />
<g transform="translate(280.9,465.0) rotate(29) scale(9.8,8.4)"><path d="M0.7,-0.7 Q1.2,-0.2 0.7,0.5 Q0.2,1.1 -0.3,0.9 Q-0.8,0.7 -0.9,0.1 Q-1.0,-0.5 -0.4,-0.9 Q0.2,-1.2 0.7,-0.7 Z" fill="url(#browncell)" stroke="#3a2408" stroke-width="0.092"/></g>
<circle cx="280.9" cy="465.0" r="1.8" fill="#1a1008" stroke="none" stroke-width="1" />
<g transform="translate(294.8,470.4) rotate(-29) scale(9.8,8.4)"><path d="M0.8,-0.6 Q1.1,-0.1 0.7,0.4 Q0.3,1.0 -0.4,0.9 Q-1.0,0.7 -1.0,0.0 Q-0.9,-0.7 -0.2,-0.9 Q0.5,-1.0 0.8,-0.6 Z" fill="url(#browncell)" stroke="#3a2408" stroke-width="0.092"/></g>
<circle cx="294.8" cy="470.4" r="1.8" fill="#1a1008" stroke="none" stroke-width="1" />
<g transform="translate(206.8,476.9) rotate(15) scale(9.8,8.4)"><path d="M0.7,-0.4 Q1.1,0.2 0.7,0.6 Q0.2,1.1 -0.3,0.9 Q-0.9,0.6 -0.9,0.0 Q-0.8,-0.6 -0.3,-0.8 Q0.3,-1.1 0.7,-0.4 Z" fill="url(#browncell)" stroke="#3a2408" stroke-width="0.092"/></g>
<circle cx="206.8" cy="476.9" r="1.8" fill="#1a1008" stroke="none" stroke-width="1" />
<g transform="translate(308.8,486.5) rotate(21) scale(9.8,8.4)"><path d="M0.7,-0.4 Q1.1,0.1 0.6,0.6 Q0.2,1.1 -0.4,0.9 Q-0.9,0.7 -0.9,0.1 Q-0.9,-0.5 -0.3,-0.8 Q0.3,-1.0 0.7,-0.4 Z" fill="url(#browncell)" stroke="#3a2408" stroke-width="0.092"/></g>
<circle cx="308.8" cy="486.5" r="1.8" fill="#1a1008" stroke="none" stroke-width="1" />
<g transform="translate(281.9,483.3) rotate(-29) scale(9.8,8.4)"><path d="M0.8,-0.5 Q1.2,-0.0 0.8,0.6 Q0.3,1.2 -0.4,0.9 Q-1.1,0.5 -1.0,0.0 Q-0.9,-0.5 -0.3,-0.8 Q0.3,-1.1 0.8,-0.5 Z" fill="url(#browncell)" stroke="#3a2408" stroke-width="0.092"/></g>
<circle cx="281.9" cy="483.3" r="1.8" fill="#1a1008" stroke="none" stroke-width="1" />
<g transform="translate(203.6,494.0) rotate(17) scale(9.8,8.4)"><path d="M0.8,-0.7 Q1.2,-0.2 0.7,0.4 Q0.2,1.0 -0.3,0.8 Q-0.9,0.6 -0.9,-0.1 Q-0.9,-0.9 -0.3,-1.0 Q0.3,-1.1 0.8,-0.7 Z" fill="url(#browncell)" stroke="#3a2408" stroke-width="0.092"/></g>
<circle cx="203.6" cy="494.0" r="1.8" fill="#1a1008" stroke="none" stroke-width="1" />
<g transform="translate(271.2,496.2) rotate(-8) scale(9.8,8.4)"><path d="M0.6,-0.6 Q1.0,-0.1 0.6,0.5 Q0.3,1.0 -0.3,0.8 Q-0.9,0.6 -0.8,-0.2 Q-0.8,-0.9 -0.3,-0.9 Q0.2,-1.0 0.6,-0.6 Z" fill="url(#browncell)" stroke="#3a2408" stroke-width="0.092"/></g>
<circle cx="271.2" cy="496.2" r="1.8" fill="#1a1008" stroke="none" stroke-width="1" />
<g transform="translate(197.2,511.2) rotate(5) scale(9.8,8.4)"><path d="M0.7,-0.5 Q1.1,0.2 0.8,0.5 Q0.5,0.9 -0.3,0.8 Q-1.1,0.6 -0.9,-0.1 Q-0.8,-0.9 -0.2,-1.0 Q0.4,-1.1 0.7,-0.5 Z" fill="url(#browncell)" stroke="#3a2408" stroke-width="0.092"/></g>
<circle cx="197.2" cy="511.2" r="1.8" fill="#1a1008" stroke="none" stroke-width="1" />
<g transform="translate(263.7,510.1) rotate(-29) scale(9.8,8.4)"><path d="M0.7,-0.5 Q1.2,0.2 0.7,0.6 Q0.2,1.0 -0.4,0.8 Q-1.0,0.7 -1.0,-0.0 Q-0.9,-0.7 -0.3,-0.9 Q0.2,-1.1 0.7,-0.5 Z" fill="url(#browncell)" stroke="#3a2408" stroke-width="0.092"/></g>
<circle cx="263.7" cy="510.1" r="1.8" fill="#1a1008" stroke="none" stroke-width="1" />
<g transform="translate(280.9,510.1) rotate(-27) scale(9.8,8.4)"><path d="M0.7,-0.7 Q1.1,-0.1 0.7,0.4 Q0.4,1.0 -0.2,0.8 Q-0.8,0.6 -0.9,-0.0 Q-0.9,-0.7 -0.3,-0.9 Q0.3,-1.2 0.7,-0.7 Z" fill="url(#browncell)" stroke="#3a2408" stroke-width="0.092"/></g>
<circle cx="280.9" cy="510.1" r="1.8" fill="#1a1008" stroke="none" stroke-width="1" />
<g transform="translate(301.2,512.3) rotate(-19) scale(9.8,8.4)"><path d="M0.7,-0.5 Q1.1,0.1 0.8,0.5 Q0.5,1.0 -0.2,0.8 Q-1.0,0.5 -0.9,-0.1 Q-0.8,-0.8 -0.2,-1.0 Q0.4,-1.1 0.7,-0.5 Z" fill="url(#browncell)" stroke="#3a2408" stroke-width="0.092"/></g>
<circle cx="301.2" cy="512.3" r="1.8" fill="#1a1008" stroke="none" stroke-width="1" />
<g transform="translate(249.7,525.2) rotate(27) scale(9.8,8.4)"><path d="M0.7,-0.5 Q1.0,0.2 0.6,0.7 Q0.2,1.1 -0.4,0.8 Q-1.1,0.5 -1.0,-0.0 Q-0.9,-0.6 -0.2,-0.9 Q0.4,-1.2 0.7,-0.5 Z" fill="url(#browncell)" stroke="#3a2408" stroke-width="0.092"/></g>
<circle cx="249.7" cy="525.2" r="1.8" fill="#1a1008" stroke="none" stroke-width="1" />
<g transform="translate(270.1,523.0) rotate(-18) scale(9.8,8.4)"><path d="M0.6,-0.5 Q1.1,0.0 0.6,0.6 Q0.2,1.2 -0.4,0.9 Q-1.1,0.7 -1.1,0.1 Q-1.1,-0.6 -0.4,-0.8 Q0.2,-1.1 0.6,-0.5 Z" fill="url(#browncell)" stroke="#3a2408" stroke-width="0.092"/></g>
<circle cx="270.1" cy="523.0" r="1.8" fill="#1a1008" stroke="none" stroke-width="1" />
<g transform="translate(290.5,524.1) rotate(15) scale(9.8,8.4)"><path d="M0.8,-0.6 Q1.2,-0.2 0.8,0.5 Q0.4,1.2 -0.3,0.9 Q-1.0,0.6 -0.9,-0.1 Q-0.8,-0.8 -0.1,-0.9 Q0.5,-1.0 0.8,-0.6 Z" fill="url(#browncell)" stroke="#3a2408" stroke-width="0.092"/></g>
<circle cx="290.5" cy="524.1" r="1.8" fill="#1a1008" stroke="none" stroke-width="1" />
<g transform="translate(240.1,539.1) rotate(26) scale(9.8,8.4)"><path d="M0.8,-0.5 Q1.2,0.0 0.8,0.6 Q0.5,1.2 -0.3,0.9 Q-1.1,0.6 -1.0,-0.0 Q-1.0,-0.7 -0.3,-0.9 Q0.5,-1.1 0.8,-0.5 Z" fill="url(#browncell)" stroke="#3a2408" stroke-width="0.092"/></g>
<circle cx="240.1" cy="539.1" r="1.8" fill="#1a1008" stroke="none" stroke-width="1" />
<g transform="translate(262.6,539.1) rotate(27) scale(9.8,8.4)"><path d="M0.7,-0.6 Q1.0,-0.2 0.7,0.4 Q0.4,1.0 -0.3,0.7 Q-0.9,0.5 -0.9,-0.1 Q-0.9,-0.7 -0.2,-0.8 Q0.5,-0.9 0.7,-0.6 Z" fill="url(#browncell)" stroke="#3a2408" stroke-width="0.092"/></g>
<circle cx="262.6" cy="539.1" r="1.8" fill="#1a1008" stroke="none" stroke-width="1" />
<g transform="translate(293.0,498.0) rotate(-9) scale(9.8,8.4)"><path d="M0.9,-0.4 Q1.1,0.2 0.8,0.7 Q0.5,1.2 -0.2,1.0 Q-1.0,0.8 -1.0,0.2 Q-1.0,-0.5 -0.2,-0.8 Q0.6,-1.1 0.9,-0.4 Z" fill="url(#browncell)" stroke="#3a2408" stroke-width="0.092"/></g>
<circle cx="293.0" cy="498.0" r="1.8" fill="#1a1008" stroke="none" stroke-width="1" />
<g transform="translate(215.0,440.0) rotate(-9) scale(9.8,8.4)"><path d="M0.6,-0.5 Q1.1,0.2 0.6,0.6 Q0.2,1.1 -0.4,0.8 Q-1.0,0.6 -0.9,-0.1 Q-0.9,-0.7 -0.4,-1.0 Q0.1,-1.2 0.6,-0.5 Z" fill="url(#browncell)" stroke="#3a2408" stroke-width="0.092"/></g>
<circle cx="215.0" cy="440.0" r="1.8" fill="#1a1008" stroke="none" stroke-width="1" />
<g transform="translate(263.7,462.9) rotate(1) scale(9.4,7.4)"><path d="M0.6,-0.6 Q1.1,-0.2 0.6,0.4 Q0.2,1.0 -0.4,0.8 Q-1.0,0.5 -1.0,0.0 Q-1.0,-0.5 -0.4,-0.7 Q0.2,-1.0 0.6,-0.6 Z" fill="url(#bluecell)" stroke="#5a6a98" stroke-width="0.096"/></g>
<circle cx="263.7" cy="462.9" r="2.0" fill="#1a2a6a" stroke="none" stroke-width="1" />
<g transform="translate(298.0,495.1) rotate(17) scale(9.4,7.4)"><path d="M0.7,-0.7 Q1.1,-0.2 0.8,0.4 Q0.5,0.9 -0.3,0.8 Q-1.0,0.6 -1.0,-0.0 Q-1.0,-0.7 -0.3,-1.0 Q0.4,-1.2 0.7,-0.7 Z" fill="url(#bluecell)" stroke="#5a6a98" stroke-width="0.096"/></g>
<circle cx="298.0" cy="495.1" r="2.0" fill="#1a2a6a" stroke="none" stroke-width="1" />
<g transform="translate(230.4,549.8) rotate(-24) scale(9.4,7.4)"><path d="M0.7,-0.5 Q1.2,0.1 0.8,0.6 Q0.4,1.0 -0.4,0.8 Q-1.1,0.7 -1.1,-0.0 Q-1.0,-0.7 -0.4,-0.9 Q0.1,-1.1 0.7,-0.5 Z" fill="url(#bluecell)" stroke="#5a6a98" stroke-width="0.096"/></g>
<circle cx="230.4" cy="549.8" r="2.0" fill="#1a2a6a" stroke="none" stroke-width="1" />
<g transform="translate(219.7,482.2) rotate(-70)"><path d="M-16,0 Q0,-9.2 16,0 Q0,9.2 -16,0 Z" fill="#f8e070" stroke="#c09838" stroke-width="0.6"/><ellipse cx="0" cy="0" rx="4" ry="2.2" fill="#104818"/></g>
<g transform="translate(253.0,475.8) rotate(-10)"><path d="M-16,0 Q0,-9.2 16,0 Q0,9.2 -16,0 Z" fill="#f8e070" stroke="#c09838" stroke-width="0.6"/><ellipse cx="0" cy="0" rx="4" ry="2.2" fill="#104818"/></g>
<g transform="translate(263.7,485.5) rotate(-45)"><path d="M-16,0 Q0,-9.2 16,0 Q0,9.2 -16,0 Z" fill="#f8e070" stroke="#c09838" stroke-width="0.6"/><ellipse cx="0" cy="0" rx="4" ry="2.2" fill="#104818"/></g>
<g transform="translate(203.6,522.0) rotate(-40)"><path d="M-16,0 Q0,-9.2 16,0 Q0,9.2 -16,0 Z" fill="#f8e070" stroke="#c09838" stroke-width="0.6"/><ellipse cx="0" cy="0" rx="4" ry="2.2" fill="#104818"/></g>
<g transform="translate(242.2,512.3) rotate(-35)"><path d="M-16,0 Q0,-9.2 16,0 Q0,9.2 -16,0 Z" fill="#f8e070" stroke="#c09838" stroke-width="0.6"/><ellipse cx="0" cy="0" rx="4" ry="2.2" fill="#104818"/></g>
<g transform="translate(218.6,542.3) rotate(-30)"><path d="M-16,0 Q0,-9.2 16,0 Q0,9.2 -16,0 Z" fill="#f8e070" stroke="#c09838" stroke-width="0.6"/><ellipse cx="0" cy="0" rx="4" ry="2.2" fill="#104818"/></g>
<g transform="translate(190.0,545.0) rotate(-60)"><path d="M-16,0 Q0,-9.2 16,0 Q0,9.2 -16,0 Z" fill="#f8e070" stroke="#c09838" stroke-width="0.6"/><ellipse cx="0" cy="0" rx="4" ry="2.2" fill="#104818"/></g>
<circle cx="235.8" cy="452.2" r="3.1" fill="#e81020" stroke="none" stroke-width="1" />
<circle cx="272.3" cy="456.5" r="3.1" fill="#e81020" stroke="none" stroke-width="1" />
<circle cx="214.3" cy="468.3" r="3.1" fill="#e81020" stroke="none" stroke-width="1" />
<circle cx="230.4" cy="475.8" r="3.1" fill="#e81020" stroke="none" stroke-width="1" />
<circle cx="304.5" cy="472.6" r="3.1" fill="#e81020" stroke="none" stroke-width="1" />
<circle cx="201.5" cy="484.4" r="3.1" fill="#e81020" stroke="none" stroke-width="1" />
<circle cx="243.3" cy="503.7" r="3.1" fill="#e81020" stroke="none" stroke-width="1" />
<circle cx="287.3" cy="500.5" r="3.1" fill="#e81020" stroke="none" stroke-width="1" />
<circle cx="212.2" cy="504.8" r="3.1" fill="#e81020" stroke="none" stroke-width="1" />
<circle cx="259.4" cy="519.8" r="3.1" fill="#e81020" stroke="none" stroke-width="1" />
<circle cx="237.9" cy="527.3" r="3.1" fill="#e81020" stroke="none" stroke-width="1" />
<circle cx="281.9" cy="528.4" r="3.1" fill="#e81020" stroke="none" stroke-width="1" />
<circle cx="253.0" cy="543.4" r="3.1" fill="#e81020" stroke="none" stroke-width="1" />
<path d="M102,587 C108,585 110,580 114,581 C117,582 118,579 121,578" fill="none" stroke="#e8a0b0" stroke-width="3.4" stroke-linecap="round"/>
<text x="130.0" y="588.0" font-size="11.6" fill="#222" font-weight="bold" text-anchor="start" >Vessels</text>
<g transform="translate(205.0,584.5) rotate(0) scale(10,5.5)"><path d="M0.9,-0.5 Q1.2,0.1 0.7,0.7 Q0.2,1.2 -0.4,0.9 Q-1.1,0.6 -1.1,0.1 Q-1.0,-0.5 -0.2,-0.8 Q0.6,-1.1 0.9,-0.5 Z" fill="url(#bluecell)" stroke="#5a6a98" stroke-width="0.090"/></g>
<circle cx="205.0" cy="584.5" r="2.0" fill="#1a2a6a" stroke="none" stroke-width="1" />
<text x="228.0" y="589.0" font-size="11.8" fill="#222" font-weight="bold" text-anchor="start" >Live tumor cell</text>
<g transform="translate(110.5,611.0) rotate(0)"><path d="M-25,0 Q0,-6.4 25,0 Q0,6.4 -25,0 Z" fill="#f8e070" stroke="#c09838" stroke-width="0.6"/><ellipse cx="0" cy="0" rx="4" ry="2.2" fill="#104818"/></g>
<text x="143.5" y="615.5" font-size="11.4" fill="#222" font-weight="bold" text-anchor="start" >TAFs</text>
<g transform="translate(205.5,612.0) rotate(0) scale(9.5,7)"><path d="M0.8,-0.6 Q1.3,-0.1 0.9,0.5 Q0.5,1.1 -0.1,0.9 Q-0.8,0.8 -0.7,-0.0 Q-0.7,-0.8 -0.2,-0.9 Q0.4,-1.1 0.8,-0.6 Z" fill="url(#browncell)" stroke="#3a2408" stroke-width="0.095"/></g>
<circle cx="205.5" cy="612.0" r="1.8" fill="#1a1008" stroke="none" stroke-width="1" />
<text x="226.8" y="616.5" font-size="11.8" fill="#222" font-weight="bold" text-anchor="start" >Apoptotic tumor cell</text>
<path d="M74.5,640.0 L70.4,640.6 L73.6,643.2 L69.8,641.8 L71.2,645.6 L68.6,642.4 L68.0,646.5 L67.4,642.4 L64.8,645.6 L66.2,641.8 L62.4,643.2 L65.6,640.6 L61.5,640.0 L65.6,639.4 L62.4,636.8 L66.2,638.2 L64.8,634.4 L67.4,637.6 L68.0,633.5 L68.6,637.6 L71.2,634.4 L69.8,638.2 L73.6,636.8 L70.4,639.4 Z" fill="#a8d8e0" stroke="none" stroke-width="1" />
<circle cx="68.0" cy="640.0" r="2.5" fill="#d8f0f0" stroke="none" stroke-width="1" />
<text x="91.0" y="645.0" font-size="11.8" fill="#222" font-weight="bold" text-anchor="start" >HDZ-liposome</text>
<circle cx="205.0" cy="641.0" r="4.8" fill="#e81020" stroke="none" stroke-width="1" />
<text x="227.0" y="645.5" font-size="11.7" fill="#222" font-weight="bold" text-anchor="start" >DOX/DiD-liposome</text>
<text x="425.0" y="343.9" font-size="20.3" fill="#111" font-weight="bold" text-anchor="start" >D</text>
<circle cx="591.0" cy="405.6" r="26.0" fill="url(#npdots)" stroke="none" stroke-width="1" />
<circle cx="606.5" cy="423.0" r="1.2" fill="#5aae78" stroke="#2a7048" stroke-width="0.4" />
<circle cx="592.1" cy="392.8" r="1.2" fill="#5aae78" stroke="#2a7048" stroke-width="0.4" />
<circle cx="574.0" cy="406.1" r="1.2" fill="#5aae78" stroke="#2a7048" stroke-width="0.4" />
<circle cx="578.0" cy="387.3" r="1.2" fill="#5aae78" stroke="#2a7048" stroke-width="0.4" />
<circle cx="594.5" cy="408.0" r="1.2" fill="#5aae78" stroke="#2a7048" stroke-width="0.4" />
<circle cx="599.6" cy="391.3" r="1.2" fill="#5aae78" stroke="#2a7048" stroke-width="0.4" />
<circle cx="591.1" cy="404.4" r="1.2" fill="#5aae78" stroke="#2a7048" stroke-width="0.4" />
<circle cx="570.7" cy="412.8" r="1.2" fill="#5aae78" stroke="#2a7048" stroke-width="0.4" />
<circle cx="594.3" cy="430.0" r="1.2" fill="#5aae78" stroke="#2a7048" stroke-width="0.4" />
<circle cx="594.6" cy="403.0" r="1.2" fill="#5aae78" stroke="#2a7048" stroke-width="0.4" />
<circle cx="609.4" cy="408.6" r="1.2" fill="#5aae78" stroke="#2a7048" stroke-width="0.4" />
<circle cx="605.5" cy="399.8" r="1.2" fill="#5aae78" stroke="#2a7048" stroke-width="0.4" />
<circle cx="594.4" cy="421.7" r="1.2" fill="#5aae78" stroke="#2a7048" stroke-width="0.4" />
<circle cx="602.7" cy="407.8" r="1.2" fill="#5aae78" stroke="#2a7048" stroke-width="0.4" />
<circle cx="574.5" cy="412.4" r="1.2" fill="#5aae78" stroke="#2a7048" stroke-width="0.4" />
<circle cx="592.3" cy="417.7" r="1.2" fill="#5aae78" stroke="#2a7048" stroke-width="0.4" />
<circle cx="594.3" cy="422.5" r="1.2" fill="#5aae78" stroke="#2a7048" stroke-width="0.4" />
<circle cx="590.1" cy="409.2" r="1.2" fill="#5aae78" stroke="#2a7048" stroke-width="0.4" />
<circle cx="600.9" cy="389.5" r="1.2" fill="#5aae78" stroke="#2a7048" stroke-width="0.4" />
<circle cx="584.2" cy="397.1" r="1.2" fill="#5aae78" stroke="#2a7048" stroke-width="0.4" />
<circle cx="614.5" cy="404.5" r="1.2" fill="#5aae78" stroke="#2a7048" stroke-width="0.4" />
<circle cx="601.6" cy="415.7" r="1.2" fill="#5aae78" stroke="#2a7048" stroke-width="0.4" />
<circle cx="587.2" cy="384.6" r="1.2" fill="#5aae78" stroke="#2a7048" stroke-width="0.4" />
<circle cx="606.2" cy="399.2" r="1.2" fill="#5aae78" stroke="#2a7048" stroke-width="0.4" />
<circle cx="601.0" cy="387.4" r="1.2" fill="#5aae78" stroke="#2a7048" stroke-width="0.4" />
<circle cx="584.6" cy="423.9" r="1.2" fill="#5aae78" stroke="#2a7048" stroke-width="0.4" />
<circle cx="608.2" cy="389.9" r="1.2" fill="#5aae78" stroke="#2a7048" stroke-width="0.4" />
<circle cx="571.6" cy="405.0" r="1.2" fill="#5aae78" stroke="#2a7048" stroke-width="0.4" />
<circle cx="603.2" cy="408.3" r="1.2" fill="#5aae78" stroke="#2a7048" stroke-width="0.4" />
<circle cx="595.8" cy="390.0" r="1.2" fill="#5aae78" stroke="#2a7048" stroke-width="0.4" />
<circle cx="599.7" cy="422.2" r="1.2" fill="#5aae78" stroke="#2a7048" stroke-width="0.4" />
<line x1="585.1" y1="386.2" x2="587.1" y2="388.2" stroke="#a03020" stroke-width="0.6" />
<line x1="579.5" y1="417.2" x2="581.5" y2="419.2" stroke="#a03020" stroke-width="0.6" />
<line x1="569.3" y1="404.5" x2="571.3" y2="406.5" stroke="#a03020" stroke-width="0.6" />
<line x1="575.7" y1="403.6" x2="577.7" y2="405.6" stroke="#a03020" stroke-width="0.6" />
<line x1="586.8" y1="405.9" x2="588.8" y2="407.9" stroke="#a03020" stroke-width="0.6" />
<line x1="610.9" y1="411.2" x2="612.9" y2="413.2" stroke="#a03020" stroke-width="0.6" />
<line x1="609.9" y1="403.6" x2="611.9" y2="405.6" stroke="#a03020" stroke-width="0.6" />
<line x1="583.0" y1="411.9" x2="585.0" y2="413.9" stroke="#a03020" stroke-width="0.6" />
<line x1="566.6" y1="405.3" x2="568.6" y2="407.3" stroke="#a03020" stroke-width="0.6" />
<line x1="593.3" y1="387.6" x2="595.3" y2="389.6" stroke="#a03020" stroke-width="0.6" />
<line x1="598.6" y1="396.5" x2="600.6" y2="398.5" stroke="#a03020" stroke-width="0.6" />
<line x1="567.0" y1="403.5" x2="569.0" y2="405.5" stroke="#a03020" stroke-width="0.6" />
<line x1="576.2" y1="397.8" x2="578.2" y2="399.8" stroke="#a03020" stroke-width="0.6" />
<line x1="588.8" y1="423.7" x2="590.8" y2="425.7" stroke="#a03020" stroke-width="0.6" />
<line x1="592.8" y1="405.1" x2="594.8" y2="407.1" stroke="#a03020" stroke-width="0.6" />
<text x="591.0" y="375.0" font-size="7.4" fill="#1e1e1e" font-weight="normal" text-anchor="middle" >M2NP</text>
<line x1="503.6" y1="435.3" x2="508.4" y2="433.9" stroke="#8a9a98" stroke-width="0.9" />
<line x1="503.2" y1="434.1" x2="507.9" y2="432.5" stroke="#8a9a98" stroke-width="0.9" />
<line x1="503.0" y1="450.5" x2="507.7" y2="452.3" stroke="#8a9a98" stroke-width="0.9" />
<line x1="501.1" y1="454.5" x2="505.4" y2="457.0" stroke="#8a9a98" stroke-width="0.9" />
<line x1="492.5" y1="420.9" x2="495.1" y2="416.7" stroke="#8a9a98" stroke-width="0.9" />
<line x1="477.8" y1="417.6" x2="477.4" y2="412.6" stroke="#8a9a98" stroke-width="0.9" />
<line x1="468.2" y1="420.6" x2="465.7" y2="416.2" stroke="#8a9a98" stroke-width="0.9" />
<line x1="471.2" y1="464.9" x2="469.5" y2="469.6" stroke="#8a9a98" stroke-width="0.9" />
<line x1="460.7" y1="426.9" x2="456.8" y2="423.8" stroke="#8a9a98" stroke-width="0.9" />
<line x1="460.8" y1="426.8" x2="456.9" y2="423.7" stroke="#8a9a98" stroke-width="0.9" />
<line x1="458.6" y1="430.0" x2="454.3" y2="427.6" stroke="#8a9a98" stroke-width="0.9" />
<line x1="493.3" y1="462.6" x2="496.1" y2="466.7" stroke="#8a9a98" stroke-width="0.9" />
<line x1="457.8" y1="452.3" x2="453.3" y2="454.5" stroke="#8a9a98" stroke-width="0.9" />
<line x1="460.8" y1="457.2" x2="456.9" y2="460.3" stroke="#8a9a98" stroke-width="0.9" />
<line x1="475.9" y1="417.9" x2="475.0" y2="412.9" stroke="#8a9a98" stroke-width="0.9" />
<line x1="504.5" y1="441.2" x2="509.5" y2="441.0" stroke="#8a9a98" stroke-width="0.9" />
<line x1="503.3" y1="434.3" x2="508.0" y2="432.8" stroke="#8a9a98" stroke-width="0.9" />
<line x1="456.4" y1="435.3" x2="451.6" y2="433.9" stroke="#8a9a98" stroke-width="0.9" />
<line x1="457.0" y1="450.3" x2="452.3" y2="452.0" stroke="#8a9a98" stroke-width="0.9" />
<line x1="477.2" y1="466.3" x2="476.6" y2="471.3" stroke="#8a9a98" stroke-width="0.9" />
<line x1="503.9" y1="447.5" x2="508.8" y2="448.6" stroke="#8a9a98" stroke-width="0.9" />
<line x1="504.1" y1="446.2" x2="509.1" y2="447.1" stroke="#8a9a98" stroke-width="0.9" />
<circle cx="480.0" cy="442.0" r="24.5" fill="url(#npdots)" stroke="none" stroke-width="1" />
<circle cx="466.9" cy="444.9" r="1.2" fill="#5aae78" stroke="#2a7048" stroke-width="0.4" />
<circle cx="463.6" cy="457.4" r="1.2" fill="#5aae78" stroke="#2a7048" stroke-width="0.4" />
<circle cx="462.4" cy="439.1" r="1.2" fill="#5aae78" stroke="#2a7048" stroke-width="0.4" />
<circle cx="480.3" cy="445.7" r="1.2" fill="#5aae78" stroke="#2a7048" stroke-width="0.4" />
<circle cx="476.0" cy="449.9" r="1.2" fill="#5aae78" stroke="#2a7048" stroke-width="0.4" />
<circle cx="456.2" cy="440.5" r="1.2" fill="#5aae78" stroke="#2a7048" stroke-width="0.4" />
<circle cx="475.3" cy="432.9" r="1.2" fill="#5aae78" stroke="#2a7048" stroke-width="0.4" />
<circle cx="496.7" cy="428.8" r="1.2" fill="#5aae78" stroke="#2a7048" stroke-width="0.4" />
<circle cx="477.8" cy="419.4" r="1.2" fill="#5aae78" stroke="#2a7048" stroke-width="0.4" />
<circle cx="481.7" cy="420.8" r="1.2" fill="#5aae78" stroke="#2a7048" stroke-width="0.4" />
<circle cx="465.6" cy="460.8" r="1.2" fill="#5aae78" stroke="#2a7048" stroke-width="0.4" />
<circle cx="489.3" cy="439.7" r="1.2" fill="#5aae78" stroke="#2a7048" stroke-width="0.4" />
<circle cx="480.5" cy="421.8" r="1.2" fill="#5aae78" stroke="#2a7048" stroke-width="0.4" />
<circle cx="463.1" cy="446.2" r="1.2" fill="#5aae78" stroke="#2a7048" stroke-width="0.4" />
<circle cx="457.1" cy="443.4" r="1.2" fill="#5aae78" stroke="#2a7048" stroke-width="0.4" />
<circle cx="458.2" cy="441.9" r="1.2" fill="#5aae78" stroke="#2a7048" stroke-width="0.4" />
<circle cx="466.4" cy="459.8" r="1.2" fill="#5aae78" stroke="#2a7048" stroke-width="0.4" />
<circle cx="493.1" cy="432.4" r="1.2" fill="#5aae78" stroke="#2a7048" stroke-width="0.4" />
<circle cx="459.1" cy="432.5" r="1.2" fill="#5aae78" stroke="#2a7048" stroke-width="0.4" />
<circle cx="477.3" cy="425.6" r="1.2" fill="#5aae78" stroke="#2a7048" stroke-width="0.4" />
<circle cx="482.4" cy="455.4" r="1.2" fill="#5aae78" stroke="#2a7048" stroke-width="0.4" />
<circle cx="477.0" cy="432.8" r="1.2" fill="#5aae78" stroke="#2a7048" stroke-width="0.4" />
<circle cx="490.4" cy="435.2" r="1.2" fill="#5aae78" stroke="#2a7048" stroke-width="0.4" />
<circle cx="491.3" cy="435.0" r="1.2" fill="#5aae78" stroke="#2a7048" stroke-width="0.4" />
<circle cx="499.4" cy="436.7" r="1.2" fill="#5aae78" stroke="#2a7048" stroke-width="0.4" />
<circle cx="462.8" cy="441.5" r="1.2" fill="#5aae78" stroke="#2a7048" stroke-width="0.4" />
<circle cx="469.4" cy="427.1" r="1.2" fill="#5aae78" stroke="#2a7048" stroke-width="0.4" />
<circle cx="475.9" cy="452.1" r="1.2" fill="#5aae78" stroke="#2a7048" stroke-width="0.4" />
<circle cx="457.0" cy="440.3" r="1.2" fill="#5aae78" stroke="#2a7048" stroke-width="0.4" />
<line x1="475.4" y1="437.5" x2="477.4" y2="439.5" stroke="#a03020" stroke-width="0.6" />
<line x1="488.5" y1="424.1" x2="490.5" y2="426.1" stroke="#a03020" stroke-width="0.6" />
<line x1="488.5" y1="436.4" x2="490.5" y2="438.4" stroke="#a03020" stroke-width="0.6" />
<line x1="479.8" y1="436.4" x2="481.8" y2="438.4" stroke="#a03020" stroke-width="0.6" />
<line x1="473.0" y1="432.0" x2="475.0" y2="434.0" stroke="#a03020" stroke-width="0.6" />
<line x1="483.2" y1="463.5" x2="485.2" y2="465.5" stroke="#a03020" stroke-width="0.6" />
<line x1="493.2" y1="452.4" x2="495.2" y2="454.4" stroke="#a03020" stroke-width="0.6" />
<line x1="487.0" y1="432.9" x2="489.0" y2="434.9" stroke="#a03020" stroke-width="0.6" />
<line x1="485.4" y1="463.1" x2="487.4" y2="465.1" stroke="#a03020" stroke-width="0.6" />
<line x1="462.6" y1="451.2" x2="464.6" y2="453.2" stroke="#a03020" stroke-width="0.6" />
<line x1="493.7" y1="444.8" x2="495.7" y2="446.8" stroke="#a03020" stroke-width="0.6" />
<line x1="489.0" y1="458.8" x2="491.0" y2="460.8" stroke="#a03020" stroke-width="0.6" />
<line x1="499.7" y1="453.3" x2="501.7" y2="455.3" stroke="#a03020" stroke-width="0.6" />
<line x1="499.6" y1="445.1" x2="501.6" y2="447.1" stroke="#a03020" stroke-width="0.6" />
<text x="479.0" y="411.8" font-size="7.4" fill="#1e1e1e" font-weight="normal" text-anchor="middle" >M2NP-siCD115</text>
<line x1="565.4" y1="405.7" x2="512.0" y2="431.4" stroke="#222" stroke-width="1" />
<path d="M507.6,433.6 L514.5,426.9 L516.3,432.5 Z" fill="#222" stroke="none" stroke-width="1" />
<text x="534.0" y="419.0" font-size="6.8" fill="#1e1e1e" font-weight="normal" text-anchor="middle" transform="rotate(-26.5 534 419)">+ chol-siCD115</text>
<g transform="translate(531,403.5) rotate(-48)"><path d="M-8,0 q1,-2 2,0 q1,2 2,0 q1,-2 2,0 q1,2 2,0 q1,-2 2,0 q1,2 2,0 q1,-2 2,0" fill="none" stroke="#aaa" stroke-width="0.8"/></g>
<circle cx="525.5" cy="409.5" r="1.1" fill="#777" stroke="none" stroke-width="1" />
<path d="M398,459 C414,455 430,440 441.6,416 L441.6,479.5 C430,472 414,471 398,474.5 Z" fill="url(#funnel)" stroke="none" stroke-width="1" />
<path d="M411.3,465.5 L409.8,466.2 L410.8,467.5 L409.1,467.3 L409.3,469.0 L408.0,468.0 L407.3,469.5 L406.6,468.0 L405.3,469.0 L405.5,467.3 L403.8,467.5 L404.8,466.2 L403.3,465.5 L404.8,464.8 L403.8,463.5 L405.5,463.7 L405.3,462.0 L406.6,463.0 L407.3,461.5 L408.0,463.0 L409.3,462.0 L409.1,463.7 L410.8,463.5 L409.8,464.8 Z" fill="#d05a40" stroke="none" stroke-width="1" />
<circle cx="407.3" cy="465.5" r="2.4" fill="url(#npdots)" stroke="none" stroke-width="1" />
<path d="M426.1,457.0 L424.4,457.8 L425.5,459.4 L423.6,459.3 L423.7,461.2 L422.1,460.1 L421.3,461.8 L420.5,460.1 L418.9,461.2 L419.0,459.3 L417.1,459.4 L418.2,457.8 L416.5,457.0 L418.2,456.2 L417.1,454.6 L419.0,454.7 L418.9,452.8 L420.5,453.9 L421.3,452.2 L422.1,453.9 L423.7,452.8 L423.6,454.7 L425.5,454.6 L424.4,456.2 Z" fill="#d05a40" stroke="none" stroke-width="1" />
<circle cx="421.3" cy="457.0" r="3.0" fill="url(#npdots)" stroke="none" stroke-width="1" />
<path d="M443.2,448.0 L441.3,449.1 L442.4,451.0 L440.2,451.0 L440.2,453.2 L438.3,452.1 L437.2,454.0 L436.1,452.1 L434.2,453.2 L434.2,451.0 L432.0,451.0 L433.1,449.1 L431.2,448.0 L433.1,446.9 L432.0,445.0 L434.2,445.0 L434.2,442.8 L436.1,443.9 L437.2,442.0 L438.3,443.9 L440.2,442.8 L440.2,445.0 L442.4,445.0 L441.3,446.9 Z" fill="#d05a40" stroke="none" stroke-width="1" />
<circle cx="437.2" cy="448.0" r="4.0" fill="url(#npdots)" stroke="none" stroke-width="1" />
<path d="M398.5,490 L405,503" fill="none" stroke="#b8dcf0" stroke-width="3.2" />
<path d="M401,503 L409.5,509 L409,499 Z" fill="#b8dcf0" stroke="none" stroke-width="1" />
<path d="M419.5,507 L427,524" fill="none" stroke="#7a98b0" stroke-width="4.4" stroke-linecap="round"/>
<path d="M419.5,507 L427,524" fill="none" stroke="#d8ecf8" stroke-width="3" />
<line x1="427.0" y1="524.0" x2="429.5" y2="529.5" stroke="#666" stroke-width="0.8" />
<line x1="415.5" y1="506.0" x2="422.0" y2="503.0" stroke="#777" stroke-width="1.2" />
<path d="M443,530.5 C436,529.5 428,530 424,532.5 C419,536 420,542 424,546 C427,549 430,550.5 434,551" fill="none" stroke="#555" stroke-width="1.3" />
<path d="M476,526 L484,535.5 L478.5,536.5 L472,530 Z M456,540 L452,547 L459,547 L462,541 Z" fill="#6a6a6a" stroke="#333" stroke-width="0.7" />
<ellipse cx="458.0" cy="530.0" rx="16.5" ry="13.2" fill="#767676" stroke="#333" stroke-width="0.8" />
<ellipse cx="479.5" cy="521.5" rx="12.5" ry="7" fill="#767676" stroke="#333" stroke-width="0.8" transform="rotate(14 479.5 521.5)"/>
<ellipse cx="466.0" cy="528.0" rx="9.0" ry="9.0" fill="#767676" stroke="none" stroke-width="1" />
<circle cx="475.5" cy="517.5" r="3.8" fill="#8a8a8a" stroke="#444" stroke-width="0.7" />
<circle cx="485.0" cy="521.3" r="1.2" fill="#111" stroke="none" stroke-width="1" />
<ellipse cx="455.5" cy="533.2" rx="4.8" ry="4.0" fill="#f2cc98" stroke="#a07040" stroke-width="0.5" />
<line x1="455.5" y1="530.0" x2="541.0" y2="465.0" stroke="#111" stroke-width="1" />
<line x1="456.0" y1="537.0" x2="553.0" y2="569.6" stroke="#111" stroke-width="1" />
<text x="571.0" y="446.5" font-size="7" fill="#222" font-weight="normal" text-anchor="middle" >Tumor microenvironment</text>
<g clip-path="url(#circD)">
<rect x="520.0" y="450.0" width="120.0" height="130.0" fill="#4e8e9c" stroke="none" stroke-width="1" />
<ellipse cx="523.5" cy="450.8" rx="4.7" ry="3.3" fill="#80c2ca" stroke="#4a8894" stroke-width="0.6" transform="rotate(-18 523.5 450.8)"/>
<ellipse cx="532.9" cy="451.2" rx="5.1" ry="2.9" fill="#80c2ca" stroke="#4a8894" stroke-width="0.6" transform="rotate(12 532.9 451.2)"/>
<ellipse cx="544.1" cy="450.9" rx="4.8" ry="3.2" fill="#80c2ca" stroke="#4a8894" stroke-width="0.6" transform="rotate(-4 544.1 450.9)"/>
<ellipse cx="554.5" cy="450.8" rx="4.2" ry="3.6" fill="#80c2ca" stroke="#4a8894" stroke-width="0.6" transform="rotate(-5 554.5 450.8)"/>
<ellipse cx="560.3" cy="451.5" rx="4.6" ry="3.6" fill="#80c2ca" stroke="#4a8894" stroke-width="0.6" transform="rotate(-14 560.3 451.5)"/>
<ellipse cx="569.4" cy="452.3" rx="4.9" ry="3.6" fill="#80c2ca" stroke="#4a8894" stroke-width="0.6" transform="rotate(17 569.4 452.3)"/>
<ellipse cx="578.9" cy="451.1" rx="5.2" ry="3.6" fill="#80c2ca" stroke="#4a8894" stroke-width="0.6" transform="rotate(-23 578.9 451.1)"/>
<ellipse cx="589.4" cy="453.1" rx="5.0" ry="3.0" fill="#80c2ca" stroke="#4a8894" stroke-width="0.6" transform="rotate(15 589.4 453.1)"/>
<ellipse cx="598.4" cy="451.1" rx="5.0" ry="3.0" fill="#80c2ca" stroke="#4a8894" stroke-width="0.6" transform="rotate(-23 598.4 451.1)"/>
<ellipse cx="605.8" cy="451.5" rx="4.7" ry="3.3" fill="#80c2ca" stroke="#4a8894" stroke-width="0.6" transform="rotate(17 605.8 451.5)"/>
<ellipse cx="617.3" cy="453.4" rx="5.4" ry="3.4" fill="#80c2ca" stroke="#4a8894" stroke-width="0.6" transform="rotate(-10 617.3 453.4)"/>
<ellipse cx="623.2" cy="452.4" rx="4.9" ry="3.3" fill="#80c2ca" stroke="#4a8894" stroke-width="0.6" transform="rotate(-20 623.2 452.4)"/>
<ellipse cx="632.3" cy="453.3" rx="4.9" ry="3.4" fill="#80c2ca" stroke="#4a8894" stroke-width="0.6" transform="rotate(-20 632.3 453.3)"/>
<ellipse cx="520.6" cy="459.2" rx="5.0" ry="3.6" fill="#80c2ca" stroke="#4a8894" stroke-width="0.6" transform="rotate(-15 520.6 459.2)"/>
<ellipse cx="529.8" cy="458.9" rx="4.7" ry="3.4" fill="#80c2ca" stroke="#4a8894" stroke-width="0.6" transform="rotate(3 529.8 458.9)"/>
<ellipse cx="537.5" cy="456.8" rx="5.4" ry="2.9" fill="#80c2ca" stroke="#4a8894" stroke-width="0.6" transform="rotate(-15 537.5 456.8)"/>
<ellipse cx="547.3" cy="458.6" rx="5.2" ry="3.2" fill="#80c2ca" stroke="#4a8894" stroke-width="0.6" transform="rotate(-0 547.3 458.6)"/>
<ellipse cx="558.2" cy="457.3" rx="4.6" ry="3.3" fill="#80c2ca" stroke="#4a8894" stroke-width="0.6" transform="rotate(7 558.2 457.3)"/>
<ellipse cx="564.2" cy="456.8" rx="4.4" ry="3.4" fill="#80c2ca" stroke="#4a8894" stroke-width="0.6" transform="rotate(10 564.2 456.8)"/>
<ellipse cx="576.9" cy="458.8" rx="4.5" ry="3.4" fill="#80c2ca" stroke="#4a8894" stroke-width="0.6" transform="rotate(24 576.9 458.8)"/>
<ellipse cx="583.4" cy="456.5" rx="4.7" ry="3.0" fill="#80c2ca" stroke="#4a8894" stroke-width="0.6" transform="rotate(-16 583.4 456.5)"/>
<ellipse cx="591.2" cy="456.9" rx="5.2" ry="2.8" fill="#80c2ca" stroke="#4a8894" stroke-width="0.6" transform="rotate(6 591.2 456.9)"/>
<ellipse cx="600.8" cy="457.1" rx="5.2" ry="3.0" fill="#80c2ca" stroke="#4a8894" stroke-width="0.6" transform="rotate(-16 600.8 457.1)"/>
<ellipse cx="610.8" cy="458.6" rx="4.8" ry="3.5" fill="#80c2ca" stroke="#4a8894" stroke-width="0.6" transform="rotate(-5 610.8 458.6)"/>
<ellipse cx="620.1" cy="458.7" rx="4.8" ry="3.4" fill="#80c2ca" stroke="#4a8894" stroke-width="0.6" transform="rotate(-2 620.1 458.7)"/>
<ellipse cx="627.5" cy="456.9" rx="5.1" ry="3.4" fill="#80c2ca" stroke="#4a8894" stroke-width="0.6" transform="rotate(22 627.5 456.9)"/>
<ellipse cx="526.3" cy="464.2" rx="4.4" ry="3.5" fill="#80c2ca" stroke="#4a8894" stroke-width="0.6" transform="rotate(-19 526.3 464.2)"/>
<ellipse cx="534.2" cy="462.9" rx="4.7" ry="3.0" fill="#80c2ca" stroke="#4a8894" stroke-width="0.6" transform="rotate(-4 534.2 462.9)"/>
<ellipse cx="544.3" cy="464.1" rx="4.5" ry="3.4" fill="#80c2ca" stroke="#4a8894" stroke-width="0.6" transform="rotate(12 544.3 464.1)"/>
<ellipse cx="553.8" cy="462.6" rx="4.9" ry="3.5" fill="#80c2ca" stroke="#4a8894" stroke-width="0.6" transform="rotate(-12 553.8 462.6)"/>
<ellipse cx="560.3" cy="464.9" rx="4.6" ry="3.1" fill="#80c2ca" stroke="#4a8894" stroke-width="0.6" transform="rotate(16 560.3 464.9)"/>
<ellipse cx="570.0" cy="463.1" rx="4.5" ry="3.1" fill="#80c2ca" stroke="#4a8894" stroke-width="0.6" transform="rotate(10 570.0 463.1)"/>
<ellipse cx="579.0" cy="464.8" rx="4.3" ry="3.0" fill="#80c2ca" stroke="#4a8894" stroke-width="0.6" transform="rotate(6 579.0 464.8)"/>
<ellipse cx="588.4" cy="464.0" rx="5.3" ry="3.0" fill="#80c2ca" stroke="#4a8894" stroke-width="0.6" transform="rotate(-16 588.4 464.0)"/>
<ellipse cx="595.6" cy="463.9" rx="4.6" ry="3.2" fill="#80c2ca" stroke="#4a8894" stroke-width="0.6" transform="rotate(-25 595.6 463.9)"/>
<ellipse cx="604.5" cy="463.6" rx="5.1" ry="3.0" fill="#80c2ca" stroke="#4a8894" stroke-width="0.6" transform="rotate(21 604.5 463.6)"/>
<ellipse cx="615.8" cy="463.7" rx="5.1" ry="3.0" fill="#80c2ca" stroke="#4a8894" stroke-width="0.6" transform="rotate(5 615.8 463.7)"/>
<ellipse cx="625.9" cy="464.1" rx="4.6" ry="2.9" fill="#80c2ca" stroke="#4a8894" stroke-width="0.6" transform="rotate(4 625.9 464.1)"/>
<ellipse cx="632.3" cy="463.6" rx="4.9" ry="3.6" fill="#80c2ca" stroke="#4a8894" stroke-width="0.6" transform="rotate(9 632.3 463.6)"/>
<ellipse cx="521.1" cy="471.1" rx="4.6" ry="3.1" fill="#80c2ca" stroke="#4a8894" stroke-width="0.6" transform="rotate(9 521.1 471.1)"/>
<ellipse cx="530.2" cy="469.2" rx="4.7" ry="3.5" fill="#80c2ca" stroke="#4a8894" stroke-width="0.6" transform="rotate(-13 530.2 469.2)"/>
<ellipse cx="539.8" cy="468.6" rx="5.3" ry="3.3" fill="#80c2ca" stroke="#4a8894" stroke-width="0.6" transform="rotate(-9 539.8 468.6)"/>
<ellipse cx="549.9" cy="470.9" rx="4.3" ry="3.0" fill="#80c2ca" stroke="#4a8894" stroke-width="0.6" transform="rotate(-0 549.9 470.9)"/>
<ellipse cx="559.0" cy="468.9" rx="4.3" ry="3.1" fill="#80c2ca" stroke="#4a8894" stroke-width="0.6" transform="rotate(-23 559.0 468.9)"/>
<ellipse cx="565.6" cy="470.1" rx="4.7" ry="2.9" fill="#80c2ca" stroke="#4a8894" stroke-width="0.6" transform="rotate(-24 565.6 470.1)"/>
<ellipse cx="576.2" cy="469.8" rx="4.8" ry="3.2" fill="#80c2ca" stroke="#4a8894" stroke-width="0.6" transform="rotate(9 576.2 469.8)"/>
<ellipse cx="585.6" cy="471.0" rx="5.1" ry="3.1" fill="#80c2ca" stroke="#4a8894" stroke-width="0.6" transform="rotate(-17 585.6 471.0)"/>
<ellipse cx="591.4" cy="471.1" rx="4.3" ry="3.3" fill="#80c2ca" stroke="#4a8894" stroke-width="0.6" transform="rotate(20 591.4 471.1)"/>
<ellipse cx="601.3" cy="469.7" rx="4.7" ry="3.6" fill="#80c2ca" stroke="#4a8894" stroke-width="0.6" transform="rotate(9 601.3 469.7)"/>
<ellipse cx="612.4" cy="468.6" rx="5.1" ry="3.2" fill="#80c2ca" stroke="#4a8894" stroke-width="0.6" transform="rotate(-5 612.4 468.6)"/>
<ellipse cx="621.3" cy="470.7" rx="5.3" ry="3.4" fill="#80c2ca" stroke="#4a8894" stroke-width="0.6" transform="rotate(21 621.3 470.7)"/>
<ellipse cx="628.7" cy="470.2" rx="5.1" ry="3.2" fill="#80c2ca" stroke="#4a8894" stroke-width="0.6" transform="rotate(-18 628.7 470.2)"/>
<ellipse cx="525.8" cy="477.1" rx="5.2" ry="2.9" fill="#80c2ca" stroke="#4a8894" stroke-width="0.6" transform="rotate(-6 525.8 477.1)"/>
<ellipse cx="533.4" cy="475.5" rx="5.4" ry="3.1" fill="#80c2ca" stroke="#4a8894" stroke-width="0.6" transform="rotate(-9 533.4 475.5)"/>
<ellipse cx="542.6" cy="475.8" rx="5.0" ry="3.1" fill="#80c2ca" stroke="#4a8894" stroke-width="0.6" transform="rotate(-16 542.6 475.8)"/>
<ellipse cx="551.4" cy="475.3" rx="5.3" ry="2.9" fill="#80c2ca" stroke="#4a8894" stroke-width="0.6" transform="rotate(13 551.4 475.3)"/>
<ellipse cx="559.9" cy="476.9" rx="4.5" ry="3.4" fill="#80c2ca" stroke="#4a8894" stroke-width="0.6" transform="rotate(-3 559.9 476.9)"/>
<ellipse cx="568.8" cy="474.8" rx="5.2" ry="3.2" fill="#80c2ca" stroke="#4a8894" stroke-width="0.6" transform="rotate(-1 568.8 474.8)"/>
<ellipse cx="578.9" cy="476.6" rx="4.8" ry="2.8" fill="#80c2ca" stroke="#4a8894" stroke-width="0.6" transform="rotate(5 578.9 476.6)"/>
<ellipse cx="587.8" cy="477.0" rx="4.9" ry="3.4" fill="#80c2ca" stroke="#4a8894" stroke-width="0.6" transform="rotate(-19 587.8 477.0)"/>
<ellipse cx="598.3" cy="476.3" rx="5.2" ry="3.5" fill="#80c2ca" stroke="#4a8894" stroke-width="0.6" transform="rotate(3 598.3 476.3)"/>
<ellipse cx="606.9" cy="476.8" rx="4.5" ry="3.2" fill="#80c2ca" stroke="#4a8894" stroke-width="0.6" transform="rotate(14 606.9 476.8)"/>
<ellipse cx="615.9" cy="476.1" rx="5.2" ry="3.6" fill="#80c2ca" stroke="#4a8894" stroke-width="0.6" transform="rotate(-12 615.9 476.1)"/>
<ellipse cx="622.8" cy="476.3" rx="4.4" ry="3.6" fill="#80c2ca" stroke="#4a8894" stroke-width="0.6" transform="rotate(-1 622.8 476.3)"/>
<ellipse cx="633.6" cy="477.0" rx="5.2" ry="2.9" fill="#80c2ca" stroke="#4a8894" stroke-width="0.6" transform="rotate(-2 633.6 477.0)"/>
<ellipse cx="519.7" cy="481.9" rx="4.4" ry="3.5" fill="#80c2ca" stroke="#4a8894" stroke-width="0.6" transform="rotate(-7 519.7 481.9)"/>
<ellipse cx="529.6" cy="483.2" rx="5.2" ry="3.1" fill="#80c2ca" stroke="#4a8894" stroke-width="0.6" transform="rotate(-0 529.6 483.2)"/>
<ellipse cx="539.7" cy="481.1" rx="4.4" ry="3.5" fill="#80c2ca" stroke="#4a8894" stroke-width="0.6" transform="rotate(-17 539.7 481.1)"/>
<ellipse cx="548.8" cy="482.7" rx="4.9" ry="3.1" fill="#80c2ca" stroke="#4a8894" stroke-width="0.6" transform="rotate(18 548.8 482.7)"/>
<ellipse cx="558.1" cy="480.7" rx="5.3" ry="3.3" fill="#80c2ca" stroke="#4a8894" stroke-width="0.6" transform="rotate(-11 558.1 480.7)"/>
<ellipse cx="564.7" cy="480.8" rx="5.2" ry="3.5" fill="#80c2ca" stroke="#4a8894" stroke-width="0.6" transform="rotate(-8 564.7 480.8)"/>
<ellipse cx="573.7" cy="480.7" rx="4.7" ry="3.0" fill="#80c2ca" stroke="#4a8894" stroke-width="0.6" transform="rotate(-22 573.7 480.7)"/>
<ellipse cx="583.2" cy="483.0" rx="4.3" ry="3.1" fill="#80c2ca" stroke="#4a8894" stroke-width="0.6" transform="rotate(1 583.2 483.0)"/>
<ellipse cx="591.6" cy="480.6" rx="4.3" ry="2.9" fill="#80c2ca" stroke="#4a8894" stroke-width="0.6" transform="rotate(24 591.6 480.6)"/>
<ellipse cx="603.4" cy="482.6" rx="5.3" ry="3.1" fill="#80c2ca" stroke="#4a8894" stroke-width="0.6" transform="rotate(-13 603.4 482.6)"/>
<ellipse cx="612.5" cy="482.3" rx="5.3" ry="3.1" fill="#80c2ca" stroke="#4a8894" stroke-width="0.6" transform="rotate(-4 612.5 482.3)"/>
<ellipse cx="620.9" cy="483.1" rx="4.4" ry="3.0" fill="#80c2ca" stroke="#4a8894" stroke-width="0.6" transform="rotate(-24 620.9 483.1)"/>
<ellipse cx="629.2" cy="483.3" rx="4.9" ry="2.9" fill="#80c2ca" stroke="#4a8894" stroke-width="0.6" transform="rotate(10 629.2 483.3)"/>
<ellipse cx="526.1" cy="486.8" rx="5.3" ry="3.3" fill="#80c2ca" stroke="#4a8894" stroke-width="0.6" transform="rotate(-0 526.1 486.8)"/>
<ellipse cx="533.9" cy="487.0" rx="4.8" ry="3.1" fill="#80c2ca" stroke="#4a8894" stroke-width="0.6" transform="rotate(-13 533.9 487.0)"/>
<ellipse cx="544.1" cy="488.5" rx="5.3" ry="3.6" fill="#80c2ca" stroke="#4a8894" stroke-width="0.6" transform="rotate(-2 544.1 488.5)"/>
<ellipse cx="553.4" cy="487.6" rx="4.7" ry="3.3" fill="#80c2ca" stroke="#4a8894" stroke-width="0.6" transform="rotate(24 553.4 487.6)"/>
<ellipse cx="559.7" cy="487.9" rx="4.6" ry="3.4" fill="#80c2ca" stroke="#4a8894" stroke-width="0.6" transform="rotate(23 559.7 487.9)"/>
<ellipse cx="570.4" cy="486.7" rx="4.9" ry="3.3" fill="#80c2ca" stroke="#4a8894" stroke-width="0.6" transform="rotate(9 570.4 486.7)"/>
<ellipse cx="580.6" cy="487.9" rx="4.9" ry="3.4" fill="#80c2ca" stroke="#4a8894" stroke-width="0.6" transform="rotate(-24 580.6 487.9)"/>
<ellipse cx="587.5" cy="488.6" rx="5.4" ry="3.6" fill="#80c2ca" stroke="#4a8894" stroke-width="0.6" transform="rotate(-11 587.5 488.6)"/>
<ellipse cx="599.4" cy="487.3" rx="4.7" ry="2.9" fill="#80c2ca" stroke="#4a8894" stroke-width="0.6" transform="rotate(5 599.4 487.3)"/>
<ellipse cx="606.1" cy="488.6" rx="5.3" ry="2.9" fill="#80c2ca" stroke="#4a8894" stroke-width="0.6" transform="rotate(8 606.1 488.6)"/>
<ellipse cx="615.9" cy="487.3" rx="4.2" ry="3.6" fill="#80c2ca" stroke="#4a8894" stroke-width="0.6" transform="rotate(10 615.9 487.3)"/>
<ellipse cx="625.0" cy="486.8" rx="5.3" ry="3.1" fill="#80c2ca" stroke="#4a8894" stroke-width="0.6" transform="rotate(-2 625.0 486.8)"/>
<ellipse cx="633.7" cy="487.8" rx="5.3" ry="3.2" fill="#80c2ca" stroke="#4a8894" stroke-width="0.6" transform="rotate(9 633.7 487.8)"/>
<ellipse cx="522.1" cy="495.3" rx="4.4" ry="3.1" fill="#80c2ca" stroke="#4a8894" stroke-width="0.6" transform="rotate(22 522.1 495.3)"/>
<ellipse cx="530.4" cy="493.6" rx="5.3" ry="2.9" fill="#80c2ca" stroke="#4a8894" stroke-width="0.6" transform="rotate(-12 530.4 493.6)"/>
<ellipse cx="537.3" cy="494.5" rx="4.8" ry="3.0" fill="#80c2ca" stroke="#4a8894" stroke-width="0.6" transform="rotate(-3 537.3 494.5)"/>
<ellipse cx="547.0" cy="494.6" rx="5.1" ry="3.1" fill="#80c2ca" stroke="#4a8894" stroke-width="0.6" transform="rotate(18 547.0 494.6)"/>
<ellipse cx="555.2" cy="494.2" rx="4.4" ry="2.9" fill="#80c2ca" stroke="#4a8894" stroke-width="0.6" transform="rotate(3 555.2 494.2)"/>
<ellipse cx="564.3" cy="492.7" rx="4.4" ry="3.1" fill="#80c2ca" stroke="#4a8894" stroke-width="0.6" transform="rotate(17 564.3 492.7)"/>
<ellipse cx="574.2" cy="492.9" rx="5.1" ry="3.5" fill="#80c2ca" stroke="#4a8894" stroke-width="0.6" transform="rotate(25 574.2 492.9)"/>
<ellipse cx="582.2" cy="493.0" rx="4.7" ry="3.6" fill="#80c2ca" stroke="#4a8894" stroke-width="0.6" transform="rotate(2 582.2 493.0)"/>
<ellipse cx="594.5" cy="493.2" rx="4.8" ry="3.3" fill="#80c2ca" stroke="#4a8894" stroke-width="0.6" transform="rotate(-14 594.5 493.2)"/>
<ellipse cx="602.1" cy="495.0" rx="5.2" ry="3.4" fill="#80c2ca" stroke="#4a8894" stroke-width="0.6" transform="rotate(16 602.1 495.0)"/>
<ellipse cx="613.0" cy="494.3" rx="4.5" ry="3.0" fill="#80c2ca" stroke="#4a8894" stroke-width="0.6" transform="rotate(-22 613.0 494.3)"/>
<ellipse cx="621.7" cy="494.2" rx="4.9" ry="3.5" fill="#80c2ca" stroke="#4a8894" stroke-width="0.6" transform="rotate(10 621.7 494.2)"/>
<ellipse cx="628.6" cy="494.3" rx="4.3" ry="3.0" fill="#80c2ca" stroke="#4a8894" stroke-width="0.6" transform="rotate(-8 628.6 494.3)"/>
<ellipse cx="526.7" cy="500.5" rx="4.9" ry="3.1" fill="#80c2ca" stroke="#4a8894" stroke-width="0.6" transform="rotate(-7 526.7 500.5)"/>
<ellipse cx="534.0" cy="498.7" rx="4.6" ry="3.5" fill="#80c2ca" stroke="#4a8894" stroke-width="0.6" transform="rotate(16 534.0 498.7)"/>
<ellipse cx="542.5" cy="500.0" rx="5.1" ry="3.0" fill="#80c2ca" stroke="#4a8894" stroke-width="0.6" transform="rotate(-7 542.5 500.0)"/>
<ellipse cx="552.8" cy="499.1" rx="5.3" ry="2.8" fill="#80c2ca" stroke="#4a8894" stroke-width="0.6" transform="rotate(19 552.8 499.1)"/>
<ellipse cx="562.2" cy="499.7" rx="4.5" ry="3.5" fill="#80c2ca" stroke="#4a8894" stroke-width="0.6" transform="rotate(11 562.2 499.7)"/>
<ellipse cx="569.3" cy="499.5" rx="4.3" ry="3.3" fill="#80c2ca" stroke="#4a8894" stroke-width="0.6" transform="rotate(-4 569.3 499.5)"/>
<ellipse cx="578.8" cy="500.6" rx="4.5" ry="2.9" fill="#80c2ca" stroke="#4a8894" stroke-width="0.6" transform="rotate(15 578.8 500.6)"/>
<ellipse cx="590.0" cy="500.9" rx="4.9" ry="3.4" fill="#80c2ca" stroke="#4a8894" stroke-width="0.6" transform="rotate(18 590.0 500.9)"/>
<ellipse cx="595.7" cy="499.4" rx="4.6" ry="3.4" fill="#80c2ca" stroke="#4a8894" stroke-width="0.6" transform="rotate(-8 595.7 499.4)"/>
<ellipse cx="607.6" cy="499.3" rx="5.3" ry="3.1" fill="#80c2ca" stroke="#4a8894" stroke-width="0.6" transform="rotate(5 607.6 499.3)"/>
<ellipse cx="616.0" cy="501.0" rx="4.9" ry="3.0" fill="#80c2ca" stroke="#4a8894" stroke-width="0.6" transform="rotate(-3 616.0 501.0)"/>
<ellipse cx="624.8" cy="498.7" rx="5.2" ry="3.0" fill="#80c2ca" stroke="#4a8894" stroke-width="0.6" transform="rotate(21 624.8 498.7)"/>
<ellipse cx="633.0" cy="501.4" rx="5.1" ry="3.1" fill="#80c2ca" stroke="#4a8894" stroke-width="0.6" transform="rotate(10 633.0 501.4)"/>
<ellipse cx="519.0" cy="504.8" rx="4.9" ry="3.0" fill="#80c2ca" stroke="#4a8894" stroke-width="0.6" transform="rotate(-5 519.0 504.8)"/>
<ellipse cx="530.8" cy="505.9" rx="4.9" ry="3.4" fill="#80c2ca" stroke="#4a8894" stroke-width="0.6" transform="rotate(17 530.8 505.9)"/>
<ellipse cx="537.4" cy="507.0" rx="5.1" ry="3.0" fill="#80c2ca" stroke="#4a8894" stroke-width="0.6" transform="rotate(-21 537.4 507.0)"/>
<ellipse cx="546.8" cy="504.8" rx="4.9" ry="3.6" fill="#80c2ca" stroke="#4a8894" stroke-width="0.6" transform="rotate(-1 546.8 504.8)"/>
<ellipse cx="556.1" cy="505.0" rx="5.4" ry="3.2" fill="#80c2ca" stroke="#4a8894" stroke-width="0.6" transform="rotate(-13 556.1 505.0)"/>
<ellipse cx="567.6" cy="505.8" rx="5.4" ry="3.2" fill="#80c2ca" stroke="#4a8894" stroke-width="0.6" transform="rotate(-12 567.6 505.8)"/>
<ellipse cx="573.7" cy="504.5" rx="5.2" ry="3.1" fill="#80c2ca" stroke="#4a8894" stroke-width="0.6" transform="rotate(11 573.7 504.5)"/>
<ellipse cx="585.4" cy="505.7" rx="4.8" ry="3.4" fill="#80c2ca" stroke="#4a8894" stroke-width="0.6" transform="rotate(7 585.4 505.7)"/>
<ellipse cx="592.5" cy="505.1" rx="4.5" ry="2.8" fill="#80c2ca" stroke="#4a8894" stroke-width="0.6" transform="rotate(7 592.5 505.1)"/>
<ellipse cx="602.6" cy="506.8" rx="4.7" ry="3.4" fill="#80c2ca" stroke="#4a8894" stroke-width="0.6" transform="rotate(3 602.6 506.8)"/>
<ellipse cx="612.4" cy="506.2" rx="5.0" ry="3.3" fill="#80c2ca" stroke="#4a8894" stroke-width="0.6" transform="rotate(-15 612.4 506.2)"/>
<ellipse cx="618.3" cy="507.0" rx="5.0" ry="3.2" fill="#80c2ca" stroke="#4a8894" stroke-width="0.6" transform="rotate(21 618.3 507.0)"/>
<ellipse cx="627.7" cy="506.7" rx="4.8" ry="2.9" fill="#80c2ca" stroke="#4a8894" stroke-width="0.6" transform="rotate(-19 627.7 506.7)"/>
<ellipse cx="523.6" cy="511.1" rx="5.1" ry="3.2" fill="#80c2ca" stroke="#4a8894" stroke-width="0.6" transform="rotate(-23 523.6 511.1)"/>
<ellipse cx="534.5" cy="513.4" rx="5.1" ry="3.0" fill="#80c2ca" stroke="#4a8894" stroke-width="0.6" transform="rotate(-1 534.5 513.4)"/>
<ellipse cx="543.0" cy="511.2" rx="5.0" ry="2.8" fill="#80c2ca" stroke="#4a8894" stroke-width="0.6" transform="rotate(-1 543.0 511.2)"/>
<ellipse cx="554.2" cy="512.8" rx="5.0" ry="3.5" fill="#80c2ca" stroke="#4a8894" stroke-width="0.6" transform="rotate(23 554.2 512.8)"/>
<ellipse cx="560.6" cy="513.3" rx="5.3" ry="3.2" fill="#80c2ca" stroke="#4a8894" stroke-width="0.6" transform="rotate(-18 560.6 513.3)"/>
<ellipse cx="570.6" cy="512.0" rx="5.4" ry="3.0" fill="#80c2ca" stroke="#4a8894" stroke-width="0.6" transform="rotate(11 570.6 512.0)"/>
<ellipse cx="580.5" cy="512.3" rx="4.5" ry="3.5" fill="#80c2ca" stroke="#4a8894" stroke-width="0.6" transform="rotate(-12 580.5 512.3)"/>
<ellipse cx="589.9" cy="513.2" rx="4.8" ry="2.8" fill="#80c2ca" stroke="#4a8894" stroke-width="0.6" transform="rotate(-11 589.9 513.2)"/>
<ellipse cx="595.8" cy="511.1" rx="4.6" ry="3.3" fill="#80c2ca" stroke="#4a8894" stroke-width="0.6" transform="rotate(15 595.8 511.1)"/>
<ellipse cx="604.7" cy="512.7" rx="4.3" ry="3.4" fill="#80c2ca" stroke="#4a8894" stroke-width="0.6" transform="rotate(-24 604.7 512.7)"/>
<ellipse cx="614.9" cy="513.3" rx="5.2" ry="2.8" fill="#80c2ca" stroke="#4a8894" stroke-width="0.6" transform="rotate(-6 614.9 513.3)"/>
<ellipse cx="626.2" cy="511.0" rx="4.7" ry="3.0" fill="#80c2ca" stroke="#4a8894" stroke-width="0.6" transform="rotate(-10 626.2 511.0)"/>
<ellipse cx="633.5" cy="510.9" rx="4.4" ry="3.6" fill="#80c2ca" stroke="#4a8894" stroke-width="0.6" transform="rotate(13 633.5 510.9)"/>
<ellipse cx="521.4" cy="516.9" rx="4.4" ry="3.3" fill="#80c2ca" stroke="#4a8894" stroke-width="0.6" transform="rotate(6 521.4 516.9)"/>
<ellipse cx="528.0" cy="519.4" rx="4.7" ry="3.0" fill="#80c2ca" stroke="#4a8894" stroke-width="0.6" transform="rotate(7 528.0 519.4)"/>
<ellipse cx="540.7" cy="517.5" rx="4.8" ry="2.8" fill="#80c2ca" stroke="#4a8894" stroke-width="0.6" transform="rotate(-2 540.7 517.5)"/>
<ellipse cx="549.6" cy="519.3" rx="4.6" ry="3.5" fill="#80c2ca" stroke="#4a8894" stroke-width="0.6" transform="rotate(25 549.6 519.3)"/>
<ellipse cx="556.2" cy="519.1" rx="4.5" ry="3.6" fill="#80c2ca" stroke="#4a8894" stroke-width="0.6" transform="rotate(20 556.2 519.1)"/>
<ellipse cx="567.9" cy="517.7" rx="5.0" ry="3.4" fill="#80c2ca" stroke="#4a8894" stroke-width="0.6" transform="rotate(4 567.9 517.7)"/>
<ellipse cx="573.2" cy="518.5" rx="5.2" ry="3.3" fill="#80c2ca" stroke="#4a8894" stroke-width="0.6" transform="rotate(20 573.2 518.5)"/>
<ellipse cx="585.9" cy="518.4" rx="4.6" ry="3.2" fill="#80c2ca" stroke="#4a8894" stroke-width="0.6" transform="rotate(-16 585.9 518.4)"/>
<ellipse cx="591.9" cy="519.4" rx="4.7" ry="3.2" fill="#80c2ca" stroke="#4a8894" stroke-width="0.6" transform="rotate(19 591.9 519.4)"/>
<ellipse cx="603.2" cy="516.6" rx="4.7" ry="3.2" fill="#80c2ca" stroke="#4a8894" stroke-width="0.6" transform="rotate(-13 603.2 516.6)"/>
<ellipse cx="612.1" cy="518.4" rx="5.2" ry="2.9" fill="#80c2ca" stroke="#4a8894" stroke-width="0.6" transform="rotate(-16 612.1 518.4)"/>
<ellipse cx="619.2" cy="518.1" rx="4.5" ry="3.2" fill="#80c2ca" stroke="#4a8894" stroke-width="0.6" transform="rotate(-8 619.2 518.1)"/>
<ellipse cx="627.2" cy="519.0" rx="4.9" ry="3.5" fill="#80c2ca" stroke="#4a8894" stroke-width="0.6" transform="rotate(1 627.2 519.0)"/>
<ellipse cx="526.9" cy="524.3" rx="4.8" ry="3.6" fill="#80c2ca" stroke="#4a8894" stroke-width="0.6" transform="rotate(-7 526.9 524.3)"/>
<ellipse cx="536.4" cy="524.3" rx="5.3" ry="2.9" fill="#80c2ca" stroke="#4a8894" stroke-width="0.6" transform="rotate(2 536.4 524.3)"/>
<ellipse cx="542.8" cy="525.0" rx="5.3" ry="3.5" fill="#80c2ca" stroke="#4a8894" stroke-width="0.6" transform="rotate(-6 542.8 525.0)"/>
<ellipse cx="550.8" cy="525.4" rx="4.4" ry="3.5" fill="#80c2ca" stroke="#4a8894" stroke-width="0.6" transform="rotate(5 550.8 525.4)"/>
<ellipse cx="562.4" cy="524.6" rx="4.5" ry="3.1" fill="#80c2ca" stroke="#4a8894" stroke-width="0.6" transform="rotate(-6 562.4 524.6)"/>
<ellipse cx="571.3" cy="524.5" rx="5.4" ry="3.2" fill="#80c2ca" stroke="#4a8894" stroke-width="0.6" transform="rotate(-8 571.3 524.5)"/>
<ellipse cx="578.0" cy="523.8" rx="4.9" ry="3.4" fill="#80c2ca" stroke="#4a8894" stroke-width="0.6" transform="rotate(-24 578.0 523.8)"/>
<ellipse cx="587.3" cy="524.4" rx="5.1" ry="3.6" fill="#80c2ca" stroke="#4a8894" stroke-width="0.6" transform="rotate(-18 587.3 524.4)"/>
<ellipse cx="598.4" cy="523.8" rx="4.9" ry="3.3" fill="#80c2ca" stroke="#4a8894" stroke-width="0.6" transform="rotate(-5 598.4 523.8)"/>
<ellipse cx="606.9" cy="525.4" rx="4.2" ry="3.2" fill="#80c2ca" stroke="#4a8894" stroke-width="0.6" transform="rotate(25 606.9 525.4)"/>
<ellipse cx="617.0" cy="523.3" rx="5.1" ry="3.5" fill="#80c2ca" stroke="#4a8894" stroke-width="0.6" transform="rotate(-5 617.0 523.3)"/>
<ellipse cx="624.7" cy="523.4" rx="5.4" ry="2.9" fill="#80c2ca" stroke="#4a8894" stroke-width="0.6" transform="rotate(10 624.7 523.4)"/>
<ellipse cx="635.5" cy="525.4" rx="5.2" ry="3.1" fill="#80c2ca" stroke="#4a8894" stroke-width="0.6" transform="rotate(22 635.5 525.4)"/>
<ellipse cx="522.4" cy="529.8" rx="4.6" ry="3.1" fill="#80c2ca" stroke="#4a8894" stroke-width="0.6" transform="rotate(-9 522.4 529.8)"/>
<ellipse cx="530.3" cy="529.7" rx="5.4" ry="2.8" fill="#80c2ca" stroke="#4a8894" stroke-width="0.6" transform="rotate(5 530.3 529.7)"/>
<ellipse cx="538.7" cy="531.5" rx="5.4" ry="3.4" fill="#80c2ca" stroke="#4a8894" stroke-width="0.6" transform="rotate(11 538.7 531.5)"/>
<ellipse cx="547.5" cy="530.6" rx="4.5" ry="3.5" fill="#80c2ca" stroke="#4a8894" stroke-width="0.6" transform="rotate(4 547.5 530.6)"/>
<ellipse cx="555.9" cy="529.1" rx="4.7" ry="3.1" fill="#80c2ca" stroke="#4a8894" stroke-width="0.6" transform="rotate(8 555.9 529.1)"/>
<ellipse cx="565.9" cy="528.6" rx="4.6" ry="3.2" fill="#80c2ca" stroke="#4a8894" stroke-width="0.6" transform="rotate(24 565.9 528.6)"/>
<ellipse cx="576.7" cy="530.3" rx="5.4" ry="2.9" fill="#80c2ca" stroke="#4a8894" stroke-width="0.6" transform="rotate(-15 576.7 530.3)"/>
<ellipse cx="582.6" cy="529.3" rx="4.5" ry="3.2" fill="#80c2ca" stroke="#4a8894" stroke-width="0.6" transform="rotate(19 582.6 529.3)"/>
<ellipse cx="592.4" cy="529.5" rx="4.8" ry="3.6" fill="#80c2ca" stroke="#4a8894" stroke-width="0.6" transform="rotate(0 592.4 529.5)"/>
<ellipse cx="603.9" cy="529.4" rx="4.9" ry="3.3" fill="#80c2ca" stroke="#4a8894" stroke-width="0.6" transform="rotate(11 603.9 529.4)"/>
<ellipse cx="612.3" cy="528.9" rx="4.4" ry="2.9" fill="#80c2ca" stroke="#4a8894" stroke-width="0.6" transform="rotate(14 612.3 528.9)"/>
<ellipse cx="620.0" cy="530.0" rx="4.2" ry="3.4" fill="#80c2ca" stroke="#4a8894" stroke-width="0.6" transform="rotate(24 620.0 530.0)"/>
<ellipse cx="627.1" cy="531.5" rx="4.8" ry="2.9" fill="#80c2ca" stroke="#4a8894" stroke-width="0.6" transform="rotate(-24 627.1 531.5)"/>
<ellipse cx="526.3" cy="536.9" rx="4.7" ry="3.5" fill="#80c2ca" stroke="#4a8894" stroke-width="0.6" transform="rotate(-25 526.3 536.9)"/>
<ellipse cx="536.0" cy="535.0" rx="4.4" ry="3.1" fill="#80c2ca" stroke="#4a8894" stroke-width="0.6" transform="rotate(-8 536.0 535.0)"/>
<ellipse cx="545.1" cy="536.0" rx="4.7" ry="3.4" fill="#80c2ca" stroke="#4a8894" stroke-width="0.6" transform="rotate(-3 545.1 536.0)"/>
<ellipse cx="551.7" cy="535.5" rx="4.9" ry="3.5" fill="#80c2ca" stroke="#4a8894" stroke-width="0.6" transform="rotate(21 551.7 535.5)"/>
<ellipse cx="559.6" cy="535.6" rx="5.0" ry="3.2" fill="#80c2ca" stroke="#4a8894" stroke-width="0.6" transform="rotate(12 559.6 535.6)"/>
<ellipse cx="572.3" cy="534.6" rx="5.0" ry="3.0" fill="#80c2ca" stroke="#4a8894" stroke-width="0.6" transform="rotate(8 572.3 534.6)"/>
<ellipse cx="578.3" cy="534.9" rx="5.2" ry="3.3" fill="#80c2ca" stroke="#4a8894" stroke-width="0.6" transform="rotate(7 578.3 534.9)"/>
<ellipse cx="588.2" cy="535.3" rx="4.3" ry="3.6" fill="#80c2ca" stroke="#4a8894" stroke-width="0.6" transform="rotate(15 588.2 535.3)"/>
<ellipse cx="598.5" cy="534.7" rx="4.2" ry="3.2" fill="#80c2ca" stroke="#4a8894" stroke-width="0.6" transform="rotate(-20 598.5 534.7)"/>
<ellipse cx="607.0" cy="535.4" rx="5.1" ry="2.9" fill="#80c2ca" stroke="#4a8894" stroke-width="0.6" transform="rotate(-0 607.0 535.4)"/>
<ellipse cx="615.1" cy="535.2" rx="4.6" ry="3.0" fill="#80c2ca" stroke="#4a8894" stroke-width="0.6" transform="rotate(-10 615.1 535.2)"/>
<ellipse cx="624.3" cy="535.7" rx="5.0" ry="3.5" fill="#80c2ca" stroke="#4a8894" stroke-width="0.6" transform="rotate(0 624.3 535.7)"/>
<ellipse cx="632.3" cy="536.0" rx="4.4" ry="3.5" fill="#80c2ca" stroke="#4a8894" stroke-width="0.6" transform="rotate(-24 632.3 536.0)"/>
<ellipse cx="520.1" cy="543.3" rx="4.9" ry="3.1" fill="#80c2ca" stroke="#4a8894" stroke-width="0.6" transform="rotate(-23 520.1 543.3)"/>
<ellipse cx="528.7" cy="543.0" rx="4.3" ry="3.4" fill="#80c2ca" stroke="#4a8894" stroke-width="0.6" transform="rotate(-17 528.7 543.0)"/>
<ellipse cx="540.0" cy="540.8" rx="4.4" ry="3.0" fill="#80c2ca" stroke="#4a8894" stroke-width="0.6" transform="rotate(23 540.0 540.8)"/>
<ellipse cx="546.1" cy="541.9" rx="5.3" ry="3.3" fill="#80c2ca" stroke="#4a8894" stroke-width="0.6" transform="rotate(-24 546.1 541.9)"/>
<ellipse cx="557.7" cy="541.4" rx="4.5" ry="2.9" fill="#80c2ca" stroke="#4a8894" stroke-width="0.6" transform="rotate(-19 557.7 541.4)"/>
<ellipse cx="566.3" cy="542.8" rx="5.3" ry="3.3" fill="#80c2ca" stroke="#4a8894" stroke-width="0.6" transform="rotate(-3 566.3 542.8)"/>
<ellipse cx="576.7" cy="541.0" rx="5.3" ry="3.6" fill="#80c2ca" stroke="#4a8894" stroke-width="0.6" transform="rotate(2 576.7 541.0)"/>
<ellipse cx="585.0" cy="542.4" rx="5.0" ry="3.3" fill="#80c2ca" stroke="#4a8894" stroke-width="0.6" transform="rotate(10 585.0 542.4)"/>
<ellipse cx="593.7" cy="542.0" rx="4.4" ry="3.1" fill="#80c2ca" stroke="#4a8894" stroke-width="0.6" transform="rotate(-9 593.7 542.0)"/>
<ellipse cx="602.7" cy="540.9" rx="5.0" ry="3.2" fill="#80c2ca" stroke="#4a8894" stroke-width="0.6" transform="rotate(21 602.7 540.9)"/>
<ellipse cx="610.7" cy="542.7" rx="4.4" ry="2.9" fill="#80c2ca" stroke="#4a8894" stroke-width="0.6" transform="rotate(18 610.7 542.7)"/>
<ellipse cx="621.3" cy="541.2" rx="4.7" ry="3.4" fill="#80c2ca" stroke="#4a8894" stroke-width="0.6" transform="rotate(-21 621.3 541.2)"/>
<ellipse cx="629.7" cy="542.6" rx="5.3" ry="3.6" fill="#80c2ca" stroke="#4a8894" stroke-width="0.6" transform="rotate(14 629.7 542.6)"/>
<ellipse cx="524.0" cy="549.0" rx="4.4" ry="3.0" fill="#80c2ca" stroke="#4a8894" stroke-width="0.6" transform="rotate(16 524.0 549.0)"/>
<ellipse cx="534.5" cy="547.8" rx="5.3" ry="3.5" fill="#80c2ca" stroke="#4a8894" stroke-width="0.6" transform="rotate(-10 534.5 547.8)"/>
<ellipse cx="544.8" cy="549.5" rx="5.0" ry="3.0" fill="#80c2ca" stroke="#4a8894" stroke-width="0.6" transform="rotate(2 544.8 549.5)"/>
<ellipse cx="552.7" cy="547.4" rx="5.1" ry="2.9" fill="#80c2ca" stroke="#4a8894" stroke-width="0.6" transform="rotate(-17 552.7 547.4)"/>
<ellipse cx="563.3" cy="547.5" rx="4.4" ry="3.4" fill="#80c2ca" stroke="#4a8894" stroke-width="0.6" transform="rotate(15 563.3 547.5)"/>
<ellipse cx="570.3" cy="548.0" rx="4.2" ry="2.8" fill="#80c2ca" stroke="#4a8894" stroke-width="0.6" transform="rotate(20 570.3 548.0)"/>
<ellipse cx="581.3" cy="548.7" rx="5.0" ry="3.1" fill="#80c2ca" stroke="#4a8894" stroke-width="0.6" transform="rotate(-10 581.3 548.7)"/>
<ellipse cx="589.4" cy="548.9" rx="4.3" ry="2.9" fill="#80c2ca" stroke="#4a8894" stroke-width="0.6" transform="rotate(-22 589.4 548.9)"/>
<ellipse cx="598.3" cy="547.9" rx="4.3" ry="3.2" fill="#80c2ca" stroke="#4a8894" stroke-width="0.6" transform="rotate(22 598.3 547.9)"/>
<ellipse cx="607.6" cy="548.7" rx="5.0" ry="3.0" fill="#80c2ca" stroke="#4a8894" stroke-width="0.6" transform="rotate(2 607.6 548.7)"/>
<ellipse cx="615.3" cy="549.3" rx="4.2" ry="2.8" fill="#80c2ca" stroke="#4a8894" stroke-width="0.6" transform="rotate(-23 615.3 549.3)"/>
<ellipse cx="622.8" cy="547.4" rx="5.0" ry="3.4" fill="#80c2ca" stroke="#4a8894" stroke-width="0.6" transform="rotate(15 622.8 547.4)"/>
<ellipse cx="631.8" cy="547.7" rx="4.9" ry="3.1" fill="#80c2ca" stroke="#4a8894" stroke-width="0.6" transform="rotate(-11 631.8 547.7)"/>
<ellipse cx="519.7" cy="553.5" rx="4.3" ry="3.6" fill="#80c2ca" stroke="#4a8894" stroke-width="0.6" transform="rotate(11 519.7 553.5)"/>
<ellipse cx="531.8" cy="552.7" rx="4.3" ry="3.3" fill="#80c2ca" stroke="#4a8894" stroke-width="0.6" transform="rotate(24 531.8 552.7)"/>
<ellipse cx="538.6" cy="553.4" rx="4.7" ry="2.8" fill="#80c2ca" stroke="#4a8894" stroke-width="0.6" transform="rotate(-15 538.6 553.4)"/>
<ellipse cx="546.6" cy="552.9" rx="5.4" ry="3.3" fill="#80c2ca" stroke="#4a8894" stroke-width="0.6" transform="rotate(17 546.6 552.9)"/>
<ellipse cx="556.7" cy="554.1" rx="4.6" ry="3.2" fill="#80c2ca" stroke="#4a8894" stroke-width="0.6" transform="rotate(15 556.7 554.1)"/>
<ellipse cx="566.7" cy="553.0" rx="4.5" ry="3.3" fill="#80c2ca" stroke="#4a8894" stroke-width="0.6" transform="rotate(0 566.7 553.0)"/>
<ellipse cx="575.2" cy="552.6" rx="4.5" ry="3.2" fill="#80c2ca" stroke="#4a8894" stroke-width="0.6" transform="rotate(20 575.2 552.6)"/>
<ellipse cx="585.9" cy="552.8" rx="4.7" ry="3.0" fill="#80c2ca" stroke="#4a8894" stroke-width="0.6" transform="rotate(-4 585.9 552.8)"/>
<ellipse cx="593.4" cy="554.7" rx="4.9" ry="3.3" fill="#80c2ca" stroke="#4a8894" stroke-width="0.6" transform="rotate(5 593.4 554.7)"/>
<ellipse cx="600.7" cy="553.1" rx="4.8" ry="2.9" fill="#80c2ca" stroke="#4a8894" stroke-width="0.6" transform="rotate(-6 600.7 553.1)"/>
<ellipse cx="611.5" cy="555.1" rx="5.4" ry="3.3" fill="#80c2ca" stroke="#4a8894" stroke-width="0.6" transform="rotate(-18 611.5 555.1)"/>
<ellipse cx="620.3" cy="554.5" rx="4.5" ry="3.5" fill="#80c2ca" stroke="#4a8894" stroke-width="0.6" transform="rotate(-15 620.3 554.5)"/>
<ellipse cx="629.6" cy="555.3" rx="5.2" ry="3.4" fill="#80c2ca" stroke="#4a8894" stroke-width="0.6" transform="rotate(-10 629.6 555.3)"/>
<ellipse cx="525.2" cy="561.2" rx="4.8" ry="3.0" fill="#80c2ca" stroke="#4a8894" stroke-width="0.6" transform="rotate(-8 525.2 561.2)"/>
<ellipse cx="532.8" cy="561.4" rx="4.7" ry="3.2" fill="#80c2ca" stroke="#4a8894" stroke-width="0.6" transform="rotate(-22 532.8 561.4)"/>
<ellipse cx="544.0" cy="559.0" rx="4.4" ry="3.4" fill="#80c2ca" stroke="#4a8894" stroke-width="0.6" transform="rotate(-1 544.0 559.0)"/>
<ellipse cx="552.7" cy="559.3" rx="4.3" ry="3.1" fill="#80c2ca" stroke="#4a8894" stroke-width="0.6" transform="rotate(-6 552.7 559.3)"/>
<ellipse cx="563.1" cy="560.6" rx="4.8" ry="3.2" fill="#80c2ca" stroke="#4a8894" stroke-width="0.6" transform="rotate(10 563.1 560.6)"/>
<ellipse cx="571.5" cy="560.8" rx="4.5" ry="3.1" fill="#80c2ca" stroke="#4a8894" stroke-width="0.6" transform="rotate(-11 571.5 560.8)"/>
<ellipse cx="579.0" cy="561.0" rx="4.7" ry="2.8" fill="#80c2ca" stroke="#4a8894" stroke-width="0.6" transform="rotate(12 579.0 561.0)"/>
<ellipse cx="587.9" cy="560.6" rx="5.3" ry="3.5" fill="#80c2ca" stroke="#4a8894" stroke-width="0.6" transform="rotate(3 587.9 560.6)"/>
<ellipse cx="595.6" cy="561.2" rx="4.3" ry="3.2" fill="#80c2ca" stroke="#4a8894" stroke-width="0.6" transform="rotate(-23 595.6 561.2)"/>
<ellipse cx="604.8" cy="561.1" rx="5.0" ry="3.3" fill="#80c2ca" stroke="#4a8894" stroke-width="0.6" transform="rotate(-16 604.8 561.1)"/>
<ellipse cx="614.5" cy="559.4" rx="5.2" ry="3.0" fill="#80c2ca" stroke="#4a8894" stroke-width="0.6" transform="rotate(4 614.5 559.4)"/>
<ellipse cx="625.9" cy="558.8" rx="4.7" ry="3.0" fill="#80c2ca" stroke="#4a8894" stroke-width="0.6" transform="rotate(4 625.9 558.8)"/>
<ellipse cx="632.8" cy="561.4" rx="4.6" ry="3.5" fill="#80c2ca" stroke="#4a8894" stroke-width="0.6" transform="rotate(-5 632.8 561.4)"/>
<ellipse cx="521.0" cy="566.7" rx="5.1" ry="3.3" fill="#80c2ca" stroke="#4a8894" stroke-width="0.6" transform="rotate(-13 521.0 566.7)"/>
<ellipse cx="529.8" cy="564.7" rx="4.5" ry="3.2" fill="#80c2ca" stroke="#4a8894" stroke-width="0.6" transform="rotate(19 529.8 564.7)"/>
<ellipse cx="540.5" cy="565.3" rx="5.1" ry="3.6" fill="#80c2ca" stroke="#4a8894" stroke-width="0.6" transform="rotate(9 540.5 565.3)"/>
<ellipse cx="549.5" cy="565.9" rx="5.2" ry="3.3" fill="#80c2ca" stroke="#4a8894" stroke-width="0.6" transform="rotate(2 549.5 565.9)"/>
<ellipse cx="556.8" cy="566.3" rx="4.8" ry="3.2" fill="#80c2ca" stroke="#4a8894" stroke-width="0.6" transform="rotate(-23 556.8 566.3)"/>
<ellipse cx="566.9" cy="565.1" rx="4.3" ry="3.5" fill="#80c2ca" stroke="#4a8894" stroke-width="0.6" transform="rotate(16 566.9 565.1)"/>
<ellipse cx="576.2" cy="565.8" rx="4.4" ry="3.1" fill="#80c2ca" stroke="#4a8894" stroke-width="0.6" transform="rotate(-19 576.2 565.8)"/>
<ellipse cx="583.8" cy="565.3" rx="4.7" ry="3.5" fill="#80c2ca" stroke="#4a8894" stroke-width="0.6" transform="rotate(22 583.8 565.3)"/>
<ellipse cx="591.6" cy="566.3" rx="5.2" ry="3.6" fill="#80c2ca" stroke="#4a8894" stroke-width="0.6" transform="rotate(2 591.6 566.3)"/>
<ellipse cx="603.0" cy="564.8" rx="4.6" ry="3.4" fill="#80c2ca" stroke="#4a8894" stroke-width="0.6" transform="rotate(19 603.0 564.8)"/>
<ellipse cx="609.5" cy="567.1" rx="5.2" ry="2.9" fill="#80c2ca" stroke="#4a8894" stroke-width="0.6" transform="rotate(6 609.5 567.1)"/>
<ellipse cx="619.2" cy="567.0" rx="4.7" ry="3.5" fill="#80c2ca" stroke="#4a8894" stroke-width="0.6" transform="rotate(11 619.2 567.0)"/>
<ellipse cx="628.0" cy="566.0" rx="4.9" ry="3.1" fill="#80c2ca" stroke="#4a8894" stroke-width="0.6" transform="rotate(17 628.0 566.0)"/>
<ellipse cx="524.0" cy="573.2" rx="5.3" ry="3.0" fill="#80c2ca" stroke="#4a8894" stroke-width="0.6" transform="rotate(9 524.0 573.2)"/>
<ellipse cx="535.0" cy="573.2" rx="4.4" ry="3.5" fill="#80c2ca" stroke="#4a8894" stroke-width="0.6" transform="rotate(12 535.0 573.2)"/>
<ellipse cx="544.5" cy="572.0" rx="4.8" ry="2.8" fill="#80c2ca" stroke="#4a8894" stroke-width="0.6" transform="rotate(-19 544.5 572.0)"/>
<ellipse cx="553.2" cy="573.2" rx="5.1" ry="2.9" fill="#80c2ca" stroke="#4a8894" stroke-width="0.6" transform="rotate(-9 553.2 573.2)"/>
<ellipse cx="561.8" cy="571.9" rx="5.2" ry="3.3" fill="#80c2ca" stroke="#4a8894" stroke-width="0.6" transform="rotate(20 561.8 571.9)"/>
<ellipse cx="572.0" cy="572.8" rx="5.2" ry="3.6" fill="#80c2ca" stroke="#4a8894" stroke-width="0.6" transform="rotate(-15 572.0 572.8)"/>
<ellipse cx="579.2" cy="573.2" rx="4.6" ry="3.1" fill="#80c2ca" stroke="#4a8894" stroke-width="0.6" transform="rotate(-20 579.2 573.2)"/>
<ellipse cx="589.2" cy="573.1" rx="4.4" ry="3.0" fill="#80c2ca" stroke="#4a8894" stroke-width="0.6" transform="rotate(-17 589.2 573.1)"/>
<ellipse cx="598.8" cy="571.1" rx="5.3" ry="3.6" fill="#80c2ca" stroke="#4a8894" stroke-width="0.6" transform="rotate(8 598.8 571.1)"/>
<ellipse cx="608.3" cy="573.1" rx="4.8" ry="3.3" fill="#80c2ca" stroke="#4a8894" stroke-width="0.6" transform="rotate(-18 608.3 573.1)"/>
<ellipse cx="617.1" cy="573.3" rx="4.3" ry="3.0" fill="#80c2ca" stroke="#4a8894" stroke-width="0.6" transform="rotate(-20 617.1 573.3)"/>
<ellipse cx="625.3" cy="571.2" rx="4.2" ry="3.6" fill="#80c2ca" stroke="#4a8894" stroke-width="0.6" transform="rotate(-13 625.3 571.2)"/>
<ellipse cx="633.7" cy="572.7" rx="5.3" ry="2.8" fill="#80c2ca" stroke="#4a8894" stroke-width="0.6" transform="rotate(-19 633.7 572.7)"/>
<rect x="520.0" y="495.9" width="120.0" height="32.1" fill="#c83020" stroke="none" stroke-width="1" />
<rect x="520.0" y="502.2" width="120.0" height="20.6" fill="#e8a458" stroke="none" stroke-width="1" />
<rect x="520.6" y="496.6" width="8.2" height="4.8" fill="#d83a28" stroke="#8a1a10" stroke-width="0.4" />
<rect x="520.6" y="523.2" width="8.2" height="4.5" fill="#d83a28" stroke="#8a1a10" stroke-width="0.4" />
<rect x="530.1" y="496.6" width="8.2" height="4.8" fill="#d83a28" stroke="#8a1a10" stroke-width="0.4" />
<rect x="530.1" y="523.2" width="8.2" height="4.5" fill="#d83a28" stroke="#8a1a10" stroke-width="0.4" />
<rect x="539.6" y="496.6" width="8.2" height="4.8" fill="#d83a28" stroke="#8a1a10" stroke-width="0.4" />
<rect x="539.6" y="523.2" width="8.2" height="4.5" fill="#d83a28" stroke="#8a1a10" stroke-width="0.4" />
<rect x="549.1" y="496.6" width="8.2" height="4.8" fill="#d83a28" stroke="#8a1a10" stroke-width="0.4" />
<rect x="549.1" y="523.2" width="8.2" height="4.5" fill="#d83a28" stroke="#8a1a10" stroke-width="0.4" />
<rect x="558.6" y="496.6" width="8.2" height="4.8" fill="#d83a28" stroke="#8a1a10" stroke-width="0.4" />
<rect x="558.6" y="523.2" width="8.2" height="4.5" fill="#d83a28" stroke="#8a1a10" stroke-width="0.4" />
<rect x="568.1" y="496.6" width="8.2" height="4.8" fill="#d83a28" stroke="#8a1a10" stroke-width="0.4" />
<rect x="568.1" y="523.2" width="8.2" height="4.5" fill="#d83a28" stroke="#8a1a10" stroke-width="0.4" />
<rect x="577.6" y="496.6" width="8.2" height="4.8" fill="#d83a28" stroke="#8a1a10" stroke-width="0.4" />
<rect x="577.6" y="523.2" width="8.2" height="4.5" fill="#d83a28" stroke="#8a1a10" stroke-width="0.4" />
<rect x="587.1" y="496.6" width="8.2" height="4.8" fill="#d83a28" stroke="#8a1a10" stroke-width="0.4" />
<rect x="587.1" y="523.2" width="8.2" height="4.5" fill="#d83a28" stroke="#8a1a10" stroke-width="0.4" />
<rect x="596.6" y="496.6" width="8.2" height="4.8" fill="#d83a28" stroke="#8a1a10" stroke-width="0.4" />
<rect x="596.6" y="523.2" width="8.2" height="4.5" fill="#d83a28" stroke="#8a1a10" stroke-width="0.4" />
<rect x="606.1" y="496.6" width="8.2" height="4.8" fill="#d83a28" stroke="#8a1a10" stroke-width="0.4" />
<rect x="606.1" y="523.2" width="8.2" height="4.5" fill="#d83a28" stroke="#8a1a10" stroke-width="0.4" />
<rect x="615.6" y="496.6" width="8.2" height="4.8" fill="#d83a28" stroke="#8a1a10" stroke-width="0.4" />
<rect x="615.6" y="523.2" width="8.2" height="4.5" fill="#d83a28" stroke="#8a1a10" stroke-width="0.4" />
<rect x="625.1" y="496.6" width="8.2" height="4.8" fill="#d83a28" stroke="#8a1a10" stroke-width="0.4" />
<rect x="625.1" y="523.2" width="8.2" height="4.5" fill="#d83a28" stroke="#8a1a10" stroke-width="0.4" />
<rect x="634.6" y="496.6" width="8.2" height="4.8" fill="#d83a28" stroke="#8a1a10" stroke-width="0.4" />
<rect x="634.6" y="523.2" width="8.2" height="4.5" fill="#d83a28" stroke="#8a1a10" stroke-width="0.4" />
<circle cx="530.0" cy="508.5" r="2.6" fill="#d8885a" stroke="none" stroke-width="1" />
<circle cx="550.0" cy="508.0" r="2.6" fill="#d8885a" stroke="none" stroke-width="1" />
<circle cx="569.0" cy="508.5" r="2.6" fill="#d8885a" stroke="none" stroke-width="1" />
<circle cx="587.0" cy="508.0" r="2.6" fill="#d8885a" stroke="none" stroke-width="1" />
<circle cx="603.0" cy="509.0" r="2.6" fill="#d8885a" stroke="none" stroke-width="1" />
<circle cx="613.0" cy="508.5" r="2.6" fill="#d8885a" stroke="none" stroke-width="1" />
<circle cx="625.0" cy="508.0" r="2.6" fill="#d8885a" stroke="none" stroke-width="1" />
<circle cx="543.0" cy="515.5" r="2.6" fill="#d8885a" stroke="none" stroke-width="1" />
<circle cx="578.0" cy="515.0" r="2.6" fill="#d8885a" stroke="none" stroke-width="1" />
<circle cx="596.0" cy="515.5" r="2.6" fill="#d8885a" stroke="none" stroke-width="1" />
<circle cx="619.0" cy="515.5" r="2.6" fill="#d8885a" stroke="none" stroke-width="1" />
<circle cx="560.0" cy="514.0" r="2.6" fill="#d8885a" stroke="none" stroke-width="1" />
<line x1="531.8" y1="502.5" x2="531.8" y2="505.0" stroke="#222" stroke-width="0.8" />
<line x1="535.8" y1="520.0" x2="535.8" y2="522.5" stroke="#222" stroke-width="0.8" />
<line x1="539.0" y1="502.5" x2="539.0" y2="505.0" stroke="#222" stroke-width="0.8" />
<line x1="543.0" y1="520.0" x2="543.0" y2="522.5" stroke="#222" stroke-width="0.8" />
<line x1="548.4" y1="502.5" x2="548.4" y2="505.0" stroke="#222" stroke-width="0.8" />
<line x1="552.4" y1="520.0" x2="552.4" y2="522.5" stroke="#222" stroke-width="0.8" />
<line x1="561.9" y1="502.5" x2="561.9" y2="505.0" stroke="#222" stroke-width="0.8" />
<line x1="565.9" y1="520.0" x2="565.9" y2="522.5" stroke="#222" stroke-width="0.8" />
<line x1="567.7" y1="502.5" x2="567.7" y2="505.0" stroke="#222" stroke-width="0.8" />
<line x1="571.7" y1="520.0" x2="571.7" y2="522.5" stroke="#222" stroke-width="0.8" />
<line x1="579.9" y1="502.5" x2="579.9" y2="505.0" stroke="#222" stroke-width="0.8" />
<line x1="583.9" y1="520.0" x2="583.9" y2="522.5" stroke="#222" stroke-width="0.8" />
<line x1="590.3" y1="502.5" x2="590.3" y2="505.0" stroke="#222" stroke-width="0.8" />
<line x1="594.3" y1="520.0" x2="594.3" y2="522.5" stroke="#222" stroke-width="0.8" />
<line x1="600.7" y1="502.5" x2="600.7" y2="505.0" stroke="#222" stroke-width="0.8" />
<line x1="604.7" y1="520.0" x2="604.7" y2="522.5" stroke="#222" stroke-width="0.8" />
<line x1="607.9" y1="502.5" x2="607.9" y2="505.0" stroke="#222" stroke-width="0.8" />
<line x1="611.9" y1="520.0" x2="611.9" y2="522.5" stroke="#222" stroke-width="0.8" />
<line x1="620.8" y1="502.5" x2="620.8" y2="505.0" stroke="#222" stroke-width="0.8" />
<line x1="624.8" y1="520.0" x2="624.8" y2="522.5" stroke="#222" stroke-width="0.8" />
<path d="M580.1,461.8 Q581.4,463.2 579.5,463.3 Q577.6,463.4 577.4,465.0 Q577.2,466.7 575.9,465.6 Q574.6,464.5 573.2,465.6 Q571.8,466.6 571.8,464.8 Q571.8,463.0 570.1,462.6 Q568.3,462.1 570.0,461.0 Q571.7,459.9 570.8,457.9 Q569.9,455.9 571.7,456.5 Q573.6,457.0 574.5,455.6 Q575.4,454.3 576.3,455.9 Q577.1,457.6 578.3,457.7 Q579.6,457.9 579.2,459.1 Q578.9,460.4 580.1,461.8 Z" fill="url(#pinkTam)" stroke="none" stroke-width="1" />
<circle cx="575.0" cy="461.0" r="1.9" fill="#ffb0e0" stroke="none" stroke-width="1" opacity="0.6"/>
<path d="M552.1,472.6 Q553.7,473.8 551.6,474.1 Q549.5,474.4 549.4,476.1 Q549.3,477.8 547.9,476.9 Q546.6,476.1 545.5,476.4 Q544.5,476.8 544.2,475.4 Q543.9,474.0 542.8,473.3 Q541.7,472.7 542.4,471.7 Q543.1,470.8 542.4,469.0 Q541.7,467.3 543.8,468.1 Q545.9,468.9 546.6,467.3 Q547.2,465.6 548.1,467.3 Q548.9,468.9 550.5,468.7 Q552.0,468.4 551.2,469.9 Q550.4,471.3 552.1,472.6 Z" fill="url(#pinkTam)" stroke="none" stroke-width="1" />
<circle cx="547.0" cy="472.0" r="1.9" fill="#ffb0e0" stroke="none" stroke-width="1" opacity="0.6"/>
<path d="M568.3,472.9 Q569.7,474.4 567.6,474.3 Q565.5,474.2 565.4,476.3 Q565.3,478.4 564.0,477.0 Q562.7,475.5 561.2,476.6 Q559.7,477.6 559.9,475.7 Q560.2,473.9 558.6,473.4 Q557.0,472.9 557.9,471.8 Q558.9,470.6 558.7,469.1 Q558.5,467.5 560.1,468.1 Q561.7,468.7 562.4,467.7 Q563.2,466.6 564.0,467.7 Q564.8,468.9 566.8,468.4 Q568.8,468.0 567.8,469.7 Q566.8,471.4 568.3,472.9 Z" fill="url(#pinkTam)" stroke="none" stroke-width="1" />
<circle cx="563.0" cy="472.0" r="1.9" fill="#ffb0e0" stroke="none" stroke-width="1" opacity="0.6"/>
<path d="M589.9,475.7 Q591.1,476.7 589.5,477.2 Q587.9,477.6 587.4,478.9 Q586.9,480.1 585.9,479.6 Q584.9,479.2 583.5,479.6 Q582.2,480.1 582.0,478.5 Q581.8,477.0 580.3,476.4 Q578.8,475.7 580.3,474.8 Q581.8,474.0 580.9,472.1 Q579.9,470.2 581.7,470.7 Q583.5,471.2 584.5,470.4 Q585.5,469.5 586.3,470.6 Q587.0,471.7 588.2,471.8 Q589.4,471.9 589.1,473.2 Q588.7,474.6 589.9,475.7 Z" fill="url(#pinkTam)" stroke="none" stroke-width="1" />
<circle cx="585.0" cy="475.0" r="1.9" fill="#ffb0e0" stroke="none" stroke-width="1" opacity="0.6"/>
<path d="M607.6,470.5 Q608.3,471.5 606.9,471.9 Q605.5,472.3 605.5,473.9 Q605.4,475.6 604.0,474.8 Q602.5,474.1 601.3,474.5 Q600.0,474.9 600.0,473.5 Q600.1,472.0 598.8,471.5 Q597.5,471.0 598.2,469.9 Q598.9,468.8 598.5,467.0 Q598.1,465.2 600.0,466.0 Q601.8,466.8 602.6,465.1 Q603.4,463.5 604.3,464.9 Q605.2,466.4 606.4,466.7 Q607.7,467.1 607.3,468.3 Q606.9,469.4 607.6,470.5 Z" fill="url(#pinkTam)" stroke="none" stroke-width="1" />
<circle cx="603.0" cy="470.0" r="1.9" fill="#ffb0e0" stroke="none" stroke-width="1" opacity="0.6"/>
<path d="M623.3,478.6 Q624.4,480.1 622.7,480.5 Q621.1,481.0 620.8,482.8 Q620.4,484.7 619.2,483.2 Q617.9,481.7 616.2,482.7 Q614.5,483.6 614.8,481.7 Q615.2,479.8 613.7,479.3 Q612.2,478.9 613.3,477.9 Q614.3,476.8 614.0,475.6 Q613.6,474.3 615.0,474.2 Q616.4,474.1 617.5,473.2 Q618.6,472.4 619.2,473.8 Q619.8,475.1 621.2,475.0 Q622.7,474.9 622.4,476.0 Q622.1,477.2 623.3,478.6 Z" fill="url(#pinkTam)" stroke="none" stroke-width="1" />
<circle cx="618.0" cy="478.0" r="1.9" fill="#ffb0e0" stroke="none" stroke-width="1" opacity="0.6"/>
<path d="M542.1,487.9 Q543.5,489.2 541.6,489.3 Q539.6,489.4 539.6,491.2 Q539.7,493.0 538.2,492.1 Q536.7,491.1 535.2,492.0 Q533.7,492.9 533.6,491.2 Q533.6,489.4 532.3,488.6 Q530.9,487.8 532.1,486.8 Q533.2,485.8 532.7,484.3 Q532.2,482.8 534.0,483.2 Q535.8,483.7 536.7,482.0 Q537.7,480.4 538.3,482.2 Q538.9,483.9 540.7,483.4 Q542.5,482.9 541.6,484.7 Q540.7,486.5 542.1,487.9 Z" fill="url(#pinkTam)" stroke="none" stroke-width="1" />
<circle cx="537.0" cy="487.0" r="1.9" fill="#ffb0e0" stroke="none" stroke-width="1" opacity="0.6"/>
<path d="M604.7,488.4 Q605.4,489.6 603.9,489.9 Q602.4,490.3 602.3,492.0 Q602.2,493.6 601.0,492.7 Q599.9,491.8 598.5,492.6 Q597.1,493.5 597.2,491.7 Q597.3,490.0 595.2,489.5 Q593.2,489.1 594.9,488.1 Q596.7,487.1 595.7,485.1 Q594.8,483.1 596.8,483.8 Q598.7,484.6 599.7,483.6 Q600.6,482.6 601.3,483.8 Q601.9,485.0 603.2,484.9 Q604.5,484.7 604.3,486.0 Q604.1,487.3 604.7,488.4 Z" fill="url(#pinkTam)" stroke="none" stroke-width="1" />
<circle cx="600.0" cy="488.0" r="1.9" fill="#ffb0e0" stroke="none" stroke-width="1" opacity="0.6"/>
<path d="M552.4,534.7 Q553.9,536.0 552.0,536.3 Q550.0,536.6 549.7,538.0 Q549.3,539.3 548.0,538.4 Q546.6,537.4 545.2,538.4 Q543.8,539.3 543.9,537.7 Q543.9,536.1 542.0,535.7 Q540.2,535.2 541.9,534.2 Q543.6,533.1 543.1,531.6 Q542.5,530.2 544.0,530.1 Q545.4,530.1 546.4,529.3 Q547.4,528.4 548.2,529.3 Q549.1,530.2 550.7,530.2 Q552.2,530.1 551.6,531.7 Q550.9,533.4 552.4,534.7 Z" fill="url(#pinkTam)" stroke="none" stroke-width="1" />
<circle cx="547.0" cy="534.0" r="1.9" fill="#ffb0e0" stroke="none" stroke-width="1" opacity="0.6"/>
<path d="M569.9,535.6 Q570.8,536.8 569.5,537.3 Q568.2,537.8 567.9,539.3 Q567.6,540.8 566.1,539.5 Q564.6,538.3 563.2,539.5 Q561.7,540.6 561.9,538.9 Q562.1,537.2 560.5,536.5 Q558.8,535.8 560.3,534.9 Q561.8,533.9 561.3,532.6 Q560.8,531.3 562.1,531.2 Q563.4,531.0 564.5,529.6 Q565.6,528.2 566.3,529.8 Q567.0,531.5 568.4,531.5 Q569.8,531.5 569.4,533.0 Q569.0,534.5 569.9,535.6 Z" fill="url(#pinkTam)" stroke="none" stroke-width="1" />
<circle cx="565.0" cy="535.0" r="1.9" fill="#ffb0e0" stroke="none" stroke-width="1" opacity="0.6"/>
<path d="M594.6,536.7 Q595.9,537.9 594.2,538.1 Q592.5,538.4 592.4,540.4 Q592.3,542.5 591.0,540.9 Q589.7,539.4 588.3,540.3 Q587.0,541.2 586.8,539.8 Q586.5,538.5 585.5,537.5 Q584.6,536.6 585.5,535.6 Q586.3,534.7 586.0,533.4 Q585.6,532.0 587.2,532.3 Q588.7,532.5 589.7,531.0 Q590.6,529.4 591.3,530.9 Q591.9,532.4 594.0,532.3 Q596.1,532.2 594.7,533.9 Q593.2,535.5 594.6,536.7 Z" fill="url(#pinkTam)" stroke="none" stroke-width="1" />
<circle cx="590.0" cy="536.0" r="1.9" fill="#ffb0e0" stroke="none" stroke-width="1" opacity="0.6"/>
<path d="M614.9,537.6 Q616.1,538.9 614.4,539.3 Q612.6,539.6 612.5,541.3 Q612.4,543.0 611.1,541.9 Q609.8,540.8 608.2,541.8 Q606.5,542.9 606.8,541.0 Q607.1,539.1 605.2,538.7 Q603.2,538.3 605.1,537.1 Q606.9,536.0 605.9,533.9 Q605.0,531.9 606.8,532.6 Q608.6,533.3 609.4,532.5 Q610.2,531.6 610.9,532.9 Q611.6,534.2 613.2,533.9 Q614.7,533.6 614.2,534.9 Q613.7,536.3 614.9,537.6 Z" fill="url(#pinkTam)" stroke="none" stroke-width="1" />
<circle cx="610.0" cy="537.0" r="1.9" fill="#ffb0e0" stroke="none" stroke-width="1" opacity="0.6"/>
<path d="M551.8,549.7 Q553.3,550.9 551.4,551.1 Q549.4,551.3 549.4,552.9 Q549.5,554.5 548.1,553.8 Q546.8,553.1 545.2,553.8 Q543.7,554.6 543.7,552.9 Q543.7,551.2 542.3,550.7 Q540.9,550.1 541.9,549.0 Q542.9,547.9 542.3,546.2 Q541.8,544.5 543.6,544.9 Q545.4,545.3 546.4,544.1 Q547.4,542.9 548.0,544.6 Q548.7,546.3 550.7,545.5 Q552.7,544.8 551.5,546.6 Q550.3,548.5 551.8,549.7 Z" fill="url(#pinkTam)" stroke="none" stroke-width="1" />
<circle cx="547.0" cy="549.0" r="1.9" fill="#ffb0e0" stroke="none" stroke-width="1" opacity="0.6"/>
<path d="M573.3,560.6 Q574.4,561.8 572.7,562.4 Q571.0,562.9 570.6,564.1 Q570.3,565.3 569.1,564.4 Q567.8,563.5 566.5,564.1 Q565.1,564.8 565.1,563.4 Q565.1,561.9 563.5,561.5 Q561.9,561.0 563.1,559.9 Q564.3,558.7 563.9,557.5 Q563.5,556.2 564.9,556.2 Q566.3,556.1 567.5,554.6 Q568.7,553.2 569.4,554.9 Q570.1,556.5 572.0,556.5 Q573.8,556.4 573.0,557.8 Q572.1,559.3 573.3,560.6 Z" fill="url(#pinkTam)" stroke="none" stroke-width="1" />
<circle cx="568.0" cy="560.0" r="1.9" fill="#ffb0e0" stroke="none" stroke-width="1" opacity="0.6"/>
<path d="M597.9,559.6 Q599.5,560.7 597.8,561.4 Q596.1,562.0 595.7,563.2 Q595.2,564.4 593.9,563.7 Q592.6,562.9 591.2,563.9 Q589.8,564.8 589.7,563.1 Q589.6,561.3 588.5,560.7 Q587.3,560.1 588.5,558.9 Q589.6,557.8 588.7,556.1 Q587.9,554.4 589.8,555.1 Q591.8,555.8 592.7,554.1 Q593.5,552.4 594.2,554.0 Q594.9,555.5 596.4,555.5 Q597.8,555.5 597.1,556.9 Q596.4,558.4 597.9,559.6 Z" fill="url(#pinkTam)" stroke="none" stroke-width="1" />
<circle cx="593.0" cy="559.0" r="1.9" fill="#ffb0e0" stroke="none" stroke-width="1" opacity="0.6"/>
<path d="M616.3,547.6 Q617.1,548.8 615.8,549.1 Q614.4,549.4 614.1,550.7 Q613.7,552.1 612.7,551.5 Q611.6,551.0 609.9,552.1 Q608.2,553.2 608.6,551.1 Q609.1,549.1 607.6,548.4 Q606.2,547.8 607.4,546.9 Q608.7,546.0 607.8,544.1 Q607.0,542.1 608.9,542.9 Q610.8,543.7 611.8,542.2 Q612.7,540.7 613.3,542.2 Q613.8,543.7 615.2,543.8 Q616.5,543.9 616.1,545.2 Q615.6,546.5 616.3,547.6 Z" fill="url(#pinkTam)" stroke="none" stroke-width="1" />
<circle cx="612.0" cy="547.0" r="1.9" fill="#ffb0e0" stroke="none" stroke-width="1" opacity="0.6"/>
<path d="M569.2,457.7 Q569.9,458.5 569.1,459.1 Q568.2,459.8 568.4,461.1 Q568.6,462.4 567.4,462.0 Q566.2,461.6 565.3,462.2 Q564.5,462.7 563.8,462.2 Q563.1,461.7 562.1,461.4 Q561.0,461.1 561.0,460.2 Q560.9,459.3 560.3,458.4 Q559.7,457.5 560.6,456.8 Q561.5,456.1 561.5,454.8 Q561.5,453.5 562.7,453.8 Q563.8,454.0 564.7,453.3 Q565.6,452.7 566.2,453.7 Q566.7,454.7 568.0,454.6 Q569.3,454.4 568.9,455.7 Q568.5,457.0 569.2,457.7 Z" fill="#f49a68" stroke="none" stroke-width="1" />
<circle cx="565.0" cy="458.0" r="2.3" fill="#f8c8a8" stroke="none" stroke-width="1" />
<path d="M567.6,486.6 Q568.2,487.4 567.4,488.2 Q566.7,488.9 566.5,490.0 Q566.4,491.0 565.2,490.8 Q564.0,490.7 563.2,491.5 Q562.3,492.4 561.7,491.5 Q561.1,490.5 560.1,490.3 Q559.1,490.2 559.2,489.1 Q559.3,488.0 558.4,487.1 Q557.5,486.3 558.6,485.8 Q559.7,485.3 559.6,484.0 Q559.5,482.7 560.6,483.0 Q561.8,483.2 562.6,482.4 Q563.5,481.5 564.3,482.5 Q565.0,483.4 566.1,483.4 Q567.2,483.5 567.1,484.6 Q567.0,485.8 567.6,486.6 Z" fill="#f49a68" stroke="none" stroke-width="1" />
<circle cx="563.0" cy="487.0" r="2.3" fill="#f8c8a8" stroke="none" stroke-width="1" />
<path d="M601.2,486.7 Q601.7,487.6 601.0,488.2 Q600.4,488.9 600.3,490.0 Q600.1,491.0 599.0,490.8 Q598.0,490.5 597.1,491.3 Q596.3,492.1 595.8,491.2 Q595.3,490.4 594.3,490.2 Q593.3,490.0 593.5,489.0 Q593.6,488.0 592.9,487.3 Q592.2,486.6 592.9,486.0 Q593.7,485.3 593.8,484.1 Q593.8,483.0 594.9,483.0 Q595.9,482.9 596.8,482.2 Q597.7,481.4 598.3,482.4 Q598.9,483.5 600.0,483.6 Q601.1,483.8 600.9,484.8 Q600.7,485.8 601.2,486.7 Z" fill="#f49a68" stroke="none" stroke-width="1" />
<circle cx="597.0" cy="487.0" r="2.3" fill="#f8c8a8" stroke="none" stroke-width="1" />
<path d="M581.6,549.8 Q582.6,550.6 581.6,551.3 Q580.6,551.9 580.4,553.0 Q580.2,554.1 579.2,554.0 Q578.1,553.9 577.3,554.3 Q576.4,554.7 575.7,554.3 Q575.0,553.8 574.1,553.4 Q573.1,553.1 573.3,552.0 Q573.5,551.0 572.7,550.3 Q571.9,549.5 572.8,548.9 Q573.8,548.3 573.7,547.1 Q573.6,545.9 574.7,546.0 Q575.8,546.2 576.7,545.7 Q577.6,545.3 578.1,546.1 Q578.7,546.8 579.8,546.8 Q581.0,546.8 580.8,547.9 Q580.5,548.9 581.6,549.8 Z" fill="#f49a68" stroke="none" stroke-width="1" />
<circle cx="577.0" cy="550.0" r="2.3" fill="#f8c8a8" stroke="none" stroke-width="1" />
<path d="M567.4,547.6 Q567.8,548.6 567.1,549.2 Q566.4,549.8 566.3,550.9 Q566.1,552.0 565.1,551.9 Q564.2,551.8 563.3,552.7 Q562.5,553.6 561.7,552.6 Q561.0,551.5 559.8,551.6 Q558.7,551.7 558.9,550.4 Q559.2,549.1 558.5,548.3 Q557.8,547.5 558.8,546.8 Q559.8,546.2 559.5,544.9 Q559.3,543.7 560.6,544.0 Q561.9,544.4 562.7,543.4 Q563.5,542.4 564.1,543.6 Q564.6,544.9 565.7,544.9 Q566.8,544.8 566.9,545.8 Q567.0,546.7 567.4,547.6 Z" fill="#f49a68" stroke="none" stroke-width="1" />
<circle cx="563.0" cy="548.0" r="2.3" fill="#f8c8a8" stroke="none" stroke-width="1" />
<path d="M611.6,555.7 Q612.7,556.4 611.6,557.1 Q610.6,557.9 610.5,559.1 Q610.4,560.3 609.3,560.0 Q608.1,559.6 607.2,560.6 Q606.4,561.6 605.7,560.5 Q605.1,559.4 604.1,559.4 Q603.1,559.3 603.2,558.2 Q603.3,557.1 602.5,556.3 Q601.7,555.5 602.8,554.9 Q603.9,554.3 603.7,553.1 Q603.5,551.9 604.7,551.9 Q605.8,552.0 606.6,551.6 Q607.4,551.1 608.1,551.7 Q608.9,552.4 610.1,552.4 Q611.2,552.5 610.9,553.7 Q610.6,554.9 611.6,555.7 Z" fill="#f49a68" stroke="none" stroke-width="1" />
<circle cx="607.0" cy="556.0" r="2.3" fill="#f8c8a8" stroke="none" stroke-width="1" />
<path d="M587.4,567.8 Q588.2,568.7 587.3,569.3 Q586.5,569.8 586.5,571.2 Q586.5,572.5 585.3,572.0 Q584.1,571.5 583.3,572.1 Q582.6,572.7 581.8,572.2 Q580.9,571.8 579.9,571.6 Q578.8,571.5 578.9,570.4 Q579.0,569.3 578.5,568.4 Q577.9,567.5 578.9,566.9 Q579.8,566.4 579.9,565.3 Q580.0,564.2 580.9,564.2 Q581.9,564.2 582.7,563.4 Q583.5,562.6 584.2,563.5 Q584.8,564.4 585.8,564.6 Q586.7,564.8 586.6,565.9 Q586.5,567.0 587.4,567.8 Z" fill="#f49a68" stroke="none" stroke-width="1" />
<circle cx="583.0" cy="568.0" r="2.3" fill="#f8c8a8" stroke="none" stroke-width="1" />
<circle cx="548.0" cy="487.0" r="2.3" fill="#e08868" stroke="none" stroke-width="1" />
<circle cx="578.0" cy="488.0" r="2.3" fill="#e08868" stroke="none" stroke-width="1" />
<circle cx="556.0" cy="540.0" r="2.3" fill="#e08868" stroke="none" stroke-width="1" />
<circle cx="602.0" cy="546.0" r="2.3" fill="#e08868" stroke="none" stroke-width="1" />
<circle cx="590.0" cy="548.0" r="2.3" fill="#e08868" stroke="none" stroke-width="1" />
<circle cx="575.0" cy="545.0" r="2.3" fill="#e08868" stroke="none" stroke-width="1" />
</g>
<ellipse cx="578.0" cy="513.5" rx="55.0" ry="61.0" fill="none" stroke="#1a2a30" stroke-width="1.2" />
<rect x="556.5" y="470.0" width="15.9" height="21.3" fill="none" stroke="#111" stroke-width="1" />
<line x1="572.4" y1="470.0" x2="669.0" y2="411.6" stroke="#111" stroke-width="1" />
<line x1="572.4" y1="491.3" x2="669.0" y2="637.6" stroke="#111" stroke-width="1" />
<rect x="669.3" y="412.0" width="144.2" height="225.6" fill="#efefef" stroke="#2a2a2a" stroke-width="1.2" />
<text x="677.0" y="423.0" font-size="7.2" fill="#1e1e1e" font-weight="normal" text-anchor="start" >M2NP-siCD115</text>
<path d="M701.3,434.4 L699.8,435.4 L700.6,437.0 L698.8,437.1 L698.7,438.9 L697.1,438.1 L696.1,439.6 L695.1,438.1 L693.5,438.9 L693.4,437.1 L691.6,437.0 L692.4,435.4 L690.9,434.4 L692.4,433.4 L691.6,431.8 L693.4,431.7 L693.5,429.9 L695.1,430.7 L696.1,429.2 L697.1,430.7 L698.7,429.9 L698.8,431.7 L700.6,431.8 L699.8,433.4 Z" fill="#e87060" stroke="none" stroke-width="1" />
<circle cx="696.1" cy="434.4" r="3.3" fill="#f09080" stroke="none" stroke-width="1" />
<path d="M697.9,442.0 L696.4,443.0 L697.2,444.6 L695.4,444.7 L695.3,446.5 L693.7,445.7 L692.7,447.2 L691.7,445.7 L690.1,446.5 L690.0,444.7 L688.2,444.6 L689.0,443.0 L687.5,442.0 L689.0,441.0 L688.2,439.4 L690.0,439.3 L690.1,437.5 L691.7,438.3 L692.7,436.8 L693.7,438.3 L695.3,437.5 L695.4,439.3 L697.2,439.4 L696.4,441.0 Z" fill="#e87060" stroke="none" stroke-width="1" />
<circle cx="692.7" cy="442.0" r="3.3" fill="#f09080" stroke="none" stroke-width="1" />
<path d="M711.5,443.8 L710.0,444.8 L710.8,446.4 L709.0,446.5 L708.9,448.3 L707.3,447.5 L706.3,449.0 L705.3,447.5 L703.7,448.3 L703.6,446.5 L701.8,446.4 L702.6,444.8 L701.1,443.8 L702.6,442.8 L701.8,441.2 L703.6,441.1 L703.7,439.3 L705.3,440.1 L706.3,438.6 L707.3,440.1 L708.9,439.3 L709.0,441.1 L710.8,441.2 L710.0,442.8 Z" fill="#e87060" stroke="none" stroke-width="1" />
<circle cx="706.3" cy="443.8" r="3.3" fill="#f09080" stroke="none" stroke-width="1" />
<path d="M731,436 L740,441.7 L731,447.4 L734,441.7 Z" fill="#d02030" stroke="none" stroke-width="1" />
<path d="M737,440.4 L746,440.4 L745,438 L751.5,442 L745,446 L746,443.6 L737,443.6 Z" fill="#f0a0a8" stroke="#c02030" stroke-width="0.5" />
<path d="M795.3,430.9 Q800.4,430.3 805.5,429.6 Q802.9,434.0 800.3,438.4 Q798.6,440.0 800.6,441.2 Q804.3,445.0 808.0,448.8 Q802.7,449.2 797.4,449.6 Q795.0,449.3 795.0,451.7 Q793.5,455.2 792.0,458.7 Q789.1,456.3 786.2,453.9 Q786.5,452.0 786.3,453.9 Q781.8,457.8 777.2,461.8 Q777.8,455.8 778.3,449.8 Q778.9,447.4 776.5,447.1 Q772.7,445.3 768.8,443.6 Q772.1,440.9 775.4,438.2 Q778.0,436.6 777.5,433.6 Q777.0,428.7 776.5,423.8 Q780.8,426.3 785.1,428.7 Q786.2,430.5 786.7,428.5 Q790.1,424.9 793.4,421.2 Q794.4,426.1 795.4,430.9 Q794.2,432.5 795.3,430.9 Z" fill="url(#orTam)" stroke="none" stroke-width="1" />
<circle cx="787.8" cy="441.2" r="6.6" fill="#ffffff" stroke="none" stroke-width="1" opacity="0.3"/>
<circle cx="787.8" cy="441.2" r="4.4" fill="none" stroke="#ffffff" stroke-width="0.8" opacity="0.4"/>
<line x1="791.3" y1="428.0" x2="792.4" y2="424.2" stroke="#2a5a9a" stroke-width="1.4" />
<line x1="792.4" y1="424.2" x2="791.1" y2="421.4" stroke="#2a5a9a" stroke-width="1.4" />
<line x1="792.4" y1="424.2" x2="794.8" y2="422.4" stroke="#2a5a9a" stroke-width="1.4" />
<line x1="780.0" y1="452.4" x2="777.7" y2="455.6" stroke="#2a5a9a" stroke-width="1.4" />
<line x1="777.7" y1="455.6" x2="777.9" y2="458.6" stroke="#2a5a9a" stroke-width="1.4" />
<line x1="777.7" y1="455.6" x2="774.8" y2="456.4" stroke="#2a5a9a" stroke-width="1.4" />
<line x1="774.2" y1="441.7" x2="770.2" y2="441.8" stroke="#8a9aa8" stroke-width="1.4" />
<line x1="770.2" y1="441.8" x2="767.9" y2="443.8" stroke="#8a9aa8" stroke-width="1.4" />
<line x1="770.2" y1="441.8" x2="767.8" y2="440.0" stroke="#8a9aa8" stroke-width="1.4" />
<line x1="801.0" y1="444.7" x2="804.8" y2="445.8" stroke="#6a8aa8" stroke-width="1.4" />
<line x1="804.8" y1="445.8" x2="807.6" y2="444.5" stroke="#6a8aa8" stroke-width="1.4" />
<line x1="804.8" y1="445.8" x2="806.6" y2="448.2" stroke="#6a8aa8" stroke-width="1.4" />
<path d="M691.3,460.5 L707.3,460.5 L702,478 L706,478 L699.3,493.4 L692.6,478 L696.6,478 Z" fill="url(#redArr)" stroke="none" stroke-width="1" />
<text x="709.8" y="474.2" font-size="7.2" fill="#1e1e1e" font-weight="normal" text-anchor="start" >Dual-</text>
<text x="709.8" y="483.0" font-size="7.2" fill="#1e1e1e" font-weight="normal" text-anchor="start" >targeting</text>
<path d="M707.5,510.5 Q713.5,510.2 719.4,509.8 Q715.6,514.4 711.7,518.9 Q709.7,520.4 711.6,522.0 Q716.0,527.0 720.4,531.9 Q713.8,531.1 707.2,530.3 Q705.2,529.4 705.5,531.6 Q704.5,538.1 703.4,544.6 Q699.9,539.0 696.3,533.5 Q696.8,531.5 696.8,533.5 Q692.6,536.5 688.4,539.5 Q688.4,534.3 688.5,529.2 Q688.5,525.8 685.6,524.0 Q680.6,521.2 675.6,518.4 Q681.0,516.5 686.3,514.6 Q688.6,514.6 687.4,512.7 Q687.5,508.6 687.5,504.5 Q691.3,505.9 695.2,507.4 Q695.9,509.2 695.8,507.2 Q698.7,503.8 701.7,500.5 Q703.4,504.6 705.1,508.7 Q705.1,511.2 707.5,510.5 Z" fill="url(#pinkTam)" stroke="none" stroke-width="1" />
<circle cx="698.4" cy="520.3" r="6.9" fill="#ffffff" stroke="none" stroke-width="1" opacity="0.3"/>
<circle cx="698.4" cy="520.3" r="4.6" fill="none" stroke="#ffffff" stroke-width="0.8" opacity="0.4"/>
<line x1="705.5" y1="508.0" x2="707.5" y2="504.5" stroke="#2a5a9a" stroke-width="1.4" />
<line x1="707.5" y1="504.5" x2="707.0" y2="501.5" stroke="#2a5a9a" stroke-width="1.4" />
<line x1="707.5" y1="504.5" x2="710.4" y2="503.5" stroke="#2a5a9a" stroke-width="1.4" />
<line x1="694.7" y1="506.5" x2="693.7" y2="502.7" stroke="#8a9aa8" stroke-width="1.4" />
<line x1="693.7" y1="502.7" x2="691.2" y2="500.9" stroke="#8a9aa8" stroke-width="1.4" />
<line x1="693.7" y1="502.7" x2="694.9" y2="499.9" stroke="#8a9aa8" stroke-width="1.4" />
<line x1="685.0" y1="515.4" x2="681.2" y2="514.1" stroke="#2a5a9a" stroke-width="1.4" />
<line x1="681.2" y1="514.1" x2="678.4" y2="515.1" stroke="#2a5a9a" stroke-width="1.4" />
<line x1="681.2" y1="514.1" x2="679.7" y2="511.5" stroke="#2a5a9a" stroke-width="1.4" />
<line x1="686.1" y1="527.4" x2="682.6" y2="529.4" stroke="#2a5a9a" stroke-width="1.4" />
<line x1="682.6" y1="529.4" x2="681.6" y2="532.3" stroke="#2a5a9a" stroke-width="1.4" />
<line x1="682.6" y1="529.4" x2="679.6" y2="528.9" stroke="#2a5a9a" stroke-width="1.4" />
<line x1="695.9" y1="534.3" x2="695.2" y2="538.3" stroke="#8a9aa8" stroke-width="1.4" />
<line x1="695.2" y1="538.3" x2="696.7" y2="540.9" stroke="#8a9aa8" stroke-width="1.4" />
<line x1="695.2" y1="538.3" x2="692.9" y2="540.2" stroke="#8a9aa8" stroke-width="1.4" />
<line x1="711.3" y1="526.3" x2="714.9" y2="528.0" stroke="#2a5a9a" stroke-width="1.4" />
<line x1="714.9" y1="528.0" x2="717.8" y2="527.2" stroke="#2a5a9a" stroke-width="1.4" />
<line x1="714.9" y1="528.0" x2="716.2" y2="530.7" stroke="#2a5a9a" stroke-width="1.4" />
<line x1="711.8" y1="515.4" x2="715.6" y2="514.1" stroke="#8a9aa8" stroke-width="1.4" />
<line x1="715.6" y1="514.1" x2="717.1" y2="511.5" stroke="#8a9aa8" stroke-width="1.4" />
<line x1="715.6" y1="514.1" x2="718.4" y2="515.1" stroke="#8a9aa8" stroke-width="1.4" />
<text x="690.0" y="552.5" font-size="7.4" fill="#222" font-weight="normal" text-anchor="start" >CSF-1R</text>
<path d="M716,546 L716,552" fill="none" stroke="#d02020" stroke-width="0.8" />
<path d="M714.3,550 L716,553 L717.7,550" fill="none" stroke="#d02020" stroke-width="0.8" />
<path d="M733.9,556.0 L732.2,558.9 L729.0,558.9 L727.3,556.0 L729.0,553.1 L732.2,553.1 Z" fill="#2a70c8" stroke="none" stroke-width="1" />
<path d="M737.3,562.9 L735.6,565.8 L732.4,565.8 L730.7,562.9 L732.4,560.0 L735.6,560.0 Z" fill="#2a70c8" stroke="none" stroke-width="1" />
<path d="M730.7,561.5 L729.0,564.4 L725.8,564.4 L724.1,561.5 L725.8,558.6 L729.0,558.6 Z" fill="#2a70c8" stroke="none" stroke-width="1" />
<path d="M740.3,557.0 L738.6,559.9 L735.4,559.9 L733.7,557.0 L735.4,554.1 L738.6,554.1 Z" fill="#2a70c8" stroke="none" stroke-width="1" />
<text x="739.5" y="561.8" font-size="7.4" fill="#222" font-weight="normal" text-anchor="start" >CSF-1</text>
<line x1="700.7" y1="559.5" x2="700.7" y2="572.0" stroke="#111" stroke-width="1.2" />
<path d="M697.5,570 L700.7,575 L703.9,570 Z" fill="#111" stroke="none" stroke-width="1" />
<line x1="728.3" y1="567.5" x2="722.0" y2="577.0" stroke="#111" stroke-width="1" />
<path d="M719.6,576 L720.5,580.5 L724.5,578.5 Z" fill="#111" stroke="none" stroke-width="1" />
<line x1="722.0" y1="570.0" x2="728.0" y2="574.0" stroke="#d02020" stroke-width="0.8" />
<line x1="723.0" y1="568.5" x2="729.0" y2="572.5" stroke="#d02020" stroke-width="0.8" />
<path d="M709.1,585.7 Q715.3,585.5 721.6,585.4 Q717.2,589.8 712.8,594.3 Q710.8,594.9 712.8,595.4 Q715.5,599.1 718.2,602.7 Q713.7,603.4 709.2,604.1 Q707.6,602.9 708.9,604.4 Q709.0,610.2 709.0,615.9 Q704.7,612.1 700.4,608.3 Q698.4,606.3 696.2,607.9 Q691.0,611.1 685.9,614.3 Q687.2,608.4 688.5,602.5 Q689.7,600.7 687.5,600.8 Q681.7,599.0 675.9,597.1 Q681.3,594.3 686.6,591.4 Q688.8,591.2 687.3,589.6 Q684.9,583.9 682.5,578.2 Q688.2,580.5 693.9,582.9 Q696.4,584.1 697.9,581.8 Q701.3,578.1 704.6,574.4 Q705.8,579.2 707.1,584.0 Q706.8,586.3 709.1,585.7 Z" fill="url(#pinkTam)" stroke="none" stroke-width="1" />
<circle cx="699.5" cy="595.0" r="6.9" fill="#ffffff" stroke="none" stroke-width="1" opacity="0.3"/>
<circle cx="699.5" cy="595.0" r="4.6" fill="none" stroke="#ffffff" stroke-width="0.8" opacity="0.4"/>
<line x1="692.4" y1="582.7" x2="690.4" y2="579.2" stroke="#8a9aa8" stroke-width="1.4" />
<line x1="690.4" y1="579.2" x2="687.5" y2="578.2" stroke="#8a9aa8" stroke-width="1.4" />
<line x1="690.4" y1="579.2" x2="690.9" y2="576.2" stroke="#8a9aa8" stroke-width="1.4" />
<line x1="709.6" y1="584.9" x2="712.4" y2="582.1" stroke="#8a9aa8" stroke-width="1.4" />
<line x1="712.4" y1="582.1" x2="712.7" y2="579.1" stroke="#8a9aa8" stroke-width="1.4" />
<line x1="712.4" y1="582.1" x2="715.4" y2="581.8" stroke="#8a9aa8" stroke-width="1.4" />
<line x1="686.1" y1="599.9" x2="682.3" y2="601.2" stroke="#8a9aa8" stroke-width="1.4" />
<line x1="682.3" y1="601.2" x2="680.8" y2="603.8" stroke="#8a9aa8" stroke-width="1.4" />
<line x1="682.3" y1="601.2" x2="679.5" y2="600.2" stroke="#8a9aa8" stroke-width="1.4" />
<line x1="712.4" y1="601.0" x2="716.0" y2="602.7" stroke="#2a5a9a" stroke-width="1.4" />
<line x1="716.0" y1="602.7" x2="718.9" y2="601.9" stroke="#2a5a9a" stroke-width="1.4" />
<line x1="716.0" y1="602.7" x2="717.3" y2="605.4" stroke="#2a5a9a" stroke-width="1.4" />
<line x1="697.0" y1="609.0" x2="696.3" y2="613.0" stroke="#8a9aa8" stroke-width="1.4" />
<line x1="696.3" y1="613.0" x2="697.8" y2="615.6" stroke="#8a9aa8" stroke-width="1.4" />
<line x1="696.3" y1="613.0" x2="694.0" y2="614.9" stroke="#8a9aa8" stroke-width="1.4" />
<text x="699.5" y="623.9" font-size="7.4" fill="#222" font-weight="normal" text-anchor="middle" >M2-like TAM</text>
<text x="699.5" y="634.3" font-size="7.4" fill="#222" font-weight="normal" text-anchor="middle" >depletion</text>
<text x="737.5" y="580.2" font-size="7.2" fill="#222" font-weight="normal" text-anchor="start" >PD-1</text>
<text x="737.5" y="587.2" font-size="7.2" fill="#222" font-weight="normal" text-anchor="start" >Tim-3</text>
<text x="737.5" y="594.3" font-size="7.2" fill="#222" font-weight="normal" text-anchor="start" >TGF-β</text>
<text x="737.5" y="601.4" font-size="7.2" fill="#222" font-weight="normal" text-anchor="start" >IL-10</text>
<line x1="736.5" y1="603.2" x2="762.0" y2="603.2" stroke="#111" stroke-width="1" />
<path d="M761,600.5 L765.5,603.2 L761,605.9 Z" fill="#111" stroke="none" stroke-width="1" />
<text x="737.5" y="610.5" font-size="7.2" fill="#222" font-weight="normal" text-anchor="start" >IL-12</text>
<text x="737.5" y="617.8" font-size="7.2" fill="#222" font-weight="normal" text-anchor="start" >IFN-γ</text>
<text x="737.5" y="625.1" font-size="7.2" fill="#222" font-weight="normal" text-anchor="start" >CD69</text>
<line x1="758.2" y1="587.0" x2="758.2" y2="600.0" stroke="#d02020" stroke-width="0.8" />
<path d="M756.6,597.5 L758.2,600.5 L759.8,597.5" fill="none" stroke="#d02020" stroke-width="0.8" />
<line x1="758.2" y1="610.0" x2="758.2" y2="624.0" stroke="#d02020" stroke-width="0.8" />
<path d="M756.6,612.5 L758.2,609.5 L759.8,612.5" fill="none" stroke="#d02020" stroke-width="0.8" />
<text x="791.6" y="510.7" font-size="7.2" fill="#222" font-weight="normal" text-anchor="middle" >Tumor cell</text>
<text x="791.6" y="519.9" font-size="7.2" fill="#222" font-weight="normal" text-anchor="middle" >death</text>
<path d="M776,536.5 L784,529 L800,529 L807,536.5 L800,544 L784,544 Z" fill="#78b8c0" stroke="#4a8a98" stroke-width="0.6" />
<ellipse cx="791.6" cy="536.5" rx="5.0" ry="3.5" fill="#b0e0e8" stroke="none" stroke-width="1" />
<circle cx="791.6" cy="526.0" r="4.3" fill="url(#cd8o)" stroke="none" stroke-width="1" />
<circle cx="805.4" cy="530.7" r="4.3" fill="url(#cd8o)" stroke="none" stroke-width="1" />
<circle cx="777.8" cy="537.0" r="4.3" fill="url(#cd8o)" stroke="none" stroke-width="1" />
<circle cx="802.0" cy="545.2" r="4.3" fill="url(#cd8o)" stroke="none" stroke-width="1" />
<circle cx="787.0" cy="547.5" r="4.3" fill="url(#cd8o)" stroke="none" stroke-width="1" />
<circle cx="779.0" cy="529.0" r="4.3" fill="url(#cd8o)" stroke="none" stroke-width="1" />
<line x1="791.6" y1="576.7" x2="791.6" y2="566.0" stroke="#111" stroke-width="1.2" />
<path d="M788.4,568 L791.6,563 L794.8,568 Z" fill="#111" stroke="none" stroke-width="1" />
<circle cx="789.3" cy="590.5" r="4.0" fill="url(#cd8o)" stroke="none" stroke-width="1" />
<circle cx="798.5" cy="595.0" r="4.0" fill="url(#cd8o)" stroke="none" stroke-width="1" />
<circle cx="781.3" cy="597.4" r="4.0" fill="url(#cd8o)" stroke="none" stroke-width="1" />
<circle cx="795.0" cy="605.5" r="4.0" fill="url(#cd8o)" stroke="none" stroke-width="1" />
<circle cx="785.9" cy="606.6" r="4.0" fill="url(#cd8o)" stroke="none" stroke-width="1" />
<text x="790.5" y="623.9" font-size="7.4" fill="#222" font-weight="normal" text-anchor="middle" >CD8⁺ T cell</text>
<text x="790.5" y="634.3" font-size="7.4" fill="#222" font-weight="normal" text-anchor="middle" >activation</text>
<path d="M429.9,585.2 Q432.6,585.2 435.3,585.2 Q433.9,587.5 432.5,589.9 Q431.4,590.3 432.5,590.5 Q435.4,592.7 438.2,594.9 Q434.6,595.2 431.0,595.6 Q429.8,595.2 430.3,596.3 Q430.2,599.3 430.1,602.3 Q427.8,600.4 425.5,598.5 Q424.0,597.3 422.2,598.0 Q420.0,598.5 417.8,598.9 Q418.0,596.7 418.3,594.4 Q419.2,593.7 418.0,593.9 Q415.1,592.7 412.2,591.4 Q415.0,590.0 417.9,588.6 Q419.0,588.9 417.9,588.4 Q416.9,585.8 416.0,583.3 Q418.7,583.8 421.4,584.4 Q423.0,584.9 424.1,583.5 Q425.9,581.3 427.8,579.2 Q428.5,582.0 429.2,584.8 Q428.9,585.9 429.9,585.2 Z" fill="url(#pinkTam)" stroke="none" stroke-width="1" />
<circle cx="425.0" cy="591.0" r="3.9" fill="#ffffff" stroke="none" stroke-width="1" opacity="0.3"/>
<circle cx="425.0" cy="591.0" r="2.6" fill="none" stroke="#ffffff" stroke-width="0.8" opacity="0.4"/>
<line x1="429.0" y1="584.0" x2="431.0" y2="580.6" stroke="#2a5a9a" stroke-width="1.4" />
<line x1="431.0" y1="580.6" x2="430.5" y2="577.6" stroke="#2a5a9a" stroke-width="1.4" />
<line x1="431.0" y1="580.6" x2="433.9" y2="579.5" stroke="#2a5a9a" stroke-width="1.4" />
<line x1="417.4" y1="588.2" x2="413.7" y2="586.9" stroke="#2a5a9a" stroke-width="1.4" />
<line x1="413.7" y1="586.9" x2="410.9" y2="587.9" stroke="#2a5a9a" stroke-width="1.4" />
<line x1="413.7" y1="586.9" x2="412.2" y2="584.3" stroke="#2a5a9a" stroke-width="1.4" />
<line x1="418.8" y1="596.2" x2="415.8" y2="598.8" stroke="#2a5a9a" stroke-width="1.4" />
<line x1="415.8" y1="598.8" x2="415.2" y2="601.7" stroke="#2a5a9a" stroke-width="1.4" />
<line x1="415.8" y1="598.8" x2="412.8" y2="598.7" stroke="#2a5a9a" stroke-width="1.4" />
<line x1="432.0" y1="595.0" x2="435.4" y2="597.0" stroke="#2a5a9a" stroke-width="1.4" />
<line x1="435.4" y1="597.0" x2="438.4" y2="596.5" stroke="#2a5a9a" stroke-width="1.4" />
<line x1="435.4" y1="597.0" x2="436.5" y2="599.9" stroke="#2a5a9a" stroke-width="1.4" />
<text x="442.2" y="593.9" font-size="6.9" fill="#222" font-weight="normal" text-anchor="start" >M2-like TAM</text>
<path d="M484,592 C484,586 490,584 496,584.5 C502,585 508,587 507,591 C506,596 500,598 494,597.5 C488,597 484,596 484,592 Z" fill="#8cc4c8" stroke="#5a9aa0" stroke-width="0.6" />
<ellipse cx="495.5" cy="591.0" rx="4.0" ry="3.0" fill="#a0d0d4" stroke="none" stroke-width="1" />
<text x="525.5" y="588.7" font-size="7" fill="#222" font-weight="normal" text-anchor="middle" >Melanoma</text>
<text x="525.5" y="598.0" font-size="7" fill="#222" font-weight="normal" text-anchor="middle" >tumor cell</text>
<path d="M552,580 L552,587 Q552,590 556.1,591 L556.1,599.4 M560.2,580 L560.2,587 Q560.2,590 556.1,591" fill="none" stroke="#2a6ab0" stroke-width="2.2" />
<text x="562.2" y="592.6" font-size="7.2" fill="#222" font-weight="normal" text-anchor="start" >CSF-1R</text>
<path d="M600.5,591 L603,586.7 L608,586.7 L610.5,591 L608,595.3 L603,595.3 Z" fill="#2a70c8" stroke="none" stroke-width="1" />
<text x="611.0" y="593.0" font-size="7.2" fill="#222" font-weight="normal" text-anchor="start" >CSF-1</text>
<path d="M431.0,619.4 Q433.9,619.4 436.7,619.4 Q435.1,621.8 433.5,624.1 Q432.4,624.8 433.5,625.5 Q434.9,627.5 436.2,629.6 Q433.8,629.9 431.4,630.3 Q430.0,630.0 429.9,631.5 Q429.2,634.9 428.5,638.4 Q426.6,635.4 424.7,632.4 Q424.5,631.2 423.7,632.2 Q421.4,632.9 419.2,633.7 Q419.4,631.3 419.5,628.9 Q420.3,627.9 419.1,628.0 Q416.7,626.7 414.3,625.5 Q416.6,624.1 418.8,622.7 Q420.0,622.7 419.1,622.0 Q417.5,618.6 415.9,615.2 Q419.3,616.7 422.8,618.2 Q424.5,618.8 425.7,617.5 Q427.5,616.2 429.3,615.0 Q430.1,617.1 430.8,619.1 Q430.2,620.1 431.0,619.4 Z" fill="url(#orTam)" stroke="none" stroke-width="1" />
<circle cx="426.0" cy="625.0" r="3.9" fill="#ffffff" stroke="none" stroke-width="1" opacity="0.3"/>
<circle cx="426.0" cy="625.0" r="2.6" fill="none" stroke="#ffffff" stroke-width="0.8" opacity="0.4"/>
<line x1="430.0" y1="618.0" x2="432.0" y2="614.6" stroke="#2a5a9a" stroke-width="1.4" />
<line x1="432.0" y1="614.6" x2="431.5" y2="611.6" stroke="#2a5a9a" stroke-width="1.4" />
<line x1="432.0" y1="614.6" x2="434.9" y2="613.5" stroke="#2a5a9a" stroke-width="1.4" />
<line x1="418.4" y1="622.2" x2="414.7" y2="620.9" stroke="#2a5a9a" stroke-width="1.4" />
<line x1="414.7" y1="620.9" x2="411.9" y2="621.9" stroke="#2a5a9a" stroke-width="1.4" />
<line x1="414.7" y1="620.9" x2="413.2" y2="618.3" stroke="#2a5a9a" stroke-width="1.4" />
<line x1="420.8" y1="631.2" x2="418.2" y2="634.2" stroke="#2a5a9a" stroke-width="1.4" />
<line x1="418.2" y1="634.2" x2="418.3" y2="637.2" stroke="#2a5a9a" stroke-width="1.4" />
<line x1="418.2" y1="634.2" x2="415.3" y2="634.8" stroke="#2a5a9a" stroke-width="1.4" />
<line x1="432.2" y1="630.2" x2="435.2" y2="632.8" stroke="#2a5a9a" stroke-width="1.4" />
<line x1="435.2" y1="632.8" x2="438.2" y2="632.7" stroke="#2a5a9a" stroke-width="1.4" />
<line x1="435.2" y1="632.8" x2="435.8" y2="635.7" stroke="#2a5a9a" stroke-width="1.4" />
<text x="442.2" y="626.5" font-size="6.9" fill="#222" font-weight="normal" text-anchor="start" >M1-like TAM</text>
<rect x="487.5" y="621.0" width="13.5" height="8.0" fill="#d83a28" stroke="#8a1a10" stroke-width="0.5" />
<text x="523.5" y="621.5" font-size="7.2" fill="#222" font-weight="normal" text-anchor="middle" >Vascular</text>
<text x="523.5" y="632.0" font-size="7.2" fill="#222" font-weight="normal" text-anchor="middle" >endothelial cell</text>
<circle cx="558.5" cy="625.0" r="7.5" fill="url(#cd8o)" stroke="none" stroke-width="1" />
<circle cx="558.5" cy="625.0" r="4.0" fill="#f8c040" stroke="none" stroke-width="1" />
<text x="571.4" y="628.0" font-size="7.2" fill="#222" font-weight="normal" text-anchor="start" >CD8⁺ T cell</text>
<path d="M611,615.5 L611,621 Q611,624.5 616,625.5 L616,633.6 M621,615.5 L621,621 Q621,624.5 616,625.5" fill="none" stroke="#a8a8a8" stroke-width="2.6" />
<text x="624.2" y="627.5" font-size="7.0" fill="#222" font-weight="normal" text-anchor="start" >SR-B1</text>
</svg>
</body></html>
